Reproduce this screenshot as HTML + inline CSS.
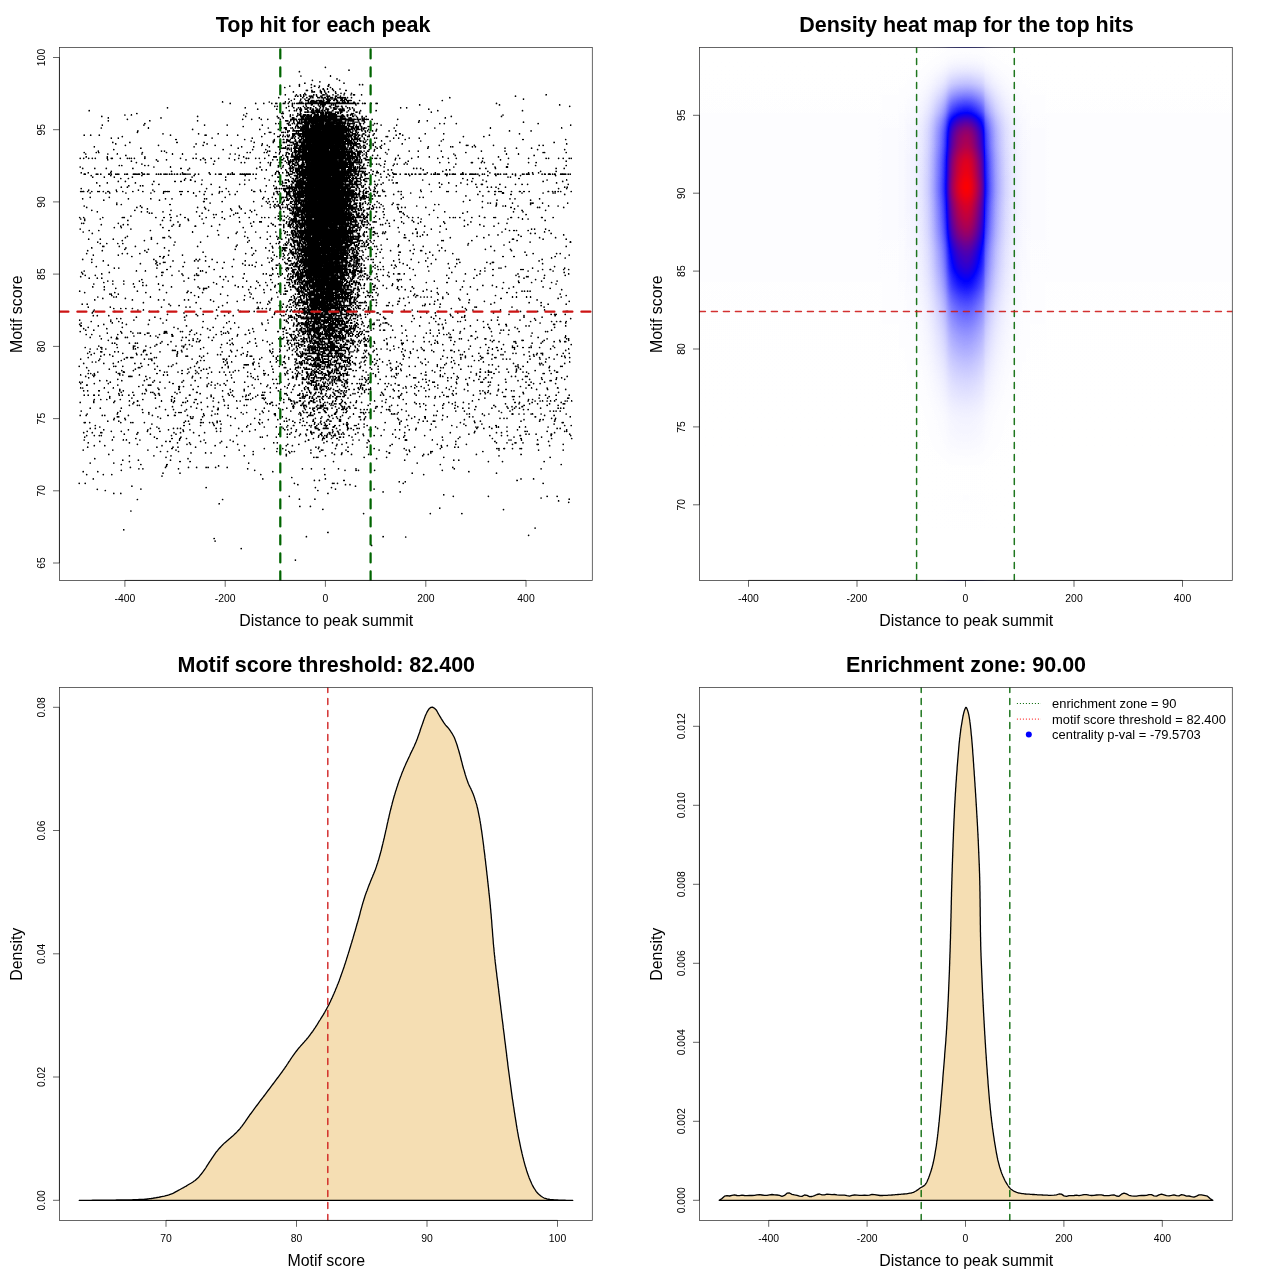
<!DOCTYPE html>
<html lang="en"><head><meta charset="utf-8"><title>Motif enrichment plots</title>
<style>html,body{margin:0;padding:0;background:#fff}svg{display:block}</style></head><body>
<svg width="1280" height="1280" viewBox="0 0 1280 1280">
<rect width="1280" height="1280" fill="#fff"/>
<defs><clipPath id="c00"><rect x="59.4" y="47.5" width="532.9" height="532.9"/></clipPath><clipPath id="c01"><rect x="59.4" y="687.5" width="532.9" height="532.9"/></clipPath><clipPath id="c10"><rect x="699.4" y="47.5" width="532.9" height="532.9"/></clipPath><clipPath id="c11"><rect x="699.4" y="687.5" width="532.9" height="532.9"/></clipPath><linearGradient id="gx" gradientUnits="userSpaceOnUse" x1="699.4" y1="0" x2="1232.3" y2="0"><stop offset="0.0000" stop-color="rgb(1,1,1)"/><stop offset="0.0751" stop-color="rgb(1,1,1)"/><stop offset="0.1501" stop-color="rgb(1,1,1)"/><stop offset="0.2252" stop-color="rgb(1,1,1)"/><stop offset="0.2553" stop-color="rgb(1,1,1)"/><stop offset="0.2666" stop-color="rgb(1,1,1)"/><stop offset="0.2778" stop-color="rgb(1,1,1)"/><stop offset="0.2891" stop-color="rgb(1,1,1)"/><stop offset="0.3002" stop-color="rgb(1,1,1)"/><stop offset="0.3003" stop-color="rgb(1,1,1)"/><stop offset="0.3116" stop-color="rgb(1,1,1)"/><stop offset="0.3229" stop-color="rgb(1,1,1)"/><stop offset="0.3341" stop-color="rgb(1,1,1)"/><stop offset="0.3454" stop-color="rgb(2,2,2)"/><stop offset="0.3566" stop-color="rgb(2,2,2)"/><stop offset="0.3679" stop-color="rgb(2,2,2)"/><stop offset="0.3716" stop-color="rgb(2,2,2)"/><stop offset="0.3753" stop-color="rgb(3,3,3)"/><stop offset="0.3754" stop-color="rgb(3,3,3)"/><stop offset="0.3792" stop-color="rgb(3,3,3)"/><stop offset="0.3829" stop-color="rgb(3,3,3)"/><stop offset="0.3867" stop-color="rgb(4,4,4)"/><stop offset="0.3904" stop-color="rgb(5,5,5)"/><stop offset="0.3942" stop-color="rgb(5,5,5)"/><stop offset="0.3979" stop-color="rgb(6,6,6)"/><stop offset="0.4017" stop-color="rgb(6,6,6)"/><stop offset="0.4054" stop-color="rgb(7,7,7)"/><stop offset="0.4092" stop-color="rgb(9,9,9)"/><stop offset="0.4129" stop-color="rgb(11,11,11)"/><stop offset="0.4167" stop-color="rgb(13,13,13)"/><stop offset="0.4204" stop-color="rgb(16,16,16)"/><stop offset="0.4242" stop-color="rgb(20,20,20)"/><stop offset="0.4279" stop-color="rgb(24,24,24)"/><stop offset="0.4317" stop-color="rgb(30,30,30)"/><stop offset="0.4354" stop-color="rgb(37,37,37)"/><stop offset="0.4392" stop-color="rgb(45,45,45)"/><stop offset="0.4430" stop-color="rgb(55,55,55)"/><stop offset="0.4467" stop-color="rgb(65,65,65)"/><stop offset="0.4504" stop-color="rgb(75,75,75)"/><stop offset="0.4505" stop-color="rgb(75,75,75)"/><stop offset="0.4542" stop-color="rgb(87,87,87)"/><stop offset="0.4580" stop-color="rgb(102,102,102)"/><stop offset="0.4617" stop-color="rgb(122,122,122)"/><stop offset="0.4655" stop-color="rgb(152,152,152)"/><stop offset="0.4692" stop-color="rgb(180,180,180)"/><stop offset="0.4730" stop-color="rgb(200,200,200)"/><stop offset="0.4767" stop-color="rgb(214,214,214)"/><stop offset="0.4805" stop-color="rgb(225,225,225)"/><stop offset="0.4842" stop-color="rgb(235,235,235)"/><stop offset="0.4880" stop-color="rgb(242,242,242)"/><stop offset="0.4917" stop-color="rgb(247,247,247)"/><stop offset="0.4955" stop-color="rgb(251,251,251)"/><stop offset="0.4992" stop-color="rgb(253,253,253)"/><stop offset="0.5030" stop-color="rgb(253,253,253)"/><stop offset="0.5068" stop-color="rgb(250,250,250)"/><stop offset="0.5105" stop-color="rgb(245,245,245)"/><stop offset="0.5143" stop-color="rgb(236,236,236)"/><stop offset="0.5180" stop-color="rgb(226,226,226)"/><stop offset="0.5218" stop-color="rgb(214,214,214)"/><stop offset="0.5254" stop-color="rgb(201,201,201)"/><stop offset="0.5255" stop-color="rgb(201,201,201)"/><stop offset="0.5293" stop-color="rgb(186,186,186)"/><stop offset="0.5330" stop-color="rgb(165,165,165)"/><stop offset="0.5368" stop-color="rgb(122,122,122)"/><stop offset="0.5405" stop-color="rgb(103,103,103)"/><stop offset="0.5443" stop-color="rgb(88,88,88)"/><stop offset="0.5480" stop-color="rgb(74,74,74)"/><stop offset="0.5518" stop-color="rgb(63,63,63)"/><stop offset="0.5555" stop-color="rgb(52,52,52)"/><stop offset="0.5593" stop-color="rgb(44,44,44)"/><stop offset="0.5631" stop-color="rgb(37,37,37)"/><stop offset="0.5668" stop-color="rgb(31,31,31)"/><stop offset="0.5706" stop-color="rgb(26,26,26)"/><stop offset="0.5743" stop-color="rgb(21,21,21)"/><stop offset="0.5781" stop-color="rgb(18,18,18)"/><stop offset="0.5818" stop-color="rgb(15,15,15)"/><stop offset="0.5856" stop-color="rgb(12,12,12)"/><stop offset="0.5893" stop-color="rgb(10,10,10)"/><stop offset="0.5931" stop-color="rgb(9,9,9)"/><stop offset="0.5968" stop-color="rgb(7,7,7)"/><stop offset="0.6005" stop-color="rgb(6,6,6)"/><stop offset="0.6006" stop-color="rgb(6,6,6)"/><stop offset="0.6043" stop-color="rgb(5,5,5)"/><stop offset="0.6081" stop-color="rgb(4,4,4)"/><stop offset="0.6118" stop-color="rgb(4,4,4)"/><stop offset="0.6156" stop-color="rgb(3,3,3)"/><stop offset="0.6193" stop-color="rgb(3,3,3)"/><stop offset="0.6231" stop-color="rgb(2,2,2)"/><stop offset="0.6269" stop-color="rgb(2,2,2)"/><stop offset="0.6306" stop-color="rgb(2,2,2)"/><stop offset="0.6344" stop-color="rgb(2,2,2)"/><stop offset="0.6456" stop-color="rgb(2,2,2)"/><stop offset="0.6569" stop-color="rgb(1,1,1)"/><stop offset="0.6681" stop-color="rgb(1,1,1)"/><stop offset="0.6755" stop-color="rgb(1,1,1)"/><stop offset="0.6794" stop-color="rgb(1,1,1)"/><stop offset="0.6907" stop-color="rgb(1,1,1)"/><stop offset="0.7019" stop-color="rgb(1,1,1)"/><stop offset="0.7132" stop-color="rgb(1,1,1)"/><stop offset="0.7244" stop-color="rgb(1,1,1)"/><stop offset="0.7357" stop-color="rgb(1,1,1)"/><stop offset="0.7506" stop-color="rgb(1,1,1)"/><stop offset="0.8257" stop-color="rgb(1,1,1)"/><stop offset="0.9007" stop-color="rgb(1,1,1)"/><stop offset="0.9758" stop-color="rgb(1,1,1)"/><stop offset="1.0000" stop-color="rgb(1,1,1)"/></linearGradient><linearGradient id="gy" gradientUnits="userSpaceOnUse" x1="0" y1="47.5" x2="0" y2="580.4"><stop offset="0.0000" stop-color="#000" stop-opacity="0.998"/><stop offset="0.0075" stop-color="#000" stop-opacity="0.996"/><stop offset="0.0150" stop-color="#000" stop-opacity="0.993"/><stop offset="0.0225" stop-color="#000" stop-opacity="0.988"/><stop offset="0.0300" stop-color="#000" stop-opacity="0.979"/><stop offset="0.0375" stop-color="#000" stop-opacity="0.967"/><stop offset="0.0450" stop-color="#000" stop-opacity="0.951"/><stop offset="0.0525" stop-color="#000" stop-opacity="0.929"/><stop offset="0.0600" stop-color="#000" stop-opacity="0.904"/><stop offset="0.0676" stop-color="#000" stop-opacity="0.877"/><stop offset="0.0751" stop-color="#000" stop-opacity="0.838"/><stop offset="0.0826" stop-color="#000" stop-opacity="0.793"/><stop offset="0.0901" stop-color="#000" stop-opacity="0.743"/><stop offset="0.0976" stop-color="#000" stop-opacity="0.688"/><stop offset="0.1051" stop-color="#000" stop-opacity="0.633"/><stop offset="0.1126" stop-color="#000" stop-opacity="0.576"/><stop offset="0.1201" stop-color="#000" stop-opacity="0.520"/><stop offset="0.1276" stop-color="#000" stop-opacity="0.444"/><stop offset="0.1351" stop-color="#000" stop-opacity="0.368"/><stop offset="0.1426" stop-color="#000" stop-opacity="0.306"/><stop offset="0.1501" stop-color="#000" stop-opacity="0.253"/><stop offset="0.1576" stop-color="#000" stop-opacity="0.213"/><stop offset="0.1651" stop-color="#000" stop-opacity="0.188"/><stop offset="0.1726" stop-color="#000" stop-opacity="0.171"/><stop offset="0.1801" stop-color="#000" stop-opacity="0.159"/><stop offset="0.1877" stop-color="#000" stop-opacity="0.141"/><stop offset="0.1952" stop-color="#000" stop-opacity="0.116"/><stop offset="0.2027" stop-color="#000" stop-opacity="0.090"/><stop offset="0.2102" stop-color="#000" stop-opacity="0.068"/><stop offset="0.2177" stop-color="#000" stop-opacity="0.054"/><stop offset="0.2252" stop-color="#000" stop-opacity="0.044"/><stop offset="0.2327" stop-color="#000" stop-opacity="0.036"/><stop offset="0.2402" stop-color="#000" stop-opacity="0.026"/><stop offset="0.2477" stop-color="#000" stop-opacity="0.014"/><stop offset="0.2552" stop-color="#000" stop-opacity="0.003"/><stop offset="0.2627" stop-color="#000" stop-opacity="0.000"/><stop offset="0.2702" stop-color="#000" stop-opacity="0.006"/><stop offset="0.2777" stop-color="#000" stop-opacity="0.020"/><stop offset="0.2852" stop-color="#000" stop-opacity="0.041"/><stop offset="0.2927" stop-color="#000" stop-opacity="0.062"/><stop offset="0.3002" stop-color="#000" stop-opacity="0.080"/><stop offset="0.3078" stop-color="#000" stop-opacity="0.096"/><stop offset="0.3153" stop-color="#000" stop-opacity="0.111"/><stop offset="0.3228" stop-color="#000" stop-opacity="0.127"/><stop offset="0.3303" stop-color="#000" stop-opacity="0.145"/><stop offset="0.3378" stop-color="#000" stop-opacity="0.164"/><stop offset="0.3453" stop-color="#000" stop-opacity="0.187"/><stop offset="0.3528" stop-color="#000" stop-opacity="0.213"/><stop offset="0.3603" stop-color="#000" stop-opacity="0.243"/><stop offset="0.3678" stop-color="#000" stop-opacity="0.276"/><stop offset="0.3753" stop-color="#000" stop-opacity="0.306"/><stop offset="0.3828" stop-color="#000" stop-opacity="0.332"/><stop offset="0.3903" stop-color="#000" stop-opacity="0.353"/><stop offset="0.3978" stop-color="#000" stop-opacity="0.371"/><stop offset="0.4053" stop-color="#000" stop-opacity="0.390"/><stop offset="0.4128" stop-color="#000" stop-opacity="0.410"/><stop offset="0.4203" stop-color="#000" stop-opacity="0.434"/><stop offset="0.4278" stop-color="#000" stop-opacity="0.461"/><stop offset="0.4354" stop-color="#000" stop-opacity="0.487"/><stop offset="0.4429" stop-color="#000" stop-opacity="0.511"/><stop offset="0.4504" stop-color="#000" stop-opacity="0.537"/><stop offset="0.4579" stop-color="#000" stop-opacity="0.568"/><stop offset="0.4654" stop-color="#000" stop-opacity="0.598"/><stop offset="0.4729" stop-color="#000" stop-opacity="0.624"/><stop offset="0.4804" stop-color="#000" stop-opacity="0.649"/><stop offset="0.4879" stop-color="#000" stop-opacity="0.672"/><stop offset="0.4954" stop-color="#000" stop-opacity="0.692"/><stop offset="0.5029" stop-color="#000" stop-opacity="0.711"/><stop offset="0.5104" stop-color="#000" stop-opacity="0.729"/><stop offset="0.5179" stop-color="#000" stop-opacity="0.746"/><stop offset="0.5254" stop-color="#000" stop-opacity="0.763"/><stop offset="0.5329" stop-color="#000" stop-opacity="0.779"/><stop offset="0.5404" stop-color="#000" stop-opacity="0.794"/><stop offset="0.5479" stop-color="#000" stop-opacity="0.807"/><stop offset="0.5555" stop-color="#000" stop-opacity="0.820"/><stop offset="0.5630" stop-color="#000" stop-opacity="0.832"/><stop offset="0.5705" stop-color="#000" stop-opacity="0.844"/><stop offset="0.5780" stop-color="#000" stop-opacity="0.856"/><stop offset="0.5855" stop-color="#000" stop-opacity="0.868"/><stop offset="0.5930" stop-color="#000" stop-opacity="0.879"/><stop offset="0.6005" stop-color="#000" stop-opacity="0.889"/><stop offset="0.6080" stop-color="#000" stop-opacity="0.899"/><stop offset="0.6155" stop-color="#000" stop-opacity="0.908"/><stop offset="0.6230" stop-color="#000" stop-opacity="0.917"/><stop offset="0.6305" stop-color="#000" stop-opacity="0.925"/><stop offset="0.6380" stop-color="#000" stop-opacity="0.932"/><stop offset="0.6455" stop-color="#000" stop-opacity="0.939"/><stop offset="0.6530" stop-color="#000" stop-opacity="0.945"/><stop offset="0.6605" stop-color="#000" stop-opacity="0.952"/><stop offset="0.6680" stop-color="#000" stop-opacity="0.958"/><stop offset="0.6755" stop-color="#000" stop-opacity="0.964"/><stop offset="0.6831" stop-color="#000" stop-opacity="0.969"/><stop offset="0.6906" stop-color="#000" stop-opacity="0.973"/><stop offset="0.6981" stop-color="#000" stop-opacity="0.976"/><stop offset="0.7056" stop-color="#000" stop-opacity="0.978"/><stop offset="0.7131" stop-color="#000" stop-opacity="0.980"/><stop offset="0.7206" stop-color="#000" stop-opacity="0.981"/><stop offset="0.7281" stop-color="#000" stop-opacity="0.983"/><stop offset="0.7356" stop-color="#000" stop-opacity="0.985"/><stop offset="0.7431" stop-color="#000" stop-opacity="0.987"/><stop offset="0.7506" stop-color="#000" stop-opacity="0.989"/><stop offset="0.7581" stop-color="#000" stop-opacity="0.992"/><stop offset="0.7656" stop-color="#000" stop-opacity="0.994"/><stop offset="0.7731" stop-color="#000" stop-opacity="0.996"/><stop offset="0.7806" stop-color="#000" stop-opacity="0.997"/><stop offset="0.7881" stop-color="#000" stop-opacity="0.999"/><stop offset="0.7956" stop-color="#000" stop-opacity="0.999"/><stop offset="0.8032" stop-color="#000" stop-opacity="0.999"/><stop offset="0.8107" stop-color="#000" stop-opacity="0.999"/><stop offset="0.8182" stop-color="#000" stop-opacity="0.999"/><stop offset="0.8257" stop-color="#000" stop-opacity="0.999"/><stop offset="0.8332" stop-color="#000" stop-opacity="0.999"/><stop offset="0.8407" stop-color="#000" stop-opacity="0.998"/><stop offset="0.8482" stop-color="#000" stop-opacity="0.998"/><stop offset="0.8557" stop-color="#000" stop-opacity="0.999"/><stop offset="0.8632" stop-color="#000" stop-opacity="0.999"/><stop offset="0.8707" stop-color="#000" stop-opacity="0.998"/><stop offset="0.8782" stop-color="#000" stop-opacity="0.999"/><stop offset="0.8857" stop-color="#000" stop-opacity="0.999"/><stop offset="0.8932" stop-color="#000" stop-opacity="0.999"/><stop offset="0.9007" stop-color="#000" stop-opacity="0.999"/><stop offset="0.9082" stop-color="#000" stop-opacity="1.000"/><stop offset="0.9157" stop-color="#000" stop-opacity="1.000"/><stop offset="0.9233" stop-color="#000" stop-opacity="1.000"/><stop offset="0.9308" stop-color="#000" stop-opacity="1.000"/><stop offset="0.9383" stop-color="#000" stop-opacity="1.000"/><stop offset="0.9458" stop-color="#000" stop-opacity="1.000"/><stop offset="0.9533" stop-color="#000" stop-opacity="1.000"/><stop offset="0.9608" stop-color="#000" stop-opacity="1.000"/><stop offset="0.9683" stop-color="#000" stop-opacity="1.000"/><stop offset="0.9758" stop-color="#000" stop-opacity="1.000"/><stop offset="0.9833" stop-color="#000" stop-opacity="1.000"/><stop offset="0.9908" stop-color="#000" stop-opacity="1.000"/><stop offset="0.9983" stop-color="#000" stop-opacity="1.000"/></linearGradient><filter id="ramp" filterUnits="userSpaceOnUse" x="699.4" y="47.5" width="532.9" height="532.9" color-interpolation-filters="sRGB"><feComponentTransfer><feFuncR type="table" tableValues="1 0 1"/><feFuncG type="table" tableValues="1 0 0"/><feFuncB type="table" tableValues="1 1 0"/></feComponentTransfer></filter></defs>
<g clip-path="url(#c00)"><path d="M325 67.5h1M299 71.5h1M330 75.5h1M330 76.5h1M312 80.5h1M339 80.5h1M304 83.5h1M299 84.5h1M311 84.5h1M328 84.5h1M359 84.5h1M362 84.5h1M299 85.5h1M299 86.5h1M314 86.5h1M319 86.5h1M328 86.5h1M284 87.5h1M311 87.5h1M318 87.5h1M330 87.5h1M323 88.5h1M327 88.5h1M332 88.5h1M323 89.5h1M327 89.5h1M332 89.5h1M306 90.5h2M311 90.5h1M320 90.5h1M324 90.5h1M333 90.5h1M345 90.5h2M293 91.5h1M312 91.5h1M314 91.5h1M320 91.5h2M324 91.5h1M328 91.5h1M335 91.5h1M321 92.5h1M304 93.5h1M321 93.5h1M325 93.5h1M335 93.5h1M344 93.5h1M351 93.5h1M285 94.5h1M296 94.5h1M300 94.5h1M303 94.5h1M305 94.5h1M313 94.5h1M316 94.5h1M323 94.5h1M353 94.5h2M361 94.5h1M546 94.5h1M300 95.5h1M303 95.5h1M316 95.5h1M295 96.5h1M297 96.5h1M300 96.5h1M303 96.5h1M309 96.5h1M311 96.5h1M321 96.5h1M327 96.5h1M329 96.5h1M335 96.5h2M340 96.5h1M515 96.5h1M278 97.5h1M302 97.5h1M306 97.5h1M310 97.5h1M312 97.5h1M317 97.5h3M321 97.5h2M324 97.5h2M327 97.5h1M330 97.5h3M335 97.5h1M337 97.5h4M342 97.5h4M347 97.5h1M351 97.5h1M449 97.5h1M335 98.5h1M340 98.5h1M342 98.5h1M294 99.5h1M300 99.5h1M308 99.5h2M323 99.5h1M326 99.5h4M334 99.5h3M341 99.5h2M344 99.5h3M523 99.5h1M291 100.5h1M300 100.5h1M305 100.5h4M311 100.5h3M316 100.5h6M323 100.5h1M327 100.5h4M333 100.5h2M336 100.5h2M340 100.5h5M346 100.5h6M359 100.5h1M442 100.5h1M222 101.5h1M285 101.5h1M289 101.5h1M308 101.5h1M310 101.5h7M319 101.5h5M326 101.5h4M337 101.5h1M342 101.5h1M344 101.5h1M347 101.5h2M299 102.5h1M301 102.5h1M308 102.5h1M310 102.5h7M319 102.5h11M336 102.5h4M342 102.5h4M347 102.5h2M353 102.5h2M230 103.5h1M255 103.5h1M263 103.5h1M271 103.5h1M275 103.5h2M283 103.5h2M288 103.5h1M292 103.5h1M294 103.5h1M296 103.5h8M305 103.5h51M357 103.5h2M362 103.5h1M364 103.5h2M371 103.5h1M376 103.5h2M496 103.5h1M292 104.5h1M305 104.5h1M311 104.5h2M318 104.5h1M320 104.5h6M331 104.5h1M333 104.5h1M335 104.5h1M355 104.5h1M419 104.5h1M499 104.5h1M559 104.5h1M292 105.5h1M322 105.5h2M335 105.5h1M274 106.5h1M277 106.5h1M288 106.5h1M292 106.5h1M303 106.5h1M306 106.5h1M313 106.5h1M319 106.5h1M322 106.5h2M329 106.5h2M335 106.5h1M338 106.5h1M341 106.5h1M569 106.5h1M167 107.5h1M245 107.5h1M286 107.5h1M293 107.5h1M298 107.5h1M300 107.5h1M304 107.5h1M307 107.5h2M310 107.5h1M315 107.5h1M320 107.5h1M323 107.5h1M333 107.5h2M342 107.5h1M347 107.5h1M349 107.5h1M352 107.5h1M400 107.5h1M406 107.5h1M300 108.5h1M310 108.5h1M334 108.5h1M342 108.5h1M257 109.5h1M276 109.5h1M296 109.5h1M299 109.5h3M305 109.5h2M310 109.5h1M312 109.5h2M316 109.5h2M319 109.5h1M326 109.5h3M334 109.5h2M339 109.5h2M342 109.5h2M428 109.5h1M89 110.5h1M289 110.5h1M294 110.5h1M296 110.5h1M300 110.5h2M307 110.5h1M311 110.5h3M315 110.5h5M321 110.5h2M324 110.5h1M327 110.5h1M332 110.5h1M339 110.5h3M343 110.5h2M348 110.5h1M354 110.5h1M360 110.5h1M376 110.5h1M437 110.5h1M522 110.5h1M300 111.5h1M313 111.5h1M316 111.5h4M322 111.5h1M327 111.5h1M341 111.5h1M300 112.5h1M305 112.5h1M307 112.5h1M311 112.5h4M316 112.5h8M325 112.5h7M335 112.5h1M337 112.5h2M340 112.5h2M356 112.5h1M359 112.5h1M431 112.5h1M136 113.5h1M246 113.5h1M281 113.5h3M297 113.5h1M300 113.5h1M312 113.5h3M317 113.5h1M320 113.5h4M325 113.5h11M337 113.5h2M340 113.5h1M351 113.5h3M359 113.5h1M131 114.5h1M290 114.5h1M299 114.5h2M303 114.5h3M307 114.5h2M311 114.5h1M314 114.5h5M321 114.5h3M325 114.5h2M328 114.5h9M342 114.5h1M347 114.5h1M350 114.5h3M290 115.5h1M297 115.5h1M300 115.5h1M303 115.5h3M307 115.5h2M310 115.5h2M314 115.5h5M320 115.5h7M328 115.5h9M341 115.5h3M347 115.5h1M350 115.5h1M352 115.5h1M101 116.5h1M197 116.5h1M245 116.5h1M277 116.5h1M282 116.5h1M290 116.5h1M296 116.5h1M300 116.5h5M306 116.5h6M313 116.5h32M347 116.5h1M352 116.5h2M356 116.5h1M362 116.5h1M366 116.5h1M451 116.5h1M501 116.5h1M108 117.5h1M259 117.5h1M278 117.5h1M283 117.5h1M292 117.5h2M301 117.5h3M305 117.5h1M307 117.5h2M310 117.5h20M331 117.5h6M340 117.5h1M342 117.5h1M350 117.5h1M357 117.5h1M445 117.5h1M292 118.5h2M301 118.5h3M305 118.5h22M328 118.5h9M340 118.5h6M349 118.5h3M357 118.5h1M362 118.5h1M364 118.5h1M127 119.5h1M242 119.5h1M251 119.5h1M261 119.5h1M267 119.5h1M280 119.5h1M290 119.5h7M298 119.5h58M357 119.5h4M362 119.5h7M372 119.5h1M397 119.5h1M108 120.5h1M149 120.5h1M197 120.5h1M285 120.5h3M290 120.5h1M293 120.5h1M296 120.5h1M299 120.5h1M301 120.5h1M304 120.5h3M308 120.5h22M333 120.5h4M339 120.5h3M345 120.5h1M348 120.5h1M350 120.5h2M353 120.5h1M358 120.5h1M363 120.5h1M419 120.5h1M427 120.5h1M293 121.5h1M299 121.5h1M301 121.5h1M304 121.5h3M308 121.5h16M325 121.5h5M333 121.5h2M336 121.5h1M339 121.5h3M345 121.5h1M353 121.5h1M364 121.5h1M289 122.5h1M293 122.5h1M297 122.5h3M301 122.5h8M310 122.5h8M319 122.5h5M326 122.5h9M336 122.5h7M344 122.5h2M364 122.5h1M418 122.5h1M523 122.5h1M144 123.5h1M275 123.5h1M278 123.5h1M287 123.5h2M292 123.5h1M294 123.5h1M297 123.5h5M304 123.5h6M311 123.5h13M325 123.5h16M342 123.5h4M347 123.5h8M359 123.5h2M363 123.5h1M374 123.5h1M377 123.5h1M439 123.5h1M444 123.5h1M456 123.5h1M538 123.5h1M288 124.5h1M297 124.5h1M305 124.5h4M312 124.5h2M315 124.5h9M325 124.5h9M336 124.5h5M342 124.5h1M344 124.5h1M347 124.5h1M349 124.5h1M360 124.5h1M102 125.5h1M204 125.5h1M262 125.5h1M290 125.5h1M296 125.5h2M303 125.5h6M310 125.5h35M347 125.5h3M353 125.5h1M356 125.5h1M360 125.5h1M370 125.5h1M396 125.5h1M570 125.5h1M243 126.5h1M295 126.5h1M297 126.5h2M300 126.5h1M302 126.5h7M310 126.5h37M348 126.5h6M355 126.5h4M361 126.5h1M368 126.5h2M148 127.5h1M281 127.5h1M284 127.5h3M292 127.5h1M295 127.5h1M298 127.5h2M301 127.5h8M311 127.5h36M348 127.5h1M351 127.5h3M355 127.5h4M361 127.5h1M364 127.5h1M490 127.5h1M561 127.5h1M148 128.5h1M285 128.5h2M301 128.5h8M310 128.5h39M351 128.5h4M356 128.5h3M361 128.5h1M363 128.5h2M490 128.5h1M192 129.5h1M259 129.5h1M278 129.5h1M285 129.5h2M293 129.5h1M300 129.5h53M354 129.5h1M356 129.5h4M361 129.5h1M363 129.5h1M368 129.5h1M376 129.5h1M289 130.5h1M294 130.5h1M296 130.5h8M305 130.5h16M322 130.5h21M344 130.5h6M355 130.5h2M361 130.5h1M367 130.5h1M372 130.5h1M376 130.5h1M395 130.5h1M509 130.5h1M137 131.5h1M287 131.5h1M296 131.5h1M298 131.5h1M302 131.5h42M345 131.5h2M348 131.5h1M350 131.5h1M365 131.5h1M137 132.5h1M269 132.5h2M281 132.5h3M285 132.5h1M287 132.5h1M296 132.5h1M298 132.5h1M302 132.5h42M345 132.5h2M348 132.5h1M350 132.5h3M356 132.5h1M358 132.5h1M365 132.5h1M369 132.5h1M198 133.5h1M218 133.5h1M264 133.5h1M274 133.5h1M292 133.5h52M346 133.5h2M349 133.5h1M352 133.5h4M357 133.5h1M363 133.5h1M374 133.5h1M399 133.5h2M425 133.5h1M443 133.5h1M519 133.5h1M292 134.5h3M298 134.5h3M302 134.5h42M347 134.5h1M349 134.5h1M352 134.5h1M355 134.5h1M84 135.5h1M90 135.5h1M99 135.5h1M170 135.5h1M205 135.5h1M227 135.5h1M237 135.5h1M280 135.5h1M283 135.5h1M287 135.5h1M289 135.5h1M292 135.5h3M298 135.5h3M302 135.5h44M347 135.5h6M355 135.5h2M358 135.5h2M365 135.5h1M396 135.5h1M402 135.5h1M489 135.5h1M122 136.5h1M261 136.5h1M277 136.5h3M282 136.5h1M285 136.5h1M287 136.5h2M292 136.5h2M295 136.5h1M299 136.5h53M354 136.5h2M358 136.5h1M362 136.5h1M367 136.5h3M386 136.5h2M463 136.5h1M483 136.5h1M292 137.5h1M301 137.5h1M303 137.5h1M305 137.5h42M348 137.5h1M351 137.5h1M354 137.5h2M111 138.5h1M118 138.5h1M252 138.5h1M291 138.5h2M294 138.5h1M298 138.5h1M301 138.5h3M305 138.5h43M351 138.5h2M354 138.5h4M359 138.5h1M364 138.5h1M374 138.5h1M376 138.5h1M393 138.5h1M398 138.5h1M419 138.5h1M175 139.5h2M244 139.5h1M274 139.5h1M283 139.5h1M286 139.5h2M290 139.5h1M295 139.5h1M299 139.5h3M303 139.5h47M351 139.5h9M364 139.5h1M367 139.5h1M405 139.5h1M443 139.5h1M522 139.5h2M565 139.5h1M274 140.5h1M287 140.5h3M295 140.5h1M299 140.5h2M303 140.5h41M345 140.5h7M353 140.5h1M357 140.5h1M359 140.5h2M381 140.5h1M273 141.5h1M286 141.5h1M288 141.5h2M295 141.5h1M299 141.5h2M303 141.5h49M354 141.5h1M357 141.5h1M360 141.5h1M363 141.5h1M370 141.5h1M112 142.5h1M129 142.5h1M176 142.5h2M204 142.5h1M254 142.5h1M273 142.5h1M279 142.5h1M283 142.5h2M286 142.5h1M290 142.5h4M296 142.5h2M299 142.5h47M347 142.5h6M354 142.5h3M363 142.5h3M370 142.5h1M375 142.5h1M459 142.5h1M554 142.5h1M115 143.5h1M262 143.5h1M293 143.5h1M295 143.5h3M301 143.5h4M306 143.5h5M312 143.5h32M345 143.5h6M353 143.5h1M355 143.5h1M357 143.5h3M370 143.5h1M384 143.5h1M402 143.5h1M566 143.5h1M294 144.5h1M296 144.5h2M301 144.5h3M306 144.5h15M322 144.5h12M335 144.5h6M342 144.5h3M348 144.5h1M350 144.5h1M353 144.5h1M355 144.5h2M125 145.5h1M158 145.5h1M203 145.5h1M215 145.5h1M231 145.5h1M261 145.5h1M267 145.5h1M281 145.5h1M287 145.5h3M291 145.5h1M294 145.5h1M296 145.5h3M300 145.5h41M342 145.5h3M348 145.5h1M350 145.5h2M353 145.5h4M360 145.5h1M363 145.5h2M369 145.5h1M373 145.5h1M381 145.5h1M439 145.5h1M466 145.5h2M474 145.5h1M493 145.5h1M539 145.5h1M543 145.5h1M94 146.5h1M241 146.5h1M253 146.5h1M269 146.5h1M278 146.5h2M285 146.5h1M294 146.5h3M299 146.5h47M352 146.5h2M357 146.5h1M365 146.5h1M375 146.5h1M380 146.5h1M428 146.5h1M450 146.5h1M452 146.5h1M472 146.5h1M475 146.5h1M285 147.5h1M294 147.5h3M299 147.5h2M302 147.5h37M340 147.5h6M352 147.5h2M365 147.5h1M140 148.5h1M238 148.5h1M281 148.5h5M287 148.5h2M291 148.5h1M293 148.5h8M302 148.5h37M340 148.5h7M349 148.5h1M351 148.5h3M358 148.5h1M360 148.5h1M364 148.5h1M377 148.5h1M381 148.5h1M427 148.5h1M516 148.5h1M531 148.5h1M113 149.5h1M223 149.5h1M252 149.5h1M265 149.5h1M279 149.5h1M287 149.5h1M289 149.5h1M291 149.5h1M294 149.5h2M298 149.5h31M330 149.5h18M349 149.5h1M351 149.5h1M354 149.5h1M356 149.5h1M369 149.5h1M374 149.5h1M388 149.5h1M537 149.5h1M564 149.5h1M291 150.5h1M294 150.5h3M298 150.5h3M302 150.5h5M308 150.5h21M330 150.5h10M341 150.5h4M346 150.5h1M351 150.5h1M356 150.5h1M374 150.5h1M98 151.5h1M161 151.5h1M164 151.5h1M267 151.5h1M269 151.5h1M280 151.5h1M291 151.5h1M294 151.5h13M308 151.5h45M357 151.5h5M367 151.5h2M418 151.5h1M441 151.5h1M481 151.5h1M84 152.5h1M96 152.5h1M98 152.5h1M142 152.5h1M166 152.5h1M247 152.5h1M250 152.5h1M264 152.5h1M266 152.5h1M275 152.5h1M279 152.5h1M286 152.5h2M292 152.5h1M294 152.5h3M298 152.5h57M357 152.5h4M362 152.5h1M366 152.5h1M385 152.5h1M465 152.5h1M543 152.5h2M566 152.5h1M117 153.5h1M172 153.5h1M182 153.5h1M279 153.5h1M286 153.5h1M288 153.5h2M292 153.5h1M295 153.5h1M298 153.5h2M302 153.5h44M347 153.5h3M351 153.5h5M357 153.5h3M366 153.5h1M506 153.5h1M518 153.5h1M172 154.5h1M182 154.5h1M292 154.5h1M295 154.5h1M297 154.5h2M302 154.5h48M351 154.5h2M354 154.5h2M357 154.5h3M366 154.5h1M506 154.5h1M518 154.5h1M125 155.5h1M239 155.5h1M268 155.5h1M282 155.5h1M285 155.5h1M291 155.5h2M295 155.5h3M299 155.5h54M355 155.5h1M357 155.5h3M362 155.5h1M366 155.5h1M372 155.5h1M377 155.5h1M398 155.5h1M455 155.5h1M534 155.5h1M86 156.5h1M107 156.5h1M243 156.5h1M273 156.5h4M281 156.5h1M287 156.5h1M291 156.5h2M294 156.5h2M297 156.5h49M347 156.5h4M352 156.5h5M359 156.5h1M366 156.5h1M418 156.5h1M429 156.5h1M442 156.5h1M498 156.5h1M107 157.5h1M287 157.5h1M294 157.5h6M301 157.5h5M307 157.5h3M311 157.5h34M347 157.5h4M352 157.5h2M356 157.5h2M80 158.5h1M83 158.5h1M88 158.5h1M92 158.5h1M95 158.5h1M107 158.5h1M111 158.5h2M120 158.5h1M127 158.5h1M129 158.5h1M131 158.5h1M134 158.5h1M144 158.5h1M180 158.5h1M193 158.5h1M196 158.5h1M203 158.5h1M211 158.5h1M218 158.5h1M229 158.5h1M238 158.5h1M246 158.5h1M248 158.5h1M255 158.5h1M259 158.5h1M264 158.5h1M283 158.5h1M287 158.5h1M294 158.5h6M301 158.5h44M346 158.5h9M356 158.5h2M360 158.5h1M364 158.5h2M372 158.5h1M375 158.5h2M380 158.5h1M395 158.5h1M399 158.5h1M411 158.5h1M437 158.5h1M448 158.5h1M456 158.5h1M478 158.5h1M482 158.5h1M508 158.5h1M528 158.5h1M546 158.5h1M548 158.5h1M558 158.5h1M563 158.5h1M569 158.5h1M571 158.5h1M107 159.5h1M156 159.5h1M166 159.5h1M200 159.5h1M205 159.5h1M234 159.5h1M272 159.5h1M277 159.5h1M281 159.5h2M287 159.5h1M290 159.5h1M292 159.5h45M339 159.5h4M345 159.5h6M352 159.5h1M355 159.5h3M359 159.5h1M361 159.5h1M365 159.5h5M395 159.5h1M500 159.5h1M290 160.5h1M292 160.5h2M296 160.5h1M298 160.5h1M302 160.5h1M305 160.5h32M339 160.5h4M345 160.5h1M348 160.5h3M355 160.5h2M359 160.5h1M361 160.5h1M131 161.5h1M214 161.5h1M285 161.5h1M288 161.5h6M296 161.5h1M298 161.5h1M302 161.5h1M305 161.5h5M311 161.5h27M339 161.5h7M348 161.5h3M354 161.5h1M359 161.5h1M361 161.5h1M385 161.5h1M408 161.5h1M482 161.5h1M566 161.5h1M136 162.5h1M205 162.5h1M241 162.5h1M244 162.5h1M260 162.5h1M268 162.5h1M270 162.5h1M279 162.5h1M281 162.5h1M286 162.5h1M288 162.5h3M292 162.5h1M295 162.5h3M302 162.5h2M305 162.5h57M368 162.5h1M370 162.5h1M405 162.5h1M439 162.5h1M448 162.5h1M471 162.5h2M481 162.5h1M484 162.5h1M528 162.5h1M536 162.5h1M270 163.5h1M288 163.5h2M292 163.5h2M297 163.5h1M302 163.5h2M306 163.5h42M349 163.5h5M370 163.5h1M213 164.5h1M270 164.5h1M288 164.5h2M292 164.5h3M297 164.5h2M301 164.5h4M306 164.5h48M359 164.5h1M363 164.5h1M370 164.5h1M376 164.5h1M384 164.5h1M119 165.5h1M121 165.5h1M144 165.5h1M148 165.5h1M270 165.5h1M278 165.5h1M283 165.5h1M289 165.5h1M291 165.5h1M294 165.5h3M298 165.5h6M306 165.5h42M349 165.5h5M360 165.5h1M363 165.5h1M367 165.5h1M370 165.5h1M380 165.5h1M393 165.5h1M535 165.5h1M566 165.5h1M170 166.5h1M278 166.5h1M290 166.5h1M292 166.5h1M298 166.5h54M353 166.5h1M355 166.5h1M357 166.5h1M359 166.5h1M362 166.5h1M506 166.5h2M170 167.5h1M290 167.5h1M292 167.5h2M298 167.5h1M300 167.5h3M304 167.5h48M353 167.5h3M357 167.5h1M359 167.5h1M362 167.5h1M495 167.5h1M506 167.5h2M82 168.5h1M94 168.5h1M106 168.5h1M132 168.5h1M180 168.5h2M189 168.5h1M256 168.5h1M281 168.5h1M289 168.5h4M295 168.5h8M305 168.5h41M348 168.5h4M353 168.5h3M357 168.5h1M359 168.5h7M413 168.5h1M416 168.5h1M420 168.5h1M479 168.5h1M485 168.5h1M495 168.5h1M556 168.5h1M564 168.5h1M261 169.5h1M266 169.5h1M285 169.5h1M290 169.5h1M293 169.5h1M295 169.5h5M302 169.5h1M304 169.5h35M341 169.5h5M347 169.5h6M354 169.5h3M359 169.5h1M391 169.5h1M423 169.5h1M446 169.5h1M449 169.5h1M290 170.5h1M295 170.5h5M301 170.5h5M307 170.5h32M341 170.5h2M344 170.5h2M348 170.5h3M353 170.5h2M359 170.5h1M111 171.5h1M171 171.5h1M276 171.5h3M286 171.5h1M290 171.5h3M295 171.5h48M344 171.5h3M348 171.5h9M358 171.5h6M365 171.5h1M373 171.5h1M377 171.5h1M384 171.5h1M442 171.5h1M487 171.5h1M540 171.5h1M556 171.5h1M81 172.5h1M88 172.5h1M110 172.5h1M141 172.5h1M182 172.5h1M209 172.5h1M232 172.5h1M275 172.5h1M278 172.5h2M282 172.5h1M286 172.5h3M292 172.5h3M296 172.5h2M299 172.5h52M355 172.5h1M358 172.5h1M362 172.5h1M364 172.5h1M369 172.5h1M376 172.5h3M392 172.5h1M427 172.5h1M435 172.5h1M462 172.5h1M528 172.5h1M532 172.5h1M538 172.5h1M232 173.5h1M275 173.5h1M279 173.5h1M288 173.5h1M297 173.5h1M299 173.5h47M347 173.5h2M350 173.5h1M355 173.5h1M358 173.5h1M364 173.5h1M435 173.5h1M462 173.5h1M528 173.5h1M84 174.5h2M96 174.5h2M100 174.5h1M108 174.5h2M111 174.5h1M115 174.5h4M124 174.5h1M126 174.5h2M133 174.5h7M144 174.5h1M147 174.5h1M156 174.5h1M158 174.5h1M160 174.5h1M165 174.5h1M169 174.5h1M171 174.5h1M174 174.5h1M177 174.5h1M180 174.5h1M183 174.5h3M198 174.5h1M210 174.5h1M215 174.5h1M219 174.5h3M227 174.5h2M230 174.5h1M232 174.5h3M240 174.5h11M253 174.5h1M256 174.5h1M275 174.5h1M279 174.5h1M288 174.5h4M297 174.5h49M347 174.5h2M350 174.5h3M355 174.5h1M357 174.5h2M364 174.5h3M372 174.5h1M380 174.5h1M388 174.5h1M393 174.5h4M400 174.5h1M405 174.5h2M408 174.5h1M411 174.5h2M415 174.5h1M419 174.5h2M424 174.5h2M431 174.5h1M433 174.5h3M437 174.5h3M445 174.5h3M449 174.5h1M452 174.5h4M460 174.5h4M465 174.5h1M469 174.5h5M475 174.5h1M482 174.5h1M484 174.5h1M495 174.5h1M497 174.5h2M500 174.5h1M506 174.5h1M512 174.5h1M515 174.5h1M522 174.5h1M526 174.5h3M544 174.5h2M548 174.5h3M552 174.5h1M554 174.5h2M560 174.5h6M568 174.5h1M570 174.5h1M91 175.5h1M110 175.5h1M141 175.5h1M194 175.5h1M245 175.5h1M272 175.5h1M286 175.5h2M289 175.5h1M294 175.5h4M299 175.5h56M357 175.5h2M361 175.5h1M365 175.5h1M375 175.5h1M389 175.5h1M409 175.5h1M446 175.5h1M479 175.5h1M487 175.5h1M495 175.5h1M515 175.5h1M520 175.5h1M555 175.5h1M296 176.5h2M299 176.5h1M302 176.5h4M307 176.5h24M332 176.5h13M346 176.5h1M348 176.5h2M92 177.5h1M104 177.5h1M114 177.5h1M132 177.5h1M225 177.5h1M278 177.5h1M296 177.5h2M299 177.5h1M302 177.5h49M352 177.5h2M355 177.5h2M360 177.5h1M386 177.5h1M510 177.5h1M120 178.5h1M128 178.5h1M185 178.5h1M255 178.5h1M264 178.5h1M292 178.5h2M295 178.5h3M300 178.5h50M351 178.5h10M365 178.5h4M462 178.5h1M472 178.5h1M518 178.5h2M184 179.5h1M190 179.5h1M225 179.5h1M285 179.5h1M288 179.5h1M293 179.5h1M295 179.5h1M299 179.5h2M302 179.5h2M306 179.5h42M349 179.5h2M352 179.5h2M356 179.5h1M360 179.5h1M363 179.5h2M467 179.5h1M566 179.5h1M184 180.5h1M190 180.5h1M288 180.5h1M294 180.5h2M297 180.5h5M303 180.5h1M306 180.5h42M349 180.5h4M356 180.5h2M363 180.5h2M118 181.5h1M125 181.5h1M153 181.5h1M174 181.5h2M180 181.5h2M195 181.5h1M275 181.5h1M278 181.5h1M282 181.5h1M288 181.5h2M291 181.5h2M294 181.5h12M307 181.5h46M355 181.5h6M365 181.5h2M374 181.5h1M471 181.5h1M486 181.5h1M543 181.5h1M562 181.5h1M96 182.5h1M107 182.5h1M135 182.5h1M282 182.5h1M285 182.5h2M292 182.5h2M296 182.5h47M345 182.5h1M349 182.5h3M354 182.5h3M396 182.5h2M439 182.5h1M448 182.5h1M556 182.5h1M296 183.5h48M345 183.5h1M350 183.5h1M352 183.5h1M354 183.5h3M152 184.5h1M158 184.5h1M201 184.5h1M211 184.5h1M239 184.5h1M244 184.5h1M281 184.5h1M291 184.5h1M295 184.5h49M345 184.5h4M350 184.5h11M365 184.5h1M369 184.5h1M375 184.5h1M377 184.5h1M381 184.5h1M429 184.5h1M441 184.5h1M467 184.5h1M475 184.5h1M481 184.5h2M499 184.5h1M515 184.5h1M522 184.5h1M527 184.5h1M568 184.5h1M99 185.5h1M128 185.5h1M140 185.5h1M142 185.5h1M266 185.5h1M273 185.5h1M282 185.5h3M286 185.5h1M289 185.5h1M291 185.5h1M295 185.5h8M305 185.5h38M345 185.5h5M352 185.5h1M356 185.5h2M361 185.5h1M363 185.5h1M376 185.5h1M456 185.5h1M289 186.5h1M291 186.5h1M295 186.5h8M305 186.5h38M345 186.5h3M352 186.5h1M357 186.5h1M363 186.5h1M121 187.5h1M127 187.5h1M219 187.5h1M276 187.5h1M287 187.5h27M315 187.5h33M350 187.5h2M353 187.5h2M357 187.5h1M362 187.5h1M374 187.5h1M439 187.5h1M487 187.5h1M491 187.5h1M505 187.5h1M564 187.5h1M567 187.5h1M81 188.5h1M206 188.5h1M226 188.5h1M274 188.5h3M279 188.5h1M281 188.5h1M283 188.5h10M294 188.5h3M298 188.5h53M356 188.5h1M359 188.5h1M365 188.5h2M369 188.5h1M375 188.5h1M498 188.5h1M558 188.5h1M566 188.5h1M283 189.5h3M289 189.5h1M292 189.5h3M296 189.5h1M299 189.5h1M301 189.5h2M304 189.5h36M341 189.5h5M347 189.5h3M356 189.5h1M88 190.5h1M116 190.5h1M138 190.5h1M251 190.5h1M260 190.5h1M284 190.5h2M289 190.5h1M292 190.5h1M294 190.5h3M299 190.5h1M301 190.5h45M347 190.5h7M356 190.5h1M359 190.5h1M363 190.5h1M370 190.5h1M382 190.5h1M420 190.5h1M80 191.5h4M87 191.5h1M91 191.5h1M97 191.5h3M103 191.5h1M107 191.5h2M116 191.5h1M122 191.5h1M132 191.5h1M142 191.5h1M154 191.5h1M163 191.5h7M179 191.5h4M187 191.5h2M199 191.5h1M205 191.5h1M219 191.5h1M222 191.5h1M228 191.5h1M237 191.5h1M253 191.5h2M260 191.5h1M265 191.5h1M276 191.5h2M279 191.5h1M284 191.5h3M288 191.5h4M293 191.5h3M297 191.5h58M359 191.5h2M363 191.5h1M366 191.5h3M373 191.5h3M377 191.5h1M383 191.5h2M398 191.5h1M401 191.5h1M421 191.5h1M431 191.5h1M446 191.5h3M456 191.5h1M479 191.5h1M488 191.5h1M494 191.5h2M498 191.5h4M511 191.5h1M519 191.5h2M523 191.5h2M529 191.5h1M548 191.5h1M552 191.5h1M555 191.5h1M558 191.5h1M560 191.5h1M571 191.5h1M109 192.5h1M163 192.5h1M193 192.5h1M219 192.5h1M277 192.5h1M286 192.5h4M293 192.5h1M295 192.5h1M297 192.5h57M355 192.5h1M359 192.5h1M363 192.5h1M365 192.5h2M377 192.5h1M502 192.5h2M163 193.5h1M193 193.5h1M287 193.5h3M293 193.5h2M296 193.5h61M358 193.5h2M363 193.5h1M365 193.5h2M502 193.5h2M180 194.5h2M204 194.5h1M212 194.5h1M229 194.5h1M235 194.5h1M273 194.5h1M278 194.5h1M286 194.5h4M293 194.5h11M305 194.5h55M363 194.5h1M369 194.5h1M374 194.5h1M393 194.5h1M401 194.5h1M477 194.5h1M494 194.5h1M510 194.5h2M564 194.5h1M286 195.5h1M289 195.5h1M293 195.5h3M297 195.5h46M344 195.5h3M349 195.5h3M353 195.5h1M356 195.5h1M362 195.5h1M364 195.5h1M370 195.5h1M378 195.5h1M385 195.5h1M286 196.5h1M290 196.5h1M294 196.5h2M297 196.5h7M305 196.5h39M345 196.5h4M351 196.5h2M356 196.5h1M363 196.5h2M366 196.5h1M90 197.5h1M109 197.5h1M225 197.5h1M263 197.5h1M272 197.5h1M281 197.5h3M285 197.5h2M290 197.5h2M294 197.5h10M305 197.5h39M345 197.5h4M351 197.5h7M360 197.5h5M366 197.5h3M403 197.5h1M419 197.5h1M423 197.5h1M82 198.5h1M128 198.5h1M150 198.5h1M165 198.5h1M204 198.5h1M206 198.5h1M262 198.5h1M268 198.5h1M275 198.5h1M281 198.5h1M287 198.5h1M289 198.5h1M291 198.5h2M295 198.5h2M298 198.5h2M304 198.5h47M354 198.5h1M360 198.5h2M363 198.5h3M369 198.5h2M372 198.5h1M401 198.5h1M539 198.5h1M287 199.5h1M295 199.5h2M298 199.5h2M304 199.5h42M347 199.5h4M354 199.5h1M360 199.5h1M369 199.5h1M103 200.5h1M159 200.5h1M284 200.5h1M286 200.5h3M293 200.5h1M295 200.5h12M308 200.5h9M318 200.5h28M347 200.5h4M354 200.5h1M356 200.5h2M360 200.5h1M469 200.5h1M530 200.5h1M203 201.5h2M222 201.5h1M253 201.5h1M266 201.5h1M269 201.5h1M273 201.5h1M277 201.5h1M283 201.5h1M290 201.5h3M294 201.5h6M301 201.5h51M354 201.5h1M365 201.5h1M377 201.5h1M463 201.5h1M482 201.5h1M282 202.5h1M290 202.5h1M294 202.5h1M296 202.5h1M298 202.5h4M303 202.5h1M305 202.5h43M350 202.5h1M267 203.5h1M282 203.5h1M290 203.5h2M295 203.5h2M298 203.5h4M303 203.5h1M305 203.5h43M349 203.5h2M354 203.5h3M359 203.5h2M362 203.5h1M365 203.5h1M368 203.5h1M490 203.5h1M496 203.5h1M512 203.5h1M530 203.5h1M532 203.5h1M542 203.5h1M567 203.5h1M116 204.5h1M121 204.5h1M169 204.5h2M270 204.5h1M274 204.5h2M278 204.5h1M281 204.5h2M286 204.5h1M288 204.5h1M292 204.5h6M300 204.5h51M353 204.5h4M360 204.5h1M362 204.5h1M367 204.5h1M370 204.5h1M374 204.5h1M381 204.5h1M392 204.5h1M397 204.5h2M434 204.5h1M438 204.5h1M496 204.5h1M530 204.5h1M140 205.5h1M278 205.5h1M287 205.5h1M294 205.5h1M296 205.5h1M301 205.5h52M356 205.5h1M359 205.5h2M372 205.5h1M496 205.5h1M505 205.5h1M548 205.5h1M239 206.5h1M287 206.5h1M294 206.5h1M296 206.5h1M302 206.5h51M356 206.5h1M359 206.5h2M372 206.5h1M505 206.5h1M86 207.5h1M136 207.5h1M141 207.5h1M197 207.5h1M204 207.5h1M239 207.5h1M270 207.5h1M274 207.5h1M279 207.5h2M282 207.5h1M285 207.5h1M287 207.5h1M291 207.5h10M303 207.5h44M348 207.5h9M360 207.5h1M363 207.5h1M369 207.5h1M373 207.5h1M376 207.5h1M379 207.5h1M397 207.5h1M401 207.5h1M405 207.5h1M425 207.5h1M482 207.5h1M510 207.5h2M537 207.5h1M539 207.5h1M563 207.5h1M147 208.5h1M205 208.5h1M230 208.5h1M241 208.5h1M280 208.5h1M287 208.5h1M289 208.5h1M293 208.5h1M295 208.5h6M302 208.5h49M352 208.5h3M358 208.5h1M360 208.5h2M368 208.5h2M371 208.5h1M373 208.5h1M398 208.5h1M514 208.5h1M289 209.5h1M293 209.5h1M296 209.5h5M302 209.5h41M344 209.5h1M346 209.5h2M351 209.5h2M355 209.5h1M358 209.5h1M91 210.5h1M134 210.5h1M208 210.5h1M231 210.5h1M250 210.5h1M254 210.5h1M289 210.5h3M293 210.5h1M296 210.5h47M344 210.5h1M346 210.5h2M351 210.5h2M355 210.5h1M358 210.5h2M361 210.5h1M363 210.5h2M433 210.5h1M522 210.5h1M545 210.5h1M97 211.5h1M141 211.5h1M147 211.5h1M196 211.5h1M222 211.5h1M251 211.5h1M283 211.5h1M292 211.5h2M295 211.5h1M297 211.5h47M345 211.5h2M348 211.5h1M353 211.5h4M363 211.5h1M376 211.5h1M383 211.5h1M399 211.5h3M444 211.5h1M467 211.5h1M513 211.5h1M292 212.5h2M295 212.5h1M297 212.5h2M301 212.5h4M306 212.5h38M345 212.5h2M348 212.5h1M356 212.5h1M149 213.5h1M235 213.5h1M237 213.5h1M245 213.5h1M279 213.5h1M290 213.5h9M301 213.5h4M306 213.5h4M311 213.5h39M351 213.5h1M356 213.5h1M358 213.5h1M403 213.5h1M462 213.5h1M169 214.5h1M180 214.5h1M213 214.5h1M216 214.5h1M233 214.5h1M256 214.5h1M280 214.5h1M292 214.5h1M294 214.5h9M304 214.5h50M356 214.5h3M361 214.5h3M367 214.5h2M384 214.5h1M404 214.5h1M429 214.5h1M526 214.5h1M294 215.5h5M301 215.5h2M305 215.5h42M348 215.5h4M357 215.5h2M367 215.5h1M199 216.5h1M278 216.5h1M284 216.5h1M294 216.5h2M297 216.5h2M301 216.5h3M305 216.5h46M352 216.5h3M357 216.5h4M363 216.5h2M366 216.5h1M375 216.5h1M479 216.5h1M79 217.5h1M83 217.5h1M102 217.5h1M122 217.5h3M155 217.5h1M163 217.5h2M170 217.5h2M184 217.5h2M206 217.5h1M214 217.5h1M222 217.5h1M239 217.5h1M249 217.5h1M261 217.5h1M264 217.5h1M268 217.5h1M275 217.5h1M286 217.5h1M289 217.5h1M294 217.5h2M299 217.5h63M363 217.5h1M365 217.5h3M374 217.5h1M383 217.5h1M401 217.5h1M408 217.5h1M412 217.5h1M418 217.5h1M437 217.5h1M449 217.5h1M453 217.5h1M455 217.5h1M459 217.5h1M471 217.5h1M484 217.5h1M493 217.5h3M510 217.5h2M518 217.5h1M541 217.5h2M553 217.5h1M224 218.5h1M278 218.5h1M281 218.5h1M291 218.5h1M293 218.5h4M301 218.5h4M306 218.5h6M314 218.5h40M355 218.5h1M363 218.5h2M379 218.5h1M522 218.5h1M84 219.5h1M188 219.5h1M291 219.5h6M301 219.5h4M306 219.5h6M314 219.5h40M355 219.5h1M364 219.5h1M522 219.5h1M84 220.5h1M127 220.5h1M162 220.5h1M170 220.5h1M188 220.5h1M283 220.5h2M290 220.5h7M298 220.5h54M353 220.5h4M360 220.5h1M362 220.5h1M367 220.5h1M387 220.5h1M394 220.5h1M412 220.5h1M464 220.5h1M545 220.5h1M239 221.5h1M253 221.5h1M259 221.5h3M286 221.5h1M289 221.5h1M292 221.5h8M302 221.5h1M304 221.5h42M350 221.5h1M352 221.5h5M361 221.5h2M364 221.5h1M367 221.5h1M374 221.5h1M401 221.5h1M413 221.5h1M420 221.5h1M443 221.5h1M286 222.5h1M289 222.5h1M292 222.5h1M295 222.5h1M298 222.5h2M302 222.5h1M304 222.5h4M309 222.5h23M333 222.5h13M348 222.5h1M350 222.5h1M355 222.5h1M361 222.5h1M81 223.5h1M83 223.5h1M118 223.5h1M203 223.5h1M250 223.5h1M271 223.5h1M286 223.5h1M289 223.5h1M291 223.5h2M295 223.5h1M298 223.5h49M348 223.5h1M350 223.5h2M355 223.5h1M358 223.5h1M361 223.5h1M368 223.5h1M385 223.5h1M389 223.5h1M403 223.5h1M418 223.5h1M444 223.5h1M498 223.5h1M101 224.5h1M123 224.5h1M127 224.5h1M160 224.5h1M173 224.5h1M219 224.5h1M272 224.5h2M279 224.5h2M283 224.5h1M288 224.5h4M293 224.5h1M296 224.5h2M299 224.5h41M341 224.5h2M344 224.5h5M350 224.5h3M356 224.5h1M362 224.5h1M364 224.5h1M367 224.5h1M370 224.5h1M380 224.5h1M382 224.5h1M467 224.5h1M479 224.5h1M283 225.5h1M288 225.5h3M296 225.5h2M300 225.5h5M306 225.5h31M339 225.5h1M341 225.5h2M345 225.5h3M356 225.5h1M120 226.5h1M179 226.5h1M195 226.5h1M211 226.5h1M251 226.5h1M268 226.5h1M275 226.5h1M283 226.5h1M288 226.5h3M292 226.5h1M295 226.5h4M300 226.5h5M307 226.5h30M339 226.5h5M345 226.5h3M349 226.5h1M353 226.5h3M357 226.5h1M360 226.5h1M363 226.5h1M389 226.5h1M424 226.5h1M440 226.5h1M464 226.5h1M114 227.5h1M121 227.5h1M162 227.5h1M243 227.5h1M283 227.5h1M290 227.5h1M293 227.5h2M296 227.5h2M299 227.5h4M304 227.5h1M306 227.5h22M329 227.5h18M349 227.5h6M358 227.5h2M361 227.5h1M366 227.5h2M371 227.5h1M373 227.5h1M398 227.5h1M295 228.5h3M300 228.5h1M304 228.5h2M307 228.5h21M330 228.5h7M338 228.5h9M349 228.5h2M352 228.5h1M371 228.5h1M295 229.5h1M297 229.5h1M304 229.5h43M348 229.5h3M352 229.5h1M356 229.5h1M359 229.5h1M371 229.5h1M415 229.5h1M431 229.5h1M446 229.5h1M505 229.5h1M531 229.5h1M534 229.5h1M545 229.5h1M89 230.5h1M98 230.5h1M150 230.5h1M168 230.5h2M217 230.5h1M283 230.5h1M291 230.5h4M297 230.5h61M359 230.5h1M509 230.5h1M513 230.5h2M516 230.5h1M528 230.5h1M549 230.5h1M192 231.5h1M285 231.5h1M287 231.5h1M291 231.5h2M294 231.5h2M297 231.5h58M356 231.5h1M364 231.5h1M366 231.5h1M373 231.5h2M385 231.5h1M544 231.5h1M192 232.5h1M291 232.5h1M295 232.5h1M299 232.5h54M364 232.5h1M366 232.5h1M374 232.5h1M417 232.5h1M92 233.5h1M236 233.5h1M280 233.5h1M284 233.5h1M291 233.5h3M295 233.5h3M299 233.5h54M357 233.5h3M363 233.5h1M375 233.5h1M377 233.5h1M382 233.5h1M384 233.5h1M412 233.5h1M417 233.5h1M530 233.5h1M535 233.5h1M551 233.5h1M218 234.5h1M287 234.5h1M292 234.5h2M295 234.5h2M298 234.5h1M300 234.5h4M305 234.5h4M310 234.5h12M323 234.5h25M350 234.5h1M358 234.5h1M363 234.5h1M373 234.5h1M404 234.5h1M422 234.5h1M427 234.5h1M518 234.5h1M563 234.5h1M292 235.5h1M295 235.5h2M298 235.5h1M300 235.5h3M305 235.5h6M313 235.5h33M347 235.5h2M350 235.5h1M358 235.5h2M127 236.5h1M207 236.5h1M244 236.5h1M270 236.5h1M276 236.5h1M292 236.5h1M295 236.5h8M304 236.5h7M312 236.5h34M347 236.5h2M350 236.5h11M364 236.5h1M367 236.5h1M378 236.5h1M417 236.5h1M420 236.5h1M476 236.5h1M521 236.5h1M125 237.5h1M151 237.5h1M164 237.5h1M170 237.5h1M228 237.5h1M247 237.5h1M260 237.5h1M278 237.5h1M285 237.5h1M290 237.5h1M293 237.5h2M297 237.5h52M350 237.5h1M353 237.5h1M358 237.5h1M370 237.5h1M404 237.5h2M450 237.5h1M483 237.5h1M539 237.5h1M555 237.5h1M151 238.5h1M299 238.5h1M301 238.5h40M342 238.5h5M348 238.5h1M350 238.5h1M353 238.5h1M358 238.5h1M88 239.5h1M100 239.5h1M113 239.5h1M151 239.5h1M267 239.5h1M277 239.5h1M281 239.5h1M288 239.5h1M291 239.5h2M299 239.5h1M301 239.5h20M322 239.5h19M342 239.5h5M348 239.5h1M350 239.5h2M354 239.5h1M356 239.5h3M387 239.5h1M512 239.5h2M566 239.5h1M122 240.5h1M144 240.5h1M249 240.5h1M288 240.5h1M292 240.5h6M299 240.5h3M304 240.5h49M357 240.5h6M366 240.5h1M370 240.5h1M374 240.5h1M409 240.5h1M441 240.5h3M471 240.5h1M517 240.5h1M279 241.5h1M293 241.5h5M300 241.5h1M302 241.5h1M304 241.5h1M306 241.5h13M320 241.5h25M346 241.5h6M357 241.5h1M359 241.5h1M366 241.5h1M570 241.5h1M97 242.5h1M200 242.5h1M247 242.5h1M279 242.5h1M293 242.5h2M297 242.5h1M299 242.5h2M303 242.5h3M307 242.5h41M349 242.5h8M363 242.5h1M366 242.5h1M509 242.5h1M570 242.5h1M100 243.5h1M106 243.5h1M117 243.5h1M122 243.5h1M157 243.5h1M270 243.5h1M276 243.5h1M278 243.5h1M285 243.5h1M287 243.5h1M290 243.5h1M293 243.5h1M297 243.5h5M303 243.5h3M307 243.5h41M350 243.5h5M358 243.5h2M362 243.5h1M364 243.5h1M368 243.5h1M373 243.5h1M468 243.5h1M285 244.5h2M290 244.5h2M294 244.5h1M297 244.5h3M301 244.5h2M305 244.5h38M345 244.5h7M354 244.5h1M356 244.5h1M358 244.5h1M364 244.5h1M367 244.5h2M398 244.5h1M286 245.5h1M291 245.5h1M294 245.5h1M297 245.5h3M302 245.5h1M305 245.5h1M308 245.5h34M345 245.5h6M354 245.5h3M358 245.5h1M367 245.5h1M398 245.5h1M102 246.5h2M119 246.5h1M135 246.5h1M197 246.5h1M236 246.5h1M272 246.5h1M279 246.5h1M291 246.5h4M298 246.5h2M301 246.5h5M307 246.5h13M321 246.5h9M331 246.5h19M355 246.5h3M361 246.5h2M364 246.5h1M366 246.5h1M374 246.5h1M376 246.5h1M398 246.5h1M423 246.5h1M490 246.5h1M566 246.5h1M91 247.5h1M164 247.5h1M251 247.5h1M265 247.5h1M272 247.5h1M279 247.5h1M282 247.5h5M294 247.5h1M302 247.5h2M305 247.5h33M339 247.5h2M342 247.5h5M348 247.5h1M351 247.5h2M355 247.5h1M358 247.5h1M368 247.5h2M441 247.5h1M283 248.5h2M297 248.5h1M299 248.5h1M302 248.5h6M309 248.5h26M336 248.5h6M343 248.5h3M347 248.5h1M351 248.5h1M353 248.5h1M124 249.5h1M148 249.5h1M235 249.5h1M283 249.5h2M289 249.5h1M292 249.5h1M295 249.5h40M336 249.5h6M343 249.5h3M347 249.5h1M350 249.5h2M353 249.5h3M358 249.5h1M365 249.5h1M372 249.5h1M377 249.5h1M381 249.5h1M414 249.5h1M485 249.5h1M510 249.5h1M87 250.5h1M102 250.5h1M144 250.5h1M255 250.5h1M269 250.5h1M282 250.5h1M284 250.5h2M290 250.5h2M295 250.5h1M298 250.5h44M343 250.5h3M349 250.5h1M352 250.5h2M356 250.5h1M359 250.5h1M390 250.5h1M410 250.5h1M420 250.5h2M439 250.5h1M445 250.5h1M494 250.5h1M511 250.5h1M290 251.5h2M295 251.5h1M301 251.5h38M340 251.5h2M343 251.5h3M349 251.5h1M352 251.5h1M356 251.5h1M272 252.5h1M279 252.5h1M290 252.5h4M295 252.5h1M297 252.5h1M301 252.5h29M331 252.5h8M340 252.5h6M347 252.5h1M349 252.5h1M352 252.5h1M354 252.5h1M356 252.5h2M380 252.5h1M399 252.5h2M429 252.5h1M86 253.5h1M122 253.5h1M127 253.5h1M139 253.5h1M245 253.5h1M253 253.5h1M283 253.5h1M288 253.5h1M291 253.5h6M298 253.5h4M304 253.5h45M352 253.5h2M356 253.5h3M376 253.5h1M413 253.5h1M425 253.5h1M452 253.5h1M533 253.5h1M556 253.5h1M560 253.5h1M292 254.5h2M299 254.5h1M301 254.5h1M303 254.5h18M322 254.5h4M327 254.5h12M340 254.5h6M347 254.5h1M353 254.5h1M93 255.5h1M118 255.5h1M168 255.5h1M182 255.5h1M252 255.5h1M274 255.5h1M284 255.5h1M293 255.5h1M297 255.5h1M299 255.5h1M302 255.5h42M345 255.5h3M349 255.5h1M353 255.5h5M370 255.5h1M398 255.5h1M432 255.5h1M526 255.5h1M131 256.5h1M159 256.5h2M163 256.5h2M205 256.5h1M276 256.5h1M283 256.5h1M294 256.5h1M297 256.5h6M304 256.5h40M346 256.5h2M350 256.5h7M359 256.5h3M368 256.5h1M376 256.5h1M502 256.5h2M513 256.5h2M555 256.5h1M163 257.5h1M289 257.5h1M292 257.5h1M294 257.5h1M297 257.5h2M302 257.5h2M305 257.5h2M308 257.5h40M350 257.5h2M353 257.5h5M361 257.5h1M551 257.5h1M288 258.5h1M298 258.5h1M302 258.5h1M305 258.5h2M308 258.5h40M350 258.5h2M354 258.5h2M357 258.5h1M361 258.5h1M82 259.5h1M91 259.5h1M153 259.5h1M196 259.5h1M199 259.5h1M212 259.5h1M233 259.5h1M272 259.5h1M282 259.5h1M287 259.5h1M296 259.5h1M298 259.5h1M300 259.5h47M351 259.5h2M354 259.5h1M357 259.5h3M362 259.5h1M368 259.5h1M371 259.5h1M373 259.5h1M399 259.5h1M411 259.5h1M435 259.5h1M456 259.5h1M458 259.5h1M542 259.5h1M103 260.5h1M194 260.5h1M205 260.5h1M245 260.5h1M271 260.5h1M288 260.5h3M298 260.5h1M300 260.5h3M304 260.5h29M335 260.5h4M341 260.5h6M350 260.5h2M356 260.5h2M393 260.5h1M425 260.5h1M297 261.5h1M299 261.5h12M312 261.5h16M329 261.5h4M334 261.5h5M341 261.5h2M345 261.5h3M356 261.5h2M91 262.5h1M156 262.5h1M163 262.5h2M184 262.5h1M217 262.5h1M224 262.5h1M256 262.5h1M269 262.5h1M284 262.5h1M294 262.5h1M296 262.5h2M299 262.5h44M345 262.5h3M349 262.5h1M354 262.5h1M356 262.5h2M373 262.5h1M380 262.5h1M399 262.5h1M418 262.5h1M459 262.5h1M486 262.5h1M492 262.5h2M140 263.5h1M242 263.5h1M279 263.5h1M285 263.5h3M291 263.5h3M295 263.5h3M301 263.5h1M303 263.5h20M324 263.5h14M339 263.5h1M342 263.5h1M346 263.5h1M349 263.5h2M356 263.5h1M358 263.5h2M361 263.5h1M403 263.5h1M431 263.5h1M448 263.5h1M456 263.5h1M490 263.5h1M542 263.5h1M292 264.5h1M295 264.5h2M303 264.5h20M324 264.5h10M335 264.5h3M339 264.5h1M342 264.5h1M346 264.5h1M350 264.5h1M356 264.5h1M358 264.5h1M361 264.5h1M108 265.5h1M157 265.5h1M245 265.5h1M249 265.5h1M252 265.5h1M261 265.5h1M276 265.5h2M289 265.5h2M292 265.5h1M295 265.5h2M299 265.5h2M302 265.5h3M306 265.5h28M335 265.5h12M348 265.5h1M352 265.5h2M358 265.5h1M391 265.5h1M395 265.5h1M407 265.5h1M96 266.5h1M170 266.5h1M183 266.5h1M209 266.5h1M232 266.5h1M255 266.5h1M293 266.5h7M301 266.5h1M304 266.5h43M348 266.5h2M351 266.5h1M353 266.5h3M357 266.5h1M359 266.5h1M373 266.5h1M377 266.5h1M383 266.5h1M396 266.5h1M427 266.5h1M455 266.5h1M505 266.5h1M554 266.5h1M287 267.5h1M291 267.5h1M298 267.5h2M303 267.5h3M308 267.5h14M323 267.5h20M344 267.5h2M353 267.5h1M114 268.5h1M222 268.5h1M272 268.5h1M276 268.5h1M286 268.5h3M291 268.5h1M298 268.5h2M303 268.5h3M308 268.5h39M353 268.5h1M356 268.5h1M361 268.5h1M364 268.5h2M409 268.5h1M449 268.5h1M532 268.5h1M564 268.5h1M166 269.5h2M214 269.5h1M272 269.5h1M285 269.5h1M288 269.5h1M292 269.5h4M298 269.5h2M301 269.5h4M306 269.5h45M353 269.5h4M361 269.5h1M378 269.5h1M380 269.5h1M383 269.5h1M413 269.5h1M474 269.5h1M492 269.5h2M520 269.5h4M542 269.5h1M550 269.5h1M563 269.5h1M568 269.5h1M136 270.5h1M145 270.5h1M200 270.5h1M202 270.5h1M286 270.5h1M292 270.5h2M299 270.5h2M302 270.5h1M304 270.5h39M344 270.5h3M349 270.5h2M352 270.5h7M360 270.5h2M480 270.5h1M200 271.5h1M292 271.5h2M297 271.5h1M300 271.5h1M302 271.5h1M304 271.5h39M344 271.5h3M349 271.5h2M352 271.5h1M354 271.5h2M357 271.5h5M81 272.5h1M109 272.5h1M161 272.5h2M206 272.5h1M292 272.5h3M296 272.5h3M300 272.5h48M349 272.5h7M359 272.5h3M370 272.5h2M388 272.5h1M451 272.5h1M564 272.5h1M82 273.5h1M101 273.5h1M196 273.5h1M244 273.5h1M263 273.5h1M266 273.5h1M272 273.5h1M277 273.5h1M282 273.5h1M288 273.5h1M296 273.5h3M300 273.5h3M305 273.5h1M307 273.5h4M312 273.5h1M314 273.5h9M324 273.5h8M333 273.5h1M336 273.5h2M340 273.5h4M346 273.5h1M348 273.5h1M352 273.5h2M364 273.5h2M376 273.5h1M393 273.5h1M398 273.5h2M404 273.5h1M465 273.5h1M568 273.5h1M295 274.5h4M300 274.5h3M305 274.5h29M335 274.5h1M337 274.5h1M340 274.5h1M342 274.5h3M346 274.5h1M348 274.5h1M353 274.5h1M355 274.5h1M85 275.5h1M95 275.5h1M161 275.5h1M194 275.5h1M197 275.5h2M269 275.5h3M280 275.5h1M287 275.5h1M292 275.5h1M295 275.5h4M300 275.5h36M337 275.5h1M340 275.5h1M342 275.5h3M346 275.5h1M348 275.5h1M353 275.5h3M360 275.5h1M362 275.5h1M367 275.5h1M383 275.5h1M387 275.5h1M415 275.5h1M446 275.5h1M476 275.5h1M492 275.5h1M544 275.5h1M565 275.5h1M80 276.5h1M156 276.5h1M220 276.5h1M225 276.5h1M232 276.5h1M278 276.5h1M287 276.5h1M290 276.5h4M295 276.5h1M297 276.5h8M306 276.5h6M313 276.5h16M331 276.5h5M337 276.5h7M352 276.5h1M354 276.5h1M364 276.5h1M369 276.5h1M377 276.5h1M389 276.5h1M526 276.5h1M292 277.5h1M297 277.5h6M306 277.5h6M313 277.5h16M331 277.5h5M337 277.5h5M343 277.5h1M352 277.5h1M89 278.5h1M97 278.5h1M101 278.5h1M188 278.5h1M243 278.5h1M284 278.5h1M289 278.5h1M292 278.5h1M297 278.5h6M306 278.5h4M311 278.5h3M315 278.5h2M318 278.5h2M321 278.5h21M343 278.5h2M350 278.5h1M352 278.5h2M368 278.5h1M448 278.5h1M141 279.5h1M194 279.5h1M223 279.5h1M270 279.5h1M287 279.5h5M296 279.5h6M304 279.5h1M307 279.5h1M309 279.5h29M340 279.5h7M351 279.5h2M360 279.5h1M362 279.5h1M367 279.5h1M370 279.5h2M377 279.5h1M397 279.5h1M399 279.5h1M401 279.5h1M410 279.5h1M535 279.5h1M291 280.5h1M294 280.5h2M299 280.5h1M301 280.5h1M303 280.5h2M308 280.5h6M315 280.5h14M330 280.5h8M340 280.5h1M342 280.5h1M344 280.5h2M351 280.5h1M398 280.5h1M139 281.5h1M246 281.5h1M256 281.5h1M294 281.5h2M298 281.5h1M302 281.5h12M315 281.5h28M344 281.5h1M346 281.5h2M349 281.5h1M351 281.5h1M353 281.5h2M356 281.5h1M434 281.5h1M456 281.5h1M518 281.5h1M541 281.5h1M103 282.5h1M142 282.5h1M213 282.5h1M258 282.5h1M265 282.5h1M272 282.5h1M286 282.5h4M292 282.5h1M294 282.5h2M297 282.5h1M299 282.5h4M305 282.5h39M346 282.5h4M353 282.5h7M426 282.5h1M446 282.5h2M503 282.5h1M518 282.5h2M531 282.5h1M551 282.5h1M133 283.5h1M158 283.5h1M216 283.5h1M278 283.5h1M289 283.5h1M295 283.5h1M297 283.5h1M301 283.5h2M305 283.5h5M312 283.5h31M345 283.5h2M349 283.5h1M351 283.5h2M355 283.5h1M358 283.5h2M364 283.5h1M372 283.5h1M392 283.5h1M158 284.5h1M289 284.5h1M297 284.5h1M302 284.5h1M304 284.5h1M306 284.5h2M309 284.5h1M312 284.5h31M344 284.5h2M349 284.5h1M351 284.5h2M355 284.5h1M358 284.5h1M360 284.5h1M364 284.5h1M392 284.5h1M142 285.5h1M146 285.5h1M162 285.5h1M235 285.5h1M259 285.5h1M267 285.5h1M275 285.5h1M280 285.5h1M284 285.5h1M288 285.5h1M292 285.5h2M300 285.5h1M303 285.5h5M309 285.5h42M355 285.5h1M360 285.5h1M364 285.5h1M375 285.5h1M383 285.5h1M392 285.5h1M482 285.5h1M492 285.5h1M92 286.5h1M104 286.5h1M134 286.5h1M171 286.5h1M208 286.5h1M222 286.5h1M238 286.5h1M242 286.5h1M250 286.5h1M274 286.5h1M290 286.5h1M292 286.5h3M300 286.5h2M303 286.5h2M307 286.5h1M309 286.5h1M311 286.5h14M326 286.5h6M333 286.5h6M340 286.5h2M343 286.5h2M348 286.5h1M351 286.5h1M373 286.5h2M397 286.5h1M401 286.5h1M412 286.5h1M462 286.5h1M470 286.5h1M496 286.5h1M513 286.5h1M298 287.5h1M300 287.5h5M307 287.5h1M311 287.5h4M317 287.5h2M320 287.5h5M326 287.5h16M344 287.5h1M347 287.5h1M397 287.5h1M115 288.5h1M199 288.5h1M203 288.5h4M255 288.5h1M284 288.5h2M295 288.5h1M297 288.5h2M300 288.5h5M307 288.5h2M310 288.5h5M316 288.5h26M344 288.5h1M347 288.5h1M354 288.5h2M358 288.5h1M361 288.5h1M364 288.5h1M377 288.5h1M386 288.5h1M397 288.5h1M413 288.5h1M437 288.5h1M502 288.5h1M550 288.5h1M104 289.5h1M159 289.5h1M203 289.5h1M248 289.5h1M263 289.5h1M270 289.5h1M290 289.5h1M296 289.5h3M301 289.5h1M303 289.5h3M307 289.5h3M313 289.5h9M323 289.5h2M326 289.5h12M339 289.5h5M345 289.5h2M348 289.5h3M353 289.5h1M357 289.5h1M373 289.5h2M398 289.5h1M405 289.5h1M426 289.5h1M460 289.5h1M477 289.5h1M561 289.5h1M297 290.5h2M301 290.5h1M305 290.5h1M309 290.5h1M313 290.5h9M323 290.5h2M326 290.5h7M335 290.5h1M337 290.5h1M340 290.5h4M345 290.5h1M353 290.5h1M79 291.5h1M137 291.5h1M279 291.5h1M285 291.5h3M297 291.5h6M305 291.5h2M311 291.5h8M320 291.5h13M335 291.5h1M337 291.5h2M340 291.5h6M351 291.5h2M410 291.5h1M423 291.5h1M431 291.5h1M524 291.5h1M527 291.5h1M84 292.5h1M114 292.5h1M145 292.5h1M166 292.5h1M187 292.5h1M191 292.5h1M202 292.5h1M249 292.5h1M264 292.5h1M276 292.5h1M298 292.5h2M301 292.5h3M307 292.5h8M316 292.5h2M320 292.5h18M340 292.5h12M353 292.5h1M357 292.5h1M363 292.5h1M368 292.5h2M372 292.5h1M376 292.5h1M437 292.5h1M446 292.5h1M506 292.5h2M516 292.5h1M285 293.5h1M298 293.5h2M304 293.5h1M308 293.5h7M316 293.5h3M320 293.5h17M341 293.5h9M111 294.5h1M118 294.5h1M220 294.5h1M285 294.5h1M295 294.5h1M298 294.5h2M302 294.5h1M304 294.5h3M308 294.5h26M335 294.5h8M344 294.5h5M350 294.5h2M355 294.5h1M357 294.5h2M414 294.5h1M438 294.5h1M448 294.5h1M467 294.5h1M111 295.5h1M194 295.5h1M227 295.5h1M244 295.5h1M293 295.5h1M300 295.5h5M306 295.5h2M309 295.5h15M325 295.5h15M341 295.5h2M344 295.5h2M347 295.5h4M357 295.5h3M367 295.5h2M370 295.5h1M377 295.5h1M413 295.5h1M416 295.5h2M495 295.5h1M566 295.5h1M116 296.5h1M150 296.5h1M198 296.5h1M291 296.5h1M294 296.5h1M299 296.5h2M303 296.5h2M306 296.5h1M308 296.5h3M314 296.5h20M335 296.5h9M345 296.5h4M350 296.5h1M352 296.5h1M357 296.5h2M365 296.5h1M369 296.5h1M372 296.5h1M512 296.5h1M516 296.5h1M526 296.5h1M530 296.5h1M150 297.5h1M198 297.5h1M294 297.5h1M300 297.5h1M306 297.5h1M309 297.5h2M314 297.5h34M350 297.5h3M354 297.5h1M357 297.5h1M365 297.5h1M512 297.5h1M516 297.5h1M526 297.5h1M530 297.5h1M102 298.5h1M125 298.5h1M253 298.5h1M271 298.5h1M294 298.5h1M296 298.5h1M300 298.5h1M303 298.5h1M306 298.5h1M309 298.5h43M354 298.5h1M356 298.5h1M399 298.5h1M403 298.5h1M442 298.5h1M458 298.5h1M500 298.5h2M558 298.5h1M94 299.5h1M132 299.5h1M158 299.5h1M184 299.5h1M188 299.5h1M210 299.5h1M244 299.5h1M271 299.5h1M289 299.5h3M295 299.5h1M300 299.5h1M306 299.5h6M313 299.5h7M322 299.5h10M333 299.5h4M338 299.5h1M342 299.5h1M344 299.5h2M349 299.5h2M354 299.5h2M373 299.5h1M437 299.5h1M469 299.5h1M298 300.5h1M301 300.5h1M306 300.5h2M310 300.5h10M321 300.5h1M323 300.5h2M326 300.5h2M329 300.5h5M336 300.5h1M338 300.5h1M342 300.5h1M347 300.5h1M349 300.5h2M213 301.5h1M237 301.5h1M268 301.5h1M288 301.5h1M293 301.5h2M298 301.5h1M301 301.5h4M306 301.5h2M310 301.5h24M336 301.5h7M347 301.5h1M349 301.5h2M354 301.5h1M357 301.5h1M365 301.5h1M398 301.5h2M434 301.5h1M484 301.5h1M569 301.5h1M143 302.5h1M196 302.5h1M227 302.5h1M257 302.5h1M260 302.5h1M269 302.5h1M292 302.5h1M295 302.5h1M297 302.5h11M310 302.5h18M329 302.5h2M333 302.5h5M339 302.5h2M343 302.5h1M349 302.5h2M352 302.5h4M360 302.5h1M362 302.5h1M364 302.5h1M366 302.5h1M376 302.5h1M389 302.5h1M409 302.5h1M468 302.5h1M494 302.5h1M529 302.5h1M541 302.5h1M295 303.5h1M297 303.5h1M303 303.5h5M310 303.5h18M329 303.5h2M334 303.5h4M339 303.5h2M350 303.5h1M355 303.5h1M82 304.5h1M87 304.5h1M267 304.5h1M283 304.5h1M290 304.5h1M295 304.5h3M303 304.5h1M305 304.5h3M310 304.5h1M312 304.5h14M327 304.5h6M335 304.5h6M350 304.5h2M355 304.5h1M397 304.5h1M425 304.5h1M429 304.5h1M434 304.5h1M440 304.5h1M548 304.5h1M566 304.5h1M170 305.5h1M179 305.5h1M222 305.5h1M279 305.5h2M287 305.5h1M293 305.5h1M296 305.5h1M298 305.5h2M302 305.5h1M307 305.5h1M309 305.5h29M339 305.5h12M353 305.5h1M357 305.5h1M359 305.5h2M366 305.5h1M371 305.5h1M376 305.5h1M386 305.5h3M392 305.5h1M405 305.5h1M422 305.5h1M424 305.5h1M541 305.5h1M307 306.5h2M310 306.5h8M319 306.5h10M330 306.5h6M337 306.5h1M339 306.5h1M341 306.5h1M344 306.5h1M346 306.5h1M358 306.5h1M88 307.5h1M110 307.5h1M161 307.5h1M218 307.5h1M258 307.5h1M282 307.5h1M286 307.5h1M289 307.5h1M291 307.5h1M295 307.5h1M304 307.5h1M307 307.5h2M311 307.5h33M345 307.5h1M347 307.5h1M351 307.5h1M355 307.5h1M358 307.5h1M368 307.5h1M462 307.5h1M476 307.5h1M113 308.5h1M120 308.5h1M125 308.5h1M132 308.5h1M200 308.5h1M257 308.5h2M262 308.5h1M266 308.5h1M270 308.5h1M296 308.5h1M299 308.5h8M308 308.5h1M311 308.5h9M321 308.5h19M341 308.5h3M347 308.5h3M353 308.5h1M356 308.5h1M358 308.5h3M364 308.5h1M368 308.5h1M451 308.5h1M465 308.5h1M143 309.5h1M216 309.5h1M287 309.5h1M291 309.5h1M299 309.5h1M302 309.5h3M307 309.5h10M318 309.5h13M335 309.5h2M338 309.5h2M341 309.5h4M347 309.5h4M353 309.5h1M368 309.5h1M466 309.5h1M500 309.5h1M544 309.5h1M294 310.5h1M303 310.5h2M308 310.5h3M312 310.5h1M314 310.5h3M319 310.5h12M335 310.5h5M341 310.5h2M344 310.5h7M368 310.5h1M500 310.5h1M93 311.5h1M114 311.5h1M149 311.5h1M157 311.5h1M240 311.5h1M249 311.5h1M254 311.5h1M277 311.5h1M283 311.5h1M286 311.5h1M290 311.5h1M292 311.5h3M297 311.5h2M303 311.5h4M308 311.5h2M311 311.5h2M314 311.5h3M318 311.5h3M323 311.5h5M329 311.5h13M344 311.5h5M350 311.5h2M356 311.5h2M366 311.5h1M368 311.5h1M372 311.5h1M417 311.5h1M438 311.5h1M520 311.5h1M537 311.5h1M566 311.5h2M92 312.5h1M228 312.5h1M274 312.5h1M302 312.5h1M304 312.5h7M312 312.5h1M315 312.5h1M317 312.5h3M322 312.5h1M325 312.5h3M331 312.5h6M338 312.5h1M340 312.5h2M346 312.5h2M369 312.5h1M377 312.5h1M426 312.5h1M435 312.5h1M457 312.5h1M493 312.5h1M274 313.5h1M304 313.5h1M307 313.5h1M311 313.5h2M315 313.5h5M321 313.5h2M325 313.5h3M331 313.5h1M333 313.5h2M341 313.5h1M346 313.5h1M348 313.5h1M353 313.5h1M167 314.5h1M196 314.5h1M203 314.5h1M274 314.5h1M280 314.5h1M285 314.5h1M295 314.5h2M304 314.5h1M307 314.5h1M309 314.5h14M324 314.5h8M333 314.5h2M341 314.5h1M343 314.5h2M346 314.5h1M348 314.5h2M351 314.5h1M353 314.5h4M360 314.5h1M365 314.5h1M367 314.5h1M380 314.5h1M450 314.5h1M551 314.5h1M554 314.5h3M565 314.5h1M93 315.5h1M97 315.5h1M108 315.5h1M186 315.5h1M197 315.5h1M217 315.5h1M224 315.5h1M233 315.5h1M281 315.5h1M283 315.5h1M288 315.5h1M290 315.5h2M296 315.5h5M306 315.5h1M311 315.5h3M315 315.5h3M320 315.5h5M329 315.5h3M333 315.5h1M336 315.5h1M338 315.5h3M346 315.5h2M351 315.5h2M355 315.5h1M360 315.5h1M412 315.5h1M435 315.5h1M450 315.5h1M464 315.5h1M555 315.5h1M290 316.5h2M298 316.5h1M300 316.5h1M306 316.5h1M311 316.5h3M315 316.5h3M320 316.5h5M329 316.5h3M346 316.5h1M464 316.5h1M136 317.5h1M184 317.5h1M272 317.5h1M289 317.5h4M294 317.5h1M298 317.5h1M300 317.5h4M306 317.5h2M311 317.5h1M313 317.5h5M319 317.5h11M331 317.5h2M335 317.5h1M341 317.5h1M344 317.5h3M350 317.5h1M357 317.5h1M365 317.5h1M383 317.5h1M420 317.5h1M431 317.5h1M452 317.5h1M461 317.5h1M464 317.5h1M116 318.5h1M120 318.5h1M160 318.5h1M215 318.5h1M288 318.5h1M294 318.5h1M296 318.5h1M301 318.5h20M324 318.5h1M327 318.5h16M345 318.5h3M350 318.5h1M353 318.5h3M361 318.5h1M384 318.5h2M414 318.5h1M433 318.5h1M439 318.5h1M534 318.5h1M570 318.5h1M296 319.5h1M307 319.5h2M311 319.5h1M314 319.5h7M324 319.5h7M332 319.5h1M334 319.5h5M342 319.5h1M79 320.5h1M149 320.5h1M166 320.5h1M284 320.5h1M286 320.5h1M296 320.5h1M306 320.5h1M308 320.5h1M311 320.5h1M314 320.5h3M318 320.5h2M321 320.5h10M332 320.5h2M335 320.5h9M348 320.5h2M351 320.5h1M357 320.5h1M445 320.5h1M465 320.5h1M477 320.5h1M491 320.5h1M497 320.5h1M535 320.5h1M91 321.5h1M110 321.5h1M118 321.5h1M203 321.5h1M229 321.5h1M286 321.5h2M296 321.5h1M305 321.5h2M308 321.5h12M321 321.5h8M330 321.5h4M335 321.5h10M346 321.5h3M354 321.5h1M362 321.5h1M369 321.5h1M411 321.5h1M435 321.5h1M457 321.5h1M460 321.5h1M483 321.5h1M530 321.5h1M551 321.5h1M556 321.5h1M560 321.5h1M566 321.5h1M112 322.5h1M122 322.5h1M226 322.5h1M234 322.5h1M288 322.5h1M298 322.5h1M301 322.5h2M305 322.5h4M310 322.5h1M313 322.5h8M323 322.5h8M332 322.5h4M337 322.5h3M341 322.5h2M344 322.5h1M346 322.5h2M350 322.5h2M356 322.5h1M362 322.5h1M385 322.5h2M565 322.5h1M298 323.5h2M301 323.5h1M303 323.5h1M305 323.5h3M310 323.5h1M313 323.5h8M323 323.5h2M326 323.5h1M329 323.5h7M338 323.5h2M341 323.5h2M344 323.5h1M346 323.5h1M350 323.5h2M356 323.5h2M79 324.5h1M103 324.5h1M126 324.5h1M148 324.5h1M262 324.5h1M293 324.5h1M297 324.5h2M301 324.5h9M312 324.5h3M316 324.5h2M320 324.5h4M328 324.5h18M355 324.5h1M358 324.5h1M361 324.5h1M372 324.5h3M380 324.5h1M388 324.5h1M438 324.5h1M442 324.5h1M487 324.5h1M498 324.5h1M505 324.5h2M553 324.5h2M80 325.5h2M98 325.5h1M186 325.5h1M293 325.5h1M296 325.5h2M300 325.5h1M305 325.5h3M309 325.5h6M318 325.5h1M321 325.5h1M324 325.5h2M327 325.5h3M331 325.5h2M335 325.5h3M340 325.5h1M345 325.5h2M349 325.5h1M351 325.5h1M355 325.5h2M368 325.5h1M379 325.5h1M401 325.5h1M419 325.5h1M470 325.5h1M506 325.5h1M565 325.5h1M306 326.5h2M312 326.5h1M314 326.5h1M318 326.5h1M320 326.5h1M324 326.5h3M328 326.5h1M330 326.5h3M335 326.5h3M347 326.5h1M355 326.5h1M88 327.5h1M122 327.5h1M202 327.5h1M213 327.5h1M223 327.5h1M238 327.5h1M284 327.5h1M301 327.5h1M306 327.5h3M312 327.5h3M316 327.5h11M328 327.5h5M334 327.5h4M342 327.5h3M347 327.5h1M350 327.5h1M353 327.5h1M355 327.5h1M358 327.5h1M367 327.5h1M443 327.5h1M483 327.5h1M488 327.5h1M554 327.5h1M83 328.5h1M106 328.5h1M207 328.5h1M230 328.5h1M252 328.5h1M282 328.5h3M289 328.5h1M296 328.5h1M300 328.5h2M303 328.5h2M307 328.5h1M309 328.5h12M323 328.5h3M327 328.5h8M338 328.5h2M341 328.5h2M344 328.5h1M349 328.5h4M354 328.5h1M373 328.5h1M443 328.5h1M464 328.5h1M489 328.5h1M517 328.5h1M296 329.5h1M300 329.5h2M307 329.5h1M309 329.5h10M323 329.5h3M327 329.5h8M342 329.5h1M344 329.5h1M349 329.5h2M354 329.5h1M85 330.5h1M93 330.5h1M191 330.5h1M248 330.5h1M265 330.5h1M286 330.5h1M296 330.5h1M299 330.5h3M305 330.5h1M307 330.5h3M311 330.5h4M316 330.5h4M324 330.5h1M326 330.5h1M328 330.5h9M340 330.5h1M342 330.5h3M346 330.5h1M348 330.5h2M354 330.5h1M383 330.5h2M392 330.5h1M405 330.5h1M430 330.5h1M438 330.5h1M453 330.5h1M503 330.5h1M551 330.5h1M80 331.5h1M120 331.5h1M130 331.5h1M164 331.5h3M180 331.5h1M182 331.5h1M190 331.5h1M221 331.5h1M227 331.5h1M253 331.5h1M277 331.5h2M283 331.5h1M293 331.5h2M298 331.5h1M301 331.5h10M313 331.5h6M322 331.5h1M324 331.5h6M332 331.5h3M336 331.5h1M338 331.5h4M344 331.5h5M351 331.5h1M353 331.5h1M357 331.5h1M360 331.5h1M362 331.5h1M366 331.5h3M460 331.5h1M475 331.5h1M491 331.5h1M519 331.5h1M545 331.5h1M547 331.5h1M121 332.5h1M164 332.5h3M302 332.5h2M305 332.5h1M309 332.5h2M314 332.5h5M320 332.5h1M322 332.5h1M325 332.5h2M328 332.5h2M332 332.5h1M334 332.5h1M339 332.5h3M346 332.5h2M359 332.5h1M107 333.5h1M140 333.5h1M147 333.5h1M164 333.5h1M196 333.5h1M223 333.5h1M225 333.5h1M228 333.5h1M249 333.5h1M286 333.5h1M299 333.5h1M303 333.5h3M307 333.5h1M309 333.5h2M314 333.5h1M316 333.5h7M324 333.5h4M329 333.5h5M335 333.5h1M338 333.5h3M346 333.5h1M348 333.5h1M350 333.5h1M352 333.5h1M358 333.5h1M361 333.5h1M426 333.5h1M430 333.5h1M439 333.5h1M86 334.5h1M91 334.5h1M117 334.5h1M144 334.5h1M159 334.5h1M171 334.5h2M189 334.5h1M194 334.5h1M200 334.5h1M216 334.5h1M221 334.5h1M237 334.5h1M245 334.5h1M283 334.5h1M289 334.5h3M293 334.5h1M297 334.5h2M302 334.5h2M307 334.5h4M313 334.5h2M317 334.5h16M335 334.5h2M339 334.5h1M341 334.5h2M345 334.5h1M348 334.5h2M352 334.5h2M356 334.5h3M360 334.5h2M364 334.5h1M443 334.5h1M446 334.5h1M450 334.5h1M508 334.5h1M150 335.5h1M172 335.5h1M237 335.5h1M290 335.5h2M295 335.5h1M298 335.5h1M308 335.5h1M311 335.5h1M313 335.5h3M318 335.5h3M325 335.5h8M334 335.5h7M342 335.5h2M345 335.5h1M348 335.5h1M350 335.5h1M352 335.5h1M355 335.5h1M358 335.5h1M368 335.5h1M406 335.5h1M437 335.5h1M471 335.5h1M565 335.5h1M172 336.5h1M291 336.5h1M308 336.5h1M311 336.5h2M314 336.5h1M318 336.5h3M325 336.5h2M328 336.5h3M332 336.5h9M342 336.5h2M345 336.5h1M348 336.5h1M350 336.5h1M355 336.5h1M358 336.5h1M565 336.5h1M90 337.5h1M111 337.5h1M116 337.5h1M125 337.5h1M127 337.5h1M157 337.5h1M182 337.5h1M186 337.5h1M208 337.5h1M213 337.5h1M283 337.5h1M286 337.5h1M291 337.5h1M294 337.5h1M296 337.5h1M303 337.5h1M308 337.5h2M311 337.5h1M313 337.5h1M315 337.5h5M322 337.5h2M326 337.5h1M328 337.5h2M333 337.5h13M357 337.5h1M364 337.5h1M390 337.5h1M395 337.5h1M423 337.5h1M449 337.5h3M477 337.5h1M538 337.5h1M565 337.5h1M101 338.5h1M116 338.5h2M197 338.5h1M232 338.5h1M255 338.5h1M278 338.5h1M281 338.5h2M294 338.5h2M301 338.5h1M304 338.5h1M306 338.5h1M309 338.5h1M311 338.5h2M318 338.5h4M323 338.5h3M327 338.5h1M329 338.5h3M334 338.5h1M336 338.5h1M339 338.5h2M342 338.5h3M363 338.5h1M367 338.5h1M386 338.5h1M459 338.5h1M461 338.5h1M475 338.5h1M485 338.5h1M566 338.5h1M568 338.5h1M293 339.5h1M303 339.5h1M306 339.5h1M311 339.5h1M319 339.5h2M322 339.5h1M328 339.5h2M340 339.5h1M342 339.5h1M351 339.5h1M365 339.5h1M568 339.5h1M108 340.5h1M181 340.5h1M189 340.5h1M193 340.5h1M200 340.5h1M212 340.5h1M229 340.5h1M262 340.5h1M287 340.5h2M291 340.5h1M293 340.5h1M296 340.5h1M298 340.5h1M302 340.5h2M306 340.5h1M309 340.5h3M313 340.5h3M319 340.5h2M322 340.5h1M328 340.5h2M337 340.5h2M340 340.5h1M342 340.5h1M346 340.5h3M351 340.5h1M353 340.5h1M359 340.5h1M361 340.5h1M365 340.5h2M369 340.5h1M384 340.5h1M401 340.5h1M407 340.5h1M435 340.5h1M450 340.5h1M468 340.5h1M490 340.5h1M493 340.5h1M522 340.5h2M544 340.5h1M559 340.5h1M568 340.5h1M196 341.5h1M199 341.5h1M249 341.5h1M267 341.5h1M287 341.5h1M301 341.5h4M307 341.5h1M309 341.5h3M314 341.5h5M320 341.5h5M328 341.5h5M335 341.5h2M343 341.5h1M347 341.5h2M352 341.5h1M354 341.5h1M358 341.5h1M360 341.5h1M364 341.5h1M368 341.5h1M374 341.5h1M413 341.5h1M424 341.5h1M429 341.5h1M437 341.5h1M454 341.5h1M492 341.5h1M515 341.5h1M542 341.5h1M554 341.5h1M560 341.5h1M564 341.5h2M287 342.5h1M304 342.5h1M310 342.5h1M314 342.5h5M321 342.5h1M324 342.5h1M328 342.5h5M336 342.5h1M352 342.5h1M360 342.5h1M374 342.5h1M437 342.5h1M112 343.5h1M114 343.5h1M129 343.5h1M135 343.5h1M137 343.5h1M160 343.5h1M227 343.5h1M232 343.5h1M247 343.5h1M255 343.5h1M272 343.5h1M287 343.5h1M290 343.5h1M294 343.5h1M296 343.5h3M304 343.5h1M310 343.5h1M312 343.5h3M316 343.5h1M318 343.5h2M325 343.5h1M329 343.5h2M332 343.5h1M336 343.5h1M338 343.5h1M345 343.5h1M350 343.5h1M352 343.5h2M374 343.5h1M387 343.5h1M401 343.5h3M434 343.5h1M437 343.5h1M116 344.5h1M156 344.5h1M167 344.5h1M185 344.5h1M189 344.5h1M221 344.5h1M230 344.5h1M233 344.5h1M269 344.5h1M288 344.5h1M291 344.5h1M294 344.5h1M298 344.5h5M308 344.5h1M313 344.5h1M317 344.5h8M326 344.5h2M330 344.5h5M340 344.5h2M343 344.5h5M353 344.5h1M357 344.5h1M364 344.5h3M387 344.5h1M402 344.5h1M431 344.5h1M442 344.5h1M453 344.5h1M485 344.5h1M503 344.5h1M571 344.5h1M298 345.5h1M301 345.5h1M304 345.5h1M310 345.5h1M317 345.5h2M322 345.5h1M327 345.5h2M330 345.5h5M340 345.5h1M344 345.5h1M365 345.5h2M133 346.5h1M183 346.5h1M256 346.5h1M281 346.5h1M296 346.5h1M298 346.5h1M304 346.5h1M308 346.5h5M314 346.5h2M318 346.5h2M322 346.5h1M325 346.5h1M327 346.5h11M340 346.5h1M343 346.5h1M350 346.5h1M355 346.5h1M366 346.5h1M370 346.5h1M393 346.5h1M470 346.5h1M512 346.5h1M517 346.5h1M85 347.5h1M100 347.5h2M117 347.5h1M133 347.5h1M137 347.5h1M150 347.5h1M183 347.5h1M203 347.5h1M220 347.5h1M242 347.5h1M289 347.5h1M296 347.5h1M299 347.5h1M307 347.5h32M340 347.5h8M349 347.5h1M355 347.5h1M370 347.5h1M398 347.5h1M421 347.5h1M480 347.5h1M488 347.5h1M496 347.5h2M512 347.5h3M522 347.5h2M529 347.5h1M531 347.5h1M539 347.5h1M554 347.5h1M133 348.5h1M135 348.5h1M200 348.5h1M289 348.5h1M297 348.5h1M308 348.5h2M311 348.5h5M317 348.5h1M319 348.5h7M327 348.5h1M330 348.5h5M338 348.5h4M346 348.5h4M357 348.5h1M376 348.5h1M402 348.5h1M492 348.5h1M501 348.5h1M514 348.5h1M550 348.5h1M568 348.5h1M305 349.5h1M308 349.5h2M311 349.5h5M317 349.5h1M319 349.5h1M323 349.5h1M325 349.5h4M330 349.5h5M338 349.5h2M341 349.5h1M347 349.5h2M357 349.5h1M492 349.5h1M501 349.5h1M514 349.5h1M143 350.5h3M172 350.5h4M181 350.5h1M230 350.5h1M237 350.5h1M269 350.5h1M280 350.5h1M287 350.5h1M292 350.5h1M296 350.5h1M305 350.5h1M307 350.5h3M311 350.5h2M315 350.5h5M323 350.5h4M328 350.5h1M330 350.5h16M348 350.5h1M354 350.5h1M357 350.5h2M364 350.5h1M366 350.5h1M374 350.5h1M390 350.5h1M405 350.5h1M417 350.5h1M423 350.5h2M431 350.5h1M443 350.5h1M450 350.5h2M458 350.5h1M487 350.5h1M497 350.5h1M565 350.5h1M89 351.5h1M100 351.5h2M114 351.5h1M118 351.5h1M143 351.5h1M177 351.5h1M231 351.5h1M247 351.5h1M270 351.5h1M272 351.5h1M279 351.5h1M295 351.5h1M302 351.5h1M309 351.5h1M313 351.5h1M315 351.5h1M321 351.5h2M324 351.5h1M329 351.5h2M335 351.5h2M345 351.5h1M365 351.5h1M401 351.5h1M410 351.5h1M433 351.5h1M454 351.5h1M464 351.5h1M177 352.5h1M302 352.5h1M309 352.5h1M312 352.5h3M318 352.5h1M323 352.5h2M329 352.5h2M335 352.5h3M349 352.5h1M410 352.5h1M87 353.5h1M94 353.5h1M122 353.5h1M136 353.5h1M150 353.5h1M177 353.5h1M207 353.5h1M243 353.5h1M271 353.5h1M296 353.5h1M300 353.5h1M302 353.5h18M322 353.5h4M328 353.5h4M335 353.5h6M349 353.5h1M363 353.5h1M368 353.5h1M410 353.5h1M478 353.5h1M487 353.5h2M537 353.5h1M541 353.5h2M563 353.5h1M569 353.5h1M91 354.5h1M104 354.5h1M109 354.5h1M136 354.5h1M141 354.5h1M146 354.5h1M217 354.5h1M220 354.5h1M241 354.5h1M247 354.5h1M292 354.5h1M296 354.5h2M301 354.5h2M305 354.5h2M317 354.5h6M327 354.5h2M331 354.5h1M338 354.5h1M340 354.5h1M342 354.5h2M369 354.5h1M377 354.5h1M403 354.5h1M460 354.5h1M462 354.5h1M492 354.5h1M533 354.5h1M536 354.5h1M542 354.5h1M557 354.5h1M301 355.5h2M317 355.5h2M321 355.5h2M327 355.5h2M331 355.5h1M338 355.5h1M340 355.5h1M342 355.5h1M100 356.5h1M112 356.5h1M187 356.5h1M199 356.5h1M203 356.5h1M229 356.5h1M235 356.5h1M246 356.5h1M250 356.5h2M273 356.5h1M277 356.5h1M284 356.5h1M298 356.5h5M308 356.5h3M317 356.5h1M322 356.5h2M325 356.5h1M327 356.5h3M331 356.5h2M334 356.5h1M338 356.5h1M340 356.5h1M342 356.5h1M344 356.5h1M351 356.5h1M404 356.5h1M442 356.5h1M465 356.5h1M472 356.5h1M480 356.5h1M529 356.5h1M561 356.5h1M564 356.5h1M88 357.5h1M126 357.5h2M130 357.5h3M154 357.5h1M156 357.5h1M201 357.5h1M261 357.5h1M276 357.5h1M284 357.5h1M288 357.5h1M300 357.5h1M304 357.5h1M306 357.5h1M311 357.5h2M315 357.5h5M321 357.5h2M328 357.5h1M332 357.5h3M336 357.5h1M339 357.5h3M344 357.5h7M356 357.5h1M362 357.5h3M366 357.5h1M409 357.5h1M418 357.5h1M447 357.5h1M451 357.5h1M460 357.5h1M465 357.5h1M481 357.5h2M494 357.5h2M539 357.5h1M549 357.5h1M565 357.5h1M569 357.5h1M276 358.5h1M305 358.5h1M313 358.5h1M315 358.5h5M322 358.5h1M324 358.5h1M328 358.5h1M340 358.5h1M348 358.5h1M80 359.5h1M124 359.5h1M144 359.5h1M151 359.5h1M223 359.5h1M226 359.5h1M253 359.5h1M259 359.5h1M276 359.5h1M296 359.5h1M306 359.5h5M313 359.5h3M317 359.5h4M322 359.5h1M324 359.5h2M327 359.5h2M331 359.5h1M337 359.5h1M340 359.5h1M347 359.5h1M349 359.5h1M374 359.5h1M379 359.5h1M425 359.5h1M506 359.5h1M98 360.5h1M121 360.5h1M151 360.5h1M200 360.5h1M204 360.5h1M225 360.5h1M277 360.5h1M279 360.5h1M296 360.5h1M302 360.5h3M307 360.5h1M311 360.5h4M316 360.5h5M322 360.5h2M328 360.5h3M334 360.5h4M341 360.5h7M349 360.5h2M365 360.5h1M377 360.5h1M389 360.5h1M453 360.5h1M474 360.5h1M478 360.5h1M118 361.5h1M197 361.5h1M223 361.5h1M231 361.5h1M270 361.5h1M276 361.5h1M283 361.5h2M295 361.5h1M299 361.5h1M301 361.5h1M304 361.5h1M315 361.5h1M320 361.5h9M330 361.5h1M334 361.5h3M343 361.5h3M347 361.5h1M349 361.5h1M352 361.5h1M364 361.5h1M372 361.5h1M382 361.5h1M396 361.5h1M451 361.5h1M483 361.5h1M527 361.5h1M545 361.5h1M569 361.5h1M299 362.5h1M301 362.5h1M304 362.5h1M314 362.5h2M320 362.5h9M330 362.5h1M334 362.5h1M336 362.5h1M343 362.5h1M345 362.5h1M347 362.5h3M352 362.5h1M527 362.5h1M83 363.5h1M103 363.5h1M113 363.5h1M134 363.5h1M140 363.5h1M154 363.5h1M176 363.5h1M196 363.5h1M227 363.5h1M252 363.5h2M258 363.5h1M285 363.5h1M296 363.5h2M299 363.5h4M304 363.5h1M306 363.5h2M310 363.5h1M313 363.5h3M317 363.5h2M322 363.5h3M328 363.5h1M330 363.5h1M336 363.5h5M348 363.5h3M354 363.5h2M359 363.5h1M376 363.5h1M390 363.5h1M400 363.5h1M422 363.5h1M446 363.5h1M454 363.5h1M513 363.5h1M539 363.5h1M541 363.5h1M564 363.5h1M148 364.5h1M225 364.5h1M244 364.5h5M253 364.5h1M282 364.5h1M301 364.5h1M309 364.5h3M314 364.5h1M317 364.5h4M325 364.5h1M327 364.5h4M332 364.5h1M335 364.5h1M339 364.5h1M344 364.5h1M350 364.5h1M355 364.5h1M374 364.5h1M401 364.5h1M425 364.5h1M437 364.5h1M444 364.5h1M458 364.5h1M492 364.5h1M312 365.5h1M315 365.5h2M318 365.5h3M328 365.5h2M335 365.5h1M339 365.5h1M344 365.5h1M437 365.5h1M79 366.5h1M113 366.5h1M115 366.5h1M122 366.5h1M141 366.5h1M157 366.5h1M168 366.5h1M171 366.5h1M194 366.5h1M228 366.5h1M259 366.5h1M271 366.5h1M279 366.5h1M298 366.5h1M312 366.5h9M322 366.5h1M324 366.5h1M326 366.5h4M335 366.5h1M339 366.5h4M344 366.5h1M360 366.5h1M378 366.5h1M398 366.5h1M409 366.5h1M415 366.5h1M437 366.5h1M468 366.5h1M471 366.5h1M498 366.5h1M515 366.5h1M523 366.5h1M549 366.5h1M560 366.5h3M86 367.5h1M138 367.5h2M190 367.5h1M199 367.5h1M209 367.5h1M222 367.5h1M228 367.5h1M243 367.5h1M284 367.5h2M295 367.5h4M300 367.5h1M303 367.5h1M306 367.5h1M316 367.5h1M319 367.5h2M324 367.5h1M327 367.5h1M329 367.5h1M336 367.5h1M341 367.5h1M345 367.5h1M359 367.5h2M370 367.5h1M390 367.5h1M396 367.5h1M440 367.5h1M443 367.5h1M452 367.5h1M518 367.5h1M549 367.5h1M295 368.5h1M306 368.5h1M336 368.5h1M341 368.5h1M345 368.5h1M396 368.5h1M109 369.5h1M135 369.5h1M203 369.5h1M206 369.5h1M254 369.5h1M272 369.5h1M290 369.5h1M295 369.5h1M305 369.5h2M308 369.5h2M311 369.5h1M318 369.5h1M322 369.5h2M332 369.5h1M336 369.5h2M341 369.5h1M345 369.5h2M349 369.5h2M371 369.5h1M392 369.5h1M396 369.5h1M400 369.5h1M460 369.5h1M480 369.5h1M516 369.5h1M520 369.5h1M88 370.5h1M121 370.5h1M133 370.5h1M159 370.5h1M182 370.5h1M195 370.5h1M201 370.5h1M235 370.5h1M238 370.5h1M263 370.5h1M287 370.5h1M296 370.5h1M302 370.5h1M312 370.5h2M316 370.5h1M319 370.5h1M327 370.5h1M331 370.5h2M334 370.5h1M336 370.5h3M344 370.5h2M353 370.5h1M356 370.5h1M363 370.5h1M391 370.5h1M401 370.5h1M432 370.5h1M440 370.5h1M488 370.5h1M516 370.5h1M535 370.5h1M549 370.5h1M554 370.5h1M123 371.5h1M302 371.5h1M311 371.5h1M314 371.5h3M321 371.5h1M327 371.5h2M332 371.5h1M334 371.5h1M488 371.5h1M516 371.5h1M116 372.5h1M123 372.5h2M164 372.5h1M211 372.5h1M219 372.5h1M229 372.5h1M247 372.5h1M273 372.5h1M292 372.5h1M298 372.5h1M302 372.5h1M306 372.5h2M311 372.5h1M314 372.5h5M321 372.5h2M328 372.5h4M334 372.5h1M336 372.5h1M339 372.5h1M347 372.5h1M378 372.5h1M425 372.5h1M480 372.5h1M485 372.5h1M488 372.5h1M491 372.5h1M508 372.5h1M526 372.5h1M556 372.5h2M88 373.5h1M90 373.5h1M94 373.5h1M118 373.5h2M156 373.5h2M181 373.5h2M187 373.5h1M195 373.5h1M198 373.5h1M208 373.5h1M250 373.5h1M263 373.5h3M284 373.5h1M287 373.5h1M295 373.5h1M297 373.5h1M299 373.5h1M306 373.5h2M310 373.5h2M314 373.5h1M318 373.5h4M323 373.5h3M328 373.5h3M333 373.5h1M336 373.5h5M342 373.5h6M373 373.5h1M396 373.5h1M398 373.5h1M421 373.5h1M444 373.5h1M453 373.5h1M476 373.5h1M493 373.5h2M528 373.5h1M543 373.5h2M551 373.5h1M80 374.5h1M94 374.5h1M119 374.5h1M139 374.5h1M163 374.5h1M167 374.5h1M225 374.5h1M268 374.5h1M285 374.5h1M297 374.5h1M307 374.5h2M310 374.5h2M313 374.5h1M315 374.5h1M322 374.5h1M325 374.5h2M328 374.5h2M340 374.5h2M343 374.5h1M346 374.5h2M375 374.5h1M396 374.5h1M409 374.5h1M440 374.5h1M476 374.5h1M488 374.5h1M94 375.5h1M163 375.5h1M167 375.5h1M296 375.5h2M307 375.5h1M310 375.5h2M315 375.5h1M324 375.5h3M328 375.5h1M340 375.5h2M343 375.5h1M346 375.5h2M375 375.5h1M440 375.5h1M85 376.5h1M93 376.5h1M128 376.5h4M145 376.5h1M192 376.5h1M247 376.5h1M251 376.5h1M257 376.5h1M279 376.5h1M292 376.5h1M296 376.5h2M306 376.5h2M309 376.5h1M314 376.5h3M324 376.5h1M328 376.5h1M330 376.5h1M332 376.5h1M334 376.5h2M338 376.5h2M343 376.5h1M354 376.5h1M362 376.5h1M375 376.5h1M386 376.5h1M391 376.5h1M394 376.5h1M406 376.5h1M440 376.5h1M442 376.5h1M457 376.5h1M479 376.5h1M511 376.5h1M515 376.5h1M525 376.5h3M567 376.5h1M88 377.5h1M200 377.5h1M231 377.5h1M253 377.5h1M292 377.5h2M296 377.5h1M302 377.5h2M311 377.5h1M313 377.5h2M318 377.5h1M320 377.5h3M324 377.5h2M336 377.5h1M338 377.5h2M364 377.5h1M368 377.5h1M370 377.5h1M395 377.5h1M413 377.5h3M447 377.5h1M451 377.5h1M458 377.5h1M469 377.5h1M485 377.5h1M541 377.5h1M556 377.5h1M561 377.5h1M296 378.5h1M302 378.5h2M308 378.5h1M313 378.5h1M321 378.5h1M323 378.5h1M335 378.5h1M338 378.5h2M556 378.5h1M117 379.5h1M146 379.5h1M255 379.5h1M258 379.5h1M272 379.5h1M276 379.5h1M288 379.5h1M296 379.5h1M302 379.5h4M308 379.5h1M313 379.5h1M321 379.5h1M323 379.5h1M326 379.5h1M328 379.5h1M334 379.5h2M338 379.5h2M343 379.5h1M347 379.5h1M359 379.5h1M362 379.5h1M365 379.5h1M368 379.5h1M380 379.5h1M422 379.5h1M425 379.5h1M456 379.5h1M465 379.5h1M478 379.5h1M483 379.5h1M505 379.5h1M522 379.5h1M529 379.5h1M542 379.5h1M556 379.5h1M564 379.5h1M99 380.5h1M106 380.5h1M121 380.5h1M144 380.5h1M154 380.5h1M183 380.5h1M195 380.5h1M227 380.5h1M310 380.5h4M316 380.5h2M320 380.5h1M332 380.5h1M334 380.5h1M339 380.5h2M346 380.5h1M366 380.5h1M429 380.5h1M447 380.5h1M473 380.5h1M550 380.5h2M311 381.5h3M334 381.5h1M79 382.5h1M82 382.5h1M110 382.5h1M169 382.5h1M211 382.5h1M234 382.5h1M244 382.5h1M280 382.5h1M302 382.5h1M312 382.5h4M325 382.5h1M334 382.5h1M342 382.5h1M347 382.5h1M365 382.5h1M369 382.5h1M418 382.5h1M426 382.5h1M432 382.5h3M456 382.5h1M482 382.5h1M488 382.5h1M490 382.5h1M544 382.5h1M80 383.5h1M94 383.5h1M108 383.5h1M172 383.5h2M208 383.5h1M217 383.5h1M224 383.5h1M260 383.5h1M273 383.5h1M277 383.5h1M279 383.5h1M289 383.5h1M302 383.5h1M307 383.5h5M316 383.5h1M318 383.5h1M323 383.5h2M327 383.5h1M329 383.5h1M332 383.5h1M335 383.5h2M344 383.5h1M347 383.5h1M352 383.5h1M357 383.5h1M359 383.5h1M361 383.5h1M368 383.5h1M378 383.5h1M385 383.5h1M388 383.5h1M395 383.5h1M456 383.5h1M467 383.5h1M533 383.5h1M540 383.5h1M555 383.5h1M311 384.5h1M316 384.5h1M318 384.5h1M332 384.5h1M344 384.5h1M361 384.5h1M467 384.5h1M86 385.5h1M148 385.5h1M150 385.5h1M225 385.5h1M288 385.5h1M299 385.5h1M311 385.5h1M313 385.5h1M315 385.5h2M318 385.5h1M321 385.5h1M324 385.5h1M328 385.5h1M332 385.5h1M344 385.5h1M360 385.5h1M364 385.5h1M398 385.5h1M428 385.5h1M498 385.5h1M528 385.5h2M138 386.5h1M178 386.5h2M183 386.5h1M198 386.5h1M207 386.5h1M248 386.5h1M266 386.5h1M284 386.5h1M293 386.5h1M305 386.5h1M314 386.5h3M320 386.5h8M337 386.5h1M343 386.5h2M347 386.5h1M360 386.5h1M387 386.5h1M405 386.5h1M411 386.5h1M416 386.5h1M421 386.5h1M434 386.5h1M451 386.5h1M488 386.5h1M520 386.5h1M80 387.5h1M104 387.5h1M113 387.5h1M179 387.5h1M270 387.5h1M276 387.5h1M287 387.5h1M304 387.5h1M307 387.5h2M314 387.5h1M316 387.5h1M320 387.5h2M326 387.5h1M328 387.5h1M345 387.5h1M358 387.5h1M360 387.5h1M362 387.5h1M370 387.5h1M414 387.5h1M446 387.5h1M531 387.5h1M557 387.5h1M304 388.5h1M308 388.5h1M314 388.5h1M316 388.5h1M320 388.5h1M326 388.5h1M328 388.5h1M330 388.5h1M345 388.5h1M358 388.5h1M362 388.5h1M370 388.5h1M547 388.5h1M119 389.5h1M145 389.5h1M158 389.5h1M178 389.5h2M193 389.5h1M230 389.5h1M244 389.5h1M280 389.5h1M292 389.5h1M304 389.5h1M308 389.5h1M314 389.5h4M320 389.5h1M322 389.5h2M327 389.5h1M329 389.5h1M333 389.5h1M339 389.5h1M348 389.5h2M354 389.5h1M359 389.5h1M362 389.5h1M366 389.5h1M368 389.5h3M385 389.5h1M393 389.5h1M429 389.5h1M449 389.5h1M464 389.5h1M498 389.5h1M505 389.5h2M536 389.5h1M547 389.5h1M565 389.5h1M83 390.5h1M87 390.5h1M98 390.5h2M119 390.5h1M123 390.5h1M146 390.5h1M222 390.5h1M232 390.5h1M244 390.5h1M278 390.5h1M309 390.5h1M321 390.5h1M326 390.5h1M335 390.5h1M337 390.5h1M341 390.5h1M344 390.5h1M346 390.5h1M364 390.5h1M394 390.5h1M398 390.5h1M418 390.5h1M425 390.5h1M453 390.5h1M488 390.5h1M511 390.5h1M309 391.5h1M321 391.5h1M364 391.5h1M108 392.5h1M121 392.5h1M132 392.5h1M150 392.5h1M152 392.5h1M196 392.5h2M230 392.5h1M262 392.5h1M264 392.5h1M270 392.5h1M291 392.5h1M306 392.5h1M309 392.5h2M315 392.5h1M318 392.5h1M321 392.5h1M338 392.5h1M343 392.5h1M358 392.5h1M364 392.5h1M381 392.5h1M406 392.5h1M442 392.5h1M484 392.5h1M487 392.5h1M502 392.5h1M523 392.5h1M558 392.5h1M118 393.5h1M142 393.5h1M144 393.5h1M154 393.5h1M158 393.5h1M200 393.5h1M228 393.5h1M250 393.5h1M284 393.5h3M299 393.5h1M302 393.5h1M310 393.5h1M314 393.5h2M320 393.5h2M334 393.5h1M340 393.5h1M361 393.5h1M368 393.5h1M382 393.5h1M401 393.5h1M414 393.5h1M452 393.5h1M456 393.5h1M480 393.5h1M485 393.5h1M490 393.5h1M523 393.5h1M299 394.5h1M334 394.5h1M84 395.5h1M88 395.5h1M93 395.5h2M98 395.5h1M119 395.5h1M122 395.5h1M128 395.5h1M133 395.5h1M155 395.5h1M159 395.5h1M189 395.5h1M229 395.5h1M232 395.5h1M246 395.5h1M248 395.5h1M257 395.5h1M261 395.5h3M287 395.5h1M297 395.5h3M303 395.5h1M307 395.5h1M325 395.5h1M330 395.5h1M344 395.5h2M350 395.5h1M380 395.5h1M383 395.5h1M400 395.5h1M416 395.5h1M443 395.5h1M453 395.5h1M473 395.5h1M539 395.5h1M545 395.5h1M556 395.5h1M569 395.5h1M109 396.5h1M171 396.5h2M211 396.5h1M222 396.5h1M233 396.5h1M242 396.5h1M245 396.5h1M255 396.5h1M302 396.5h4M309 396.5h1M312 396.5h1M317 396.5h3M322 396.5h2M326 396.5h1M329 396.5h1M332 396.5h1M336 396.5h5M342 396.5h3M359 396.5h1M390 396.5h1M398 396.5h2M425 396.5h1M428 396.5h1M435 396.5h1M439 396.5h1M446 396.5h3M503 396.5h3M512 396.5h3M519 396.5h1M549 396.5h1M109 397.5h1M302 397.5h1M309 397.5h1M312 397.5h1M336 397.5h1M155 398.5h1M174 398.5h1M213 398.5h1M252 398.5h1M262 398.5h2M265 398.5h1M281 398.5h1M300 398.5h1M304 398.5h1M309 398.5h1M312 398.5h1M316 398.5h1M322 398.5h1M328 398.5h1M335 398.5h2M547 398.5h1M567 398.5h2M94 399.5h1M100 399.5h1M106 399.5h1M120 399.5h1M142 399.5h1M171 399.5h1M195 399.5h2M223 399.5h1M245 399.5h4M250 399.5h1M264 399.5h1M283 399.5h1M288 399.5h3M313 399.5h2M319 399.5h1M322 399.5h2M336 399.5h1M341 399.5h1M386 399.5h1M403 399.5h1M478 399.5h1M513 399.5h1M528 399.5h1M532 399.5h1M556 399.5h1M129 400.5h1M137 400.5h1M161 400.5h1M171 400.5h1M174 400.5h1M187 400.5h1M236 400.5h1M290 400.5h2M299 400.5h2M310 400.5h2M313 400.5h1M335 400.5h1M342 400.5h1M356 400.5h1M374 400.5h1M472 400.5h1M528 400.5h1M542 400.5h1M550 400.5h1M554 400.5h1M571 400.5h1M93 401.5h1M114 401.5h1M137 401.5h1M161 401.5h1M171 401.5h1M174 401.5h1M187 401.5h1M311 401.5h1M313 401.5h1M332 401.5h1M335 401.5h1M342 401.5h1M356 401.5h1M80 402.5h1M93 402.5h1M113 402.5h1M133 402.5h1M173 402.5h1M182 402.5h2M185 402.5h1M194 402.5h1M201 402.5h1M218 402.5h1M265 402.5h1M271 402.5h2M283 402.5h1M294 402.5h1M296 402.5h2M303 402.5h1M308 402.5h2M313 402.5h2M320 402.5h1M324 402.5h1M327 402.5h1M332 402.5h1M341 402.5h1M344 402.5h2M350 402.5h1M356 402.5h1M361 402.5h1M385 402.5h1M414 402.5h1M448 402.5h1M455 402.5h1M463 402.5h1M514 402.5h2M519 402.5h1M532 402.5h1M561 402.5h1M197 403.5h1M267 403.5h1M269 403.5h2M279 403.5h1M291 403.5h1M294 403.5h1M302 403.5h1M323 403.5h1M329 403.5h1M331 403.5h1M334 403.5h1M339 403.5h2M406 403.5h1M416 403.5h1M419 403.5h1M423 403.5h1M443 403.5h1M452 403.5h1M505 403.5h1M529 403.5h1M537 403.5h1M549 403.5h1M563 403.5h2M323 404.5h1M129 405.5h1M137 405.5h1M139 405.5h1M181 405.5h1M224 405.5h1M228 405.5h1M244 405.5h1M246 405.5h1M272 405.5h1M276 405.5h1M293 405.5h1M300 405.5h2M303 405.5h3M317 405.5h1M320 405.5h4M325 405.5h1M353 405.5h1M368 405.5h1M391 405.5h1M397 405.5h1M425 405.5h1M434 405.5h1M442 405.5h1M455 405.5h1M493 405.5h1M524 405.5h1M547 405.5h1M558 405.5h1M159 406.5h1M172 406.5h1M207 406.5h1M213 406.5h1M292 406.5h2M303 406.5h1M306 406.5h1M316 406.5h1M320 406.5h3M335 406.5h1M342 406.5h1M344 406.5h1M348 406.5h2M376 406.5h2M382 406.5h1M389 406.5h1M420 406.5h1M457 406.5h1M475 406.5h1M495 406.5h1M522 406.5h1M293 407.5h1M320 407.5h1M344 407.5h1M90 408.5h1M100 408.5h1M121 408.5h1M196 408.5h1M218 408.5h1M228 408.5h1M237 408.5h1M264 408.5h1M278 408.5h1M286 408.5h1M293 408.5h1M304 408.5h1M314 408.5h1M319 408.5h1M324 408.5h1M326 408.5h2M344 408.5h1M355 408.5h1M375 408.5h1M442 408.5h1M454 408.5h1M462 408.5h1M514 408.5h1M519 408.5h1M540 408.5h1M558 408.5h1M560 408.5h1M563 408.5h1M142 409.5h1M165 409.5h1M173 409.5h1M186 409.5h1M201 409.5h1M217 409.5h2M255 409.5h1M282 409.5h1M305 409.5h1M312 409.5h1M317 409.5h1M323 409.5h1M327 409.5h1M336 409.5h1M341 409.5h3M345 409.5h2M360 409.5h1M364 409.5h1M367 409.5h1M386 409.5h1M388 409.5h2M401 409.5h1M425 409.5h1M474 409.5h1M512 409.5h1M523 409.5h1M528 409.5h1M313 410.5h1M324 410.5h1M120 411.5h1M262 411.5h1M314 411.5h1M324 411.5h2M336 411.5h1M346 411.5h1M437 411.5h1M464 411.5h1M553 411.5h1M117 412.5h1M142 412.5h1M148 412.5h1M175 412.5h1M178 412.5h4M241 412.5h1M246 412.5h1M263 412.5h1M299 412.5h1M303 412.5h1M306 412.5h2M310 412.5h1M318 412.5h2M325 412.5h2M335 412.5h2M343 412.5h1M345 412.5h2M360 412.5h2M363 412.5h1M365 412.5h1M369 412.5h1M381 412.5h1M398 412.5h1M501 412.5h1M117 413.5h1M203 413.5h1M217 413.5h1M274 413.5h2M300 413.5h1M310 413.5h1M314 413.5h1M334 413.5h2M353 413.5h1M363 413.5h1M391 413.5h1M394 413.5h1M469 413.5h1M482 413.5h1M512 413.5h1M532 413.5h1M274 414.5h2M310 414.5h1M334 414.5h2M353 414.5h1M512 414.5h1M80 415.5h1M86 415.5h1M102 415.5h1M104 415.5h1M128 415.5h1M152 415.5h1M167 415.5h2M174 415.5h2M187 415.5h1M204 415.5h1M211 415.5h1M227 415.5h1M275 415.5h1M300 415.5h1M308 415.5h5M328 415.5h1M331 415.5h1M342 415.5h1M408 415.5h1M433 415.5h1M436 415.5h1M442 415.5h1M484 415.5h1M544 415.5h1M554 415.5h1M117 416.5h2M190 416.5h1M202 416.5h1M230 416.5h1M282 416.5h1M307 416.5h1M329 416.5h1M336 416.5h1M340 416.5h1M359 416.5h1M365 416.5h1M414 416.5h1M424 416.5h2M447 416.5h1M469 416.5h1M535 416.5h1M570 416.5h1M425 417.5h1M114 418.5h1M124 418.5h1M160 418.5h1M191 418.5h2M235 418.5h1M254 418.5h1M286 418.5h1M302 418.5h1M315 418.5h1M320 418.5h1M337 418.5h1M348 418.5h1M364 418.5h1M397 418.5h1M411 418.5h1M425 418.5h1M551 418.5h1M555 418.5h1M113 419.5h1M125 419.5h1M201 419.5h1M259 419.5h1M268 419.5h1M277 419.5h1M289 419.5h1M300 419.5h1M313 419.5h1M327 419.5h2M339 419.5h2M360 419.5h1M364 419.5h1M398 419.5h1M406 419.5h1M419 419.5h1M442 419.5h1M464 419.5h1M540 419.5h1M543 419.5h1M555 419.5h1M313 420.5h1M339 420.5h2M107 421.5h1M118 421.5h1M185 421.5h1M188 421.5h1M217 421.5h1M220 421.5h1M284 421.5h1M286 421.5h1M292 421.5h1M303 421.5h1M313 421.5h1M326 421.5h1M330 421.5h1M339 421.5h2M401 421.5h1M423 421.5h1M427 421.5h1M433 421.5h2M474 421.5h1M480 421.5h1M539 421.5h1M554 421.5h1M84 422.5h2M89 422.5h1M120 422.5h1M130 422.5h1M132 422.5h1M144 422.5h1M184 422.5h1M200 422.5h2M203 422.5h1M209 422.5h1M212 422.5h1M217 422.5h1M258 422.5h1M262 422.5h1M294 422.5h1M299 422.5h1M306 422.5h1M314 422.5h1M320 422.5h1M324 422.5h1M346 422.5h2M385 422.5h1M399 422.5h1M418 422.5h1M460 422.5h1M474 422.5h1M562 422.5h2M259 423.5h1M314 423.5h1M399 423.5h1M189 424.5h1M213 424.5h1M250 424.5h1M280 424.5h1M314 424.5h1M318 424.5h1M321 424.5h1M325 424.5h1M329 424.5h1M343 424.5h1M346 424.5h2M358 424.5h1M399 424.5h1M431 424.5h1M95 425.5h1M183 425.5h2M200 425.5h1M214 425.5h1M230 425.5h1M247 425.5h1M287 425.5h1M293 425.5h1M302 425.5h1M304 425.5h1M309 425.5h1M311 425.5h1M316 425.5h1M324 425.5h4M334 425.5h2M339 425.5h1M346 425.5h2M354 425.5h3M367 425.5h1M407 425.5h1M451 425.5h1M465 425.5h1M495 425.5h2M564 425.5h1M571 425.5h1M246 426.5h1M276 426.5h1M315 426.5h1M326 426.5h1M333 426.5h2M347 426.5h1M375 426.5h1M489 426.5h1M496 426.5h1M498 426.5h1M519 426.5h1M525 426.5h1M315 427.5h1M333 427.5h1M347 427.5h1M477 427.5h1M496 427.5h1M498 427.5h1M519 427.5h1M90 428.5h1M95 428.5h1M150 428.5h1M158 428.5h1M173 428.5h1M177 428.5h1M180 428.5h1M216 428.5h1M220 428.5h1M238 428.5h1M283 428.5h1M291 428.5h1M315 428.5h3M323 428.5h5M336 428.5h1M347 428.5h2M351 428.5h1M357 428.5h1M359 428.5h1M377 428.5h1M416 428.5h1M476 428.5h1M483 428.5h1M491 428.5h1M557 428.5h1M560 428.5h1M103 429.5h1M128 429.5h1M168 429.5h1M255 429.5h1M284 429.5h1M287 429.5h1M296 429.5h1M307 429.5h1M318 429.5h2M332 429.5h1M347 429.5h1M353 429.5h1M395 429.5h1M399 429.5h1M409 429.5h1M415 429.5h1M430 429.5h1M517 429.5h1M566 429.5h1M147 430.5h1M183 430.5h1M566 430.5h1M87 431.5h1M111 431.5h1M121 431.5h1M147 431.5h1M159 431.5h1M183 431.5h1M216 431.5h1M220 431.5h1M242 431.5h1M249 431.5h1M295 431.5h1M310 431.5h1M337 431.5h1M474 431.5h1M525 431.5h1M527 431.5h1M547 431.5h1M564 431.5h1M566 431.5h1M83 432.5h1M92 432.5h1M100 432.5h2M137 432.5h1M180 432.5h1M193 432.5h1M204 432.5h1M279 432.5h1M291 432.5h1M310 432.5h2M313 432.5h1M321 432.5h1M329 432.5h1M332 432.5h1M338 432.5h1M404 432.5h1M450 432.5h1M474 432.5h1M496 432.5h1M501 432.5h1M554 432.5h1M311 433.5h1M329 433.5h1M124 434.5h1M150 434.5h1M278 434.5h1M287 434.5h1M289 434.5h1M300 434.5h1M320 434.5h2M327 434.5h1M341 434.5h1M355 434.5h1M392 434.5h1M551 434.5h1M569 434.5h1M86 435.5h1M94 435.5h1M99 435.5h1M101 435.5h1M171 435.5h1M199 435.5h1M236 435.5h1M267 435.5h1M299 435.5h1M306 435.5h1M318 435.5h1M321 435.5h1M324 435.5h1M326 435.5h1M331 435.5h1M333 435.5h3M349 435.5h1M363 435.5h1M374 435.5h1M381 435.5h1M404 435.5h1M424 435.5h1M489 435.5h1M501 435.5h1M507 435.5h1M520 435.5h1M551 435.5h1M570 435.5h1M318 436.5h1M326 436.5h1M84 437.5h1M154 437.5h1M180 437.5h1M260 437.5h1M262 437.5h1M276 437.5h1M287 437.5h1M318 437.5h1M323 437.5h1M326 437.5h1M339 437.5h2M343 437.5h1M395 437.5h1M403 437.5h1M442 437.5h1M541 437.5h1M135 438.5h1M156 438.5h2M171 438.5h2M179 438.5h2M186 438.5h1M313 438.5h1M322 438.5h3M331 438.5h1M336 438.5h2M399 438.5h1M458 438.5h1M492 438.5h1M520 438.5h2M551 438.5h1M571 438.5h1M112 439.5h1M123 439.5h1M126 439.5h1M179 439.5h1M308 439.5h1M322 439.5h1M405 439.5h2M432 439.5h1M521 439.5h1M537 439.5h1M179 440.5h1M308 440.5h1M368 440.5h1M405 440.5h2M521 440.5h1M99 441.5h1M165 441.5h1M169 441.5h2M200 441.5h1M221 441.5h1M233 441.5h1M305 441.5h1M326 441.5h1M369 441.5h1M455 441.5h1M494 441.5h1M548 441.5h1M88 442.5h1M129 442.5h1M177 442.5h1M189 442.5h1M205 442.5h1M273 442.5h1M277 442.5h1M332 442.5h1M346 442.5h1M496 442.5h1M515 442.5h1M137 444.5h1M190 444.5h1M237 444.5h1M287 444.5h1M298 444.5h1M352 444.5h1M392 444.5h1M437 444.5h1M455 444.5h1M466 444.5h1M512 444.5h1M537 444.5h2M563 444.5h1M94 445.5h1M104 445.5h1M215 445.5h1M244 445.5h1M286 445.5h1M292 445.5h1M336 445.5h1M390 445.5h1M441 445.5h1M447 445.5h1M549 445.5h1M441 446.5h1M87 447.5h1M195 447.5h1M226 447.5h1M414 447.5h1M441 447.5h1M454 447.5h1M458 447.5h1M171 448.5h2M264 448.5h1M277 448.5h1M282 448.5h1M318 448.5h1M335 448.5h1M374 448.5h1M404 448.5h1M440 448.5h1M496 448.5h1M498 448.5h1M503 448.5h2M512 448.5h1M520 448.5h2M321 450.5h1M409 450.5h1M538 450.5h1M160 451.5h1M167 451.5h1M178 451.5h1M253 451.5h1M276 451.5h1M288 451.5h1M291 451.5h1M294 451.5h1M319 451.5h1M347 451.5h2M386 451.5h1M409 451.5h1M430 451.5h3M482 451.5h1M205 452.5h1M389 452.5h1M341 453.5h1M389 453.5h1M108 454.5h1M253 454.5h1M286 454.5h1M334 454.5h1M341 454.5h1M351 454.5h1M368 454.5h1M371 454.5h1M407 454.5h1M423 454.5h1M428 454.5h1M476 454.5h1M521 454.5h1M129 455.5h1M224 455.5h1M244 455.5h1M286 455.5h1M325 455.5h1M422 455.5h1M313 457.5h1M316 457.5h2M364 457.5h1M386 457.5h1M443 457.5h1M550 457.5h1M94 458.5h1M376 458.5h1M122 460.5h1M138 460.5h1M170 460.5h1M404 460.5h1M453 460.5h1M458 460.5h1M129 461.5h1M179 461.5h2M190 461.5h1M333 461.5h1M488 461.5h1M502 461.5h1M544 461.5h1M248 463.5h1M121 464.5h1M140 464.5h1M166 464.5h2M440 464.5h1M561 464.5h1M166 465.5h1M218 465.5h1M166 466.5h1M130 467.5h1M165 467.5h1M188 467.5h1M196 467.5h1M206 467.5h1M208 467.5h1M215 467.5h1M227 467.5h1M452 467.5h1M178 468.5h1M247 468.5h1M302 468.5h1M311 468.5h1M324 468.5h1M338 468.5h1M454 468.5h1M121 470.5h1M254 470.5h1M356 470.5h1M358 470.5h1M374 470.5h1M442 470.5h1M83 471.5h1M97 471.5h1M272 471.5h1M468 471.5h1M412 473.5h1M496 473.5h1M86 474.5h1M103 474.5h1M111 474.5h1M260 474.5h1M324 474.5h1M423 474.5h1M291 477.5h1M325 478.5h1M533 478.5h1M314 480.5h1M319 480.5h1M343 480.5h2M517 480.5h1M399 481.5h1M405 481.5h1M79 483.5h1M85 483.5h1M294 483.5h1M332 483.5h1M337 483.5h1M403 483.5h1M543 483.5h1M297 484.5h1M345 484.5h1M355 486.5h1M206 487.5h1M315 487.5h1M331 487.5h1M97 489.5h1M335 489.5h1M105 490.5h1M317 490.5h1M113 493.5h1M120 493.5h1M327 493.5h1M443 494.5h1M289 496.5h1M453 496.5h1M488 496.5h1M547 496.5h1M557 496.5h1M137 499.5h1M222 499.5h1M299 499.5h1M569 499.5h1M558 500.5h1M568 502.5h1M219 503.5h1M299 506.5h1M310 506.5h1M439 508.5h1M322 509.5h1M503 509.5h1M363 513.5h1M430 513.5h1M461 513.5h1M123 529.5h1M327 532.5h1M528 535.5h1M306 536.5h1M383 536.5h1M214 538.5h1M371 545.5h1M241 548.5h1M295 560.5h1" stroke="#000" stroke-width="1" fill="none" shape-rendering="crispEdges"/>
<path d="M325.4 67.3h0M349 70.2h0M299.4 71.7h0M300.9 76h0M330.5 76h0M337 78.9h0M312.4 80.3h0M339.5 80.3h0M319.9 81.8h0M304.9 83.2h0M344 83.2h0M299.4 84.7h0M311.4 84.7h0M329 84.7h0M359.6 84.7h0M362.6 84.7h0M289.8 86.1h0M299.4 86.1h0M314.4 86.1h0M314.9 86.1h0M319.4 86.1h0M328 86.1h0M328.5 86.1h0M284.8 87.5h0M311.4 87.5h0M318.9 87.5h0M330.5 87.5h0M322.9 89h0M323.4 89h0M327.5 89h0M332.5 89h0M340 89h0M306.4 90.4h0M307.4 90.4h0M311.9 90.4h0M320.4 90.4h0M324.4 90.4h0M333.5 90.4h0M346 90.4h0M293.4 91.9h0M311.9 91.9h0M312.9 91.9h0M314.4 91.9h0M320.4 91.9h0M320.9 91.9h0M321.4 91.9h0M324.9 91.9h0M324.9 91.9h0M328.5 91.9h0M335.5 91.9h0M335.5 91.9h0M304.9 93.3h0M321.4 93.3h0M326 93.3h0M326 93.3h0M336 93.3h0M341 93.3h0M344.5 93.3h0M351.5 93.3h0M285.3 94.8h0M296.4 94.8h0M300.4 94.8h0M303.9 94.8h0M305.9 94.8h0M305.9 94.8h0M313.9 94.8h0M316.4 94.8h0M322.9 94.8h0M323.4 94.8h0M324.9 94.8h0M327 94.8h0M333 94.8h0M338 94.8h0M344 94.8h0M351 94.8h0M353.5 94.8h0M354.5 94.8h0M361.6 94.8h0M546.1 94.8h0M295.4 96.2h0M297.9 96.2h0M300.9 96.2h0M303.9 96.2h0M303.9 96.2h0M309.4 96.2h0M310.9 96.2h0M311.4 96.2h0M312.9 96.2h0M316.9 96.2h0M320.9 96.2h0M321.9 96.2h0M327 96.2h0M327.5 96.2h0M329 96.2h0M329.5 96.2h0M335.5 96.2h0M336.5 96.2h0M340.5 96.2h0M515.5 96.2h0M278.8 97.7h0M302.9 97.7h0M306.9 97.7h0M310.4 97.7h0M310.9 97.7h0M312.9 97.7h0M317.9 97.7h0M319.4 97.7h0M321.4 97.7h0M321.9 97.7h0M322.4 97.7h0M324.4 97.7h0M325.4 97.7h0M328 97.7h0M330.5 97.7h0M332 97.7h0M332.5 97.7h0M335.5 97.7h0M338 97.7h0M338.5 97.7h0M339.5 97.7h0M340.5 97.7h0M340.5 97.7h0M341 97.7h0M342.5 97.7h0M343.5 97.7h0M343.5 97.7h0M345 97.7h0M347.5 97.7h0M351.5 97.7h0M449.8 97.7h0M288.8 99.1h0M294.4 99.1h0M300.9 99.1h0M304.9 99.1h0M304.9 99.1h0M308.9 99.1h0M309.4 99.1h0M323.4 99.1h0M326.5 99.1h0M327 99.1h0M328.5 99.1h0M329.5 99.1h0M330 99.1h0M330 99.1h0M332 99.1h0M334 99.1h0M334.5 99.1h0M335.5 99.1h0M335.5 99.1h0M335.5 99.1h0M336 99.1h0M336 99.1h0M336.5 99.1h0M341 99.1h0M342 99.1h0M342.5 99.1h0M345 99.1h0M345.5 99.1h0M346 99.1h0M523.5 99.1h0M291.3 100.5h0M291.3 100.5h0M300.4 100.5h0M305.9 100.5h0M307.4 100.5h0M307.9 100.5h0M308.4 100.5h0M311.4 100.5h0M312.4 100.5h0M313.9 100.5h0M316.4 100.5h0M317.9 100.5h0M318.4 100.5h0M318.9 100.5h0M319.9 100.5h0M320.4 100.5h0M321.4 100.5h0M321.9 100.5h0M321.9 100.5h0M323.9 100.5h0M323.9 100.5h0M327.5 100.5h0M329.5 100.5h0M329.5 100.5h0M330 100.5h0M334 100.5h0M334.5 100.5h0M337 100.5h0M337.5 100.5h0M341 100.5h0M341.5 100.5h0M342.5 100.5h0M344.5 100.5h0M347 100.5h0M348.5 100.5h0M349.5 100.5h0M350.5 100.5h0M351 100.5h0M359.6 100.5h0M442.3 100.5h0M222.6 102h0M269.3 102h0M285.3 102h0M289.3 102h0M299.9 102h0M301.9 102h0M308.4 102h0M308.4 102h0M310.4 102h0M316.9 102h0M319.4 102h0M323.4 102h0M323.9 102h0M326 102h0M326.5 102h0M337 102h0M339 102h0M339 102h0M342.5 102h0M344 102h0M345 102h0M354 102h0M230.2 103.4h0M255.7 103.4h0M263.8 103.4h0M271.8 103.4h0M275.8 103.4h0M276.8 103.4h0M283.3 103.4h0M284.8 103.4h0M288.3 103.4h0M292.4 103.4h0M292.4 103.4h0M294.4 103.4h0M296.9 103.4h0M296.9 103.4h0M297.9 103.4h0M297.9 103.4h0M298.4 103.4h0M298.9 103.4h0M299.9 103.4h0M300.9 103.4h0M300.9 103.4h0M301.4 103.4h0M301.4 103.4h0M302.9 103.4h0M302.9 103.4h0M303.4 103.4h0M303.4 103.4h0M305.4 103.4h0M305.9 103.4h0M305.9 103.4h0M305.9 103.4h0M306.4 103.4h0M306.4 103.4h0M307.4 103.4h0M307.4 103.4h0M307.4 103.4h0M307.4 103.4h0M307.9 103.4h0M307.9 103.4h0M307.9 103.4h0M308.4 103.4h0M308.4 103.4h0M308.9 103.4h0M308.9 103.4h0M308.9 103.4h0M309.4 103.4h0M309.4 103.4h0M309.9 103.4h0M309.9 103.4h0M309.9 103.4h0M310.4 103.4h0M310.4 103.4h0M310.4 103.4h0M310.4 103.4h0M310.4 103.4h0M310.4 103.4h0M310.4 103.4h0M310.9 103.4h0M310.9 103.4h0M310.9 103.4h0M312.4 103.4h0M312.4 103.4h0M312.4 103.4h0M312.4 103.4h0M312.4 103.4h0M312.9 103.4h0M312.9 103.4h0M313.4 103.4h0M313.4 103.4h0M313.4 103.4h0M313.4 103.4h0M313.4 103.4h0M313.4 103.4h0M313.4 103.4h0M313.9 103.4h0M314.4 103.4h0M314.9 103.4h0M314.9 103.4h0M314.9 103.4h0M314.9 103.4h0M314.9 103.4h0M315.4 103.4h0M315.4 103.4h0M315.4 103.4h0M315.9 103.4h0M315.9 103.4h0M316.4 103.4h0M316.4 103.4h0M316.4 103.4h0M316.4 103.4h0M316.9 103.4h0M316.9 103.4h0M316.9 103.4h0M316.9 103.4h0M317.4 103.4h0M317.9 103.4h0M318.4 103.4h0M318.4 103.4h0M318.9 103.4h0M318.9 103.4h0M318.9 103.4h0M318.9 103.4h0M319.4 103.4h0M319.9 103.4h0M319.9 103.4h0M319.9 103.4h0M319.9 103.4h0M319.9 103.4h0M320.4 103.4h0M320.4 103.4h0M320.4 103.4h0M320.4 103.4h0M320.4 103.4h0M325.4 103.4h0M325.4 103.4h0M325.4 103.4h0M325.4 103.4h0M326 103.4h0M326 103.4h0M326 103.4h0M326.5 103.4h0M326.5 103.4h0M326.5 103.4h0M326.5 103.4h0M326.5 103.4h0M327 103.4h0M327 103.4h0M327 103.4h0M327 103.4h0M327 103.4h0M327.5 103.4h0M327.5 103.4h0M327.5 103.4h0M327.5 103.4h0M327.5 103.4h0M327.5 103.4h0M328 103.4h0M328 103.4h0M328 103.4h0M328.5 103.4h0M328.5 103.4h0M328.5 103.4h0M328.5 103.4h0M329 103.4h0M329 103.4h0M329 103.4h0M329.5 103.4h0M329.5 103.4h0M330 103.4h0M330 103.4h0M330 103.4h0M330.5 103.4h0M330.5 103.4h0M330.5 103.4h0M331 103.4h0M331 103.4h0M331 103.4h0M331 103.4h0M331 103.4h0M331 103.4h0M331 103.4h0M331.5 103.4h0M331.5 103.4h0M331.5 103.4h0M331.5 103.4h0M332 103.4h0M332 103.4h0M332 103.4h0M332 103.4h0M332 103.4h0M332 103.4h0M332.5 103.4h0M332.5 103.4h0M332.5 103.4h0M333 103.4h0M333 103.4h0M333 103.4h0M333 103.4h0M333.5 103.4h0M334 103.4h0M334 103.4h0M334.5 103.4h0M334.5 103.4h0M334.5 103.4h0M335 103.4h0M335 103.4h0M335.5 103.4h0M335.5 103.4h0M335.5 103.4h0M335.5 103.4h0M335.5 103.4h0M335.5 103.4h0M335.5 103.4h0M336 103.4h0M336 103.4h0M336 103.4h0M336.5 103.4h0M336.5 103.4h0M336.5 103.4h0M337 103.4h0M337 103.4h0M337 103.4h0M337 103.4h0M337 103.4h0M337 103.4h0M337.5 103.4h0M337.5 103.4h0M337.5 103.4h0M338 103.4h0M338 103.4h0M338 103.4h0M338.5 103.4h0M338.5 103.4h0M339 103.4h0M339 103.4h0M339 103.4h0M339.5 103.4h0M339.5 103.4h0M339.5 103.4h0M339.5 103.4h0M340 103.4h0M340.5 103.4h0M340.5 103.4h0M340.5 103.4h0M340.5 103.4h0M341 103.4h0M341 103.4h0M341 103.4h0M341.5 103.4h0M341.5 103.4h0M341.5 103.4h0M341.5 103.4h0M342 103.4h0M342 103.4h0M343 103.4h0M343 103.4h0M343 103.4h0M343.5 103.4h0M344 103.4h0M344 103.4h0M344 103.4h0M344 103.4h0M344.5 103.4h0M345 103.4h0M345.5 103.4h0M345.5 103.4h0M346.5 103.4h0M346.5 103.4h0M347 103.4h0M347.5 103.4h0M347.5 103.4h0M348 103.4h0M348.5 103.4h0M349.5 103.4h0M350 103.4h0M350.5 103.4h0M351.5 103.4h0M351.5 103.4h0M352 103.4h0M352 103.4h0M352 103.4h0M352.5 103.4h0M353.5 103.4h0M353.5 103.4h0M354.5 103.4h0M355 103.4h0M355.5 103.4h0M357.5 103.4h0M358.5 103.4h0M362.6 103.4h0M364.6 103.4h0M365.1 103.4h0M371.1 103.4h0M376.1 103.4h0M377.1 103.4h0M496.5 103.4h0M292.4 104.9h0M305.9 104.9h0M311.4 104.9h0M311.9 104.9h0M311.9 104.9h0M318.4 104.9h0M320.9 104.9h0M324.4 104.9h0M324.9 104.9h0M331.5 104.9h0M331.5 104.9h0M333.5 104.9h0M335.5 104.9h0M356 104.9h0M356 104.9h0M419.7 104.9h0M499.5 104.9h0M559.7 104.9h0M274.8 106.3h0M277.3 106.3h0M288.8 106.3h0M292.4 106.3h0M303.4 106.3h0M306.4 106.3h0M313.9 106.3h0M319.4 106.3h0M319.9 106.3h0M322.4 106.3h0M322.9 106.3h0M323.9 106.3h0M329.5 106.3h0M330.5 106.3h0M330.5 106.3h0M335.5 106.3h0M337 106.3h0M338.5 106.3h0M341.5 106.3h0M342 106.3h0M346 106.3h0M569.7 106.3h0M167.5 107.8h0M245.2 107.8h0M286.3 107.8h0M293.9 107.8h0M298.4 107.8h0M300.4 107.8h0M304.9 107.8h0M307.4 107.8h0M307.4 107.8h0M308.9 107.8h0M310.9 107.8h0M315.9 107.8h0M315.9 107.8h0M320.4 107.8h0M323.4 107.8h0M326 107.8h0M331 107.8h0M331 107.8h0M333.5 107.8h0M334.5 107.8h0M335 107.8h0M337 107.8h0M342.5 107.8h0M342.5 107.8h0M347.5 107.8h0M347.5 107.8h0M349.5 107.8h0M352.5 107.8h0M400.7 107.8h0M406.7 107.8h0M257.7 109.2h0M276.8 109.2h0M296.9 109.2h0M299.9 109.2h0M300.9 109.2h0M301.4 109.2h0M305.4 109.2h0M306.4 109.2h0M306.9 109.2h0M310.4 109.2h0M312.4 109.2h0M313.4 109.2h0M316.4 109.2h0M316.4 109.2h0M317.4 109.2h0M317.4 109.2h0M319.4 109.2h0M319.4 109.2h0M322.9 109.2h0M326 109.2h0M326.5 109.2h0M326.5 109.2h0M327 109.2h0M327.5 109.2h0M327.5 109.2h0M328.5 109.2h0M334 109.2h0M334.5 109.2h0M334.5 109.2h0M335 109.2h0M336 109.2h0M339 109.2h0M340 109.2h0M340.5 109.2h0M340.5 109.2h0M342 109.2h0M343 109.2h0M343.5 109.2h0M344 109.2h0M350 109.2h0M354 109.2h0M428.8 109.2h0M89.2 110.7h0M289.3 110.7h0M294.4 110.7h0M296.4 110.7h0M300.4 110.7h0M301.4 110.7h0M307.9 110.7h0M311.9 110.7h0M313.4 110.7h0M313.9 110.7h0M315.9 110.7h0M317.9 110.7h0M318.4 110.7h0M318.9 110.7h0M318.9 110.7h0M319.4 110.7h0M321.4 110.7h0M321.9 110.7h0M322.9 110.7h0M322.9 110.7h0M322.9 110.7h0M324.9 110.7h0M327.5 110.7h0M328 110.7h0M332.5 110.7h0M333 110.7h0M340 110.7h0M341.5 110.7h0M343 110.7h0M344 110.7h0M348.5 110.7h0M354 110.7h0M360.6 110.7h0M376.1 110.7h0M437.8 110.7h0M522.5 110.7h0M282.8 112.1h0M300.4 112.1h0M304.9 112.1h0M304.9 112.1h0M305.9 112.1h0M305.9 112.1h0M307.4 112.1h0M308.9 112.1h0M310.9 112.1h0M311.9 112.1h0M312.4 112.1h0M313.4 112.1h0M314.4 112.1h0M315.9 112.1h0M319.9 112.1h0M320.9 112.1h0M322.9 112.1h0M325.4 112.1h0M325.4 112.1h0M327 112.1h0M327.5 112.1h0M327.5 112.1h0M328.5 112.1h0M329.5 112.1h0M330 112.1h0M331.5 112.1h0M335.5 112.1h0M337 112.1h0M338.5 112.1h0M340.5 112.1h0M341.5 112.1h0M341.5 112.1h0M342 112.1h0M347 112.1h0M347 112.1h0M356 112.1h0M357 112.1h0M357 112.1h0M359.6 112.1h0M431.3 112.1h0M136.9 113.5h0M246.7 113.5h0M281.8 113.5h0M283.3 113.5h0M297.9 113.5h0M300.4 113.5h0M300.9 113.5h0M300.9 113.5h0M312.4 113.5h0M312.4 113.5h0M313.9 113.5h0M313.9 113.5h0M314.9 113.5h0M317.4 113.5h0M317.9 113.5h0M317.9 113.5h0M320.9 113.5h0M321.4 113.5h0M323.4 113.5h0M325.4 113.5h0M327 113.5h0M327.5 113.5h0M328 113.5h0M328 113.5h0M328.5 113.5h0M332 113.5h0M332 113.5h0M332.5 113.5h0M332.5 113.5h0M333 113.5h0M333.5 113.5h0M335 113.5h0M338 113.5h0M340.5 113.5h0M351.5 113.5h0M353.5 113.5h0M359.6 113.5h0M359.6 113.5h0M124.9 115h0M131.4 115h0M243.7 115h0M290.3 115h0M292.9 115h0M297.9 115h0M299.4 115h0M299.4 115h0M299.4 115h0M300.4 115h0M300.9 115h0M303.4 115h0M305.4 115h0M306.9 115h0M307.4 115h0M308.4 115h0M309.9 115h0M311.4 115h0M314.4 115h0M318.4 115h0M318.4 115h0M320.9 115h0M321.4 115h0M321.4 115h0M323.4 115h0M323.9 115h0M325.4 115h0M325.4 115h0M326.5 115h0M336.5 115h0M342 115h0M343 115h0M347 115h0M348 115h0M350.5 115h0M352.5 115h0M355 115h0M503 115h0M101.8 116.4h0M197.6 116.4h0M245.7 116.4h0M277.3 116.4h0M282.3 116.4h0M290.3 116.4h0M296.9 116.4h0M296.9 116.4h0M300.9 116.4h0M302.4 116.4h0M302.4 116.4h0M303.4 116.4h0M304.9 116.4h0M306.9 116.4h0M306.9 116.4h0M307.4 116.4h0M308.4 116.4h0M308.4 116.4h0M309.9 116.4h0M310.4 116.4h0M311.4 116.4h0M311.4 116.4h0M313.9 116.4h0M314.4 116.4h0M318.9 116.4h0M320.4 116.4h0M327 116.4h0M327 116.4h0M327.5 116.4h0M327.5 116.4h0M328 116.4h0M328.5 116.4h0M329.5 116.4h0M330.5 116.4h0M330.5 116.4h0M330.5 116.4h0M331.5 116.4h0M331.5 116.4h0M331.5 116.4h0M337 116.4h0M337 116.4h0M338 116.4h0M338 116.4h0M339 116.4h0M340 116.4h0M340.5 116.4h0M341 116.4h0M341 116.4h0M341 116.4h0M342 116.4h0M342.5 116.4h0M343 116.4h0M343.5 116.4h0M344.5 116.4h0M347.5 116.4h0M347.5 116.4h0M353 116.4h0M353.5 116.4h0M356.5 116.4h0M356.5 116.4h0M362.1 116.4h0M366.1 116.4h0M366.1 116.4h0M451.3 116.4h0M501.5 116.4h0M108.3 117.9h0M161 117.9h0M259.3 117.9h0M278.3 117.9h0M278.8 117.9h0M283.3 117.9h0M292.4 117.9h0M293.4 117.9h0M293.9 117.9h0M301.4 117.9h0M303.4 117.9h0M305.4 117.9h0M306.9 117.9h0M308.4 117.9h0M309.9 117.9h0M326.5 117.9h0M327 117.9h0M329.5 117.9h0M330 117.9h0M331.5 117.9h0M336.5 117.9h0M340.5 117.9h0M342 117.9h0M342 117.9h0M342.5 117.9h0M343 117.9h0M345 117.9h0M345 117.9h0M349 117.9h0M350.5 117.9h0M351 117.9h0M357.5 117.9h0M362.1 117.9h0M364.1 117.9h0M445.3 117.9h0M127.4 119.3h0M242.7 119.3h0M251.7 119.3h0M261.3 119.3h0M267.8 119.3h0M280.3 119.3h0M290.8 119.3h0M291.8 119.3h0M292.4 119.3h0M293.4 119.3h0M294.4 119.3h0M294.9 119.3h0M294.9 119.3h0M295.4 119.3h0M295.9 119.3h0M295.9 119.3h0M296.4 119.3h0M298.9 119.3h0M299.4 119.3h0M299.4 119.3h0M300.9 119.3h0M300.9 119.3h0M300.9 119.3h0M300.9 119.3h0M301.4 119.3h0M301.9 119.3h0M302.4 119.3h0M303.4 119.3h0M303.4 119.3h0M303.4 119.3h0M304.4 119.3h0M304.4 119.3h0M304.9 119.3h0M304.9 119.3h0M304.9 119.3h0M305.4 119.3h0M305.4 119.3h0M305.4 119.3h0M306.4 119.3h0M306.4 119.3h0M306.4 119.3h0M306.9 119.3h0M306.9 119.3h0M306.9 119.3h0M306.9 119.3h0M307.4 119.3h0M307.4 119.3h0M307.4 119.3h0M307.9 119.3h0M307.9 119.3h0M307.9 119.3h0M308.4 119.3h0M308.4 119.3h0M308.4 119.3h0M326.5 119.3h0M326.5 119.3h0M326.5 119.3h0M326.5 119.3h0M326.5 119.3h0M326.5 119.3h0M326.5 119.3h0M326.5 119.3h0M326.5 119.3h0M326.5 119.3h0M326.5 119.3h0M327 119.3h0M327 119.3h0M327 119.3h0M327 119.3h0M327 119.3h0M327.5 119.3h0M327.5 119.3h0M327.5 119.3h0M327.5 119.3h0M328 119.3h0M328 119.3h0M328 119.3h0M328 119.3h0M328 119.3h0M328 119.3h0M328.5 119.3h0M328.5 119.3h0M328.5 119.3h0M328.5 119.3h0M328.5 119.3h0M328.5 119.3h0M328.5 119.3h0M328.5 119.3h0M328.5 119.3h0M329.5 119.3h0M329.5 119.3h0M329.5 119.3h0M329.5 119.3h0M329.5 119.3h0M330 119.3h0M330 119.3h0M330 119.3h0M330 119.3h0M330 119.3h0M330.5 119.3h0M330.5 119.3h0M330.5 119.3h0M330.5 119.3h0M330.5 119.3h0M330.5 119.3h0M330.5 119.3h0M331 119.3h0M331 119.3h0M331 119.3h0M331 119.3h0M331 119.3h0M331 119.3h0M331 119.3h0M331 119.3h0M331 119.3h0M331.5 119.3h0M331.5 119.3h0M331.5 119.3h0M332 119.3h0M332 119.3h0M332 119.3h0M332.5 119.3h0M332.5 119.3h0M332.5 119.3h0M332.5 119.3h0M333 119.3h0M333 119.3h0M333 119.3h0M333.5 119.3h0M333.5 119.3h0M333.5 119.3h0M336.5 119.3h0M336.5 119.3h0M336.5 119.3h0M336.5 119.3h0M336.5 119.3h0M336.5 119.3h0M337 119.3h0M337 119.3h0M337 119.3h0M337 119.3h0M337.5 119.3h0M337.5 119.3h0M337.5 119.3h0M338 119.3h0M338 119.3h0M338 119.3h0M338 119.3h0M338.5 119.3h0M338.5 119.3h0M338.5 119.3h0M338.5 119.3h0M339 119.3h0M339 119.3h0M339.5 119.3h0M339.5 119.3h0M339.5 119.3h0M339.5 119.3h0M339.5 119.3h0M340 119.3h0M340 119.3h0M340 119.3h0M340 119.3h0M340.5 119.3h0M340.5 119.3h0M340.5 119.3h0M341.5 119.3h0M341.5 119.3h0M341.5 119.3h0M341.5 119.3h0M341.5 119.3h0M342 119.3h0M342 119.3h0M342 119.3h0M342 119.3h0M342.5 119.3h0M343 119.3h0M343 119.3h0M343 119.3h0M343.5 119.3h0M343.5 119.3h0M343.5 119.3h0M343.5 119.3h0M343.5 119.3h0M344 119.3h0M344 119.3h0M344 119.3h0M344.5 119.3h0M344.5 119.3h0M345 119.3h0M345 119.3h0M345 119.3h0M345 119.3h0M345 119.3h0M345.5 119.3h0M345.5 119.3h0M346 119.3h0M346 119.3h0M346 119.3h0M346.5 119.3h0M346.5 119.3h0M347 119.3h0M347 119.3h0M347 119.3h0M347 119.3h0M348 119.3h0M349 119.3h0M350 119.3h0M350 119.3h0M350 119.3h0M350.5 119.3h0M350.5 119.3h0M350.5 119.3h0M351.5 119.3h0M352.5 119.3h0M353 119.3h0M353 119.3h0M353 119.3h0M353 119.3h0M353.5 119.3h0M353.5 119.3h0M354.5 119.3h0M355 119.3h0M355 119.3h0M357 119.3h0M357.5 119.3h0M357.5 119.3h0M357.5 119.3h0M358 119.3h0M359.1 119.3h0M360.6 119.3h0M362.6 119.3h0M363.1 119.3h0M364.6 119.3h0M366.1 119.3h0M366.6 119.3h0M366.6 119.3h0M366.6 119.3h0M368.1 119.3h0M368.1 119.3h0M372.1 119.3h0M397.7 119.3h0M108.3 120.8h0M149.9 120.8h0M197.6 120.8h0M285.8 120.8h0M286.8 120.8h0M287.8 120.8h0M290.8 120.8h0M293.9 120.8h0M296.9 120.8h0M299.9 120.8h0M301.9 120.8h0M301.9 120.8h0M304.4 120.8h0M306.4 120.8h0M306.9 120.8h0M306.9 120.8h0M323.9 120.8h0M324.9 120.8h0M325.4 120.8h0M329.5 120.8h0M331 120.8h0M333 120.8h0M333 120.8h0M333.5 120.8h0M333.5 120.8h0M333.5 120.8h0M334.5 120.8h0M335 120.8h0M335.5 120.8h0M335.5 120.8h0M335.5 120.8h0M335.5 120.8h0M336 120.8h0M336 120.8h0M336.5 120.8h0M336.5 120.8h0M338 120.8h0M338 120.8h0M339.5 120.8h0M341.5 120.8h0M341.5 120.8h0M341.5 120.8h0M345.5 120.8h0M346 120.8h0M348 120.8h0M349 120.8h0M349 120.8h0M350.5 120.8h0M351.5 120.8h0M352 120.8h0M352 120.8h0M353.5 120.8h0M358.5 120.8h0M362.1 120.8h0M363.6 120.8h0M364.1 120.8h0M419.2 120.8h0M427.3 120.8h0M289.3 122.2h0M293.9 122.2h0M297.9 122.2h0M299.4 122.2h0M301.4 122.2h0M301.9 122.2h0M302.4 122.2h0M302.4 122.2h0M303.4 122.2h0M306.9 122.2h0M307.4 122.2h0M307.9 122.2h0M308.4 122.2h0M308.9 122.2h0M310.4 122.2h0M310.9 122.2h0M310.9 122.2h0M311.4 122.2h0M317.4 122.2h0M317.4 122.2h0M317.4 122.2h0M317.9 122.2h0M317.9 122.2h0M319.4 122.2h0M319.4 122.2h0M323.4 122.2h0M323.4 122.2h0M323.9 122.2h0M323.9 122.2h0M323.9 122.2h0M323.9 122.2h0M326 122.2h0M326 122.2h0M329.5 122.2h0M330 122.2h0M330 122.2h0M330.5 122.2h0M331 122.2h0M331 122.2h0M331 122.2h0M332 122.2h0M332 122.2h0M333 122.2h0M334.5 122.2h0M336 122.2h0M336.5 122.2h0M337 122.2h0M337 122.2h0M337.5 122.2h0M337.5 122.2h0M337.5 122.2h0M338 122.2h0M338 122.2h0M338 122.2h0M338.5 122.2h0M339 122.2h0M339.5 122.2h0M340.5 122.2h0M341.5 122.2h0M342.5 122.2h0M344 122.2h0M345 122.2h0M345.5 122.2h0M348 122.2h0M353 122.2h0M355 122.2h0M357 122.2h0M359.1 122.2h0M364.6 122.2h0M418.7 122.2h0M418.7 122.2h0M523.5 122.2h0M144.9 123.6h0M275.8 123.6h0M278.8 123.6h0M287.3 123.6h0M288.8 123.6h0M292.4 123.6h0M292.4 123.6h0M294.4 123.6h0M297.4 123.6h0M297.4 123.6h0M298.9 123.6h0M300.4 123.6h0M301.4 123.6h0M301.4 123.6h0M301.9 123.6h0M304.9 123.6h0M308.4 123.6h0M308.9 123.6h0M308.9 123.6h0M309.9 123.6h0M311.9 123.6h0M312.4 123.6h0M312.4 123.6h0M313.4 123.6h0M314.9 123.6h0M314.9 123.6h0M315.4 123.6h0M315.4 123.6h0M315.4 123.6h0M317.4 123.6h0M317.9 123.6h0M317.9 123.6h0M317.9 123.6h0M317.9 123.6h0M318.4 123.6h0M318.4 123.6h0M318.9 123.6h0M318.9 123.6h0M318.9 123.6h0M323.4 123.6h0M325.4 123.6h0M326 123.6h0M326 123.6h0M326.5 123.6h0M326.5 123.6h0M333.5 123.6h0M335 123.6h0M336.5 123.6h0M336.5 123.6h0M336.5 123.6h0M336.5 123.6h0M341 123.6h0M341 123.6h0M342.5 123.6h0M343 123.6h0M343 123.6h0M343 123.6h0M344.5 123.6h0M345 123.6h0M345.5 123.6h0M347.5 123.6h0M349 123.6h0M349.5 123.6h0M349.5 123.6h0M350.5 123.6h0M350.5 123.6h0M351 123.6h0M352.5 123.6h0M353 123.6h0M354 123.6h0M354 123.6h0M359.6 123.6h0M360.6 123.6h0M363.6 123.6h0M374.6 123.6h0M377.1 123.6h0M439.8 123.6h0M444.3 123.6h0M456.3 123.6h0M538.1 123.6h0M102.3 125.1h0M143.9 125.1h0M204.6 125.1h0M227.2 125.1h0M262.3 125.1h0M288.8 125.1h0M290.3 125.1h0M296.4 125.1h0M297.4 125.1h0M302.9 125.1h0M303.9 125.1h0M303.9 125.1h0M304.4 125.1h0M304.9 125.1h0M308.4 125.1h0M308.4 125.1h0M310.4 125.1h0M310.9 125.1h0M310.9 125.1h0M311.9 125.1h0M311.9 125.1h0M312.4 125.1h0M312.4 125.1h0M313.4 125.1h0M313.4 125.1h0M313.4 125.1h0M313.9 125.1h0M313.9 125.1h0M314.4 125.1h0M314.4 125.1h0M315.4 125.1h0M323.4 125.1h0M323.9 125.1h0M323.9 125.1h0M324.4 125.1h0M324.4 125.1h0M324.9 125.1h0M324.9 125.1h0M324.9 125.1h0M325.4 125.1h0M325.4 125.1h0M325.4 125.1h0M333.5 125.1h0M334 125.1h0M334 125.1h0M334.5 125.1h0M334.5 125.1h0M335.5 125.1h0M335.5 125.1h0M336 125.1h0M336.5 125.1h0M336.5 125.1h0M336.5 125.1h0M340.5 125.1h0M341 125.1h0M341.5 125.1h0M343.5 125.1h0M344 125.1h0M347.5 125.1h0M348 125.1h0M349.5 125.1h0M354 125.1h0M356.5 125.1h0M360.1 125.1h0M360.1 125.1h0M370.6 125.1h0M373.1 125.1h0M381.1 125.1h0M396.7 125.1h0M570.7 125.1h0M243.2 126.5h0M295.9 126.5h0M297.9 126.5h0M298.4 126.5h0M300.9 126.5h0M300.9 126.5h0M302.9 126.5h0M308.4 126.5h0M310.9 126.5h0M311.4 126.5h0M311.4 126.5h0M311.4 126.5h0M311.4 126.5h0M344.5 126.5h0M345 126.5h0M345.5 126.5h0M346 126.5h0M348.5 126.5h0M350.5 126.5h0M350.5 126.5h0M350.5 126.5h0M352.5 126.5h0M353 126.5h0M353.5 126.5h0M356 126.5h0M357 126.5h0M358 126.5h0M358.5 126.5h0M361.1 126.5h0M361.6 126.5h0M368.1 126.5h0M369.6 126.5h0M101.3 128h0M148.4 128h0M268.3 128h0M281.3 128h0M284.3 128h0M285.3 128h0M286.3 128h0M290.8 128h0M292.4 128h0M295.4 128h0M297.9 128h0M298.4 128h0M299.4 128h0M300.9 128h0M301.4 128h0M308.4 128h0M308.4 128h0M308.4 128h0M308.9 128h0M308.9 128h0M308.9 128h0M310.9 128h0M346.5 128h0M347 128h0M347 128h0M348.5 128h0M351.5 128h0M353.5 128h0M355 128h0M361.6 128h0M363.1 128h0M364.6 128h0M366.1 128h0M394.2 128h0M434.8 128h0M490.4 128h0M561.7 128h0M192.6 129.4h0M259.8 129.4h0M278.3 129.4h0M285.8 129.4h0M286.3 129.4h0M293.4 129.4h0M300.9 129.4h0M303.9 129.4h0M303.9 129.4h0M305.4 129.4h0M308.4 129.4h0M308.9 129.4h0M309.4 129.4h0M309.4 129.4h0M309.4 129.4h0M309.9 129.4h0M310.4 129.4h0M310.4 129.4h0M320.9 129.4h0M320.9 129.4h0M322.4 129.4h0M342.5 129.4h0M342.5 129.4h0M343 129.4h0M343 129.4h0M343 129.4h0M343.5 129.4h0M344 129.4h0M344.5 129.4h0M344.5 129.4h0M349.5 129.4h0M350 129.4h0M351 129.4h0M352.5 129.4h0M354.5 129.4h0M356.5 129.4h0M358 129.4h0M359.1 129.4h0M361.1 129.4h0M361.6 129.4h0M363.6 129.4h0M368.6 129.4h0M376.6 129.4h0M137.9 130.9h0M287.8 130.9h0M289.3 130.9h0M292.9 130.9h0M294.4 130.9h0M294.4 130.9h0M294.9 130.9h0M296.4 130.9h0M296.9 130.9h0M296.9 130.9h0M297.9 130.9h0M298.4 130.9h0M298.4 130.9h0M299.4 130.9h0M299.9 130.9h0M300.9 130.9h0M301.4 130.9h0M301.9 130.9h0M302.4 130.9h0M303.4 130.9h0M303.9 130.9h0M303.9 130.9h0M305.4 130.9h0M320.4 130.9h0M320.4 130.9h0M320.4 130.9h0M320.4 130.9h0M320.4 130.9h0M320.9 130.9h0M320.9 130.9h0M322.4 130.9h0M322.4 130.9h0M322.4 130.9h0M342.5 130.9h0M342.5 130.9h0M344 130.9h0M345 130.9h0M345.5 130.9h0M345.5 130.9h0M346.5 130.9h0M347 130.9h0M347.5 130.9h0M348 130.9h0M348.5 130.9h0M349 130.9h0M350 130.9h0M353 130.9h0M355.5 130.9h0M356.5 130.9h0M362.1 130.9h0M365.1 130.9h0M367.6 130.9h0M372.6 130.9h0M376.1 130.9h0M389.1 130.9h0M395.7 130.9h0M509.5 130.9h0M531.1 130.9h0M137.4 132.3h0M269.3 132.3h0M270.8 132.3h0M281.8 132.3h0M283.3 132.3h0M285.3 132.3h0M287.8 132.3h0M296.4 132.3h0M298.4 132.3h0M343.5 132.3h0M343.5 132.3h0M343.5 132.3h0M345 132.3h0M345 132.3h0M345.5 132.3h0M345.5 132.3h0M346 132.3h0M346.5 132.3h0M346.5 132.3h0M348.5 132.3h0M348.5 132.3h0M350.5 132.3h0M351 132.3h0M352 132.3h0M356 132.3h0M358 132.3h0M365.6 132.3h0M369.6 132.3h0M163 133.8h0M198.6 133.8h0M218.1 133.8h0M264.8 133.8h0M274.3 133.8h0M292.9 133.8h0M293.9 133.8h0M294.4 133.8h0M294.9 133.8h0M295.4 133.8h0M296.9 133.8h0M297.4 133.8h0M298.4 133.8h0M298.4 133.8h0M298.9 133.8h0M298.9 133.8h0M298.9 133.8h0M300.4 133.8h0M300.9 133.8h0M300.9 133.8h0M300.9 133.8h0M300.9 133.8h0M301.9 133.8h0M302.4 133.8h0M302.4 133.8h0M344 133.8h0M346.5 133.8h0M346.5 133.8h0M347 133.8h0M347 133.8h0M347 133.8h0M347 133.8h0M347.5 133.8h0M347.5 133.8h0M347.5 133.8h0M348 133.8h0M349.5 133.8h0M352.5 133.8h0M352.5 133.8h0M353 133.8h0M353 133.8h0M354 133.8h0M355 133.8h0M355.5 133.8h0M357.5 133.8h0M363.1 133.8h0M364.1 133.8h0M374.1 133.8h0M399.7 133.8h0M400.2 133.8h0M425.2 133.8h0M443.8 133.8h0M519.5 133.8h0M84.2 135.2h0M90.7 135.2h0M99.3 135.2h0M170.5 135.2h0M205.1 135.2h0M206.1 135.2h0M227.2 135.2h0M237.7 135.2h0M280.3 135.2h0M283.3 135.2h0M287.3 135.2h0M289.3 135.2h0M294.4 135.2h0M298.4 135.2h0M298.9 135.2h0M300.4 135.2h0M302.4 135.2h0M344 135.2h0M344 135.2h0M344 135.2h0M344.5 135.2h0M344.5 135.2h0M345.5 135.2h0M347 135.2h0M347 135.2h0M347.5 135.2h0M348 135.2h0M348 135.2h0M348 135.2h0M348 135.2h0M349 135.2h0M350 135.2h0M350.5 135.2h0M350.5 135.2h0M351.5 135.2h0M352.5 135.2h0M355 135.2h0M356 135.2h0M356.5 135.2h0M358.5 135.2h0M359.6 135.2h0M362.1 135.2h0M362.1 135.2h0M365.6 135.2h0M369.1 135.2h0M373.1 135.2h0M396.2 135.2h0M402.7 135.2h0M489.4 135.2h0M122.3 136.6h0M261.8 136.6h0M277.8 136.6h0M279.3 136.6h0M282.8 136.6h0M282.8 136.6h0M285.3 136.6h0M287.8 136.6h0M288.3 136.6h0M288.8 136.6h0M292.4 136.6h0M293.4 136.6h0M293.4 136.6h0M295.4 136.6h0M299.4 136.6h0M300.9 136.6h0M301.9 136.6h0M303.4 136.6h0M304.4 136.6h0M304.9 136.6h0M305.4 136.6h0M305.4 136.6h0M346 136.6h0M346.5 136.6h0M348 136.6h0M348 136.6h0M349 136.6h0M350.5 136.6h0M351 136.6h0M351.5 136.6h0M354 136.6h0M354.5 136.6h0M355 136.6h0M355 136.6h0M355 136.6h0M355.5 136.6h0M358 136.6h0M362.1 136.6h0M367.6 136.6h0M369.1 136.6h0M386.1 136.6h0M387.6 136.6h0M463.4 136.6h0M483.9 136.6h0M111.3 138.1h0M118.3 138.1h0M212.1 138.1h0M252.2 138.1h0M291.3 138.1h0M291.3 138.1h0M292.4 138.1h0M294.4 138.1h0M294.4 138.1h0M298.4 138.1h0M298.4 138.1h0M298.4 138.1h0M298.4 138.1h0M301.9 138.1h0M302.4 138.1h0M303.4 138.1h0M305.4 138.1h0M347.5 138.1h0M349 138.1h0M351.5 138.1h0M352 138.1h0M354.5 138.1h0M354.5 138.1h0M355.5 138.1h0M356 138.1h0M356.5 138.1h0M357 138.1h0M358 138.1h0M360.1 138.1h0M364.1 138.1h0M374.6 138.1h0M376.6 138.1h0M393.7 138.1h0M398.7 138.1h0M409.2 138.1h0M419.2 138.1h0M176 139.5h0M244.7 139.5h0M274.3 139.5h0M283.3 139.5h0M283.8 139.5h0M286.8 139.5h0M287.8 139.5h0M290.3 139.5h0M295.4 139.5h0M299.9 139.5h0M300.9 139.5h0M301.4 139.5h0M301.4 139.5h0M303.4 139.5h0M303.9 139.5h0M303.9 139.5h0M304.9 139.5h0M343.5 139.5h0M343.5 139.5h0M343.5 139.5h0M343.5 139.5h0M343.5 139.5h0M345.5 139.5h0M345.5 139.5h0M347.5 139.5h0M349 139.5h0M352 139.5h0M352.5 139.5h0M353 139.5h0M354 139.5h0M355.5 139.5h0M357 139.5h0M357.5 139.5h0M358 139.5h0M359.6 139.5h0M364.6 139.5h0M367.6 139.5h0M405.2 139.5h0M443.3 139.5h0M523 139.5h0M565.7 139.5h0M251.2 141h0M273.3 141h0M274.3 141h0M280.3 141h0M286.8 141h0M288.3 141h0M288.8 141h0M289.3 141h0M289.8 141h0M294.9 141h0M294.9 141h0M294.9 141h0M295.4 141h0M295.9 141h0M298.9 141h0M300.9 141h0M302.9 141h0M302.9 141h0M345 141h0M351.5 141h0M351.5 141h0M354 141h0M357.5 141h0M360.1 141h0M361.1 141h0M363.1 141h0M366.1 141h0M370.1 141h0M381.6 141h0M390.1 141h0M420.7 141h0M441.3 141h0M112.8 142.4h0M129.9 142.4h0M177 142.4h0M204.1 142.4h0M254.2 142.4h0M273.3 142.4h0M279.8 142.4h0M283.3 142.4h0M283.8 142.4h0M284.3 142.4h0M286.3 142.4h0M290.3 142.4h0M291.8 142.4h0M292.4 142.4h0M293.4 142.4h0M296.4 142.4h0M297.4 142.4h0M299.4 142.4h0M300.4 142.4h0M300.9 142.4h0M301.4 142.4h0M301.4 142.4h0M302.9 142.4h0M302.9 142.4h0M302.9 142.4h0M304.4 142.4h0M304.9 142.4h0M304.9 142.4h0M305.9 142.4h0M305.9 142.4h0M306.4 142.4h0M310.4 142.4h0M310.4 142.4h0M310.9 142.4h0M310.9 142.4h0M312.4 142.4h0M344 142.4h0M345 142.4h0M351 142.4h0M351 142.4h0M351.5 142.4h0M352.5 142.4h0M352.5 142.4h0M354.5 142.4h0M355 142.4h0M356 142.4h0M356 142.4h0M363.6 142.4h0M365.1 142.4h0M370.6 142.4h0M375.1 142.4h0M459.9 142.4h0M554.1 142.4h0M115.8 143.9h0M196.1 143.9h0M207.1 143.9h0M262.3 143.9h0M293.4 143.9h0M294.9 143.9h0M295.4 143.9h0M296.4 143.9h0M297.4 143.9h0M303.4 143.9h0M304.4 143.9h0M304.4 143.9h0M304.9 143.9h0M304.9 143.9h0M304.9 143.9h0M310.4 143.9h0M310.4 143.9h0M310.9 143.9h0M312.4 143.9h0M312.4 143.9h0M320.4 143.9h0M320.4 143.9h0M320.4 143.9h0M320.9 143.9h0M320.9 143.9h0M321.4 143.9h0M321.9 143.9h0M321.9 143.9h0M322.4 143.9h0M333.5 143.9h0M334 143.9h0M334 143.9h0M334.5 143.9h0M335 143.9h0M335 143.9h0M335 143.9h0M335 143.9h0M335 143.9h0M335.5 143.9h0M340.5 143.9h0M340.5 143.9h0M341 143.9h0M341 143.9h0M341.5 143.9h0M341.5 143.9h0M341.5 143.9h0M342 143.9h0M342.5 143.9h0M342.5 143.9h0M342.5 143.9h0M343.5 143.9h0M345 143.9h0M345.5 143.9h0M345.5 143.9h0M346.5 143.9h0M347 143.9h0M347.5 143.9h0M347.5 143.9h0M348 143.9h0M348.5 143.9h0M348.5 143.9h0M349.5 143.9h0M350.5 143.9h0M350.5 143.9h0M350.5 143.9h0M350.5 143.9h0M352 143.9h0M353.5 143.9h0M355 143.9h0M355.5 143.9h0M356 143.9h0M357.5 143.9h0M358 143.9h0M358 143.9h0M359.1 143.9h0M359.6 143.9h0M367.1 143.9h0M367.1 143.9h0M370.6 143.9h0M373.1 143.9h0M384.6 143.9h0M402.2 143.9h0M566.7 143.9h0M125.4 145.3h0M158.5 145.3h0M203.1 145.3h0M215.1 145.3h0M231.2 145.3h0M261.8 145.3h0M267.3 145.3h0M281.3 145.3h0M287.8 145.3h0M289.3 145.3h0M289.8 145.3h0M291.8 145.3h0M294.9 145.3h0M294.9 145.3h0M296.9 145.3h0M297.9 145.3h0M298.9 145.3h0M300.9 145.3h0M301.4 145.3h0M303.4 145.3h0M303.4 145.3h0M303.4 145.3h0M304.9 145.3h0M304.9 145.3h0M304.9 145.3h0M305.9 145.3h0M305.9 145.3h0M305.9 145.3h0M305.9 145.3h0M320.4 145.3h0M320.4 145.3h0M320.4 145.3h0M320.9 145.3h0M322.4 145.3h0M322.4 145.3h0M333.5 145.3h0M333.5 145.3h0M333.5 145.3h0M335 145.3h0M335 145.3h0M335 145.3h0M335.5 145.3h0M335.5 145.3h0M335.5 145.3h0M335.5 145.3h0M335.5 145.3h0M340.5 145.3h0M340.5 145.3h0M340.5 145.3h0M341 145.3h0M342.5 145.3h0M345 145.3h0M345 145.3h0M348 145.3h0M348.5 145.3h0M350.5 145.3h0M351 145.3h0M353.5 145.3h0M355 145.3h0M355 145.3h0M355.5 145.3h0M356.5 145.3h0M356.5 145.3h0M360.1 145.3h0M360.1 145.3h0M363.6 145.3h0M364.6 145.3h0M364.6 145.3h0M369.6 145.3h0M373.1 145.3h0M381.6 145.3h0M439.3 145.3h0M466.4 145.3h0M467.9 145.3h0M474.4 145.3h0M493.5 145.3h0M539.1 145.3h0M543.1 145.3h0M94.3 146.8h0M194.1 146.8h0M241.7 146.8h0M253.7 146.8h0M269.3 146.8h0M278.3 146.8h0M279.3 146.8h0M285.8 146.8h0M294.4 146.8h0M294.9 146.8h0M296.4 146.8h0M296.9 146.8h0M299.9 146.8h0M300.4 146.8h0M300.9 146.8h0M301.9 146.8h0M301.9 146.8h0M302.4 146.8h0M338.5 146.8h0M339 146.8h0M339 146.8h0M339.5 146.8h0M339.5 146.8h0M339.5 146.8h0M340.5 146.8h0M340.5 146.8h0M340.5 146.8h0M340.5 146.8h0M340.5 146.8h0M341.5 146.8h0M342 146.8h0M342.5 146.8h0M344.5 146.8h0M345.5 146.8h0M345.5 146.8h0M348 146.8h0M348 146.8h0M351 146.8h0M352.5 146.8h0M353.5 146.8h0M357 146.8h0M357.5 146.8h0M359.1 146.8h0M359.1 146.8h0M361.1 146.8h0M363.1 146.8h0M365.6 146.8h0M375.6 146.8h0M380.1 146.8h0M428.3 146.8h0M450.8 146.8h0M452.8 146.8h0M472.4 146.8h0M475.4 146.8h0M140.9 148.2h0M238.2 148.2h0M281.8 148.2h0M283.3 148.2h0M283.8 148.2h0M284.3 148.2h0M285.3 148.2h0M285.8 148.2h0M287.8 148.2h0M288.8 148.2h0M291.3 148.2h0M293.9 148.2h0M294.4 148.2h0M295.4 148.2h0M296.4 148.2h0M296.9 148.2h0M297.4 148.2h0M298.4 148.2h0M299.4 148.2h0M299.4 148.2h0M299.4 148.2h0M300.4 148.2h0M300.9 148.2h0M328.5 148.2h0M328.5 148.2h0M328.5 148.2h0M329 148.2h0M329 148.2h0M329.5 148.2h0M329.5 148.2h0M330 148.2h0M330 148.2h0M330.5 148.2h0M330.5 148.2h0M338.5 148.2h0M338.5 148.2h0M338.5 148.2h0M340 148.2h0M345.5 148.2h0M345.5 148.2h0M346 148.2h0M347 148.2h0M349.5 148.2h0M350 148.2h0M351.5 148.2h0M352 148.2h0M353 148.2h0M353.5 148.2h0M358.5 148.2h0M360.6 148.2h0M364.1 148.2h0M365.1 148.2h0M377.1 148.2h0M381.1 148.2h0M427.8 148.2h0M505 148.2h0M516.5 148.2h0M531.6 148.2h0M113.8 149.6h0M223.1 149.6h0M223.1 149.6h0M252.7 149.6h0M265.8 149.6h0M279.8 149.6h0M287.3 149.6h0M287.3 149.6h0M289.3 149.6h0M291.3 149.6h0M295.4 149.6h0M300.4 149.6h0M300.4 149.6h0M301.9 149.6h0M302.4 149.6h0M302.4 149.6h0M306.4 149.6h0M306.9 149.6h0M307.4 149.6h0M307.4 149.6h0M307.4 149.6h0M307.9 149.6h0M328.5 149.6h0M330.5 149.6h0M338.5 149.6h0M339.5 149.6h0M341 149.6h0M341 149.6h0M341.5 149.6h0M341.5 149.6h0M341.5 149.6h0M341.5 149.6h0M344.5 149.6h0M346 149.6h0M346 149.6h0M347 149.6h0M347 149.6h0M349 149.6h0M349 149.6h0M349 149.6h0M351 149.6h0M351 149.6h0M351 149.6h0M351.5 149.6h0M351.5 149.6h0M354.5 149.6h0M356.5 149.6h0M369.1 149.6h0M374.6 149.6h0M388.6 149.6h0M537.6 149.6h0M564.7 149.6h0M98.3 151.1h0M161.5 151.1h0M164.5 151.1h0M267.8 151.1h0M269.8 151.1h0M280.3 151.1h0M291.3 151.1h0M294.4 151.1h0M296.4 151.1h0M296.9 151.1h0M297.9 151.1h0M298.4 151.1h0M300.4 151.1h0M300.4 151.1h0M300.4 151.1h0M300.9 151.1h0M302.4 151.1h0M302.4 151.1h0M306.4 151.1h0M306.4 151.1h0M306.4 151.1h0M308.4 151.1h0M328.5 151.1h0M329 151.1h0M329 151.1h0M329.5 151.1h0M329.5 151.1h0M329.5 151.1h0M330 151.1h0M330 151.1h0M330.5 151.1h0M330.5 151.1h0M330.5 151.1h0M330.5 151.1h0M330.5 151.1h0M339.5 151.1h0M339.5 151.1h0M340 151.1h0M340 151.1h0M340 151.1h0M340.5 151.1h0M341 151.1h0M341 151.1h0M341.5 151.1h0M344.5 151.1h0M344.5 151.1h0M344.5 151.1h0M344.5 151.1h0M345 151.1h0M345.5 151.1h0M346.5 151.1h0M347 151.1h0M347 151.1h0M348 151.1h0M348 151.1h0M348.5 151.1h0M350 151.1h0M350.5 151.1h0M352 151.1h0M352.5 151.1h0M356 151.1h0M357.5 151.1h0M359.6 151.1h0M360.6 151.1h0M361.1 151.1h0M364.1 151.1h0M367.6 151.1h0M368.6 151.1h0M374.1 151.1h0M409.2 151.1h0M418.2 151.1h0M441.3 151.1h0M481.4 151.1h0M505 151.1h0M84.2 152.5h0M96.3 152.5h0M98.8 152.5h0M142.4 152.5h0M166.5 152.5h0M247.2 152.5h0M250.2 152.5h0M264.3 152.5h0M266.8 152.5h0M275.8 152.5h0M279.8 152.5h0M286.3 152.5h0M287.8 152.5h0M292.9 152.5h0M294.9 152.5h0M296.4 152.5h0M296.4 152.5h0M298.4 152.5h0M299.9 152.5h0M301.4 152.5h0M301.9 152.5h0M302.4 152.5h0M306.4 152.5h0M306.9 152.5h0M306.9 152.5h0M307.9 152.5h0M307.9 152.5h0M346 152.5h0M349.5 152.5h0M350 152.5h0M350 152.5h0M351 152.5h0M351 152.5h0M351.5 152.5h0M352.5 152.5h0M353 152.5h0M354 152.5h0M354.5 152.5h0M354.5 152.5h0M360.1 152.5h0M362.1 152.5h0M362.1 152.5h0M366.1 152.5h0M385.6 152.5h0M465.9 152.5h0M543.1 152.5h0M544.6 152.5h0M566.2 152.5h0M85.7 154h0M107.8 154h0M117.3 154h0M141.9 154h0M172.5 154h0M182.5 154h0M196.1 154h0M230.2 154h0M235.2 154h0M279.3 154h0M286.3 154h0M288.8 154h0M289.3 154h0M291.8 154h0M292.4 154h0M295.4 154h0M295.4 154h0M295.9 154h0M297.9 154h0M297.9 154h0M298.4 154h0M298.9 154h0M299.9 154h0M302.4 154h0M346 154h0M347.5 154h0M347.5 154h0M349.5 154h0M354 154h0M354.5 154h0M355.5 154h0M355.5 154h0M357.5 154h0M357.5 154h0M360.1 154h0M364.1 154h0M364.1 154h0M366.6 154h0M387.1 154h0M453.8 154h0M506.5 154h0M518.5 154h0M125.9 155.4h0M239.2 155.4h0M268.8 155.4h0M282.8 155.4h0M285.8 155.4h0M291.8 155.4h0M292.9 155.4h0M292.9 155.4h0M295.4 155.4h0M295.4 155.4h0M296.4 155.4h0M297.4 155.4h0M297.4 155.4h0M297.4 155.4h0M297.9 155.4h0M297.9 155.4h0M299.9 155.4h0M300.4 155.4h0M300.4 155.4h0M301.4 155.4h0M301.4 155.4h0M301.4 155.4h0M301.4 155.4h0M302.4 155.4h0M345.5 155.4h0M346 155.4h0M346.5 155.4h0M346.5 155.4h0M346.5 155.4h0M347 155.4h0M347 155.4h0M351 155.4h0M352 155.4h0M352.5 155.4h0M355.5 155.4h0M357.5 155.4h0M358 155.4h0M359.1 155.4h0M362.6 155.4h0M366.1 155.4h0M372.6 155.4h0M377.6 155.4h0M398.2 155.4h0M455.3 155.4h0M534.1 155.4h0M86.2 156.9h0M107.3 156.9h0M144.9 156.9h0M243.7 156.9h0M273.8 156.9h0M274.3 156.9h0M275.3 156.9h0M276.3 156.9h0M281.3 156.9h0M286.8 156.9h0M287.8 156.9h0M291.3 156.9h0M292.4 156.9h0M293.9 156.9h0M294.4 156.9h0M295.4 156.9h0M295.9 156.9h0M295.9 156.9h0M295.9 156.9h0M297.4 156.9h0M300.4 156.9h0M305.4 156.9h0M305.9 156.9h0M305.9 156.9h0M306.4 156.9h0M306.9 156.9h0M309.4 156.9h0M309.4 156.9h0M309.4 156.9h0M309.9 156.9h0M309.9 156.9h0M310.4 156.9h0M310.4 156.9h0M310.4 156.9h0M310.9 156.9h0M344.5 156.9h0M344.5 156.9h0M345.5 156.9h0M345.5 156.9h0M347.5 156.9h0M351 156.9h0M352.5 156.9h0M353.5 156.9h0M354.5 156.9h0M355 156.9h0M356 156.9h0M357 156.9h0M359.1 156.9h0M360.1 156.9h0M360.1 156.9h0M367.1 156.9h0M418.2 156.9h0M429.3 156.9h0M442.8 156.9h0M498.5 156.9h0M80.2 158.3h0M83.7 158.3h0M88.7 158.3h0M92.3 158.3h0M95.3 158.3h0M95.3 158.3h0M107.3 158.3h0M111.3 158.3h0M112.3 158.3h0M120.3 158.3h0M127.4 158.3h0M127.4 158.3h0M129.4 158.3h0M131.4 158.3h0M134.4 158.3h0M144.9 158.3h0M180.5 158.3h0M193.1 158.3h0M196.1 158.3h0M203.1 158.3h0M203.1 158.3h0M203.6 158.3h0M211.1 158.3h0M218.6 158.3h0M229.2 158.3h0M238.7 158.3h0M246.2 158.3h0M246.7 158.3h0M248.7 158.3h0M255.7 158.3h0M259.3 158.3h0M264.8 158.3h0M283.8 158.3h0M287.8 158.3h0M294.4 158.3h0M299.4 158.3h0M301.4 158.3h0M305.4 158.3h0M306.9 158.3h0M306.9 158.3h0M307.4 158.3h0M309.4 158.3h0M309.4 158.3h0M309.4 158.3h0M310.9 158.3h0M310.9 158.3h0M311.4 158.3h0M311.4 158.3h0M336.5 158.3h0M336.5 158.3h0M336.5 158.3h0M336.5 158.3h0M337.5 158.3h0M337.5 158.3h0M337.5 158.3h0M338 158.3h0M338.5 158.3h0M339 158.3h0M339 158.3h0M339.5 158.3h0M342.5 158.3h0M343.5 158.3h0M344 158.3h0M344.5 158.3h0M345 158.3h0M346.5 158.3h0M347 158.3h0M347.5 158.3h0M347.5 158.3h0M350.5 158.3h0M352 158.3h0M352.5 158.3h0M353 158.3h0M353 158.3h0M354 158.3h0M356.5 158.3h0M357.5 158.3h0M360.1 158.3h0M364.1 158.3h0M365.6 158.3h0M372.1 158.3h0M375.1 158.3h0M376.6 158.3h0M380.1 158.3h0M395.7 158.3h0M399.7 158.3h0M411.7 158.3h0M437.8 158.3h0M448.3 158.3h0M456.3 158.3h0M478.4 158.3h0M482.9 158.3h0M508.5 158.3h0M508.5 158.3h0M528.6 158.3h0M546.1 158.3h0M548.6 158.3h0M558.6 158.3h0M563.2 158.3h0M569.2 158.3h0M571.2 158.3h0M107.8 159.8h0M156.4 159.8h0M166.5 159.8h0M186 159.8h0M200.6 159.8h0M205.1 159.8h0M234.7 159.8h0M272.8 159.8h0M277.3 159.8h0M281.3 159.8h0M282.8 159.8h0M287.8 159.8h0M290.8 159.8h0M292.9 159.8h0M293.9 159.8h0M295.4 159.8h0M295.9 159.8h0M296.9 159.8h0M298.4 159.8h0M298.4 159.8h0M299.9 159.8h0M300.4 159.8h0M301.4 159.8h0M301.4 159.8h0M301.9 159.8h0M303.4 159.8h0M303.9 159.8h0M304.4 159.8h0M304.4 159.8h0M305.4 159.8h0M305.4 159.8h0M336.5 159.8h0M336.5 159.8h0M336.5 159.8h0M337 159.8h0M337 159.8h0M337 159.8h0M339 159.8h0M339 159.8h0M339.5 159.8h0M339.5 159.8h0M339.5 159.8h0M339.5 159.8h0M342.5 159.8h0M343 159.8h0M343 159.8h0M343 159.8h0M345.5 159.8h0M345.5 159.8h0M346.5 159.8h0M347.5 159.8h0M347.5 159.8h0M348.5 159.8h0M348.5 159.8h0M350.5 159.8h0M352.5 159.8h0M355 159.8h0M356 159.8h0M357 159.8h0M357.5 159.8h0M358 159.8h0M359.6 159.8h0M361.6 159.8h0M365.6 159.8h0M366.1 159.8h0M367.1 159.8h0M368.6 159.8h0M369.6 159.8h0M395.2 159.8h0M500.5 159.8h0M131.4 161.2h0M157.9 161.2h0M214.6 161.2h0M285.3 161.2h0M288.8 161.2h0M289.3 161.2h0M290.8 161.2h0M292.4 161.2h0M293.9 161.2h0M296.4 161.2h0M298.9 161.2h0M302.9 161.2h0M302.9 161.2h0M309.4 161.2h0M310.9 161.2h0M310.9 161.2h0M311.4 161.2h0M311.4 161.2h0M311.4 161.2h0M337 161.2h0M338 161.2h0M338 161.2h0M338 161.2h0M339.5 161.2h0M339.5 161.2h0M339.5 161.2h0M339.5 161.2h0M342.5 161.2h0M343 161.2h0M343 161.2h0M343.5 161.2h0M343.5 161.2h0M344.5 161.2h0M345 161.2h0M346 161.2h0M346 161.2h0M348.5 161.2h0M348.5 161.2h0M350.5 161.2h0M350.5 161.2h0M351 161.2h0M354 161.2h0M354 161.2h0M354.5 161.2h0M356 161.2h0M358 161.2h0M359.6 161.2h0M361.6 161.2h0M385.1 161.2h0M408.2 161.2h0M482.4 161.2h0M566.2 161.2h0M136.4 162.6h0M205.6 162.6h0M241.2 162.6h0M244.7 162.6h0M260.3 162.6h0M268.3 162.6h0M270.8 162.6h0M279.3 162.6h0M281.8 162.6h0M286.8 162.6h0M288.8 162.6h0M290.3 162.6h0M292.4 162.6h0M295.4 162.6h0M295.4 162.6h0M295.4 162.6h0M295.9 162.6h0M296.4 162.6h0M296.4 162.6h0M297.4 162.6h0M297.9 162.6h0M302.4 162.6h0M302.4 162.6h0M303.4 162.6h0M303.4 162.6h0M303.9 162.6h0M303.9 162.6h0M303.9 162.6h0M305.9 162.6h0M306.4 162.6h0M309.4 162.6h0M309.9 162.6h0M309.9 162.6h0M309.9 162.6h0M310.4 162.6h0M310.9 162.6h0M311.4 162.6h0M311.4 162.6h0M337.5 162.6h0M338 162.6h0M338 162.6h0M338 162.6h0M338 162.6h0M338.5 162.6h0M338.5 162.6h0M338.5 162.6h0M338.5 162.6h0M339.5 162.6h0M345.5 162.6h0M346 162.6h0M346.5 162.6h0M346.5 162.6h0M347 162.6h0M348 162.6h0M348 162.6h0M348 162.6h0M349.5 162.6h0M350.5 162.6h0M351 162.6h0M351.5 162.6h0M352 162.6h0M352.5 162.6h0M353 162.6h0M353.5 162.6h0M354 162.6h0M355.5 162.6h0M357 162.6h0M358.5 162.6h0M360.1 162.6h0M360.1 162.6h0M361.1 162.6h0M361.6 162.6h0M368.1 162.6h0M370.6 162.6h0M405.7 162.6h0M439.8 162.6h0M448.8 162.6h0M471.4 162.6h0M472.4 162.6h0M481.4 162.6h0M484.4 162.6h0M528.6 162.6h0M536.1 162.6h0M141.9 164.1h0M213.6 164.1h0M270.3 164.1h0M288.3 164.1h0M288.8 164.1h0M289.3 164.1h0M292.4 164.1h0M293.4 164.1h0M293.9 164.1h0M294.9 164.1h0M297.4 164.1h0M298.4 164.1h0M301.9 164.1h0M302.4 164.1h0M303.4 164.1h0M304.4 164.1h0M304.4 164.1h0M304.4 164.1h0M306.4 164.1h0M306.4 164.1h0M348 164.1h0M348.5 164.1h0M348.5 164.1h0M349 164.1h0M349 164.1h0M357 164.1h0M359.1 164.1h0M359.6 164.1h0M364.1 164.1h0M370.6 164.1h0M372.1 164.1h0M376.6 164.1h0M379.1 164.1h0M384.6 164.1h0M394.2 164.1h0M397.2 164.1h0M404.2 164.1h0M407.2 164.1h0M455.8 164.1h0M493 164.1h0M508 164.1h0M119.3 165.5h0M121.8 165.5h0M144.9 165.5h0M148.4 165.5h0M270.3 165.5h0M278.3 165.5h0M283.3 165.5h0M289.8 165.5h0M291.8 165.5h0M294.9 165.5h0M295.9 165.5h0M296.4 165.5h0M298.4 165.5h0M299.9 165.5h0M300.4 165.5h0M300.9 165.5h0M301.4 165.5h0M301.4 165.5h0M303.4 165.5h0M303.9 165.5h0M306.4 165.5h0M306.4 165.5h0M349.5 165.5h0M352 165.5h0M352 165.5h0M353.5 165.5h0M353.5 165.5h0M360.1 165.5h0M360.6 165.5h0M360.6 165.5h0M363.6 165.5h0M367.6 165.5h0M370.1 165.5h0M380.6 165.5h0M393.2 165.5h0M535.6 165.5h0M566.2 165.5h0M80.2 167h0M153.9 167h0M170.5 167h0M259.8 167h0M260.3 167h0M278.3 167h0M282.8 167h0M290.3 167h0M292.4 167h0M293.9 167h0M298.9 167h0M300.4 167h0M302.4 167h0M302.9 167h0M304.4 167h0M351.5 167h0M352 167h0M353.5 167h0M353.5 167h0M354 167h0M355.5 167h0M357.5 167h0M359.1 167h0M362.1 167h0M362.6 167h0M384.1 167h0M453.8 167h0M495 167h0M506.5 167h0M507.5 167h0M82.7 168.4h0M94.8 168.4h0M106.3 168.4h0M132.9 168.4h0M181 168.4h0M189.5 168.4h0M256.7 168.4h0M281.3 168.4h0M289.3 168.4h0M290.3 168.4h0M291.3 168.4h0M292.4 168.4h0M292.9 168.4h0M295.4 168.4h0M295.9 168.4h0M296.4 168.4h0M296.4 168.4h0M297.4 168.4h0M298.4 168.4h0M299.9 168.4h0M299.9 168.4h0M300.9 168.4h0M301.9 168.4h0M302.4 168.4h0M302.4 168.4h0M302.9 168.4h0M305.4 168.4h0M305.4 168.4h0M338.5 168.4h0M338.5 168.4h0M339.5 168.4h0M339.5 168.4h0M339.5 168.4h0M340 168.4h0M341.5 168.4h0M341.5 168.4h0M353.5 168.4h0M354 168.4h0M355.5 168.4h0M357.5 168.4h0M357.5 168.4h0M359.6 168.4h0M360.1 168.4h0M361.1 168.4h0M362.6 168.4h0M364.1 168.4h0M364.6 168.4h0M365.6 168.4h0M413.7 168.4h0M416.7 168.4h0M420.7 168.4h0M479.9 168.4h0M485.9 168.4h0M495.5 168.4h0M556.1 168.4h0M564.2 168.4h0M188 169.9h0M261.8 169.9h0M266.3 169.9h0M285.8 169.9h0M290.3 169.9h0M293.4 169.9h0M293.4 169.9h0M299.4 169.9h0M299.4 169.9h0M301.9 169.9h0M302.4 169.9h0M303.9 169.9h0M303.9 169.9h0M305.4 169.9h0M305.9 169.9h0M306.4 169.9h0M307.4 169.9h0M307.4 169.9h0M338.5 169.9h0M338.5 169.9h0M338.5 169.9h0M338.5 169.9h0M338.5 169.9h0M338.5 169.9h0M339 169.9h0M341.5 169.9h0M342.5 169.9h0M342.5 169.9h0M342.5 169.9h0M342.5 169.9h0M343 169.9h0M343 169.9h0M344 169.9h0M344 169.9h0M344.5 169.9h0M345.5 169.9h0M345.5 169.9h0M345.5 169.9h0M347.5 169.9h0M348 169.9h0M348.5 169.9h0M350.5 169.9h0M351.5 169.9h0M351.5 169.9h0M352.5 169.9h0M353 169.9h0M354.5 169.9h0M355 169.9h0M356 169.9h0M356 169.9h0M356 169.9h0M356.5 169.9h0M359.6 169.9h0M371.1 169.9h0M388.1 169.9h0M391.6 169.9h0M423.2 169.9h0M446.3 169.9h0M449.8 169.9h0M111.3 171.3h0M171.5 171.3h0M276.8 171.3h0M278.3 171.3h0M286.8 171.3h0M290.3 171.3h0M290.3 171.3h0M290.8 171.3h0M292.4 171.3h0M295.9 171.3h0M297.4 171.3h0M298.9 171.3h0M299.4 171.3h0M300.9 171.3h0M301.4 171.3h0M305.4 171.3h0M305.4 171.3h0M306.9 171.3h0M306.9 171.3h0M307.4 171.3h0M307.4 171.3h0M338.5 171.3h0M339 171.3h0M339 171.3h0M339.5 171.3h0M340 171.3h0M340 171.3h0M340 171.3h0M340.5 171.3h0M340.5 171.3h0M341 171.3h0M341 171.3h0M341.5 171.3h0M341.5 171.3h0M342.5 171.3h0M344 171.3h0M345.5 171.3h0M345.5 171.3h0M346 171.3h0M346.5 171.3h0M348 171.3h0M348 171.3h0M350.5 171.3h0M352 171.3h0M353.5 171.3h0M354 171.3h0M354.5 171.3h0M356 171.3h0M358 171.3h0M358.5 171.3h0M359.1 171.3h0M360.1 171.3h0M360.1 171.3h0M360.1 171.3h0M361.6 171.3h0M362.1 171.3h0M363.1 171.3h0M365.1 171.3h0M373.1 171.3h0M377.1 171.3h0M384.1 171.3h0M442.8 171.3h0M487.9 171.3h0M540.6 171.3h0M556.1 171.3h0M81.2 172.8h0M88.2 172.8h0M110.8 172.8h0M141.9 172.8h0M182.5 172.8h0M209.1 172.8h0M232.2 172.8h0M275.8 172.8h0M278.8 172.8h0M279.3 172.8h0M282.8 172.8h0M286.8 172.8h0M288.3 172.8h0M288.3 172.8h0M292.9 172.8h0M294.4 172.8h0M294.4 172.8h0M294.4 172.8h0M296.4 172.8h0M297.4 172.8h0M297.9 172.8h0M297.9 172.8h0M343 172.8h0M343 172.8h0M343.5 172.8h0M343.5 172.8h0M343.5 172.8h0M344 172.8h0M344.5 172.8h0M344.5 172.8h0M345.5 172.8h0M345.5 172.8h0M346 172.8h0M346.5 172.8h0M346.5 172.8h0M347 172.8h0M347.5 172.8h0M348 172.8h0M348 172.8h0M349 172.8h0M350 172.8h0M350.5 172.8h0M351 172.8h0M354 172.8h0M355.5 172.8h0M356 172.8h0M356 172.8h0M358.5 172.8h0M362.6 172.8h0M363.1 172.8h0M364.6 172.8h0M369.1 172.8h0M376.6 172.8h0M378.1 172.8h0M392.7 172.8h0M427.3 172.8h0M435.3 172.8h0M462.9 172.8h0M489.9 172.8h0M528.6 172.8h0M532.6 172.8h0M538.6 172.8h0M84.2 174.2h0M84.7 174.2h0M85.2 174.2h0M96.3 174.2h0M97.8 174.2h0M100.8 174.2h0M100.8 174.2h0M108.8 174.2h0M109.3 174.2h0M111.3 174.2h0M115.8 174.2h0M117.3 174.2h0M118.8 174.2h0M124.9 174.2h0M126.9 174.2h0M127.4 174.2h0M133.4 174.2h0M134.4 174.2h0M135.4 174.2h0M136.9 174.2h0M138.4 174.2h0M139.4 174.2h0M142.9 174.2h0M144.4 174.2h0M147.4 174.2h0M148.9 174.2h0M156.4 174.2h0M158.5 174.2h0M160.5 174.2h0M161 174.2h0M164 174.2h0M165.5 174.2h0M167 174.2h0M169.5 174.2h0M171.5 174.2h0M172 174.2h0M174.5 174.2h0M177 174.2h0M177.5 174.2h0M177.5 174.2h0M180.5 174.2h0M183 174.2h0M183.5 174.2h0M184.5 174.2h0M185 174.2h0M186 174.2h0M186 174.2h0M188 174.2h0M190 174.2h0M195.1 174.2h0M198.6 174.2h0M210.1 174.2h0M215.6 174.2h0M219.1 174.2h0M220.6 174.2h0M221.1 174.2h0M227.7 174.2h0M228.2 174.2h0M228.7 174.2h0M230.7 174.2h0M232.7 174.2h0M234.2 174.2h0M240.2 174.2h0M240.7 174.2h0M242.2 174.2h0M242.7 174.2h0M244.2 174.2h0M244.2 174.2h0M244.7 174.2h0M246.2 174.2h0M246.7 174.2h0M247.7 174.2h0M248.7 174.2h0M249.7 174.2h0M250.2 174.2h0M253.2 174.2h0M256.2 174.2h0M275.3 174.2h0M279.3 174.2h0M288.8 174.2h0M290.3 174.2h0M291.8 174.2h0M297.9 174.2h0M297.9 174.2h0M298.4 174.2h0M298.9 174.2h0M298.9 174.2h0M345.5 174.2h0M345.5 174.2h0M347 174.2h0M347 174.2h0M347.5 174.2h0M348.5 174.2h0M350.5 174.2h0M351 174.2h0M351.5 174.2h0M352 174.2h0M352.5 174.2h0M355 174.2h0M355.5 174.2h0M355.5 174.2h0M355.5 174.2h0M357 174.2h0M357.5 174.2h0M358.5 174.2h0M361.1 174.2h0M364.6 174.2h0M365.6 174.2h0M366.1 174.2h0M367.1 174.2h0M367.1 174.2h0M372.6 174.2h0M380.6 174.2h0M388.1 174.2h0M393.7 174.2h0M393.7 174.2h0M394.2 174.2h0M394.7 174.2h0M395.2 174.2h0M396.2 174.2h0M400.2 174.2h0M400.2 174.2h0M405.2 174.2h0M406.2 174.2h0M408.7 174.2h0M411.7 174.2h0M411.7 174.2h0M412.2 174.2h0M415.2 174.2h0M415.2 174.2h0M415.7 174.2h0M419.2 174.2h0M420.7 174.2h0M424.2 174.2h0M424.2 174.2h0M425.8 174.2h0M431.3 174.2h0M433.8 174.2h0M435.3 174.2h0M437.3 174.2h0M437.3 174.2h0M437.8 174.2h0M438.3 174.2h0M439.3 174.2h0M439.3 174.2h0M445.3 174.2h0M445.8 174.2h0M445.8 174.2h0M447.3 174.2h0M449.8 174.2h0M452.3 174.2h0M453.3 174.2h0M453.8 174.2h0M455.3 174.2h0M460.9 174.2h0M461.4 174.2h0M462.4 174.2h0M463.4 174.2h0M465.9 174.2h0M469.9 174.2h0M469.9 174.2h0M470.4 174.2h0M471.4 174.2h0M472.4 174.2h0M473.9 174.2h0M475.4 174.2h0M475.9 174.2h0M477.9 174.2h0M482.4 174.2h0M484.4 174.2h0M495 174.2h0M495.5 174.2h0M495.5 174.2h0M497.5 174.2h0M498.5 174.2h0M500.5 174.2h0M500.5 174.2h0M500.5 174.2h0M500.5 174.2h0M504 174.2h0M506 174.2h0M506.5 174.2h0M512.5 174.2h0M515.5 174.2h0M522.5 174.2h0M524 174.2h0M526.6 174.2h0M527.1 174.2h0M528.1 174.2h0M529.1 174.2h0M529.1 174.2h0M533.1 174.2h0M542.1 174.2h0M544.6 174.2h0M545.1 174.2h0M548.6 174.2h0M548.6 174.2h0M549.1 174.2h0M549.6 174.2h0M550.1 174.2h0M552.6 174.2h0M554.6 174.2h0M554.6 174.2h0M555.1 174.2h0M560.7 174.2h0M561.2 174.2h0M562.2 174.2h0M562.7 174.2h0M563.7 174.2h0M564.7 174.2h0M565.7 174.2h0M568.2 174.2h0M570.2 174.2h0M91.2 175.6h0M110.8 175.6h0M141.9 175.6h0M194.1 175.6h0M245.2 175.6h0M272.3 175.6h0M286.3 175.6h0M287.3 175.6h0M289.3 175.6h0M294.4 175.6h0M295.4 175.6h0M295.9 175.6h0M295.9 175.6h0M296.4 175.6h0M297.4 175.6h0M299.4 175.6h0M299.9 175.6h0M299.9 175.6h0M300.9 175.6h0M300.9 175.6h0M302.4 175.6h0M302.4 175.6h0M305.4 175.6h0M305.4 175.6h0M305.9 175.6h0M307.4 175.6h0M330.5 175.6h0M330.5 175.6h0M330.5 175.6h0M331 175.6h0M331 175.6h0M332.5 175.6h0M332.5 175.6h0M344.5 175.6h0M345 175.6h0M345 175.6h0M346.5 175.6h0M346.5 175.6h0M348 175.6h0M348 175.6h0M349 175.6h0M349.5 175.6h0M349.5 175.6h0M351 175.6h0M352.5 175.6h0M353 175.6h0M353 175.6h0M354.5 175.6h0M357.5 175.6h0M358 175.6h0M358 175.6h0M361.1 175.6h0M365.1 175.6h0M365.1 175.6h0M375.6 175.6h0M389.6 175.6h0M409.7 175.6h0M446.8 175.6h0M479.4 175.6h0M487.9 175.6h0M496 175.6h0M515.5 175.6h0M520.5 175.6h0M555.6 175.6h0M92.8 177.1h0M104.3 177.1h0M114.3 177.1h0M132.4 177.1h0M192.1 177.1h0M225.7 177.1h0M277.8 177.1h0M278.8 177.1h0M290.8 177.1h0M296.4 177.1h0M297.4 177.1h0M298.9 177.1h0M299.9 177.1h0M302.4 177.1h0M302.4 177.1h0M302.4 177.1h0M305.4 177.1h0M305.9 177.1h0M305.9 177.1h0M306.4 177.1h0M306.4 177.1h0M306.9 177.1h0M306.9 177.1h0M306.9 177.1h0M307.4 177.1h0M307.4 177.1h0M330.5 177.1h0M330.5 177.1h0M330.5 177.1h0M331 177.1h0M331 177.1h0M331 177.1h0M331.5 177.1h0M331.5 177.1h0M331.5 177.1h0M332 177.1h0M332 177.1h0M332 177.1h0M332 177.1h0M332.5 177.1h0M332.5 177.1h0M332.5 177.1h0M344.5 177.1h0M344.5 177.1h0M344.5 177.1h0M344.5 177.1h0M344.5 177.1h0M345 177.1h0M345 177.1h0M345.5 177.1h0M346.5 177.1h0M346.5 177.1h0M346.5 177.1h0M347 177.1h0M347.5 177.1h0M349.5 177.1h0M350 177.1h0M350.5 177.1h0M353 177.1h0M355.5 177.1h0M356.5 177.1h0M360.6 177.1h0M362.1 177.1h0M381.1 177.1h0M386.6 177.1h0M393.2 177.1h0M508 177.1h0M510.5 177.1h0M120.8 178.5h0M128.4 178.5h0M185.5 178.5h0M255.7 178.5h0M264.8 178.5h0M292.4 178.5h0M293.4 178.5h0M295.9 178.5h0M296.4 178.5h0M297.9 178.5h0M297.9 178.5h0M300.4 178.5h0M300.4 178.5h0M301.9 178.5h0M301.9 178.5h0M302.4 178.5h0M303.4 178.5h0M303.9 178.5h0M303.9 178.5h0M304.4 178.5h0M304.9 178.5h0M304.9 178.5h0M305.4 178.5h0M305.9 178.5h0M306.4 178.5h0M347.5 178.5h0M348 178.5h0M349 178.5h0M352 178.5h0M353.5 178.5h0M355 178.5h0M356.5 178.5h0M357 178.5h0M359.1 178.5h0M359.6 178.5h0M360.1 178.5h0M365.1 178.5h0M366.1 178.5h0M367.1 178.5h0M368.6 178.5h0M462.9 178.5h0M472.9 178.5h0M519 178.5h0M184.5 180h0M190.5 180h0M191 180h0M202.1 180h0M225.7 180h0M244.7 180h0M249.2 180h0M269.3 180h0M285.3 180h0M286.8 180h0M288.3 180h0M293.9 180h0M295.4 180h0M295.9 180h0M297.9 180h0M299.4 180h0M300.4 180h0M301.9 180h0M301.9 180h0M302.4 180h0M303.4 180h0M306.4 180h0M306.4 180h0M306.4 180h0M306.4 180h0M347.5 180h0M350.5 180h0M352.5 180h0M353 180h0M357 180h0M361.1 180h0M363.6 180h0M364.6 180h0M370.1 180h0M379.1 180h0M389.1 180h0M392.1 180h0M422.7 180h0M467.4 180h0M482.9 180h0M547.1 180h0M566.7 180h0M118.3 181.4h0M125.4 181.4h0M153.9 181.4h0M175 181.4h0M181 181.4h0M195.1 181.4h0M275.3 181.4h0M278.8 181.4h0M282.3 181.4h0M282.3 181.4h0M288.8 181.4h0M289.3 181.4h0M291.8 181.4h0M291.8 181.4h0M292.4 181.4h0M292.4 181.4h0M294.4 181.4h0M295.4 181.4h0M295.9 181.4h0M296.4 181.4h0M297.4 181.4h0M297.4 181.4h0M301.9 181.4h0M301.9 181.4h0M303.4 181.4h0M304.4 181.4h0M304.9 181.4h0M305.4 181.4h0M305.4 181.4h0M305.4 181.4h0M307.4 181.4h0M307.4 181.4h0M307.4 181.4h0M307.4 181.4h0M343.5 181.4h0M343.5 181.4h0M344.5 181.4h0M345 181.4h0M345 181.4h0M345 181.4h0M345.5 181.4h0M345.5 181.4h0M346.5 181.4h0M346.5 181.4h0M347 181.4h0M348.5 181.4h0M349 181.4h0M349 181.4h0M349.5 181.4h0M351.5 181.4h0M352.5 181.4h0M355 181.4h0M355 181.4h0M356.5 181.4h0M358 181.4h0M358.5 181.4h0M360.1 181.4h0M360.1 181.4h0M365.1 181.4h0M366.6 181.4h0M374.6 181.4h0M471.9 181.4h0M486.4 181.4h0M543.1 181.4h0M562.7 181.4h0M96.8 182.9h0M107.3 182.9h0M135.4 182.9h0M282.8 182.9h0M285.3 182.9h0M286.3 182.9h0M292.9 182.9h0M293.4 182.9h0M342.5 182.9h0M343 182.9h0M345 182.9h0M345 182.9h0M345.5 182.9h0M349.5 182.9h0M349.5 182.9h0M349.5 182.9h0M350 182.9h0M350.5 182.9h0M351 182.9h0M352 182.9h0M354.5 182.9h0M356.5 182.9h0M361.1 182.9h0M361.1 182.9h0M383.1 182.9h0M393.2 182.9h0M396.2 182.9h0M397.2 182.9h0M439.3 182.9h0M448.8 182.9h0M460.9 182.9h0M556.6 182.9h0M152.4 184.3h0M159 184.3h0M201.6 184.3h0M211.1 184.3h0M239.7 184.3h0M244.7 184.3h0M281.8 184.3h0M291.3 184.3h0M291.8 184.3h0M295.4 184.3h0M296.4 184.3h0M303.4 184.3h0M304.9 184.3h0M305.4 184.3h0M343 184.3h0M343.5 184.3h0M343.5 184.3h0M343.5 184.3h0M345 184.3h0M346 184.3h0M347 184.3h0M347.5 184.3h0M347.5 184.3h0M347.5 184.3h0M348 184.3h0M348 184.3h0M348.5 184.3h0M348.5 184.3h0M350 184.3h0M350.5 184.3h0M350.5 184.3h0M350.5 184.3h0M352 184.3h0M353 184.3h0M354 184.3h0M354.5 184.3h0M355 184.3h0M356 184.3h0M356 184.3h0M357 184.3h0M357 184.3h0M358 184.3h0M359.6 184.3h0M360.6 184.3h0M360.6 184.3h0M365.1 184.3h0M369.6 184.3h0M375.1 184.3h0M377.6 184.3h0M381.1 184.3h0M429.3 184.3h0M441.8 184.3h0M467.4 184.3h0M475.9 184.3h0M481.4 184.3h0M482.4 184.3h0M500 184.3h0M515.5 184.3h0M522 184.3h0M527.6 184.3h0M568.2 184.3h0M99.8 185.8h0M128.9 185.8h0M140.4 185.8h0M142.9 185.8h0M266.3 185.8h0M273.8 185.8h0M282.8 185.8h0M284.3 185.8h0M286.3 185.8h0M286.8 185.8h0M289.3 185.8h0M291.8 185.8h0M295.4 185.8h0M302.4 185.8h0M302.4 185.8h0M302.4 185.8h0M302.9 185.8h0M305.4 185.8h0M305.4 185.8h0M342.5 185.8h0M343 185.8h0M345 185.8h0M345.5 185.8h0M345.5 185.8h0M347.5 185.8h0M348.5 185.8h0M349.5 185.8h0M352 185.8h0M352.5 185.8h0M356.5 185.8h0M357 185.8h0M357.5 185.8h0M357.5 185.8h0M361.6 185.8h0M363.6 185.8h0M376.6 185.8h0M376.6 185.8h0M456.3 185.8h0M121.3 187.2h0M127.4 187.2h0M219.6 187.2h0M276.3 187.2h0M287.3 187.2h0M288.8 187.2h0M289.8 187.2h0M290.8 187.2h0M291.3 187.2h0M292.9 187.2h0M293.4 187.2h0M294.9 187.2h0M295.4 187.2h0M296.4 187.2h0M296.9 187.2h0M297.9 187.2h0M297.9 187.2h0M298.4 187.2h0M298.4 187.2h0M298.4 187.2h0M302.9 187.2h0M303.9 187.2h0M304.9 187.2h0M313.4 187.2h0M313.4 187.2h0M314.9 187.2h0M315.4 187.2h0M315.4 187.2h0M315.4 187.2h0M342.5 187.2h0M343 187.2h0M344 187.2h0M344.5 187.2h0M344.5 187.2h0M345 187.2h0M345.5 187.2h0M347.5 187.2h0M347.5 187.2h0M348 187.2h0M348 187.2h0M350 187.2h0M351 187.2h0M351.5 187.2h0M353 187.2h0M353.5 187.2h0M354 187.2h0M354.5 187.2h0M357.5 187.2h0M358 187.2h0M362.1 187.2h0M363.1 187.2h0M369.1 187.2h0M374.6 187.2h0M439.8 187.2h0M476.9 187.2h0M487.4 187.2h0M491.4 187.2h0M496 187.2h0M505.5 187.2h0M564.7 187.2h0M567.2 187.2h0M81.2 188.6h0M206.6 188.6h0M226.2 188.6h0M274.8 188.6h0M276.3 188.6h0M276.8 188.6h0M279.3 188.6h0M281.3 188.6h0M283.3 188.6h0M284.3 188.6h0M285.8 188.6h0M286.3 188.6h0M287.8 188.6h0M287.8 188.6h0M289.3 188.6h0M290.8 188.6h0M291.8 188.6h0M292.9 188.6h0M294.9 188.6h0M296.4 188.6h0M298.4 188.6h0M298.9 188.6h0M298.9 188.6h0M299.4 188.6h0M299.4 188.6h0M300.9 188.6h0M301.4 188.6h0M301.4 188.6h0M302.4 188.6h0M302.9 188.6h0M304.4 188.6h0M313.4 188.6h0M313.4 188.6h0M313.4 188.6h0M313.4 188.6h0M313.9 188.6h0M313.9 188.6h0M313.9 188.6h0M313.9 188.6h0M314.4 188.6h0M314.4 188.6h0M314.9 188.6h0M314.9 188.6h0M314.9 188.6h0M314.9 188.6h0M314.9 188.6h0M315.4 188.6h0M315.4 188.6h0M315.4 188.6h0M315.4 188.6h0M315.4 188.6h0M315.4 188.6h0M339.5 188.6h0M339.5 188.6h0M339.5 188.6h0M340 188.6h0M340 188.6h0M340 188.6h0M340 188.6h0M341.5 188.6h0M345.5 188.6h0M346.5 188.6h0M347.5 188.6h0M348 188.6h0M348.5 188.6h0M349 188.6h0M349.5 188.6h0M350 188.6h0M350 188.6h0M356 188.6h0M356.5 188.6h0M359.1 188.6h0M365.6 188.6h0M366.1 188.6h0M369.6 188.6h0M375.1 188.6h0M375.1 188.6h0M498.5 188.6h0M558.6 188.6h0M566.7 188.6h0M88.7 190.1h0M116.3 190.1h0M138.4 190.1h0M152.9 190.1h0M251.7 190.1h0M251.7 190.1h0M260.3 190.1h0M283.8 190.1h0M285.3 190.1h0M289.3 190.1h0M292.4 190.1h0M293.9 190.1h0M294.4 190.1h0M294.9 190.1h0M294.9 190.1h0M294.9 190.1h0M295.4 190.1h0M296.4 190.1h0M296.9 190.1h0M299.4 190.1h0M299.4 190.1h0M299.4 190.1h0M300.9 190.1h0M301.4 190.1h0M301.4 190.1h0M302.4 190.1h0M302.9 190.1h0M302.9 190.1h0M304.4 190.1h0M304.4 190.1h0M304.4 190.1h0M304.4 190.1h0M339.5 190.1h0M339.5 190.1h0M339.5 190.1h0M339.5 190.1h0M340 190.1h0M340.5 190.1h0M340.5 190.1h0M341 190.1h0M341 190.1h0M341.5 190.1h0M341.5 190.1h0M345.5 190.1h0M345.5 190.1h0M345.5 190.1h0M350 190.1h0M350.5 190.1h0M351.5 190.1h0M352.5 190.1h0M354 190.1h0M356 190.1h0M356.5 190.1h0M359.6 190.1h0M359.6 190.1h0M364.1 190.1h0M370.6 190.1h0M374.1 190.1h0M382.6 190.1h0M420.7 190.1h0M80.7 191.5h0M81.7 191.5h0M83.2 191.5h0M83.7 191.5h0M87.7 191.5h0M91.8 191.5h0M97.8 191.5h0M99.3 191.5h0M103.3 191.5h0M107.8 191.5h0M108.8 191.5h0M116.8 191.5h0M122.8 191.5h0M132.9 191.5h0M142.9 191.5h0M154.4 191.5h0M164 191.5h0M165.5 191.5h0M167.5 191.5h0M169 191.5h0M180 191.5h0M182 191.5h0M188 191.5h0M199.6 191.5h0M205.1 191.5h0M219.6 191.5h0M222.1 191.5h0M228.7 191.5h0M237.2 191.5h0M253.7 191.5h0M254.7 191.5h0M260.8 191.5h0M265.3 191.5h0M276.3 191.5h0M277.3 191.5h0M279.3 191.5h0M284.8 191.5h0M285.3 191.5h0M286.3 191.5h0M288.3 191.5h0M288.8 191.5h0M289.3 191.5h0M290.3 191.5h0M291.8 191.5h0M291.8 191.5h0M293.9 191.5h0M295.4 191.5h0M297.9 191.5h0M298.4 191.5h0M298.9 191.5h0M299.4 191.5h0M300.9 191.5h0M300.9 191.5h0M346 191.5h0M346.5 191.5h0M347 191.5h0M347 191.5h0M347 191.5h0M347.5 191.5h0M353.5 191.5h0M354 191.5h0M354 191.5h0M359.6 191.5h0M359.6 191.5h0M360.6 191.5h0M363.1 191.5h0M366.1 191.5h0M366.6 191.5h0M368.1 191.5h0M373.6 191.5h0M374.1 191.5h0M375.1 191.5h0M377.6 191.5h0M383.1 191.5h0M384.1 191.5h0M384.6 191.5h0M398.2 191.5h0M398.7 191.5h0M401.2 191.5h0M421.2 191.5h0M431.3 191.5h0M446.8 191.5h0M448.3 191.5h0M456.3 191.5h0M479.9 191.5h0M488.4 191.5h0M488.9 191.5h0M495 191.5h0M495.5 191.5h0M499 191.5h0M499 191.5h0M501 191.5h0M511.5 191.5h0M519.5 191.5h0M520 191.5h0M524 191.5h0M529.1 191.5h0M548.1 191.5h0M548.6 191.5h0M548.6 191.5h0M552.6 191.5h0M555.1 191.5h0M558.1 191.5h0M560.7 191.5h0M571.2 191.5h0M90.2 193h0M105.8 193h0M109.8 193h0M125.9 193h0M150.9 193h0M163.5 193h0M193.6 193h0M219.1 193h0M273.8 193h0M277.3 193h0M286.8 193h0M287.8 193h0M287.8 193h0M289.8 193h0M293.4 193h0M293.9 193h0M293.9 193h0M295.4 193h0M296.9 193h0M296.9 193h0M296.9 193h0M297.4 193h0M297.4 193h0M353.5 193h0M355.5 193h0M355.5 193h0M356 193h0M359.1 193h0M363.1 193h0M363.6 193h0M365.6 193h0M366.6 193h0M377.1 193h0M410.7 193h0M502.5 193h0M503.5 193h0M522 193h0M543.1 193h0M553.1 193h0M555.1 193h0M181 194.4h0M204.1 194.4h0M212.1 194.4h0M229.7 194.4h0M235.2 194.4h0M273.8 194.4h0M278.3 194.4h0M286.8 194.4h0M287.3 194.4h0M288.8 194.4h0M289.8 194.4h0M294.9 194.4h0M296.4 194.4h0M303.4 194.4h0M303.4 194.4h0M303.4 194.4h0M303.9 194.4h0M342.5 194.4h0M343 194.4h0M343 194.4h0M344 194.4h0M344 194.4h0M347.5 194.4h0M348 194.4h0M348.5 194.4h0M349 194.4h0M349 194.4h0M349.5 194.4h0M351.5 194.4h0M352 194.4h0M352.5 194.4h0M352.5 194.4h0M353.5 194.4h0M353.5 194.4h0M354 194.4h0M354 194.4h0M354.5 194.4h0M355 194.4h0M355.5 194.4h0M356 194.4h0M357 194.4h0M358 194.4h0M359.6 194.4h0M363.6 194.4h0M369.1 194.4h0M374.1 194.4h0M393.7 194.4h0M401.2 194.4h0M477.9 194.4h0M495 194.4h0M495 194.4h0M511 194.4h0M564.7 194.4h0M196.1 195.9h0M286.8 195.9h0M289.3 195.9h0M290.8 195.9h0M292.9 195.9h0M293.9 195.9h0M294.4 195.9h0M295.4 195.9h0M297.4 195.9h0M303.4 195.9h0M304.4 195.9h0M304.4 195.9h0M305.4 195.9h0M305.4 195.9h0M342.5 195.9h0M342.5 195.9h0M344 195.9h0M344.5 195.9h0M344.5 195.9h0M345 195.9h0M345 195.9h0M346.5 195.9h0M348 195.9h0M348 195.9h0M349.5 195.9h0M350 195.9h0M350.5 195.9h0M351.5 195.9h0M352 195.9h0M353.5 195.9h0M354 195.9h0M356.5 195.9h0M359.1 195.9h0M359.1 195.9h0M359.1 195.9h0M362.6 195.9h0M364.1 195.9h0M364.6 195.9h0M366.1 195.9h0M370.6 195.9h0M372.1 195.9h0M375.1 195.9h0M378.6 195.9h0M380.1 195.9h0M385.6 195.9h0M465.9 195.9h0M482.9 195.9h0M90.2 197.3h0M109.3 197.3h0M225.2 197.3h0M263.8 197.3h0M272.3 197.3h0M281.8 197.3h0M282.8 197.3h0M283.8 197.3h0M285.8 197.3h0M286.8 197.3h0M290.8 197.3h0M290.8 197.3h0M291.3 197.3h0M294.4 197.3h0M295.4 197.3h0M296.4 197.3h0M296.4 197.3h0M296.9 197.3h0M296.9 197.3h0M296.9 197.3h0M297.4 197.3h0M297.9 197.3h0M298.4 197.3h0M299.4 197.3h0M299.4 197.3h0M299.4 197.3h0M300.4 197.3h0M301.9 197.3h0M302.4 197.3h0M302.4 197.3h0M302.4 197.3h0M302.9 197.3h0M303.4 197.3h0M305.4 197.3h0M343.5 197.3h0M343.5 197.3h0M343.5 197.3h0M345.5 197.3h0M345.5 197.3h0M349 197.3h0M349 197.3h0M351.5 197.3h0M352 197.3h0M352.5 197.3h0M354 197.3h0M355.5 197.3h0M355.5 197.3h0M356 197.3h0M356.5 197.3h0M357.5 197.3h0M360.1 197.3h0M361.6 197.3h0M363.1 197.3h0M364.6 197.3h0M366.6 197.3h0M368.1 197.3h0M368.6 197.3h0M403.2 197.3h0M419.7 197.3h0M423.2 197.3h0M82.7 198.8h0M128.4 198.8h0M150.9 198.8h0M165.5 198.8h0M172 198.8h0M204.6 198.8h0M206.6 198.8h0M262.8 198.8h0M268.3 198.8h0M275.8 198.8h0M281.3 198.8h0M287.3 198.8h0M289.3 198.8h0M291.8 198.8h0M292.4 198.8h0M295.4 198.8h0M295.4 198.8h0M296.4 198.8h0M296.9 198.8h0M299.4 198.8h0M299.4 198.8h0M299.4 198.8h0M299.4 198.8h0M299.9 198.8h0M299.9 198.8h0M304.9 198.8h0M305.4 198.8h0M305.4 198.8h0M305.4 198.8h0M305.4 198.8h0M343.5 198.8h0M344 198.8h0M344 198.8h0M344 198.8h0M344.5 198.8h0M345 198.8h0M345.5 198.8h0M346 198.8h0M346.5 198.8h0M346.5 198.8h0M347 198.8h0M347.5 198.8h0M348.5 198.8h0M348.5 198.8h0M348.5 198.8h0M348.5 198.8h0M348.5 198.8h0M348.5 198.8h0M349 198.8h0M350 198.8h0M350.5 198.8h0M352 198.8h0M352 198.8h0M352 198.8h0M354.5 198.8h0M355 198.8h0M355 198.8h0M360.1 198.8h0M360.6 198.8h0M361.6 198.8h0M363.1 198.8h0M363.6 198.8h0M364.6 198.8h0M365.1 198.8h0M369.6 198.8h0M370.1 198.8h0M372.1 198.8h0M372.6 198.8h0M401.2 198.8h0M510 198.8h0M515 198.8h0M539.6 198.8h0M103.8 200.2h0M159.5 200.2h0M284.3 200.2h0M286.8 200.2h0M288.3 200.2h0M293.9 200.2h0M297.4 200.2h0M298.4 200.2h0M298.4 200.2h0M299.4 200.2h0M300.9 200.2h0M301.9 200.2h0M302.9 200.2h0M303.9 200.2h0M304.4 200.2h0M304.4 200.2h0M304.4 200.2h0M306.4 200.2h0M306.4 200.2h0M306.4 200.2h0M306.9 200.2h0M306.9 200.2h0M306.9 200.2h0M306.9 200.2h0M306.9 200.2h0M308.4 200.2h0M308.4 200.2h0M316.4 200.2h0M316.4 200.2h0M316.4 200.2h0M316.4 200.2h0M316.9 200.2h0M316.9 200.2h0M316.9 200.2h0M318.4 200.2h0M318.4 200.2h0M318.4 200.2h0M318.4 200.2h0M318.4 200.2h0M345.5 200.2h0M347 200.2h0M347 200.2h0M347.5 200.2h0M350.5 200.2h0M353 200.2h0M354.5 200.2h0M356.5 200.2h0M357.5 200.2h0M357.5 200.2h0M357.5 200.2h0M357.5 200.2h0M360.6 200.2h0M369.1 200.2h0M469.9 200.2h0M497 200.2h0M530.6 200.2h0M203.6 201.6h0M204.1 201.6h0M222.1 201.6h0M253.7 201.6h0M266.3 201.6h0M269.3 201.6h0M273.3 201.6h0M277.3 201.6h0M283.3 201.6h0M283.8 201.6h0M290.8 201.6h0M292.4 201.6h0M294.4 201.6h0M294.4 201.6h0M295.9 201.6h0M295.9 201.6h0M296.9 201.6h0M296.9 201.6h0M298.4 201.6h0M298.4 201.6h0M299.4 201.6h0M299.9 201.6h0M301.9 201.6h0M303.4 201.6h0M304.9 201.6h0M306.4 201.6h0M306.4 201.6h0M306.9 201.6h0M307.9 201.6h0M308.4 201.6h0M308.4 201.6h0M316.4 201.6h0M316.4 201.6h0M316.9 201.6h0M317.4 201.6h0M317.4 201.6h0M317.9 201.6h0M317.9 201.6h0M317.9 201.6h0M318.4 201.6h0M318.4 201.6h0M318.4 201.6h0M345.5 201.6h0M345.5 201.6h0M346.5 201.6h0M347 201.6h0M347.5 201.6h0M348.5 201.6h0M350 201.6h0M351 201.6h0M351.5 201.6h0M351.5 201.6h0M354 201.6h0M365.1 201.6h0M377.1 201.6h0M463.4 201.6h0M482.4 201.6h0M116.8 203.1h0M210.1 203.1h0M267.8 203.1h0M279.8 203.1h0M282.3 203.1h0M290.3 203.1h0M291.3 203.1h0M294.9 203.1h0M295.9 203.1h0M296.4 203.1h0M298.4 203.1h0M301.4 203.1h0M301.9 203.1h0M303.4 203.1h0M303.9 203.1h0M305.4 203.1h0M305.4 203.1h0M349.5 203.1h0M350.5 203.1h0M350.5 203.1h0M350.5 203.1h0M354.5 203.1h0M355.5 203.1h0M355.5 203.1h0M357 203.1h0M359.6 203.1h0M360.1 203.1h0M360.1 203.1h0M360.6 203.1h0M363.1 203.1h0M365.6 203.1h0M368.6 203.1h0M379.1 203.1h0M393.2 203.1h0M487.9 203.1h0M490.4 203.1h0M496.5 203.1h0M512.5 203.1h0M530.6 203.1h0M532.1 203.1h0M533.1 203.1h0M542.6 203.1h0M567.7 203.1h0M116.8 204.5h0M121.3 204.5h0M170 204.5h0M270.3 204.5h0M274.8 204.5h0M275.3 204.5h0M278.3 204.5h0M281.8 204.5h0M282.8 204.5h0M286.8 204.5h0M288.8 204.5h0M292.9 204.5h0M293.9 204.5h0M295.4 204.5h0M296.4 204.5h0M297.9 204.5h0M297.9 204.5h0M300.9 204.5h0M301.9 204.5h0M301.9 204.5h0M302.4 204.5h0M303.4 204.5h0M303.9 204.5h0M303.9 204.5h0M305.4 204.5h0M305.4 204.5h0M305.4 204.5h0M347.5 204.5h0M347.5 204.5h0M347.5 204.5h0M348.5 204.5h0M349.5 204.5h0M350.5 204.5h0M353.5 204.5h0M355 204.5h0M355.5 204.5h0M355.5 204.5h0M356 204.5h0M360.1 204.5h0M360.6 204.5h0M362.6 204.5h0M367.6 204.5h0M370.1 204.5h0M374.6 204.5h0M381.1 204.5h0M392.1 204.5h0M397.2 204.5h0M398.7 204.5h0M434.8 204.5h0M438.8 204.5h0M496.5 204.5h0M530.6 204.5h0M84.2 206h0M140.4 206h0M239.2 206h0M261.8 206h0M273.8 206h0M276.8 206h0M278.3 206h0M279.8 206h0M287.3 206h0M287.3 206h0M290.8 206h0M294.9 206h0M296.9 206h0M300.9 206h0M300.9 206h0M300.9 206h0M300.9 206h0M302.4 206h0M352.5 206h0M357 206h0M359.6 206h0M359.6 206h0M360.6 206h0M372.6 206h0M383.1 206h0M416.7 206h0M496 206h0M503 206h0M505.5 206h0M518 206h0M548.6 206h0M558.1 206h0M86.7 207.4h0M136.9 207.4h0M141.9 207.4h0M197.6 207.4h0M204.6 207.4h0M239.7 207.4h0M270.3 207.4h0M274.8 207.4h0M279.8 207.4h0M280.3 207.4h0M282.8 207.4h0M285.3 207.4h0M287.3 207.4h0M291.8 207.4h0M292.9 207.4h0M293.4 207.4h0M294.4 207.4h0M295.4 207.4h0M296.4 207.4h0M297.4 207.4h0M297.9 207.4h0M299.4 207.4h0M300.9 207.4h0M303.4 207.4h0M348.5 207.4h0M348.5 207.4h0M351 207.4h0M351 207.4h0M351 207.4h0M352 207.4h0M352.5 207.4h0M353 207.4h0M353 207.4h0M353.5 207.4h0M353.5 207.4h0M354 207.4h0M355 207.4h0M355.5 207.4h0M356 207.4h0M356.5 207.4h0M360.1 207.4h0M360.1 207.4h0M363.1 207.4h0M369.6 207.4h0M373.6 207.4h0M376.6 207.4h0M379.6 207.4h0M397.7 207.4h0M397.7 207.4h0M401.7 207.4h0M405.2 207.4h0M425.8 207.4h0M482.4 207.4h0M511 207.4h0M537.6 207.4h0M539.6 207.4h0M563.7 207.4h0M147.4 208.9h0M205.6 208.9h0M230.7 208.9h0M241.2 208.9h0M280.3 208.9h0M280.8 208.9h0M287.8 208.9h0M289.3 208.9h0M289.8 208.9h0M292.9 208.9h0M293.9 208.9h0M295.9 208.9h0M295.9 208.9h0M296.4 208.9h0M296.4 208.9h0M300.4 208.9h0M302.4 208.9h0M302.4 208.9h0M343 208.9h0M343.5 208.9h0M344 208.9h0M344 208.9h0M344 208.9h0M345 208.9h0M346 208.9h0M346.5 208.9h0M346.5 208.9h0M348 208.9h0M349 208.9h0M349 208.9h0M350 208.9h0M351 208.9h0M352.5 208.9h0M353 208.9h0M354 208.9h0M355 208.9h0M357 208.9h0M358.5 208.9h0M360.6 208.9h0M361.6 208.9h0M367.1 208.9h0M368.6 208.9h0M369.1 208.9h0M369.1 208.9h0M371.6 208.9h0M373.1 208.9h0M384.1 208.9h0M398.2 208.9h0M514.5 208.9h0M91.8 210.3h0M134.9 210.3h0M171 210.3h0M208.6 210.3h0M231.7 210.3h0M250.2 210.3h0M254.7 210.3h0M289.8 210.3h0M290.3 210.3h0M291.3 210.3h0M293.4 210.3h0M296.4 210.3h0M297.4 210.3h0M301.4 210.3h0M301.4 210.3h0M301.4 210.3h0M342.5 210.3h0M343 210.3h0M344.5 210.3h0M346.5 210.3h0M347 210.3h0M347 210.3h0M347 210.3h0M347.5 210.3h0M349 210.3h0M351.5 210.3h0M352.5 210.3h0M355.5 210.3h0M358.5 210.3h0M359.1 210.3h0M361.1 210.3h0M363.6 210.3h0M364.6 210.3h0M433.8 210.3h0M522 210.3h0M545.6 210.3h0M97.3 211.8h0M141.4 211.8h0M147.4 211.8h0M163 211.8h0M196.6 211.8h0M222.1 211.8h0M251.7 211.8h0M283.8 211.8h0M292.4 211.8h0M293.9 211.8h0M295.9 211.8h0M298.9 211.8h0M299.4 211.8h0M299.9 211.8h0M300.9 211.8h0M304.4 211.8h0M304.4 211.8h0M304.4 211.8h0M304.9 211.8h0M304.9 211.8h0M305.9 211.8h0M306.4 211.8h0M342.5 211.8h0M342.5 211.8h0M343 211.8h0M343 211.8h0M343.5 211.8h0M343.5 211.8h0M343.5 211.8h0M343.5 211.8h0M344 211.8h0M345.5 211.8h0M346.5 211.8h0M346.5 211.8h0M346.5 211.8h0M348.5 211.8h0M350 211.8h0M350 211.8h0M353 211.8h0M354 211.8h0M354.5 211.8h0M355 211.8h0M355 211.8h0M355.5 211.8h0M356 211.8h0M356.5 211.8h0M363.6 211.8h0M376.1 211.8h0M376.6 211.8h0M383.1 211.8h0M399.7 211.8h0M401.2 211.8h0M444.8 211.8h0M467.4 211.8h0M513.5 211.8h0M523 211.8h0M149.4 213.2h0M151.9 213.2h0M202.1 213.2h0M235.7 213.2h0M237.7 213.2h0M245.2 213.2h0M279.3 213.2h0M290.3 213.2h0M291.8 213.2h0M293.4 213.2h0M293.9 213.2h0M294.4 213.2h0M294.9 213.2h0M295.4 213.2h0M295.9 213.2h0M296.4 213.2h0M297.4 213.2h0M298.4 213.2h0M298.4 213.2h0M301.4 213.2h0M302.9 213.2h0M304.4 213.2h0M304.4 213.2h0M304.4 213.2h0M304.4 213.2h0M306.4 213.2h0M309.4 213.2h0M309.9 213.2h0M309.9 213.2h0M311.4 213.2h0M311.4 213.2h0M343.5 213.2h0M343.5 213.2h0M343.5 213.2h0M344 213.2h0M344 213.2h0M345 213.2h0M345.5 213.2h0M346.5 213.2h0M346.5 213.2h0M347.5 213.2h0M347.5 213.2h0M348 213.2h0M348.5 213.2h0M349 213.2h0M349 213.2h0M349.5 213.2h0M351 213.2h0M351.5 213.2h0M351.5 213.2h0M356.5 213.2h0M356.5 213.2h0M358.5 213.2h0M359.1 213.2h0M362.1 213.2h0M367.1 213.2h0M403.2 213.2h0M462.9 213.2h0M170 214.6h0M180.5 214.6h0M213.6 214.6h0M216.1 214.6h0M233.7 214.6h0M256.7 214.6h0M280.3 214.6h0M292.4 214.6h0M294.4 214.6h0M298.9 214.6h0M298.9 214.6h0M298.9 214.6h0M299.9 214.6h0M301.4 214.6h0M301.4 214.6h0M302.9 214.6h0M302.9 214.6h0M304.9 214.6h0M305.4 214.6h0M305.4 214.6h0M306.4 214.6h0M306.4 214.6h0M306.4 214.6h0M306.4 214.6h0M309.4 214.6h0M309.9 214.6h0M309.9 214.6h0M309.9 214.6h0M310.4 214.6h0M310.4 214.6h0M310.4 214.6h0M310.9 214.6h0M310.9 214.6h0M310.9 214.6h0M311.4 214.6h0M346.5 214.6h0M346.5 214.6h0M348 214.6h0M348.5 214.6h0M349.5 214.6h0M350.5 214.6h0M350.5 214.6h0M351.5 214.6h0M353 214.6h0M356.5 214.6h0M357.5 214.6h0M358.5 214.6h0M361.6 214.6h0M362.6 214.6h0M362.6 214.6h0M363.1 214.6h0M367.6 214.6h0M368.6 214.6h0M384.1 214.6h0M404.2 214.6h0M429.3 214.6h0M526 214.6h0M130.9 216.1h0M177 216.1h0M199.6 216.1h0M230.2 216.1h0M278.3 216.1h0M281.8 216.1h0M284.3 216.1h0M287.8 216.1h0M293.9 216.1h0M295.4 216.1h0M295.4 216.1h0M296.9 216.1h0M297.4 216.1h0M298.4 216.1h0M298.9 216.1h0M301.4 216.1h0M302.4 216.1h0M302.9 216.1h0M302.9 216.1h0M303.4 216.1h0M304.9 216.1h0M305.4 216.1h0M346.5 216.1h0M347.5 216.1h0M347.5 216.1h0M347.5 216.1h0M348 216.1h0M348.5 216.1h0M350.5 216.1h0M351 216.1h0M353 216.1h0M354 216.1h0M354 216.1h0M357 216.1h0M358.5 216.1h0M359.1 216.1h0M359.6 216.1h0M360.6 216.1h0M360.6 216.1h0M363.6 216.1h0M364.1 216.1h0M364.6 216.1h0M367.1 216.1h0M375.6 216.1h0M407.2 216.1h0M479.4 216.1h0M79.7 217.5h0M83.7 217.5h0M102.8 217.5h0M122.3 217.5h0M123.8 217.5h0M124.3 217.5h0M155.9 217.5h0M164 217.5h0M171 217.5h0M185 217.5h0M206.1 217.5h0M214.1 217.5h0M222.1 217.5h0M239.2 217.5h0M249.2 217.5h0M261.8 217.5h0M264.8 217.5h0M268.8 217.5h0M275.3 217.5h0M286.3 217.5h0M289.8 217.5h0M289.8 217.5h0M294.4 217.5h0M295.9 217.5h0M299.4 217.5h0M300.4 217.5h0M300.9 217.5h0M303.4 217.5h0M303.4 217.5h0M303.4 217.5h0M304.9 217.5h0M304.9 217.5h0M306.4 217.5h0M306.4 217.5h0M306.4 217.5h0M311.4 217.5h0M311.9 217.5h0M311.9 217.5h0M312.4 217.5h0M312.4 217.5h0M313.4 217.5h0M313.4 217.5h0M313.4 217.5h0M313.4 217.5h0M313.9 217.5h0M313.9 217.5h0M313.9 217.5h0M314.4 217.5h0M314.4 217.5h0M351 217.5h0M352.5 217.5h0M354 217.5h0M355 217.5h0M355.5 217.5h0M357 217.5h0M358.5 217.5h0M359.1 217.5h0M359.1 217.5h0M360.1 217.5h0M360.6 217.5h0M361.1 217.5h0M363.1 217.5h0M365.1 217.5h0M366.6 217.5h0M366.6 217.5h0M367.1 217.5h0M367.1 217.5h0M374.1 217.5h0M383.6 217.5h0M401.2 217.5h0M408.7 217.5h0M412.7 217.5h0M418.2 217.5h0M437.8 217.5h0M449.8 217.5h0M453.3 217.5h0M455.3 217.5h0M459.9 217.5h0M471.9 217.5h0M484.4 217.5h0M484.9 217.5h0M494 217.5h0M495.5 217.5h0M511 217.5h0M511.5 217.5h0M518.5 217.5h0M518.5 217.5h0M541.6 217.5h0M542.1 217.5h0M553.1 217.5h0M80.7 219h0M84.7 219h0M100.3 219h0M188 219h0M202.1 219h0M224.6 219h0M278.3 219h0M281.3 219h0M288.8 219h0M291.3 219h0M292.9 219h0M293.4 219h0M296.4 219h0M301.4 219h0M304.4 219h0M304.4 219h0M311.4 219h0M311.9 219h0M311.9 219h0M314.4 219h0M314.4 219h0M355.5 219h0M364.1 219h0M365.1 219h0M379.6 219h0M421.2 219h0M508 219h0M522.5 219h0M528.1 219h0M84.7 220.4h0M127.9 220.4h0M162.5 220.4h0M170.5 220.4h0M188.5 220.4h0M283.3 220.4h0M284.3 220.4h0M290.3 220.4h0M290.8 220.4h0M291.8 220.4h0M292.4 220.4h0M296.9 220.4h0M298.9 220.4h0M299.4 220.4h0M299.4 220.4h0M300.9 220.4h0M300.9 220.4h0M301.4 220.4h0M301.4 220.4h0M301.9 220.4h0M301.9 220.4h0M302.4 220.4h0M302.4 220.4h0M302.4 220.4h0M302.9 220.4h0M302.9 220.4h0M304.4 220.4h0M304.4 220.4h0M305.4 220.4h0M305.4 220.4h0M305.9 220.4h0M305.9 220.4h0M306.4 220.4h0M311.4 220.4h0M311.9 220.4h0M312.4 220.4h0M312.4 220.4h0M312.4 220.4h0M313.4 220.4h0M313.4 220.4h0M313.4 220.4h0M313.9 220.4h0M313.9 220.4h0M313.9 220.4h0M314.4 220.4h0M314.4 220.4h0M345.5 220.4h0M346 220.4h0M346 220.4h0M346.5 220.4h0M347 220.4h0M347 220.4h0M347.5 220.4h0M348 220.4h0M348.5 220.4h0M349 220.4h0M349.5 220.4h0M350 220.4h0M350 220.4h0M351 220.4h0M353.5 220.4h0M354.5 220.4h0M355 220.4h0M355 220.4h0M356 220.4h0M356.5 220.4h0M360.1 220.4h0M362.1 220.4h0M362.6 220.4h0M367.1 220.4h0M367.1 220.4h0M387.1 220.4h0M394.2 220.4h0M412.2 220.4h0M464.4 220.4h0M545.1 220.4h0M178 221.9h0M239.7 221.9h0M253.7 221.9h0M259.8 221.9h0M261.3 221.9h0M286.8 221.9h0M289.3 221.9h0M289.8 221.9h0M292.4 221.9h0M293.4 221.9h0M294.4 221.9h0M295.4 221.9h0M295.9 221.9h0M296.4 221.9h0M297.4 221.9h0M297.9 221.9h0M298.4 221.9h0M298.4 221.9h0M298.4 221.9h0M299.4 221.9h0M302.4 221.9h0M302.4 221.9h0M304.4 221.9h0M307.9 221.9h0M307.9 221.9h0M308.4 221.9h0M308.4 221.9h0M308.9 221.9h0M309.4 221.9h0M309.4 221.9h0M309.4 221.9h0M331.5 221.9h0M331.5 221.9h0M332 221.9h0M332 221.9h0M332 221.9h0M332.5 221.9h0M333 221.9h0M333.5 221.9h0M333.5 221.9h0M333.5 221.9h0M345.5 221.9h0M348 221.9h0M348 221.9h0M350.5 221.9h0M352 221.9h0M352.5 221.9h0M353 221.9h0M353 221.9h0M354 221.9h0M354 221.9h0M354.5 221.9h0M355.5 221.9h0M356 221.9h0M357 221.9h0M361.6 221.9h0M361.6 221.9h0M362.6 221.9h0M364.6 221.9h0M365.1 221.9h0M367.1 221.9h0M367.6 221.9h0M373.1 221.9h0M374.6 221.9h0M376.1 221.9h0M401.7 221.9h0M413.7 221.9h0M420.7 221.9h0M443.8 221.9h0M470.9 221.9h0M81.7 223.3h0M83.7 223.3h0M118.3 223.3h0M203.6 223.3h0M250.7 223.3h0M271.3 223.3h0M286.3 223.3h0M289.3 223.3h0M291.8 223.3h0M292.9 223.3h0M295.9 223.3h0M295.9 223.3h0M295.9 223.3h0M298.4 223.3h0M298.4 223.3h0M299.4 223.3h0M299.9 223.3h0M300.4 223.3h0M301.4 223.3h0M302.4 223.3h0M302.9 223.3h0M303.4 223.3h0M303.9 223.3h0M303.9 223.3h0M304.4 223.3h0M307.4 223.3h0M307.4 223.3h0M308.9 223.3h0M308.9 223.3h0M309.4 223.3h0M309.4 223.3h0M331.5 223.3h0M331.5 223.3h0M333 223.3h0M333 223.3h0M333 223.3h0M333 223.3h0M333.5 223.3h0M333.5 223.3h0M333.5 223.3h0M333.5 223.3h0M333.5 223.3h0M339.5 223.3h0M339.5 223.3h0M340 223.3h0M341 223.3h0M342.5 223.3h0M342.5 223.3h0M342.5 223.3h0M343 223.3h0M343 223.3h0M343.5 223.3h0M343.5 223.3h0M343.5 223.3h0M344 223.3h0M344 223.3h0M345.5 223.3h0M346 223.3h0M346 223.3h0M346.5 223.3h0M346.5 223.3h0M347 223.3h0M348.5 223.3h0M348.5 223.3h0M349 223.3h0M349 223.3h0M349 223.3h0M350.5 223.3h0M351 223.3h0M355.5 223.3h0M358.5 223.3h0M361.6 223.3h0M368.6 223.3h0M385.6 223.3h0M389.1 223.3h0M403.7 223.3h0M418.2 223.3h0M444.8 223.3h0M498.5 223.3h0M507 223.3h0M101.3 224.7h0M123.3 224.7h0M127.9 224.7h0M160.5 224.7h0M173.5 224.7h0M180 224.7h0M219.6 224.7h0M272.8 224.7h0M273.3 224.7h0M279.3 224.7h0M280.8 224.7h0M283.8 224.7h0M288.3 224.7h0M289.8 224.7h0M290.3 224.7h0M290.3 224.7h0M291.3 224.7h0M293.4 224.7h0M296.4 224.7h0M296.9 224.7h0M297.4 224.7h0M299.4 224.7h0M299.4 224.7h0M299.9 224.7h0M300.4 224.7h0M304.9 224.7h0M304.9 224.7h0M304.9 224.7h0M305.4 224.7h0M336.5 224.7h0M336.5 224.7h0M337 224.7h0M337 224.7h0M337.5 224.7h0M338 224.7h0M339 224.7h0M339 224.7h0M339 224.7h0M339 224.7h0M339.5 224.7h0M340 224.7h0M341.5 224.7h0M342.5 224.7h0M343 224.7h0M344.5 224.7h0M344.5 224.7h0M345 224.7h0M345.5 224.7h0M346.5 224.7h0M346.5 224.7h0M347 224.7h0M347.5 224.7h0M348 224.7h0M348 224.7h0M348 224.7h0M348 224.7h0M348.5 224.7h0M350.5 224.7h0M351.5 224.7h0M352.5 224.7h0M353 224.7h0M355 224.7h0M356.5 224.7h0M358 224.7h0M362.6 224.7h0M364.1 224.7h0M364.6 224.7h0M367.1 224.7h0M370.1 224.7h0M380.6 224.7h0M382.6 224.7h0M467.9 224.7h0M479.9 224.7h0M120.8 226.2h0M172 226.2h0M179.5 226.2h0M195.1 226.2h0M195.6 226.2h0M211.6 226.2h0M251.7 226.2h0M268.3 226.2h0M275.3 226.2h0M283.8 226.2h0M288.3 226.2h0M289.3 226.2h0M290.3 226.2h0M292.9 226.2h0M295.9 226.2h0M296.4 226.2h0M297.9 226.2h0M298.9 226.2h0M298.9 226.2h0M302.4 226.2h0M302.9 226.2h0M302.9 226.2h0M303.4 226.2h0M303.4 226.2h0M304.9 226.2h0M306.9 226.2h0M327.5 226.2h0M328 226.2h0M328 226.2h0M328.5 226.2h0M328.5 226.2h0M328.5 226.2h0M328.5 226.2h0M329 226.2h0M329 226.2h0M329 226.2h0M329 226.2h0M329.5 226.2h0M329.5 226.2h0M329.5 226.2h0M329.5 226.2h0M336.5 226.2h0M336.5 226.2h0M337 226.2h0M337 226.2h0M337 226.2h0M337 226.2h0M339.5 226.2h0M339.5 226.2h0M340 226.2h0M340.5 226.2h0M341 226.2h0M341 226.2h0M341 226.2h0M341 226.2h0M341.5 226.2h0M342.5 226.2h0M343 226.2h0M343 226.2h0M343 226.2h0M343 226.2h0M343.5 226.2h0M344 226.2h0M345.5 226.2h0M347 226.2h0M347.5 226.2h0M347.5 226.2h0M349 226.2h0M350 226.2h0M353 226.2h0M354 226.2h0M355 226.2h0M355.5 226.2h0M357 226.2h0M358 226.2h0M358 226.2h0M360.6 226.2h0M363.6 226.2h0M389.6 226.2h0M424.7 226.2h0M440.3 226.2h0M464.4 226.2h0M483.9 226.2h0M494 226.2h0M114.3 227.6h0M121.3 227.6h0M163 227.6h0M243.2 227.6h0M283.8 227.6h0M290.3 227.6h0M290.3 227.6h0M290.8 227.6h0M293.4 227.6h0M294.4 227.6h0M296.4 227.6h0M297.4 227.6h0M297.4 227.6h0M299.4 227.6h0M299.4 227.6h0M300.4 227.6h0M301.4 227.6h0M302.4 227.6h0M302.4 227.6h0M304.9 227.6h0M306.9 227.6h0M306.9 227.6h0M307.4 227.6h0M327.5 227.6h0M327.5 227.6h0M328 227.6h0M328 227.6h0M328 227.6h0M330 227.6h0M330 227.6h0M330 227.6h0M330 227.6h0M330 227.6h0M330.5 227.6h0M330.5 227.6h0M330.5 227.6h0M336.5 227.6h0M336.5 227.6h0M336.5 227.6h0M336.5 227.6h0M336.5 227.6h0M338 227.6h0M338.5 227.6h0M339 227.6h0M339 227.6h0M339.5 227.6h0M343.5 227.6h0M343.5 227.6h0M344 227.6h0M344 227.6h0M344.5 227.6h0M344.5 227.6h0M344.5 227.6h0M344.5 227.6h0M344.5 227.6h0M345 227.6h0M345 227.6h0M345.5 227.6h0M346.5 227.6h0M346.5 227.6h0M349.5 227.6h0M350 227.6h0M351 227.6h0M351 227.6h0M351.5 227.6h0M352.5 227.6h0M352.5 227.6h0M353 227.6h0M354 227.6h0M358 227.6h0M359.1 227.6h0M361.1 227.6h0M366.1 227.6h0M367.1 227.6h0M371.6 227.6h0M373.6 227.6h0M398.2 227.6h0M80.2 229.1h0M130.9 229.1h0M295.4 229.1h0M295.9 229.1h0M297.4 229.1h0M300.9 229.1h0M304.4 229.1h0M304.4 229.1h0M305.4 229.1h0M305.9 229.1h0M305.9 229.1h0M306.9 229.1h0M307.4 229.1h0M327.5 229.1h0M327.5 229.1h0M327.5 229.1h0M327.5 229.1h0M327.5 229.1h0M328 229.1h0M328 229.1h0M328 229.1h0M328.5 229.1h0M328.5 229.1h0M329 229.1h0M329 229.1h0M329 229.1h0M329.5 229.1h0M329.5 229.1h0M329.5 229.1h0M329.5 229.1h0M329.5 229.1h0M330 229.1h0M330 229.1h0M330.5 229.1h0M330.5 229.1h0M330.5 229.1h0M330.5 229.1h0M336.5 229.1h0M336.5 229.1h0M336.5 229.1h0M337 229.1h0M337 229.1h0M337 229.1h0M337.5 229.1h0M338.5 229.1h0M346.5 229.1h0M348.5 229.1h0M348.5 229.1h0M349.5 229.1h0M352.5 229.1h0M356 229.1h0M357 229.1h0M360.1 229.1h0M369.1 229.1h0M371.6 229.1h0M415.7 229.1h0M416.2 229.1h0M431.3 229.1h0M446.3 229.1h0M505.5 229.1h0M531.6 229.1h0M534.6 229.1h0M545.6 229.1h0M89.2 230.5h0M98.8 230.5h0M150.4 230.5h0M169 230.5h0M217.6 230.5h0M283.8 230.5h0M291.8 230.5h0M292.9 230.5h0M293.4 230.5h0M293.9 230.5h0M294.9 230.5h0M297.4 230.5h0M297.9 230.5h0M297.9 230.5h0M298.9 230.5h0M299.9 230.5h0M300.9 230.5h0M300.9 230.5h0M301.9 230.5h0M302.4 230.5h0M302.4 230.5h0M302.9 230.5h0M302.9 230.5h0M303.9 230.5h0M304.4 230.5h0M346.5 230.5h0M347 230.5h0M348.5 230.5h0M348.5 230.5h0M350.5 230.5h0M351 230.5h0M351.5 230.5h0M352 230.5h0M352.5 230.5h0M352.5 230.5h0M353.5 230.5h0M354.5 230.5h0M356 230.5h0M357 230.5h0M359.6 230.5h0M509.5 230.5h0M514 230.5h0M516.5 230.5h0M528.1 230.5h0M549.1 230.5h0M83.2 232h0M192.6 232h0M237.2 232h0M245.2 232h0M255.7 232h0M267.3 232h0M275.8 232h0M285.3 232h0M287.3 232h0M291.3 232h0M292.4 232h0M294.4 232h0M294.4 232h0M295.4 232h0M295.9 232h0M297.9 232h0M299.4 232h0M352.5 232h0M354 232h0M354 232h0M356 232h0M364.6 232h0M366.6 232h0M373.1 232h0M374.1 232h0M374.6 232h0M374.6 232h0M383.1 232h0M385.6 232h0M399.2 232h0M417.2 232h0M424.2 232h0M439.8 232h0M502 232h0M544.6 232h0M92.3 233.4h0M236.2 233.4h0M280.8 233.4h0M284.8 233.4h0M291.8 233.4h0M291.8 233.4h0M293.4 233.4h0M295.4 233.4h0M296.4 233.4h0M297.9 233.4h0M299.9 233.4h0M299.9 233.4h0M299.9 233.4h0M299.9 233.4h0M303.4 233.4h0M303.4 233.4h0M303.4 233.4h0M303.9 233.4h0M304.9 233.4h0M304.9 233.4h0M305.4 233.4h0M305.4 233.4h0M308.9 233.4h0M308.9 233.4h0M309.9 233.4h0M321.4 233.4h0M321.4 233.4h0M321.4 233.4h0M321.4 233.4h0M321.4 233.4h0M321.4 233.4h0M321.4 233.4h0M321.9 233.4h0M321.9 233.4h0M322.4 233.4h0M322.9 233.4h0M322.9 233.4h0M322.9 233.4h0M323.4 233.4h0M323.4 233.4h0M323.4 233.4h0M323.4 233.4h0M347.5 233.4h0M347.5 233.4h0M349 233.4h0M350 233.4h0M350.5 233.4h0M351 233.4h0M351.5 233.4h0M352.5 233.4h0M357.5 233.4h0M359.1 233.4h0M359.1 233.4h0M363.6 233.4h0M375.1 233.4h0M377.1 233.4h0M382.6 233.4h0M384.6 233.4h0M412.7 233.4h0M417.2 233.4h0M530.6 233.4h0M535.1 233.4h0M551.1 233.4h0M218.6 234.9h0M287.3 234.9h0M287.8 234.9h0M289.8 234.9h0M292.4 234.9h0M292.9 234.9h0M293.9 234.9h0M293.9 234.9h0M295.4 234.9h0M295.4 234.9h0M296.4 234.9h0M298.4 234.9h0M300.4 234.9h0M302.4 234.9h0M302.9 234.9h0M303.4 234.9h0M305.4 234.9h0M308.4 234.9h0M308.4 234.9h0M309.9 234.9h0M310.4 234.9h0M310.4 234.9h0M310.9 234.9h0M310.9 234.9h0M311.4 234.9h0M311.4 234.9h0M311.4 234.9h0M311.9 234.9h0M312.4 234.9h0M312.9 234.9h0M312.9 234.9h0M312.9 234.9h0M313.4 234.9h0M313.4 234.9h0M313.4 234.9h0M313.4 234.9h0M321.4 234.9h0M321.9 234.9h0M321.9 234.9h0M323.4 234.9h0M345.5 234.9h0M345.5 234.9h0M345.5 234.9h0M346.5 234.9h0M347 234.9h0M347 234.9h0M348 234.9h0M350.5 234.9h0M353 234.9h0M358.5 234.9h0M359.1 234.9h0M363.1 234.9h0M364.1 234.9h0M373.1 234.9h0M373.6 234.9h0M404.7 234.9h0M422.7 234.9h0M427.3 234.9h0M488.9 234.9h0M498 234.9h0M518.5 234.9h0M563.7 234.9h0M127.4 236.3h0M169 236.3h0M207.6 236.3h0M244.7 236.3h0M270.3 236.3h0M276.8 236.3h0M292.9 236.3h0M292.9 236.3h0M295.4 236.3h0M295.4 236.3h0M295.4 236.3h0M295.9 236.3h0M295.9 236.3h0M296.9 236.3h0M297.9 236.3h0M297.9 236.3h0M299.4 236.3h0M300.4 236.3h0M302.4 236.3h0M302.4 236.3h0M304.4 236.3h0M304.9 236.3h0M305.4 236.3h0M305.4 236.3h0M310.4 236.3h0M312.9 236.3h0M345.5 236.3h0M345.5 236.3h0M347 236.3h0M347.5 236.3h0M348.5 236.3h0M348.5 236.3h0M348.5 236.3h0M348.5 236.3h0M350 236.3h0M350.5 236.3h0M350.5 236.3h0M351 236.3h0M351 236.3h0M352.5 236.3h0M352.5 236.3h0M352.5 236.3h0M353 236.3h0M354.5 236.3h0M354.5 236.3h0M355 236.3h0M355.5 236.3h0M357 236.3h0M358.5 236.3h0M359.1 236.3h0M360.1 236.3h0M360.6 236.3h0M364.1 236.3h0M367.6 236.3h0M378.1 236.3h0M417.2 236.3h0M420.2 236.3h0M476.9 236.3h0M521 236.3h0M125.4 237.7h0M151.4 237.7h0M163 237.7h0M164.5 237.7h0M170.5 237.7h0M228.2 237.7h0M247.7 237.7h0M260.3 237.7h0M278.3 237.7h0M285.8 237.7h0M290.8 237.7h0M293.9 237.7h0M294.9 237.7h0M297.4 237.7h0M298.9 237.7h0M300.4 237.7h0M300.9 237.7h0M302.4 237.7h0M302.9 237.7h0M303.9 237.7h0M304.4 237.7h0M310.4 237.7h0M310.9 237.7h0M310.9 237.7h0M311.4 237.7h0M311.4 237.7h0M311.4 237.7h0M311.9 237.7h0M311.9 237.7h0M312.4 237.7h0M312.4 237.7h0M340.5 237.7h0M341 237.7h0M341 237.7h0M341.5 237.7h0M341.5 237.7h0M342.5 237.7h0M342.5 237.7h0M342.5 237.7h0M345.5 237.7h0M346 237.7h0M347 237.7h0M347.5 237.7h0M347.5 237.7h0M348.5 237.7h0M350 237.7h0M350 237.7h0M350.5 237.7h0M350.5 237.7h0M350.5 237.7h0M352 237.7h0M353.5 237.7h0M356 237.7h0M356 237.7h0M358 237.7h0M359.1 237.7h0M370.6 237.7h0M404.2 237.7h0M405.7 237.7h0M450.3 237.7h0M483.9 237.7h0M539.6 237.7h0M555.6 237.7h0M88.7 239.2h0M100.3 239.2h0M113.3 239.2h0M151.4 239.2h0M267.3 239.2h0M277.8 239.2h0M281.8 239.2h0M288.8 239.2h0M291.3 239.2h0M292.9 239.2h0M299.9 239.2h0M299.9 239.2h0M301.9 239.2h0M301.9 239.2h0M303.4 239.2h0M303.4 239.2h0M303.9 239.2h0M304.4 239.2h0M304.4 239.2h0M320.4 239.2h0M320.9 239.2h0M320.9 239.2h0M322.4 239.2h0M322.4 239.2h0M340.5 239.2h0M341 239.2h0M341 239.2h0M342.5 239.2h0M346.5 239.2h0M346.5 239.2h0M348 239.2h0M348.5 239.2h0M350 239.2h0M350 239.2h0M350.5 239.2h0M351 239.2h0M351.5 239.2h0M353 239.2h0M354.5 239.2h0M354.5 239.2h0M355 239.2h0M356.5 239.2h0M357.5 239.2h0M358.5 239.2h0M368.1 239.2h0M387.1 239.2h0M512.5 239.2h0M513.5 239.2h0M543.1 239.2h0M566.2 239.2h0M122.3 240.6h0M144.4 240.6h0M249.2 240.6h0M288.8 240.6h0M292.4 240.6h0M293.9 240.6h0M294.4 240.6h0M294.4 240.6h0M294.9 240.6h0M295.9 240.6h0M296.4 240.6h0M296.9 240.6h0M297.4 240.6h0M299.9 240.6h0M300.9 240.6h0M301.9 240.6h0M304.4 240.6h0M304.4 240.6h0M305.9 240.6h0M305.9 240.6h0M305.9 240.6h0M306.4 240.6h0M318.4 240.6h0M318.9 240.6h0M318.9 240.6h0M320.4 240.6h0M320.4 240.6h0M320.9 240.6h0M320.9 240.6h0M320.9 240.6h0M320.9 240.6h0M321.9 240.6h0M321.9 240.6h0M322.4 240.6h0M322.4 240.6h0M340.5 240.6h0M341 240.6h0M341 240.6h0M341.5 240.6h0M341.5 240.6h0M342 240.6h0M342 240.6h0M342 240.6h0M344.5 240.6h0M344.5 240.6h0M346 240.6h0M346 240.6h0M347 240.6h0M348 240.6h0M348.5 240.6h0M349 240.6h0M349.5 240.6h0M350.5 240.6h0M351.5 240.6h0M351.5 240.6h0M351.5 240.6h0M352 240.6h0M357.5 240.6h0M358 240.6h0M358 240.6h0M359.1 240.6h0M360.1 240.6h0M360.6 240.6h0M362.1 240.6h0M366.6 240.6h0M370.1 240.6h0M374.1 240.6h0M409.2 240.6h0M441.8 240.6h0M443.3 240.6h0M471.9 240.6h0M517 240.6h0M97.8 242.1h0M175 242.1h0M200.6 242.1h0M247.7 242.1h0M279.3 242.1h0M279.8 242.1h0M286.8 242.1h0M288.8 242.1h0M288.8 242.1h0M293.4 242.1h0M294.4 242.1h0M295.9 242.1h0M297.4 242.1h0M298.9 242.1h0M299.9 242.1h0M299.9 242.1h0M300.4 242.1h0M302.9 242.1h0M302.9 242.1h0M303.4 242.1h0M303.4 242.1h0M304.4 242.1h0M304.4 242.1h0M304.9 242.1h0M305.9 242.1h0M307.4 242.1h0M318.4 242.1h0M318.4 242.1h0M318.4 242.1h0M318.9 242.1h0M319.4 242.1h0M319.4 242.1h0M319.4 242.1h0M319.9 242.1h0M320.4 242.1h0M320.4 242.1h0M344.5 242.1h0M346 242.1h0M347.5 242.1h0M347.5 242.1h0M347.5 242.1h0M348 242.1h0M349.5 242.1h0M351.5 242.1h0M351.5 242.1h0M352.5 242.1h0M353 242.1h0M355 242.1h0M355.5 242.1h0M356.5 242.1h0M357 242.1h0M359.1 242.1h0M363.6 242.1h0M366.1 242.1h0M366.6 242.1h0M367.1 242.1h0M371.1 242.1h0M509.5 242.1h0M530.1 242.1h0M570.2 242.1h0M570.7 242.1h0M100.3 243.5h0M106.8 243.5h0M117.8 243.5h0M122.8 243.5h0M157.4 243.5h0M270.3 243.5h0M276.3 243.5h0M278.8 243.5h0M285.3 243.5h0M287.8 243.5h0M290.8 243.5h0M293.9 243.5h0M297.4 243.5h0M298.9 243.5h0M298.9 243.5h0M298.9 243.5h0M299.4 243.5h0M299.9 243.5h0M299.9 243.5h0M300.4 243.5h0M300.4 243.5h0M301.4 243.5h0M303.4 243.5h0M304.4 243.5h0M304.9 243.5h0M305.4 243.5h0M307.4 243.5h0M342.5 243.5h0M343 243.5h0M343 243.5h0M343.5 243.5h0M344 243.5h0M344 243.5h0M344 243.5h0M344 243.5h0M344.5 243.5h0M345 243.5h0M345.5 243.5h0M345.5 243.5h0M347.5 243.5h0M350.5 243.5h0M350.5 243.5h0M352 243.5h0M354 243.5h0M359.1 243.5h0M362.1 243.5h0M364.6 243.5h0M368.6 243.5h0M373.1 243.5h0M468.4 243.5h0M174 245h0M237.2 245h0M283.8 245h0M285.8 245h0M285.8 245h0M286.3 245h0M286.8 245h0M290.3 245h0M291.3 245h0M294.9 245h0M294.9 245h0M294.9 245h0M297.4 245h0M299.4 245h0M301.9 245h0M302.4 245h0M302.9 245h0M305.4 245h0M305.4 245h0M306.4 245h0M307.9 245h0M341.5 245h0M341.5 245h0M342 245h0M342 245h0M345.5 245h0M345.5 245h0M351 245h0M354.5 245h0M356.5 245h0M356.5 245h0M357 245h0M357 245h0M358.5 245h0M364.1 245h0M367.6 245h0M368.1 245h0M368.1 245h0M381.1 245h0M398.7 245h0M413.2 245h0M437.8 245h0M467.9 245h0M504 245h0M102.8 246.4h0M103.8 246.4h0M119.3 246.4h0M135.4 246.4h0M197.6 246.4h0M236.2 246.4h0M272.3 246.4h0M279.8 246.4h0M291.8 246.4h0M292.9 246.4h0M294.4 246.4h0M298.4 246.4h0M298.9 246.4h0M299.9 246.4h0M301.9 246.4h0M303.4 246.4h0M303.9 246.4h0M305.4 246.4h0M305.9 246.4h0M307.9 246.4h0M308.4 246.4h0M308.4 246.4h0M319.4 246.4h0M319.4 246.4h0M321.4 246.4h0M321.4 246.4h0M329.5 246.4h0M329.5 246.4h0M331.5 246.4h0M337.5 246.4h0M337.5 246.4h0M338.5 246.4h0M338.5 246.4h0M339 246.4h0M339 246.4h0M339 246.4h0M339.5 246.4h0M340.5 246.4h0M340.5 246.4h0M340.5 246.4h0M341 246.4h0M341 246.4h0M341.5 246.4h0M341.5 246.4h0M342 246.4h0M342 246.4h0M343.5 246.4h0M343.5 246.4h0M344 246.4h0M344.5 246.4h0M345 246.4h0M345 246.4h0M345.5 246.4h0M345.5 246.4h0M345.5 246.4h0M347 246.4h0M347 246.4h0M347 246.4h0M347 246.4h0M347.5 246.4h0M348 246.4h0M348.5 246.4h0M349 246.4h0M349 246.4h0M349 246.4h0M349.5 246.4h0M349.5 246.4h0M349.5 246.4h0M355.5 246.4h0M355.5 246.4h0M356 246.4h0M356.5 246.4h0M357 246.4h0M361.1 246.4h0M362.1 246.4h0M364.1 246.4h0M366.1 246.4h0M374.6 246.4h0M376.6 246.4h0M398.2 246.4h0M423.2 246.4h0M490.9 246.4h0M566.2 246.4h0M91.8 247.9h0M125.9 247.9h0M164.5 247.9h0M251.7 247.9h0M265.8 247.9h0M272.8 247.9h0M279.3 247.9h0M282.8 247.9h0M284.3 247.9h0M284.8 247.9h0M285.8 247.9h0M286.8 247.9h0M294.4 247.9h0M294.9 247.9h0M297.9 247.9h0M299.9 247.9h0M299.9 247.9h0M302.4 247.9h0M302.4 247.9h0M303.4 247.9h0M303.4 247.9h0M303.4 247.9h0M303.9 247.9h0M305.4 247.9h0M307.4 247.9h0M307.4 247.9h0M307.9 247.9h0M307.9 247.9h0M308.4 247.9h0M308.4 247.9h0M308.4 247.9h0M308.9 247.9h0M309.4 247.9h0M334.5 247.9h0M334.5 247.9h0M334.5 247.9h0M335 247.9h0M335 247.9h0M335 247.9h0M335.5 247.9h0M335.5 247.9h0M336 247.9h0M336.5 247.9h0M336.5 247.9h0M336.5 247.9h0M336.5 247.9h0M337.5 247.9h0M338 247.9h0M339.5 247.9h0M339.5 247.9h0M341 247.9h0M341 247.9h0M342.5 247.9h0M343.5 247.9h0M345.5 247.9h0M346 247.9h0M347 247.9h0M347 247.9h0M348.5 247.9h0M348.5 247.9h0M351.5 247.9h0M352 247.9h0M353 247.9h0M355.5 247.9h0M358 247.9h0M359.1 247.9h0M368.6 247.9h0M369.6 247.9h0M441.8 247.9h0M124.9 249.3h0M148.4 249.3h0M235.2 249.3h0M283.3 249.3h0M283.3 249.3h0M284.8 249.3h0M289.8 249.3h0M292.9 249.3h0M295.4 249.3h0M295.4 249.3h0M295.9 249.3h0M296.9 249.3h0M298.4 249.3h0M299.9 249.3h0M299.9 249.3h0M300.9 249.3h0M301.4 249.3h0M301.4 249.3h0M301.4 249.3h0M301.9 249.3h0M301.9 249.3h0M302.4 249.3h0M302.4 249.3h0M307.4 249.3h0M307.4 249.3h0M307.4 249.3h0M307.4 249.3h0M307.4 249.3h0M308.9 249.3h0M308.9 249.3h0M309.4 249.3h0M334.5 249.3h0M334.5 249.3h0M334.5 249.3h0M336 249.3h0M336 249.3h0M336.5 249.3h0M341.5 249.3h0M343 249.3h0M345.5 249.3h0M345.5 249.3h0M347.5 249.3h0M348 249.3h0M350 249.3h0M351 249.3h0M351.5 249.3h0M351.5 249.3h0M353.5 249.3h0M354 249.3h0M355 249.3h0M358 249.3h0M358 249.3h0M365.6 249.3h0M372.1 249.3h0M377.6 249.3h0M381.6 249.3h0M414.2 249.3h0M485.4 249.3h0M510.5 249.3h0M87.7 250.7h0M102.3 250.7h0M144.9 250.7h0M169 250.7h0M255.7 250.7h0M269.3 250.7h0M282.3 250.7h0M284.8 250.7h0M285.8 250.7h0M290.3 250.7h0M291.3 250.7h0M295.9 250.7h0M295.9 250.7h0M298.4 250.7h0M299.4 250.7h0M300.4 250.7h0M300.9 250.7h0M300.9 250.7h0M300.9 250.7h0M334.5 250.7h0M335 250.7h0M335.5 250.7h0M336 250.7h0M336 250.7h0M336 250.7h0M339 250.7h0M340 250.7h0M340 250.7h0M340.5 250.7h0M340.5 250.7h0M341.5 250.7h0M342 250.7h0M343.5 250.7h0M343.5 250.7h0M343.5 250.7h0M343.5 250.7h0M343.5 250.7h0M345.5 250.7h0M345.5 250.7h0M345.5 250.7h0M347 250.7h0M349 250.7h0M349.5 250.7h0M349.5 250.7h0M349.5 250.7h0M352.5 250.7h0M353.5 250.7h0M356.5 250.7h0M359.6 250.7h0M362.1 250.7h0M390.6 250.7h0M410.2 250.7h0M420.7 250.7h0M421.7 250.7h0M439.3 250.7h0M445.3 250.7h0M494.5 250.7h0M511.5 250.7h0M146.9 252.2h0M203.1 252.2h0M272.8 252.2h0M279.8 252.2h0M290.3 252.2h0M291.8 252.2h0M291.8 252.2h0M291.8 252.2h0M292.4 252.2h0M293.4 252.2h0M295.4 252.2h0M295.9 252.2h0M297.9 252.2h0M301.4 252.2h0M302.4 252.2h0M303.4 252.2h0M303.9 252.2h0M303.9 252.2h0M304.4 252.2h0M304.4 252.2h0M329.5 252.2h0M329.5 252.2h0M329.5 252.2h0M329.5 252.2h0M331 252.2h0M331 252.2h0M331 252.2h0M331 252.2h0M331.5 252.2h0M331.5 252.2h0M338.5 252.2h0M338.5 252.2h0M338.5 252.2h0M339 252.2h0M339 252.2h0M340.5 252.2h0M340.5 252.2h0M341.5 252.2h0M341.5 252.2h0M341.5 252.2h0M342 252.2h0M342.5 252.2h0M343 252.2h0M343.5 252.2h0M343.5 252.2h0M343.5 252.2h0M345.5 252.2h0M346 252.2h0M347.5 252.2h0M347.5 252.2h0M347.5 252.2h0M347.5 252.2h0M349.5 252.2h0M352.5 252.2h0M352.5 252.2h0M354.5 252.2h0M356.5 252.2h0M357.5 252.2h0M363.1 252.2h0M380.1 252.2h0M399.2 252.2h0M400.2 252.2h0M429.8 252.2h0M525 252.2h0M86.7 253.6h0M122.3 253.6h0M127.4 253.6h0M127.4 253.6h0M139.9 253.6h0M245.7 253.6h0M253.7 253.6h0M283.3 253.6h0M288.8 253.6h0M291.3 253.6h0M292.4 253.6h0M293.9 253.6h0M295.4 253.6h0M295.9 253.6h0M296.4 253.6h0M298.4 253.6h0M298.4 253.6h0M298.9 253.6h0M300.4 253.6h0M301.4 253.6h0M304.4 253.6h0M304.4 253.6h0M320.4 253.6h0M320.4 253.6h0M320.4 253.6h0M320.9 253.6h0M322.4 253.6h0M322.4 253.6h0M322.4 253.6h0M322.4 253.6h0M325.4 253.6h0M325.4 253.6h0M325.4 253.6h0M327 253.6h0M327 253.6h0M327.5 253.6h0M329.5 253.6h0M330 253.6h0M330 253.6h0M330.5 253.6h0M331 253.6h0M338.5 253.6h0M340 253.6h0M340.5 253.6h0M345.5 253.6h0M345.5 253.6h0M346 253.6h0M347.5 253.6h0M348 253.6h0M348 253.6h0M352 253.6h0M352 253.6h0M353.5 253.6h0M356.5 253.6h0M358 253.6h0M358.5 253.6h0M376.1 253.6h0M413.2 253.6h0M425.8 253.6h0M452.8 253.6h0M533.1 253.6h0M556.6 253.6h0M560.2 253.6h0M93.3 255.1h0M118.3 255.1h0M168.5 255.1h0M182.5 255.1h0M252.2 255.1h0M274.3 255.1h0M279.8 255.1h0M284.3 255.1h0M287.8 255.1h0M292.9 255.1h0M293.4 255.1h0M297.4 255.1h0M299.4 255.1h0M299.9 255.1h0M301.9 255.1h0M302.9 255.1h0M303.4 255.1h0M303.4 255.1h0M321.4 255.1h0M321.4 255.1h0M321.4 255.1h0M321.4 255.1h0M321.4 255.1h0M321.4 255.1h0M321.4 255.1h0M321.4 255.1h0M325.4 255.1h0M325.4 255.1h0M325.4 255.1h0M326 255.1h0M326 255.1h0M326.5 255.1h0M326.5 255.1h0M326.5 255.1h0M326.5 255.1h0M327.5 255.1h0M338.5 255.1h0M339 255.1h0M339 255.1h0M339.5 255.1h0M339.5 255.1h0M339.5 255.1h0M339.5 255.1h0M339.5 255.1h0M339.5 255.1h0M340.5 255.1h0M344 255.1h0M345.5 255.1h0M346 255.1h0M346.5 255.1h0M347 255.1h0M349 255.1h0M349 255.1h0M349 255.1h0M349.5 255.1h0M353.5 255.1h0M354.5 255.1h0M355 255.1h0M355.5 255.1h0M355.5 255.1h0M355.5 255.1h0M357.5 255.1h0M363.1 255.1h0M370.6 255.1h0M398.7 255.1h0M432.8 255.1h0M526.6 255.1h0M569.2 255.1h0M131.9 256.5h0M160 256.5h0M164 256.5h0M205.6 256.5h0M276.8 256.5h0M283.3 256.5h0M294.4 256.5h0M294.9 256.5h0M297.4 256.5h0M298.9 256.5h0M300.4 256.5h0M300.4 256.5h0M300.9 256.5h0M301.9 256.5h0M302.9 256.5h0M302.9 256.5h0M304.9 256.5h0M306.4 256.5h0M306.4 256.5h0M306.4 256.5h0M306.9 256.5h0M307.9 256.5h0M347.5 256.5h0M350.5 256.5h0M350.5 256.5h0M351.5 256.5h0M352.5 256.5h0M353.5 256.5h0M356.5 256.5h0M359.6 256.5h0M361.1 256.5h0M368.1 256.5h0M368.1 256.5h0M376.1 256.5h0M503 256.5h0M514 256.5h0M555.1 256.5h0M163 258h0M163 258h0M267.8 258h0M271.3 258h0M279.8 258h0M284.8 258h0M288.8 258h0M289.3 258h0M292.4 258h0M294.9 258h0M297.4 258h0M298.4 258h0M298.9 258h0M298.9 258h0M302.4 258h0M302.9 258h0M303.4 258h0M305.4 258h0M306.4 258h0M308.4 258h0M308.4 258h0M347.5 258h0M348 258h0M350 258h0M350 258h0M350.5 258h0M350.5 258h0M351.5 258h0M351.5 258h0M354 258h0M355.5 258h0M355.5 258h0M357 258h0M357.5 258h0M361.6 258h0M366.1 258h0M383.1 258h0M427.8 258h0M551.6 258h0M565.2 258h0M82.7 259.4h0M91.8 259.4h0M153.9 259.4h0M196.1 259.4h0M199.6 259.4h0M212.1 259.4h0M233.7 259.4h0M272.8 259.4h0M282.8 259.4h0M287.8 259.4h0M296.4 259.4h0M298.4 259.4h0M300.9 259.4h0M300.9 259.4h0M301.4 259.4h0M301.9 259.4h0M302.9 259.4h0M304.4 259.4h0M304.9 259.4h0M305.4 259.4h0M306.9 259.4h0M307.4 259.4h0M307.9 259.4h0M308.4 259.4h0M332.5 259.4h0M333.5 259.4h0M334 259.4h0M334 259.4h0M335 259.4h0M335 259.4h0M335 259.4h0M335 259.4h0M338.5 259.4h0M338.5 259.4h0M339.5 259.4h0M339.5 259.4h0M340 259.4h0M340 259.4h0M341 259.4h0M346.5 259.4h0M346.5 259.4h0M351.5 259.4h0M352.5 259.4h0M354.5 259.4h0M357 259.4h0M358 259.4h0M358.5 259.4h0M359.6 259.4h0M362.6 259.4h0M368.1 259.4h0M371.1 259.4h0M373.1 259.4h0M399.2 259.4h0M411.2 259.4h0M435.8 259.4h0M456.8 259.4h0M458.8 259.4h0M542.1 259.4h0M103.3 260.9h0M155.9 260.9h0M173 260.9h0M194.6 260.9h0M198.1 260.9h0M205.6 260.9h0M245.2 260.9h0M271.8 260.9h0M288.8 260.9h0M289.3 260.9h0M290.3 260.9h0M290.8 260.9h0M297.9 260.9h0M298.9 260.9h0M298.9 260.9h0M298.9 260.9h0M300.4 260.9h0M302.4 260.9h0M303.9 260.9h0M310.9 260.9h0M311.4 260.9h0M311.9 260.9h0M312.4 260.9h0M327.5 260.9h0M327.5 260.9h0M327.5 260.9h0M327.5 260.9h0M328 260.9h0M328.5 260.9h0M329 260.9h0M329.5 260.9h0M329.5 260.9h0M332.5 260.9h0M332.5 260.9h0M332.5 260.9h0M333 260.9h0M333 260.9h0M333 260.9h0M333 260.9h0M335 260.9h0M335.5 260.9h0M338.5 260.9h0M339 260.9h0M341.5 260.9h0M342.5 260.9h0M343.5 260.9h0M344.5 260.9h0M345 260.9h0M345 260.9h0M345.5 260.9h0M346.5 260.9h0M346.5 260.9h0M347 260.9h0M350 260.9h0M350.5 260.9h0M350.5 260.9h0M350.5 260.9h0M351 260.9h0M351.5 260.9h0M354 260.9h0M356 260.9h0M356.5 260.9h0M357.5 260.9h0M359.1 260.9h0M364.1 260.9h0M393.7 260.9h0M425.8 260.9h0M539.1 260.9h0M91.8 262.3h0M156.9 262.3h0M163.5 262.3h0M165 262.3h0M184.5 262.3h0M217.1 262.3h0M224.1 262.3h0M256.2 262.3h0M269.3 262.3h0M284.8 262.3h0M294.4 262.3h0M296.9 262.3h0M297.4 262.3h0M299.9 262.3h0M301.4 262.3h0M302.4 262.3h0M302.9 262.3h0M302.9 262.3h0M302.9 262.3h0M303.4 262.3h0M303.4 262.3h0M310.4 262.3h0M310.4 262.3h0M310.9 262.3h0M312.4 262.3h0M312.4 262.3h0M322.4 262.3h0M322.4 262.3h0M322.4 262.3h0M322.9 262.3h0M323.4 262.3h0M323.4 262.3h0M323.4 262.3h0M323.9 262.3h0M324.4 262.3h0M327.5 262.3h0M327.5 262.3h0M327.5 262.3h0M328 262.3h0M329.5 262.3h0M329.5 262.3h0M332.5 262.3h0M332.5 262.3h0M332.5 262.3h0M332.5 262.3h0M333 262.3h0M334 262.3h0M334.5 262.3h0M334.5 262.3h0M334.5 262.3h0M338 262.3h0M338 262.3h0M338.5 262.3h0M339 262.3h0M339 262.3h0M339.5 262.3h0M339.5 262.3h0M339.5 262.3h0M340 262.3h0M340.5 262.3h0M341 262.3h0M341 262.3h0M341.5 262.3h0M341.5 262.3h0M341.5 262.3h0M342.5 262.3h0M343 262.3h0M345 262.3h0M345 262.3h0M345.5 262.3h0M346 262.3h0M346.5 262.3h0M347.5 262.3h0M347.5 262.3h0M348 262.3h0M349.5 262.3h0M354 262.3h0M356 262.3h0M356.5 262.3h0M357 262.3h0M357.5 262.3h0M373.1 262.3h0M380.1 262.3h0M399.7 262.3h0M418.7 262.3h0M459.9 262.3h0M486.9 262.3h0M492.4 262.3h0M493.5 262.3h0M140.4 263.7h0M155.9 263.7h0M160 263.7h0M242.7 263.7h0M279.3 263.7h0M285.8 263.7h0M286.8 263.7h0M287.3 263.7h0M291.3 263.7h0M291.8 263.7h0M293.4 263.7h0M295.4 263.7h0M295.9 263.7h0M296.4 263.7h0M297.4 263.7h0M297.9 263.7h0M301.4 263.7h0M301.4 263.7h0M303.4 263.7h0M322.4 263.7h0M323.9 263.7h0M323.9 263.7h0M324.4 263.7h0M324.4 263.7h0M333.5 263.7h0M333.5 263.7h0M333.5 263.7h0M334.5 263.7h0M334.5 263.7h0M335 263.7h0M335 263.7h0M335 263.7h0M335 263.7h0M335 263.7h0M337.5 263.7h0M337.5 263.7h0M339 263.7h0M339 263.7h0M339.5 263.7h0M339.5 263.7h0M339.5 263.7h0M340 263.7h0M342 263.7h0M342.5 263.7h0M346 263.7h0M347 263.7h0M349.5 263.7h0M350 263.7h0M350.5 263.7h0M354 263.7h0M356 263.7h0M357 263.7h0M358.5 263.7h0M359.6 263.7h0M361.6 263.7h0M403.2 263.7h0M431.3 263.7h0M448.3 263.7h0M456.8 263.7h0M490.4 263.7h0M542.6 263.7h0M108.3 265.2h0M157.4 265.2h0M245.2 265.2h0M249.2 265.2h0M252.2 265.2h0M261.8 265.2h0M276.3 265.2h0M277.8 265.2h0M289.3 265.2h0M290.3 265.2h0M292.4 265.2h0M295.4 265.2h0M296.9 265.2h0M299.9 265.2h0M299.9 265.2h0M300.4 265.2h0M300.4 265.2h0M302.9 265.2h0M303.4 265.2h0M304.4 265.2h0M305.9 265.2h0M305.9 265.2h0M305.9 265.2h0M322.4 265.2h0M322.4 265.2h0M322.4 265.2h0M322.9 265.2h0M323.4 265.2h0M323.4 265.2h0M323.4 265.2h0M323.9 265.2h0M323.9 265.2h0M324.4 265.2h0M333.5 265.2h0M333.5 265.2h0M334 265.2h0M334 265.2h0M335.5 265.2h0M337.5 265.2h0M337.5 265.2h0M338 265.2h0M338.5 265.2h0M338.5 265.2h0M339 265.2h0M340 265.2h0M340.5 265.2h0M340.5 265.2h0M341.5 265.2h0M342 265.2h0M342 265.2h0M342 265.2h0M342.5 265.2h0M342.5 265.2h0M343.5 265.2h0M344.5 265.2h0M345 265.2h0M345 265.2h0M346 265.2h0M346.5 265.2h0M348.5 265.2h0M350 265.2h0M352 265.2h0M353 265.2h0M354 265.2h0M356 265.2h0M358.5 265.2h0M361.1 265.2h0M364.1 265.2h0M375.1 265.2h0M391.6 265.2h0M395.2 265.2h0M407.2 265.2h0M96.3 266.6h0M170.5 266.6h0M183 266.6h0M209.1 266.6h0M232.2 266.6h0M255.2 266.6h0M293.9 266.6h0M294.4 266.6h0M294.9 266.6h0M296.4 266.6h0M296.9 266.6h0M297.4 266.6h0M298.4 266.6h0M299.9 266.6h0M301.9 266.6h0M301.9 266.6h0M304.4 266.6h0M304.4 266.6h0M305.9 266.6h0M306.4 266.6h0M306.9 266.6h0M306.9 266.6h0M306.9 266.6h0M307.9 266.6h0M308.4 266.6h0M308.4 266.6h0M308.4 266.6h0M321.4 266.6h0M321.4 266.6h0M321.4 266.6h0M322.9 266.6h0M322.9 266.6h0M323.4 266.6h0M323.4 266.6h0M323.4 266.6h0M333.5 266.6h0M334 266.6h0M334 266.6h0M334.5 266.6h0M334.5 266.6h0M334.5 266.6h0M334.5 266.6h0M335 266.6h0M335.5 266.6h0M342.5 266.6h0M342.5 266.6h0M343 266.6h0M343 266.6h0M344.5 266.6h0M345.5 266.6h0M345.5 266.6h0M346 266.6h0M348.5 266.6h0M349 266.6h0M351 266.6h0M351 266.6h0M351 266.6h0M351 266.6h0M351 266.6h0M351 266.6h0M353.5 266.6h0M354.5 266.6h0M355 266.6h0M355 266.6h0M357 266.6h0M359.6 266.6h0M373.1 266.6h0M377.6 266.6h0M383.1 266.6h0M396.2 266.6h0M427.8 266.6h0M455.3 266.6h0M505.5 266.6h0M554.6 266.6h0M114.3 268.1h0M118.8 268.1h0M156.9 268.1h0M198.1 268.1h0M222.6 268.1h0M272.3 268.1h0M276.3 268.1h0M279.8 268.1h0M281.8 268.1h0M286.3 268.1h0M287.3 268.1h0M287.8 268.1h0M288.8 268.1h0M291.3 268.1h0M291.3 268.1h0M291.8 268.1h0M298.4 268.1h0M299.4 268.1h0M303.4 268.1h0M303.4 268.1h0M305.4 268.1h0M305.9 268.1h0M308.4 268.1h0M321.4 268.1h0M321.4 268.1h0M321.9 268.1h0M321.9 268.1h0M321.9 268.1h0M322.4 268.1h0M322.4 268.1h0M322.9 268.1h0M323.4 268.1h0M323.4 268.1h0M323.4 268.1h0M343 268.1h0M343.5 268.1h0M343.5 268.1h0M344 268.1h0M345.5 268.1h0M345.5 268.1h0M346 268.1h0M346 268.1h0M347 268.1h0M347 268.1h0M347 268.1h0M353 268.1h0M356.5 268.1h0M358 268.1h0M361.1 268.1h0M361.6 268.1h0M364.6 268.1h0M365.6 268.1h0M371.1 268.1h0M375.1 268.1h0M394.2 268.1h0M409.7 268.1h0M449.3 268.1h0M484.9 268.1h0M499 268.1h0M501 268.1h0M532.6 268.1h0M564.7 268.1h0M167 269.5h0M214.1 269.5h0M272.8 269.5h0M285.8 269.5h0M288.3 269.5h0M292.9 269.5h0M294.4 269.5h0M295.4 269.5h0M295.9 269.5h0M298.9 269.5h0M298.9 269.5h0M299.4 269.5h0M301.4 269.5h0M302.4 269.5h0M302.9 269.5h0M302.9 269.5h0M304.4 269.5h0M306.4 269.5h0M306.9 269.5h0M306.9 269.5h0M306.9 269.5h0M307.4 269.5h0M307.4 269.5h0M307.4 269.5h0M307.9 269.5h0M307.9 269.5h0M308.4 269.5h0M308.4 269.5h0M342.5 269.5h0M343 269.5h0M343.5 269.5h0M343.5 269.5h0M344 269.5h0M347 269.5h0M347 269.5h0M347 269.5h0M349 269.5h0M349.5 269.5h0M350 269.5h0M353.5 269.5h0M354.5 269.5h0M356 269.5h0M356.5 269.5h0M361.1 269.5h0M378.1 269.5h0M380.6 269.5h0M383.6 269.5h0M413.2 269.5h0M474.9 269.5h0M493 269.5h0M521 269.5h0M523 269.5h0M542.6 269.5h0M550.1 269.5h0M550.6 269.5h0M563.7 269.5h0M568.7 269.5h0M84.2 271h0M136.4 271h0M145.4 271h0M179 271h0M200.6 271h0M202.6 271h0M286.8 271h0M291.8 271h0M292.4 271h0M293.9 271h0M297.9 271h0M299.9 271h0M299.9 271h0M300.4 271h0M300.4 271h0M302.9 271h0M302.9 271h0M346.5 271h0M347 271h0M349.5 271h0M350.5 271h0M352.5 271h0M354 271h0M354.5 271h0M355.5 271h0M357.5 271h0M358.5 271h0M359.1 271h0M359.1 271h0M360.6 271h0M362.1 271h0M364.1 271h0M372.1 271h0M428.8 271h0M480.4 271h0M484.9 271h0M528.1 271h0M538.1 271h0M553.1 271h0M81.7 272.4h0M109.3 272.4h0M162 272.4h0M163 272.4h0M206.1 272.4h0M292.9 272.4h0M294.4 272.4h0M296.9 272.4h0M297.9 272.4h0M298.4 272.4h0M300.9 272.4h0M301.4 272.4h0M301.4 272.4h0M302.4 272.4h0M302.9 272.4h0M302.9 272.4h0M303.4 272.4h0M304.4 272.4h0M304.9 272.4h0M305.4 272.4h0M306.4 272.4h0M306.4 272.4h0M306.9 272.4h0M306.9 272.4h0M307.4 272.4h0M307.4 272.4h0M310.4 272.4h0M311.4 272.4h0M311.4 272.4h0M311.4 272.4h0M311.9 272.4h0M312.9 272.4h0M312.9 272.4h0M313.4 272.4h0M313.4 272.4h0M313.9 272.4h0M313.9 272.4h0M313.9 272.4h0M314.4 272.4h0M322.4 272.4h0M322.4 272.4h0M322.4 272.4h0M323.4 272.4h0M323.4 272.4h0M323.9 272.4h0M323.9 272.4h0M323.9 272.4h0M324.4 272.4h0M324.4 272.4h0M324.4 272.4h0M324.4 272.4h0M331.5 272.4h0M331.5 272.4h0M332 272.4h0M332.5 272.4h0M332.5 272.4h0M333 272.4h0M333 272.4h0M333.5 272.4h0M333.5 272.4h0M333.5 272.4h0M334 272.4h0M334 272.4h0M334 272.4h0M335 272.4h0M336 272.4h0M336 272.4h0M336.5 272.4h0M337.5 272.4h0M338 272.4h0M338.5 272.4h0M339.5 272.4h0M342.5 272.4h0M343 272.4h0M343.5 272.4h0M343.5 272.4h0M344 272.4h0M344.5 272.4h0M345.5 272.4h0M347 272.4h0M349.5 272.4h0M350 272.4h0M351 272.4h0M352.5 272.4h0M354 272.4h0M355 272.4h0M359.6 272.4h0M359.6 272.4h0M361.1 272.4h0M361.6 272.4h0M370.1 272.4h0M371.6 272.4h0M388.6 272.4h0M451.8 272.4h0M564.2 272.4h0M82.7 273.9h0M101.8 273.9h0M182 273.9h0M196.6 273.9h0M244.2 273.9h0M263.3 273.9h0M266.3 273.9h0M272.8 273.9h0M277.8 273.9h0M282.3 273.9h0M288.8 273.9h0M290.8 273.9h0M293.9 273.9h0M295.9 273.9h0M298.4 273.9h0M298.4 273.9h0M299.9 273.9h0M302.4 273.9h0M302.9 273.9h0M305.9 273.9h0M305.9 273.9h0M307.4 273.9h0M310.4 273.9h0M310.4 273.9h0M310.4 273.9h0M310.4 273.9h0M311.9 273.9h0M311.9 273.9h0M311.9 273.9h0M312.4 273.9h0M312.4 273.9h0M312.4 273.9h0M313.9 273.9h0M314.4 273.9h0M322.4 273.9h0M322.4 273.9h0M322.4 273.9h0M322.9 273.9h0M324.4 273.9h0M331.5 273.9h0M333 273.9h0M333.5 273.9h0M334 273.9h0M334 273.9h0M334 273.9h0M336 273.9h0M336 273.9h0M336.5 273.9h0M336.5 273.9h0M337 273.9h0M337 273.9h0M337.5 273.9h0M340 273.9h0M340.5 273.9h0M341 273.9h0M341 273.9h0M341.5 273.9h0M341.5 273.9h0M341.5 273.9h0M342.5 273.9h0M343.5 273.9h0M344 273.9h0M344 273.9h0M346 273.9h0M346 273.9h0M347 273.9h0M347 273.9h0M348.5 273.9h0M352 273.9h0M352.5 273.9h0M353 273.9h0M353.5 273.9h0M355 273.9h0M358 273.9h0M364.6 273.9h0M365.6 273.9h0M376.6 273.9h0M393.7 273.9h0M398.2 273.9h0M399.7 273.9h0M404.2 273.9h0M465.4 273.9h0M479.9 273.9h0M518 273.9h0M568.7 273.9h0M85.2 275.3h0M95.3 275.3h0M162 275.3h0M172 275.3h0M183 275.3h0M194.6 275.3h0M197.1 275.3h0M198.6 275.3h0M269.8 275.3h0M271.3 275.3h0M280.8 275.3h0M287.8 275.3h0M292.9 275.3h0M295.9 275.3h0M296.4 275.3h0M296.4 275.3h0M296.4 275.3h0M297.4 275.3h0M298.4 275.3h0M300.4 275.3h0M302.4 275.3h0M302.4 275.3h0M302.9 275.3h0M304.4 275.3h0M304.4 275.3h0M305.4 275.3h0M305.9 275.3h0M306.4 275.3h0M306.4 275.3h0M311.4 275.3h0M311.4 275.3h0M311.4 275.3h0M312.4 275.3h0M312.9 275.3h0M313.4 275.3h0M313.4 275.3h0M328.5 275.3h0M329.5 275.3h0M329.5 275.3h0M330 275.3h0M330.5 275.3h0M330.5 275.3h0M330.5 275.3h0M331 275.3h0M331 275.3h0M331 275.3h0M331.5 275.3h0M333.5 275.3h0M333.5 275.3h0M333.5 275.3h0M333.5 275.3h0M333.5 275.3h0M333.5 275.3h0M334 275.3h0M334 275.3h0M334 275.3h0M334.5 275.3h0M334.5 275.3h0M335 275.3h0M336 275.3h0M336 275.3h0M337.5 275.3h0M337.5 275.3h0M337.5 275.3h0M337.5 275.3h0M337.5 275.3h0M338 275.3h0M340.5 275.3h0M342 275.3h0M342.5 275.3h0M343.5 275.3h0M344.5 275.3h0M345 275.3h0M345 275.3h0M345 275.3h0M346.5 275.3h0M347 275.3h0M347 275.3h0M348.5 275.3h0M353 275.3h0M354 275.3h0M355.5 275.3h0M360.6 275.3h0M362.6 275.3h0M367.1 275.3h0M367.6 275.3h0M383.1 275.3h0M387.6 275.3h0M415.2 275.3h0M446.8 275.3h0M476.9 275.3h0M493 275.3h0M516 275.3h0M544.6 275.3h0M565.2 275.3h0M80.7 276.7h0M156.4 276.7h0M220.1 276.7h0M225.7 276.7h0M232.7 276.7h0M278.8 276.7h0M287.8 276.7h0M290.8 276.7h0M290.8 276.7h0M292.4 276.7h0M293.4 276.7h0M295.4 276.7h0M299.4 276.7h0M299.9 276.7h0M300.4 276.7h0M303.4 276.7h0M303.4 276.7h0M303.9 276.7h0M303.9 276.7h0M304.4 276.7h0M306.4 276.7h0M311.9 276.7h0M328.5 276.7h0M328.5 276.7h0M329 276.7h0M329 276.7h0M331 276.7h0M331 276.7h0M331 276.7h0M331.5 276.7h0M335.5 276.7h0M336 276.7h0M336 276.7h0M336 276.7h0M337.5 276.7h0M338 276.7h0M338 276.7h0M339 276.7h0M339 276.7h0M339.5 276.7h0M339.5 276.7h0M339.5 276.7h0M340 276.7h0M340 276.7h0M340 276.7h0M341 276.7h0M341.5 276.7h0M341.5 276.7h0M342 276.7h0M343 276.7h0M343.5 276.7h0M344 276.7h0M349 276.7h0M352.5 276.7h0M354 276.7h0M354.5 276.7h0M359.1 276.7h0M361.1 276.7h0M364.1 276.7h0M369.6 276.7h0M377.1 276.7h0M389.1 276.7h0M519 276.7h0M526.6 276.7h0M528.1 276.7h0M89.2 278.2h0M97.3 278.2h0M101.8 278.2h0M188.5 278.2h0M243.2 278.2h0M284.8 278.2h0M289.8 278.2h0M292.9 278.2h0M302.4 278.2h0M306.4 278.2h0M306.9 278.2h0M307.4 278.2h0M307.9 278.2h0M308.4 278.2h0M309.4 278.2h0M309.4 278.2h0M310.9 278.2h0M310.9 278.2h0M310.9 278.2h0M311.9 278.2h0M311.9 278.2h0M312.4 278.2h0M312.9 278.2h0M313.4 278.2h0M313.9 278.2h0M315.4 278.2h0M315.4 278.2h0M315.4 278.2h0M316.9 278.2h0M318.4 278.2h0M318.4 278.2h0M318.4 278.2h0M318.4 278.2h0M318.4 278.2h0M319.4 278.2h0M319.4 278.2h0M319.4 278.2h0M319.9 278.2h0M319.9 278.2h0M319.9 278.2h0M319.9 278.2h0M321.4 278.2h0M321.4 278.2h0M328.5 278.2h0M328.5 278.2h0M329 278.2h0M329.5 278.2h0M330 278.2h0M330 278.2h0M331 278.2h0M331.5 278.2h0M331.5 278.2h0M336 278.2h0M336 278.2h0M336 278.2h0M336.5 278.2h0M336.5 278.2h0M337 278.2h0M337.5 278.2h0M337.5 278.2h0M338 278.2h0M338 278.2h0M338.5 278.2h0M338.5 278.2h0M338.5 278.2h0M338.5 278.2h0M339 278.2h0M339.5 278.2h0M340 278.2h0M340.5 278.2h0M341.5 278.2h0M343 278.2h0M343.5 278.2h0M343.5 278.2h0M344.5 278.2h0M344.5 278.2h0M345 278.2h0M345 278.2h0M348 278.2h0M350.5 278.2h0M352.5 278.2h0M353.5 278.2h0M358 278.2h0M367.1 278.2h0M368.6 278.2h0M375.1 278.2h0M448.8 278.2h0M473.9 278.2h0M524 278.2h0M544.1 278.2h0M141.9 279.6h0M194.6 279.6h0M223.6 279.6h0M270.8 279.6h0M287.3 279.6h0M288.8 279.6h0M289.8 279.6h0M291.3 279.6h0M296.4 279.6h0M297.9 279.6h0M299.4 279.6h0M300.4 279.6h0M301.4 279.6h0M304.4 279.6h0M307.9 279.6h0M307.9 279.6h0M309.9 279.6h0M309.9 279.6h0M310.4 279.6h0M310.4 279.6h0M313.4 279.6h0M313.4 279.6h0M314.4 279.6h0M314.4 279.6h0M314.9 279.6h0M314.9 279.6h0M314.9 279.6h0M314.9 279.6h0M315.4 279.6h0M315.4 279.6h0M316.4 279.6h0M316.4 279.6h0M316.9 279.6h0M316.9 279.6h0M317.9 279.6h0M317.9 279.6h0M317.9 279.6h0M318.4 279.6h0M319.4 279.6h0M319.9 279.6h0M320.9 279.6h0M320.9 279.6h0M320.9 279.6h0M321.4 279.6h0M321.4 279.6h0M328.5 279.6h0M329 279.6h0M329 279.6h0M329.5 279.6h0M330 279.6h0M330 279.6h0M330.5 279.6h0M330.5 279.6h0M337.5 279.6h0M340.5 279.6h0M342 279.6h0M343 279.6h0M343 279.6h0M344.5 279.6h0M345 279.6h0M346 279.6h0M351 279.6h0M352 279.6h0M360.1 279.6h0M362.6 279.6h0M367.1 279.6h0M370.1 279.6h0M371.6 279.6h0M377.6 279.6h0M397.2 279.6h0M399.2 279.6h0M401.2 279.6h0M410.2 279.6h0M535.6 279.6h0M107.8 281.1h0M112.8 281.1h0M123.8 281.1h0M139.4 281.1h0M184 281.1h0M228.2 281.1h0M246.7 281.1h0M256.7 281.1h0M291.8 281.1h0M294.4 281.1h0M295.4 281.1h0M295.9 281.1h0M298.4 281.1h0M299.9 281.1h0M301.9 281.1h0M302.9 281.1h0M303.4 281.1h0M304.4 281.1h0M304.9 281.1h0M305.9 281.1h0M305.9 281.1h0M306.9 281.1h0M307.9 281.1h0M307.9 281.1h0M308.4 281.1h0M313.4 281.1h0M313.4 281.1h0M315.4 281.1h0M329 281.1h0M337.5 281.1h0M337.5 281.1h0M338.5 281.1h0M338.5 281.1h0M339 281.1h0M339.5 281.1h0M340 281.1h0M340 281.1h0M340.5 281.1h0M341.5 281.1h0M342 281.1h0M344.5 281.1h0M344.5 281.1h0M346.5 281.1h0M346.5 281.1h0M347.5 281.1h0M350 281.1h0M351.5 281.1h0M353.5 281.1h0M354.5 281.1h0M356.5 281.1h0M379.1 281.1h0M398.2 281.1h0M434.3 281.1h0M456.3 281.1h0M463.9 281.1h0M518.5 281.1h0M541.6 281.1h0M557.1 281.1h0M103.8 282.5h0M142.9 282.5h0M213.6 282.5h0M258.2 282.5h0M265.8 282.5h0M272.3 282.5h0M286.8 282.5h0M288.3 282.5h0M289.3 282.5h0M292.4 282.5h0M294.9 282.5h0M295.4 282.5h0M297.9 282.5h0M297.9 282.5h0M299.9 282.5h0M300.9 282.5h0M301.9 282.5h0M302.9 282.5h0M305.4 282.5h0M305.4 282.5h0M309.9 282.5h0M310.4 282.5h0M310.4 282.5h0M310.9 282.5h0M311.4 282.5h0M311.9 282.5h0M312.4 282.5h0M312.4 282.5h0M312.4 282.5h0M312.4 282.5h0M312.4 282.5h0M313.4 282.5h0M313.9 282.5h0M314.9 282.5h0M314.9 282.5h0M314.9 282.5h0M315.4 282.5h0M343 282.5h0M347 282.5h0M347.5 282.5h0M349 282.5h0M349.5 282.5h0M353.5 282.5h0M354.5 282.5h0M356 282.5h0M357.5 282.5h0M358 282.5h0M359.1 282.5h0M426.3 282.5h0M446.8 282.5h0M447.3 282.5h0M503.5 282.5h0M519 282.5h0M531.6 282.5h0M551.6 282.5h0M93.8 284h0M112.8 284h0M123.8 284h0M133.4 284h0M158.5 284h0M216.6 284h0M278.3 284h0M289.8 284h0M294.9 284h0M295.4 284h0M297.4 284h0M297.9 284h0M299.9 284h0M299.9 284h0M301.9 284h0M302.4 284h0M302.9 284h0M302.9 284h0M302.9 284h0M304.9 284h0M306.4 284h0M307.4 284h0M307.4 284h0M308.9 284h0M309.9 284h0M309.9 284h0M312.4 284h0M342.5 284h0M345 284h0M346 284h0M349.5 284h0M351.5 284h0M352.5 284h0M352.5 284h0M352.5 284h0M355.5 284h0M356 284h0M356 284h0M358.5 284h0M358.5 284h0M360.1 284h0M364.6 284h0M372.6 284h0M392.7 284h0M556.1 284h0M142.9 285.4h0M146.4 285.4h0M163 285.4h0M235.2 285.4h0M259.8 285.4h0M267.3 285.4h0M275.3 285.4h0M275.3 285.4h0M280.3 285.4h0M284.8 285.4h0M288.8 285.4h0M292.9 285.4h0M293.4 285.4h0M300.4 285.4h0M303.9 285.4h0M304.9 285.4h0M306.4 285.4h0M306.9 285.4h0M307.4 285.4h0M307.4 285.4h0M309.4 285.4h0M309.4 285.4h0M310.4 285.4h0M310.9 285.4h0M311.4 285.4h0M311.9 285.4h0M311.9 285.4h0M311.9 285.4h0M311.9 285.4h0M324.4 285.4h0M324.4 285.4h0M324.9 285.4h0M324.9 285.4h0M325.4 285.4h0M326 285.4h0M326.5 285.4h0M331.5 285.4h0M332 285.4h0M332.5 285.4h0M333 285.4h0M333.5 285.4h0M338.5 285.4h0M339 285.4h0M340 285.4h0M341.5 285.4h0M341.5 285.4h0M342 285.4h0M342.5 285.4h0M342.5 285.4h0M342.5 285.4h0M344.5 285.4h0M345.5 285.4h0M347.5 285.4h0M348.5 285.4h0M348.5 285.4h0M350 285.4h0M355.5 285.4h0M360.6 285.4h0M364.1 285.4h0M375.1 285.4h0M383.1 285.4h0M392.1 285.4h0M482.9 285.4h0M492.4 285.4h0M92.8 286.9h0M104.3 286.9h0M134.4 286.9h0M171.5 286.9h0M198.1 286.9h0M208.6 286.9h0M222.6 286.9h0M238.2 286.9h0M242.7 286.9h0M250.7 286.9h0M274.8 286.9h0M290.3 286.9h0M292.4 286.9h0M293.4 286.9h0M293.9 286.9h0M294.9 286.9h0M298.9 286.9h0M300.4 286.9h0M301.4 286.9h0M302.9 286.9h0M303.4 286.9h0M304.4 286.9h0M304.9 286.9h0M306.9 286.9h0M306.9 286.9h0M307.4 286.9h0M309.4 286.9h0M310.9 286.9h0M311.4 286.9h0M314.4 286.9h0M314.4 286.9h0M314.4 286.9h0M314.4 286.9h0M315.4 286.9h0M315.9 286.9h0M316.4 286.9h0M316.4 286.9h0M316.9 286.9h0M316.9 286.9h0M318.4 286.9h0M318.4 286.9h0M318.9 286.9h0M319.4 286.9h0M319.9 286.9h0M320.4 286.9h0M324.4 286.9h0M324.4 286.9h0M324.4 286.9h0M326.5 286.9h0M331.5 286.9h0M332 286.9h0M332 286.9h0M332 286.9h0M333.5 286.9h0M338.5 286.9h0M340 286.9h0M340.5 286.9h0M341.5 286.9h0M343.5 286.9h0M343.5 286.9h0M344 286.9h0M345 286.9h0M347 286.9h0M348.5 286.9h0M351 286.9h0M351.5 286.9h0M358 286.9h0M373.6 286.9h0M374.6 286.9h0M397.7 286.9h0M401.7 286.9h0M412.2 286.9h0M462.4 286.9h0M470.4 286.9h0M496.5 286.9h0M513.5 286.9h0M543.1 286.9h0M115.8 288.3h0M199.6 288.3h0M203.6 288.3h0M205.1 288.3h0M206.6 288.3h0M255.7 288.3h0M284.8 288.3h0M285.3 288.3h0M295.4 288.3h0M295.9 288.3h0M297.9 288.3h0M298.4 288.3h0M300.9 288.3h0M301.4 288.3h0M302.4 288.3h0M304.9 288.3h0M307.9 288.3h0M308.4 288.3h0M310.9 288.3h0M310.9 288.3h0M311.4 288.3h0M311.4 288.3h0M311.9 288.3h0M312.4 288.3h0M313.4 288.3h0M313.4 288.3h0M314.4 288.3h0M314.4 288.3h0M314.9 288.3h0M314.9 288.3h0M314.9 288.3h0M316.9 288.3h0M317.4 288.3h0M317.4 288.3h0M318.4 288.3h0M318.4 288.3h0M318.4 288.3h0M319.9 288.3h0M320.4 288.3h0M320.4 288.3h0M321.4 288.3h0M321.9 288.3h0M321.9 288.3h0M321.9 288.3h0M322.4 288.3h0M322.4 288.3h0M322.9 288.3h0M323.4 288.3h0M323.4 288.3h0M324.4 288.3h0M324.4 288.3h0M324.4 288.3h0M324.9 288.3h0M324.9 288.3h0M325.4 288.3h0M326 288.3h0M326 288.3h0M326 288.3h0M326 288.3h0M326.5 288.3h0M326.5 288.3h0M337.5 288.3h0M337.5 288.3h0M338 288.3h0M338 288.3h0M338.5 288.3h0M339 288.3h0M339.5 288.3h0M339.5 288.3h0M339.5 288.3h0M341.5 288.3h0M341.5 288.3h0M342 288.3h0M342 288.3h0M344 288.3h0M344.5 288.3h0M345 288.3h0M347.5 288.3h0M348 288.3h0M354 288.3h0M355.5 288.3h0M358 288.3h0M361.6 288.3h0M364.1 288.3h0M377.1 288.3h0M386.6 288.3h0M397.2 288.3h0M413.7 288.3h0M437.3 288.3h0M502.5 288.3h0M509 288.3h0M550.1 288.3h0M104.3 289.7h0M159.5 289.7h0M203.6 289.7h0M248.7 289.7h0M248.7 289.7h0M263.8 289.7h0M270.8 289.7h0M290.8 289.7h0M296.4 289.7h0M296.9 289.7h0M298.4 289.7h0M298.9 289.7h0M301.4 289.7h0M303.9 289.7h0M305.4 289.7h0M305.4 289.7h0M305.9 289.7h0M307.9 289.7h0M308.9 289.7h0M309.4 289.7h0M309.4 289.7h0M314.4 289.7h0M314.4 289.7h0M314.9 289.7h0M315.4 289.7h0M316.4 289.7h0M321.4 289.7h0M321.4 289.7h0M321.9 289.7h0M321.9 289.7h0M321.9 289.7h0M321.9 289.7h0M323.4 289.7h0M323.4 289.7h0M323.4 289.7h0M324.4 289.7h0M324.4 289.7h0M324.4 289.7h0M326 289.7h0M326.5 289.7h0M332.5 289.7h0M333 289.7h0M333 289.7h0M333.5 289.7h0M333.5 289.7h0M333.5 289.7h0M333.5 289.7h0M334 289.7h0M334 289.7h0M334.5 289.7h0M335 289.7h0M335.5 289.7h0M336 289.7h0M336.5 289.7h0M336.5 289.7h0M336.5 289.7h0M337.5 289.7h0M338 289.7h0M339.5 289.7h0M339.5 289.7h0M339.5 289.7h0M340 289.7h0M340 289.7h0M340 289.7h0M340 289.7h0M340 289.7h0M340.5 289.7h0M340.5 289.7h0M341.5 289.7h0M342 289.7h0M343 289.7h0M343 289.7h0M343 289.7h0M343.5 289.7h0M345.5 289.7h0M346.5 289.7h0M346.5 289.7h0M348 289.7h0M348.5 289.7h0M349.5 289.7h0M350 289.7h0M351 289.7h0M353.5 289.7h0M354 289.7h0M357.5 289.7h0M359.1 289.7h0M359.1 289.7h0M373.1 289.7h0M374.1 289.7h0M398.7 289.7h0M405.2 289.7h0M426.8 289.7h0M460.4 289.7h0M477.4 289.7h0M561.7 289.7h0M79.7 291.2h0M137.4 291.2h0M188 291.2h0M279.3 291.2h0M285.3 291.2h0M286.8 291.2h0M287.3 291.2h0M297.4 291.2h0M298.9 291.2h0M300.4 291.2h0M301.9 291.2h0M302.9 291.2h0M305.4 291.2h0M306.4 291.2h0M306.9 291.2h0M309.9 291.2h0M311.4 291.2h0M312.4 291.2h0M313.4 291.2h0M313.4 291.2h0M313.4 291.2h0M314.4 291.2h0M314.9 291.2h0M314.9 291.2h0M314.9 291.2h0M315.9 291.2h0M317.9 291.2h0M318.4 291.2h0M318.4 291.2h0M318.9 291.2h0M318.9 291.2h0M320.4 291.2h0M320.4 291.2h0M320.4 291.2h0M321.9 291.2h0M322.4 291.2h0M322.4 291.2h0M323.4 291.2h0M324.4 291.2h0M324.4 291.2h0M325.4 291.2h0M326 291.2h0M326 291.2h0M326.5 291.2h0M332.5 291.2h0M335.5 291.2h0M337 291.2h0M338 291.2h0M338 291.2h0M338.5 291.2h0M339 291.2h0M340.5 291.2h0M340.5 291.2h0M343.5 291.2h0M344 291.2h0M345 291.2h0M345 291.2h0M345.5 291.2h0M346 291.2h0M351 291.2h0M351.5 291.2h0M352 291.2h0M353 291.2h0M359.1 291.2h0M367.1 291.2h0M410.7 291.2h0M423.2 291.2h0M431.3 291.2h0M522 291.2h0M524.5 291.2h0M527.6 291.2h0M530.1 291.2h0M84.7 292.6h0M114.8 292.6h0M145.9 292.6h0M166.5 292.6h0M187 292.6h0M191 292.6h0M202.6 292.6h0M249.7 292.6h0M264.3 292.6h0M276.8 292.6h0M299.4 292.6h0M301.4 292.6h0M302.9 292.6h0M303.9 292.6h0M303.9 292.6h0M307.9 292.6h0M308.4 292.6h0M308.4 292.6h0M308.4 292.6h0M308.9 292.6h0M308.9 292.6h0M308.9 292.6h0M309.4 292.6h0M309.9 292.6h0M309.9 292.6h0M310.4 292.6h0M314.4 292.6h0M314.4 292.6h0M316.4 292.6h0M316.4 292.6h0M317.9 292.6h0M320.4 292.6h0M332.5 292.6h0M333 292.6h0M333 292.6h0M334 292.6h0M334 292.6h0M334.5 292.6h0M334.5 292.6h0M335.5 292.6h0M336 292.6h0M336.5 292.6h0M338 292.6h0M341 292.6h0M345.5 292.6h0M346.5 292.6h0M346.5 292.6h0M347 292.6h0M347 292.6h0M348 292.6h0M349 292.6h0M349.5 292.6h0M351 292.6h0M353 292.6h0M357.5 292.6h0M363.6 292.6h0M368.1 292.6h0M369.1 292.6h0M372.1 292.6h0M376.1 292.6h0M437.3 292.6h0M446.8 292.6h0M507 292.6h0M516.5 292.6h0M109.8 294.1h0M111.3 294.1h0M118.3 294.1h0M220.6 294.1h0M251.2 294.1h0M280.8 294.1h0M283.8 294.1h0M285.3 294.1h0M285.8 294.1h0M295.4 294.1h0M297.9 294.1h0M298.4 294.1h0M299.4 294.1h0M302.9 294.1h0M304.9 294.1h0M305.4 294.1h0M306.4 294.1h0M307.9 294.1h0M307.9 294.1h0M308.4 294.1h0M314.4 294.1h0M314.4 294.1h0M314.4 294.1h0M314.4 294.1h0M314.9 294.1h0M316.4 294.1h0M316.4 294.1h0M318.9 294.1h0M319.4 294.1h0M320.4 294.1h0M320.4 294.1h0M333.5 294.1h0M335.5 294.1h0M336.5 294.1h0M338 294.1h0M338 294.1h0M338 294.1h0M339.5 294.1h0M339.5 294.1h0M339.5 294.1h0M340 294.1h0M340 294.1h0M340.5 294.1h0M341 294.1h0M344 294.1h0M344 294.1h0M348.5 294.1h0M350.5 294.1h0M351 294.1h0M352 294.1h0M355.5 294.1h0M358 294.1h0M378.1 294.1h0M414.7 294.1h0M438.3 294.1h0M448.3 294.1h0M467.4 294.1h0M560.2 294.1h0M111.8 295.5h0M194.6 295.5h0M227.7 295.5h0M244.7 295.5h0M293.4 295.5h0M300.9 295.5h0M301.4 295.5h0M302.4 295.5h0M303.4 295.5h0M304.4 295.5h0M306.4 295.5h0M306.4 295.5h0M307.9 295.5h0M307.9 295.5h0M310.4 295.5h0M310.4 295.5h0M310.4 295.5h0M310.9 295.5h0M311.4 295.5h0M311.4 295.5h0M311.9 295.5h0M311.9 295.5h0M312.4 295.5h0M312.4 295.5h0M312.9 295.5h0M313.4 295.5h0M313.4 295.5h0M313.9 295.5h0M323.4 295.5h0M323.4 295.5h0M325.4 295.5h0M333.5 295.5h0M334 295.5h0M335.5 295.5h0M335.5 295.5h0M339.5 295.5h0M342.5 295.5h0M342.5 295.5h0M345 295.5h0M347.5 295.5h0M348.5 295.5h0M350 295.5h0M350 295.5h0M357.5 295.5h0M359.1 295.5h0M359.1 295.5h0M359.6 295.5h0M367.6 295.5h0M368.6 295.5h0M370.6 295.5h0M377.6 295.5h0M413.7 295.5h0M416.7 295.5h0M417.7 295.5h0M495.5 295.5h0M566.2 295.5h0M97.8 297h0M113.8 297h0M116.3 297h0M150.4 297h0M198.6 297h0M250.2 297h0M277.8 297h0M291.3 297h0M294.4 297h0M297.9 297h0M299.4 297h0M300.4 297h0M303.9 297h0M304.4 297h0M304.4 297h0M306.4 297h0M308.9 297h0M308.9 297h0M308.9 297h0M310.4 297h0M310.4 297h0M310.4 297h0M310.9 297h0M310.9 297h0M310.9 297h0M310.9 297h0M310.9 297h0M314.4 297h0M333.5 297h0M333.5 297h0M335.5 297h0M335.5 297h0M343.5 297h0M343.5 297h0M345 297h0M345 297h0M348 297h0M348 297h0M348 297h0M350.5 297h0M351 297h0M351 297h0M352.5 297h0M353 297h0M355 297h0M355 297h0M357.5 297h0M358 297h0M365.6 297h0M369.6 297h0M372.6 297h0M408.2 297h0M415.7 297h0M420.7 297h0M424.2 297h0M427.3 297h0M431.3 297h0M442.8 297h0M512.5 297h0M516.5 297h0M526.6 297h0M530.6 297h0M561.2 297h0M102.8 298.4h0M125.4 298.4h0M253.2 298.4h0M271.8 298.4h0M294.4 298.4h0M296.4 298.4h0M300.9 298.4h0M303.9 298.4h0M306.9 298.4h0M309.4 298.4h0M310.4 298.4h0M310.4 298.4h0M310.9 298.4h0M310.9 298.4h0M312.4 298.4h0M312.9 298.4h0M313.4 298.4h0M313.4 298.4h0M313.9 298.4h0M313.9 298.4h0M313.9 298.4h0M314.4 298.4h0M314.4 298.4h0M319.4 298.4h0M319.9 298.4h0M319.9 298.4h0M319.9 298.4h0M320.4 298.4h0M320.9 298.4h0M321.9 298.4h0M321.9 298.4h0M331.5 298.4h0M331.5 298.4h0M331.5 298.4h0M332 298.4h0M332.5 298.4h0M333 298.4h0M333 298.4h0M333.5 298.4h0M337 298.4h0M337 298.4h0M339 298.4h0M339.5 298.4h0M340 298.4h0M341.5 298.4h0M342 298.4h0M344 298.4h0M344 298.4h0M344.5 298.4h0M346 298.4h0M346 298.4h0M347 298.4h0M348 298.4h0M350 298.4h0M351 298.4h0M351.5 298.4h0M351.5 298.4h0M354.5 298.4h0M356.5 298.4h0M399.7 298.4h0M403.7 298.4h0M442.8 298.4h0M458.8 298.4h0M458.8 298.4h0M501 298.4h0M558.1 298.4h0M94.8 299.9h0M132.4 299.9h0M158.5 299.9h0M164 299.9h0M184.5 299.9h0M188.5 299.9h0M210.6 299.9h0M244.2 299.9h0M271.3 299.9h0M289.8 299.9h0M290.8 299.9h0M291.8 299.9h0M295.4 299.9h0M298.9 299.9h0M300.4 299.9h0M301.9 299.9h0M306.4 299.9h0M307.9 299.9h0M307.9 299.9h0M308.4 299.9h0M308.4 299.9h0M308.9 299.9h0M308.9 299.9h0M309.4 299.9h0M309.4 299.9h0M309.4 299.9h0M309.9 299.9h0M309.9 299.9h0M310.4 299.9h0M311.4 299.9h0M312.9 299.9h0M312.9 299.9h0M313.4 299.9h0M319.4 299.9h0M319.4 299.9h0M321.9 299.9h0M322.4 299.9h0M323.4 299.9h0M323.4 299.9h0M324.9 299.9h0M324.9 299.9h0M326 299.9h0M326.5 299.9h0M327.5 299.9h0M328 299.9h0M328 299.9h0M328.5 299.9h0M329 299.9h0M329.5 299.9h0M329.5 299.9h0M331.5 299.9h0M331.5 299.9h0M333 299.9h0M333 299.9h0M333 299.9h0M333.5 299.9h0M334 299.9h0M334.5 299.9h0M335 299.9h0M335.5 299.9h0M335.5 299.9h0M336.5 299.9h0M338.5 299.9h0M338.5 299.9h0M339 299.9h0M339 299.9h0M342.5 299.9h0M344.5 299.9h0M344.5 299.9h0M345 299.9h0M345.5 299.9h0M345.5 299.9h0M347 299.9h0M347 299.9h0M349.5 299.9h0M350.5 299.9h0M354 299.9h0M355 299.9h0M355 299.9h0M355.5 299.9h0M372.1 299.9h0M373.6 299.9h0M373.6 299.9h0M376.1 299.9h0M437.8 299.9h0M459.9 299.9h0M469.4 299.9h0M537.1 299.9h0M213.6 301.3h0M237.2 301.3h0M268.8 301.3h0M288.8 301.3h0M293.9 301.3h0M294.9 301.3h0M298.9 301.3h0M301.9 301.3h0M302.4 301.3h0M303.9 301.3h0M304.4 301.3h0M306.4 301.3h0M307.4 301.3h0M307.4 301.3h0M310.4 301.3h0M319.9 301.3h0M319.9 301.3h0M320.4 301.3h0M320.4 301.3h0M320.4 301.3h0M321.4 301.3h0M321.4 301.3h0M322.9 301.3h0M323.4 301.3h0M323.4 301.3h0M324.4 301.3h0M324.4 301.3h0M326 301.3h0M326 301.3h0M326 301.3h0M326 301.3h0M327.5 301.3h0M328 301.3h0M329.5 301.3h0M330.5 301.3h0M330.5 301.3h0M330.5 301.3h0M330.5 301.3h0M331 301.3h0M331 301.3h0M331.5 301.3h0M331.5 301.3h0M331.5 301.3h0M332 301.3h0M332.5 301.3h0M333 301.3h0M333.5 301.3h0M336 301.3h0M337 301.3h0M337.5 301.3h0M338 301.3h0M338 301.3h0M338.5 301.3h0M339.5 301.3h0M340.5 301.3h0M341 301.3h0M341 301.3h0M341.5 301.3h0M342 301.3h0M342.5 301.3h0M342.5 301.3h0M343 301.3h0M345 301.3h0M347.5 301.3h0M349.5 301.3h0M350.5 301.3h0M354 301.3h0M357 301.3h0M365.1 301.3h0M398.2 301.3h0M399.2 301.3h0M434.8 301.3h0M484.4 301.3h0M569.2 301.3h0M143.4 302.7h0M196.1 302.7h0M227.2 302.7h0M257.2 302.7h0M260.3 302.7h0M269.8 302.7h0M292.9 302.7h0M295.4 302.7h0M295.4 302.7h0M297.4 302.7h0M298.9 302.7h0M299.9 302.7h0M299.9 302.7h0M299.9 302.7h0M301.4 302.7h0M302.4 302.7h0M302.4 302.7h0M304.4 302.7h0M305.4 302.7h0M305.4 302.7h0M307.9 302.7h0M310.4 302.7h0M327.5 302.7h0M329.5 302.7h0M331 302.7h0M333.5 302.7h0M334 302.7h0M334.5 302.7h0M334.5 302.7h0M335 302.7h0M335 302.7h0M335 302.7h0M336 302.7h0M336.5 302.7h0M337.5 302.7h0M337.5 302.7h0M337.5 302.7h0M339.5 302.7h0M339.5 302.7h0M339.5 302.7h0M340.5 302.7h0M343.5 302.7h0M344 302.7h0M349.5 302.7h0M350 302.7h0M350.5 302.7h0M352 302.7h0M353 302.7h0M353.5 302.7h0M354.5 302.7h0M355.5 302.7h0M359.1 302.7h0M360.6 302.7h0M362.1 302.7h0M364.1 302.7h0M366.1 302.7h0M376.6 302.7h0M389.1 302.7h0M409.2 302.7h0M468.9 302.7h0M494.5 302.7h0M529.1 302.7h0M541.1 302.7h0M82.2 304.2h0M87.2 304.2h0M169 304.2h0M267.8 304.2h0M283.3 304.2h0M290.3 304.2h0M295.4 304.2h0M296.9 304.2h0M297.9 304.2h0M303.4 304.2h0M303.9 304.2h0M305.4 304.2h0M306.4 304.2h0M306.4 304.2h0M306.9 304.2h0M307.4 304.2h0M309.9 304.2h0M309.9 304.2h0M310.4 304.2h0M311.9 304.2h0M311.9 304.2h0M312.4 304.2h0M325.4 304.2h0M327 304.2h0M327 304.2h0M327.5 304.2h0M328.5 304.2h0M328.5 304.2h0M329.5 304.2h0M329.5 304.2h0M329.5 304.2h0M330.5 304.2h0M330.5 304.2h0M331.5 304.2h0M332 304.2h0M332.5 304.2h0M332.5 304.2h0M333 304.2h0M333 304.2h0M333 304.2h0M333 304.2h0M333 304.2h0M333 304.2h0M335 304.2h0M338 304.2h0M338.5 304.2h0M339 304.2h0M341 304.2h0M344 304.2h0M350 304.2h0M351 304.2h0M351.5 304.2h0M351.5 304.2h0M355.5 304.2h0M397.7 304.2h0M425.2 304.2h0M429.8 304.2h0M434.3 304.2h0M440.3 304.2h0M490.9 304.2h0M548.1 304.2h0M566.2 304.2h0M170.5 305.6h0M179 305.6h0M222.6 305.6h0M279.3 305.6h0M280.8 305.6h0M287.3 305.6h0M293.4 305.6h0M296.4 305.6h0M296.4 305.6h0M298.4 305.6h0M299.9 305.6h0M299.9 305.6h0M302.9 305.6h0M307.9 305.6h0M309.9 305.6h0M309.9 305.6h0M310.4 305.6h0M310.4 305.6h0M311.9 305.6h0M312.4 305.6h0M317.4 305.6h0M317.4 305.6h0M317.9 305.6h0M318.9 305.6h0M318.9 305.6h0M319.4 305.6h0M319.4 305.6h0M325.4 305.6h0M325.4 305.6h0M325.4 305.6h0M325.4 305.6h0M326 305.6h0M326.5 305.6h0M326.5 305.6h0M327 305.6h0M327.5 305.6h0M327.5 305.6h0M328.5 305.6h0M328.5 305.6h0M330 305.6h0M330 305.6h0M330.5 305.6h0M333 305.6h0M334 305.6h0M334 305.6h0M334 305.6h0M335 305.6h0M336 305.6h0M337.5 305.6h0M339.5 305.6h0M339.5 305.6h0M339.5 305.6h0M341.5 305.6h0M341.5 305.6h0M341.5 305.6h0M342 305.6h0M344 305.6h0M344.5 305.6h0M346 305.6h0M346.5 305.6h0M348 305.6h0M348.5 305.6h0M349.5 305.6h0M350 305.6h0M350 305.6h0M350.5 305.6h0M353 305.6h0M357 305.6h0M359.1 305.6h0M360.6 305.6h0M366.1 305.6h0M371.6 305.6h0M376.1 305.6h0M386.6 305.6h0M388.1 305.6h0M392.7 305.6h0M405.2 305.6h0M422.7 305.6h0M424.7 305.6h0M541.1 305.6h0M88.2 307.1h0M110.3 307.1h0M161.5 307.1h0M186 307.1h0M190 307.1h0M218.6 307.1h0M258.2 307.1h0M282.3 307.1h0M286.3 307.1h0M289.3 307.1h0M291.3 307.1h0M295.4 307.1h0M304.9 307.1h0M304.9 307.1h0M307.4 307.1h0M308.9 307.1h0M310.9 307.1h0M310.9 307.1h0M311.4 307.1h0M317.4 307.1h0M319.4 307.1h0M328.5 307.1h0M329 307.1h0M329.5 307.1h0M329.5 307.1h0M330 307.1h0M330.5 307.1h0M335.5 307.1h0M336.5 307.1h0M337 307.1h0M338 307.1h0M338 307.1h0M338 307.1h0M338.5 307.1h0M338.5 307.1h0M339 307.1h0M339 307.1h0M339.5 307.1h0M339.5 307.1h0M340.5 307.1h0M340.5 307.1h0M341.5 307.1h0M343 307.1h0M343.5 307.1h0M344 307.1h0M344 307.1h0M345.5 307.1h0M347.5 307.1h0M351.5 307.1h0M355.5 307.1h0M358 307.1h0M368.6 307.1h0M439.8 307.1h0M462.4 307.1h0M474.9 307.1h0M476.4 307.1h0M512 307.1h0M544.1 307.1h0M113.8 308.5h0M120.8 308.5h0M125.9 308.5h0M132.4 308.5h0M200.6 308.5h0M257.2 308.5h0M258.8 308.5h0M262.3 308.5h0M266.3 308.5h0M270.3 308.5h0M296.9 308.5h0M299.9 308.5h0M299.9 308.5h0M300.9 308.5h0M301.9 308.5h0M303.4 308.5h0M303.4 308.5h0M304.4 308.5h0M304.4 308.5h0M304.4 308.5h0M304.9 308.5h0M306.4 308.5h0M306.4 308.5h0M308.4 308.5h0M308.9 308.5h0M311.4 308.5h0M316.4 308.5h0M317.4 308.5h0M317.9 308.5h0M318.4 308.5h0M319.4 308.5h0M319.4 308.5h0M321.4 308.5h0M321.4 308.5h0M321.4 308.5h0M330.5 308.5h0M330.5 308.5h0M330.5 308.5h0M330.5 308.5h0M331.5 308.5h0M332 308.5h0M332 308.5h0M332.5 308.5h0M332.5 308.5h0M332.5 308.5h0M333 308.5h0M333 308.5h0M334.5 308.5h0M335.5 308.5h0M337 308.5h0M337 308.5h0M338.5 308.5h0M338.5 308.5h0M338.5 308.5h0M338.5 308.5h0M341.5 308.5h0M343.5 308.5h0M343.5 308.5h0M347.5 308.5h0M347.5 308.5h0M349.5 308.5h0M353.5 308.5h0M356.5 308.5h0M359.1 308.5h0M359.6 308.5h0M360.1 308.5h0M364.6 308.5h0M368.6 308.5h0M451.3 308.5h0M465.4 308.5h0M94.3 310h0M137.9 310h0M143.4 310h0M216.6 310h0M238.2 310h0M269.8 310h0M287.3 310h0M291.3 310h0M294.9 310h0M299.4 310h0M302.9 310h0M304.9 310h0M307.4 310h0M308.4 310h0M310.4 310h0M310.9 310h0M311.9 310h0M311.9 310h0M313.4 310h0M314.4 310h0M316.4 310h0M316.9 310h0M318.9 310h0M319.4 310h0M319.4 310h0M330.5 310h0M335.5 310h0M335.5 310h0M337 310h0M338.5 310h0M338.5 310h0M338.5 310h0M340 310h0M343 310h0M344.5 310h0M345 310h0M347 310h0M351 310h0M354 310h0M363.1 310h0M368.1 310h0M404.2 310h0M412.2 310h0M466.4 310h0M472.9 310h0M500.5 310h0M517 310h0M544.6 310h0M93.3 311.4h0M114.8 311.4h0M149.4 311.4h0M157.9 311.4h0M240.2 311.4h0M249.2 311.4h0M254.2 311.4h0M277.3 311.4h0M283.3 311.4h0M286.3 311.4h0M286.3 311.4h0M290.3 311.4h0M292.9 311.4h0M294.4 311.4h0M297.4 311.4h0M298.4 311.4h0M298.9 311.4h0M303.4 311.4h0M303.4 311.4h0M304.4 311.4h0M305.9 311.4h0M306.4 311.4h0M306.9 311.4h0M309.9 311.4h0M311.9 311.4h0M311.9 311.4h0M312.4 311.4h0M312.9 311.4h0M312.9 311.4h0M314.9 311.4h0M314.9 311.4h0M314.9 311.4h0M315.9 311.4h0M315.9 311.4h0M315.9 311.4h0M316.4 311.4h0M318.9 311.4h0M319.4 311.4h0M319.4 311.4h0M320.4 311.4h0M320.4 311.4h0M323.4 311.4h0M323.4 311.4h0M323.9 311.4h0M325.4 311.4h0M327.5 311.4h0M329.5 311.4h0M330 311.4h0M330.5 311.4h0M332 311.4h0M332.5 311.4h0M332.5 311.4h0M332.5 311.4h0M333 311.4h0M333 311.4h0M334.5 311.4h0M334.5 311.4h0M335.5 311.4h0M336.5 311.4h0M337 311.4h0M337.5 311.4h0M338 311.4h0M338 311.4h0M338 311.4h0M339 311.4h0M340 311.4h0M341.5 311.4h0M345 311.4h0M346 311.4h0M348 311.4h0M351 311.4h0M351 311.4h0M356.5 311.4h0M357 311.4h0M366.1 311.4h0M368.6 311.4h0M372.6 311.4h0M417.7 311.4h0M438.3 311.4h0M520.5 311.4h0M537.6 311.4h0M566.2 311.4h0M567.7 311.4h0M92.3 312.9h0M184 312.9h0M228.7 312.9h0M274.8 312.9h0M298.9 312.9h0M298.9 312.9h0M301.9 312.9h0M302.9 312.9h0M304.4 312.9h0M304.4 312.9h0M304.9 312.9h0M305.9 312.9h0M306.4 312.9h0M306.9 312.9h0M307.9 312.9h0M308.9 312.9h0M308.9 312.9h0M309.4 312.9h0M309.4 312.9h0M309.9 312.9h0M310.4 312.9h0M310.9 312.9h0M310.9 312.9h0M310.9 312.9h0M310.9 312.9h0M312.4 312.9h0M312.9 312.9h0M315.4 312.9h0M315.4 312.9h0M316.9 312.9h0M316.9 312.9h0M316.9 312.9h0M317.4 312.9h0M319.4 312.9h0M319.9 312.9h0M321.9 312.9h0M322.4 312.9h0M322.4 312.9h0M322.4 312.9h0M322.9 312.9h0M324.9 312.9h0M324.9 312.9h0M324.9 312.9h0M325.4 312.9h0M328 312.9h0M331.5 312.9h0M332.5 312.9h0M332.5 312.9h0M332.5 312.9h0M332.5 312.9h0M333 312.9h0M333.5 312.9h0M334.5 312.9h0M335 312.9h0M335.5 312.9h0M336.5 312.9h0M338 312.9h0M338.5 312.9h0M340.5 312.9h0M341 312.9h0M342 312.9h0M346.5 312.9h0M347 312.9h0M348 312.9h0M353 312.9h0M369.6 312.9h0M377.1 312.9h0M378.1 312.9h0M392.1 312.9h0M426.8 312.9h0M435.3 312.9h0M457.8 312.9h0M493.5 312.9h0M167.5 314.3h0M196.1 314.3h0M203.1 314.3h0M274.3 314.3h0M280.3 314.3h0M285.8 314.3h0M295.9 314.3h0M296.4 314.3h0M304.4 314.3h0M304.9 314.3h0M307.9 314.3h0M309.9 314.3h0M309.9 314.3h0M311.4 314.3h0M311.4 314.3h0M311.4 314.3h0M311.4 314.3h0M311.4 314.3h0M312.9 314.3h0M313.9 314.3h0M314.9 314.3h0M317.4 314.3h0M318.4 314.3h0M319.4 314.3h0M319.4 314.3h0M320.9 314.3h0M320.9 314.3h0M321.4 314.3h0M322.4 314.3h0M322.9 314.3h0M322.9 314.3h0M322.9 314.3h0M324.9 314.3h0M325.4 314.3h0M326 314.3h0M326.5 314.3h0M327.5 314.3h0M328 314.3h0M328 314.3h0M328 314.3h0M328.5 314.3h0M329 314.3h0M329 314.3h0M330 314.3h0M330 314.3h0M331 314.3h0M331.5 314.3h0M332 314.3h0M333.5 314.3h0M334.5 314.3h0M336 314.3h0M336 314.3h0M341 314.3h0M342 314.3h0M342 314.3h0M342 314.3h0M343.5 314.3h0M344.5 314.3h0M346 314.3h0M346.5 314.3h0M346.5 314.3h0M346.5 314.3h0M348.5 314.3h0M348.5 314.3h0M349 314.3h0M350 314.3h0M350 314.3h0M351.5 314.3h0M351.5 314.3h0M353.5 314.3h0M354 314.3h0M355.5 314.3h0M356.5 314.3h0M360.1 314.3h0M365.1 314.3h0M365.1 314.3h0M367.6 314.3h0M380.1 314.3h0M450.3 314.3h0M509 314.3h0M551.1 314.3h0M554.6 314.3h0M556.1 314.3h0M565.2 314.3h0M93.3 315.7h0M97.3 315.7h0M97.3 315.7h0M108.8 315.7h0M186.5 315.7h0M197.6 315.7h0M217.6 315.7h0M224.6 315.7h0M233.2 315.7h0M281.8 315.7h0M283.8 315.7h0M288.8 315.7h0M290.8 315.7h0M291.3 315.7h0M296.9 315.7h0M297.9 315.7h0M299.4 315.7h0M300.4 315.7h0M306.9 315.7h0M311.4 315.7h0M313.4 315.7h0M317.4 315.7h0M317.4 315.7h0M320.4 315.7h0M322.9 315.7h0M322.9 315.7h0M323.4 315.7h0M323.9 315.7h0M324.9 315.7h0M324.9 315.7h0M324.9 315.7h0M324.9 315.7h0M329 315.7h0M329.5 315.7h0M329.5 315.7h0M329.5 315.7h0M331.5 315.7h0M333.5 315.7h0M334 315.7h0M334 315.7h0M336 315.7h0M337 315.7h0M338.5 315.7h0M339.5 315.7h0M340 315.7h0M340.5 315.7h0M341 315.7h0M346.5 315.7h0M347.5 315.7h0M348 315.7h0M351.5 315.7h0M352.5 315.7h0M355.5 315.7h0M358 315.7h0M358 315.7h0M360.1 315.7h0M360.6 315.7h0M412.7 315.7h0M435.8 315.7h0M450.8 315.7h0M464.9 315.7h0M524 315.7h0M555.1 315.7h0M136.4 317.2h0M154.9 317.2h0M184.5 317.2h0M272.3 317.2h0M289.3 317.2h0M290.8 317.2h0M291.3 317.2h0M291.8 317.2h0M292.4 317.2h0M294.4 317.2h0M298.9 317.2h0M300.9 317.2h0M301.9 317.2h0M303.4 317.2h0M303.9 317.2h0M303.9 317.2h0M305.9 317.2h0M305.9 317.2h0M306.4 317.2h0M306.9 317.2h0M307.4 317.2h0M307.4 317.2h0M308.9 317.2h0M310.9 317.2h0M310.9 317.2h0M310.9 317.2h0M311.9 317.2h0M313.4 317.2h0M313.4 317.2h0M314.4 317.2h0M315.4 317.2h0M317.4 317.2h0M317.9 317.2h0M319.4 317.2h0M320.4 317.2h0M321.4 317.2h0M321.9 317.2h0M322.9 317.2h0M323.4 317.2h0M323.9 317.2h0M324.4 317.2h0M324.9 317.2h0M324.9 317.2h0M326 317.2h0M326 317.2h0M326.5 317.2h0M327.5 317.2h0M328.5 317.2h0M329.5 317.2h0M331 317.2h0M331 317.2h0M331.5 317.2h0M332 317.2h0M332.5 317.2h0M332.5 317.2h0M335.5 317.2h0M339 317.2h0M341.5 317.2h0M344.5 317.2h0M344.5 317.2h0M345.5 317.2h0M346.5 317.2h0M350.5 317.2h0M350.5 317.2h0M357.5 317.2h0M365.6 317.2h0M383.6 317.2h0M420.7 317.2h0M431.3 317.2h0M452.8 317.2h0M461.9 317.2h0M464.4 317.2h0M498 317.2h0M524 317.2h0M542.1 317.2h0M116.8 318.6h0M120.8 318.6h0M160.5 318.6h0M215.6 318.6h0M288.3 318.6h0M294.4 318.6h0M294.4 318.6h0M294.9 318.6h0M296.9 318.6h0M301.4 318.6h0M302.9 318.6h0M303.9 318.6h0M303.9 318.6h0M304.4 318.6h0M304.9 318.6h0M305.4 318.6h0M306.9 318.6h0M307.9 318.6h0M308.9 318.6h0M309.4 318.6h0M310.4 318.6h0M310.4 318.6h0M311.4 318.6h0M311.4 318.6h0M311.9 318.6h0M311.9 318.6h0M312.4 318.6h0M312.4 318.6h0M312.9 318.6h0M313.4 318.6h0M317.4 318.6h0M317.4 318.6h0M317.9 318.6h0M317.9 318.6h0M318.4 318.6h0M318.9 318.6h0M319.4 318.6h0M319.4 318.6h0M320.4 318.6h0M324.4 318.6h0M324.4 318.6h0M324.9 318.6h0M327.5 318.6h0M327.5 318.6h0M329.5 318.6h0M330.5 318.6h0M330.5 318.6h0M330.5 318.6h0M330.5 318.6h0M331 318.6h0M332.5 318.6h0M333 318.6h0M334.5 318.6h0M334.5 318.6h0M335 318.6h0M336 318.6h0M336.5 318.6h0M337 318.6h0M337 318.6h0M338 318.6h0M338.5 318.6h0M339 318.6h0M341 318.6h0M342.5 318.6h0M345.5 318.6h0M346 318.6h0M346 318.6h0M347 318.6h0M350 318.6h0M353.5 318.6h0M355 318.6h0M355.5 318.6h0M355.5 318.6h0M361.1 318.6h0M384.6 318.6h0M385.6 318.6h0M414.2 318.6h0M433.8 318.6h0M439.8 318.6h0M534.6 318.6h0M570.7 318.6h0M79.7 320.1h0M110.8 320.1h0M133.9 320.1h0M149.4 320.1h0M166.5 320.1h0M185 320.1h0M267.8 320.1h0M284.3 320.1h0M286.3 320.1h0M291.8 320.1h0M296.4 320.1h0M296.9 320.1h0M306.9 320.1h0M308.4 320.1h0M311.4 320.1h0M314.4 320.1h0M316.4 320.1h0M316.4 320.1h0M316.9 320.1h0M318.4 320.1h0M318.4 320.1h0M319.4 320.1h0M319.4 320.1h0M319.9 320.1h0M319.9 320.1h0M321.4 320.1h0M321.4 320.1h0M322.4 320.1h0M323.9 320.1h0M324.4 320.1h0M324.4 320.1h0M331 320.1h0M331 320.1h0M332.5 320.1h0M333 320.1h0M333.5 320.1h0M335 320.1h0M338.5 320.1h0M339 320.1h0M340.5 320.1h0M342.5 320.1h0M343 320.1h0M348.5 320.1h0M349.5 320.1h0M351.5 320.1h0M357.5 320.1h0M370.1 320.1h0M370.1 320.1h0M377.1 320.1h0M379.1 320.1h0M445.3 320.1h0M465.4 320.1h0M477.4 320.1h0M491.4 320.1h0M497.5 320.1h0M520 320.1h0M535.6 320.1h0M91.2 321.5h0M110.8 321.5h0M118.8 321.5h0M203.1 321.5h0M229.2 321.5h0M286.3 321.5h0M286.3 321.5h0M287.3 321.5h0M296.9 321.5h0M305.9 321.5h0M306.4 321.5h0M306.4 321.5h0M308.4 321.5h0M308.9 321.5h0M309.9 321.5h0M310.9 321.5h0M311.4 321.5h0M312.9 321.5h0M313.9 321.5h0M314.4 321.5h0M314.4 321.5h0M316.4 321.5h0M316.4 321.5h0M316.4 321.5h0M316.9 321.5h0M318.4 321.5h0M318.4 321.5h0M319.4 321.5h0M319.4 321.5h0M319.4 321.5h0M319.9 321.5h0M321.9 321.5h0M322.9 321.5h0M322.9 321.5h0M331 321.5h0M332.5 321.5h0M332.5 321.5h0M336 321.5h0M336.5 321.5h0M336.5 321.5h0M337 321.5h0M337 321.5h0M339.5 321.5h0M340.5 321.5h0M340.5 321.5h0M341 321.5h0M344 321.5h0M346.5 321.5h0M347 321.5h0M347.5 321.5h0M348 321.5h0M354.5 321.5h0M362.1 321.5h0M369.6 321.5h0M411.7 321.5h0M435.8 321.5h0M457.8 321.5h0M460.4 321.5h0M483.4 321.5h0M530.6 321.5h0M551.6 321.5h0M556.6 321.5h0M560.2 321.5h0M560.7 321.5h0M566.2 321.5h0M81.2 323h0M112.3 323h0M122.3 323h0M163 323h0M226.7 323h0M234.7 323h0M261.8 323h0M268.3 323h0M288.3 323h0M293.9 323h0M298.4 323h0M299.9 323h0M301.4 323h0M302.4 323h0M303.9 323h0M305.4 323h0M307.4 323h0M308.4 323h0M310.4 323h0M310.9 323h0M310.9 323h0M313.4 323h0M320.4 323h0M324.9 323h0M326.5 323h0M326.5 323h0M327 323h0M327 323h0M329 323h0M331 323h0M338 323h0M342.5 323h0M345 323h0M345 323h0M346.5 323h0M348 323h0M350.5 323h0M352 323h0M356.5 323h0M357 323h0M363.1 323h0M374.1 323h0M383.1 323h0M385.1 323h0M386.1 323h0M387.1 323h0M429.3 323h0M445.8 323h0M540.1 323h0M565.7 323h0M79.7 324.4h0M103.8 324.4h0M126.4 324.4h0M148.4 324.4h0M262.3 324.4h0M293.9 324.4h0M297.4 324.4h0M298.9 324.4h0M301.9 324.4h0M303.4 324.4h0M303.9 324.4h0M305.4 324.4h0M307.9 324.4h0M309.4 324.4h0M312.4 324.4h0M314.4 324.4h0M316.4 324.4h0M317.9 324.4h0M320.4 324.4h0M320.4 324.4h0M320.4 324.4h0M320.9 324.4h0M321.4 324.4h0M321.9 324.4h0M322.4 324.4h0M323.4 324.4h0M323.9 324.4h0M329 324.4h0M329 324.4h0M330 324.4h0M330 324.4h0M330.5 324.4h0M331.5 324.4h0M332.5 324.4h0M333.5 324.4h0M334 324.4h0M335 324.4h0M335 324.4h0M335.5 324.4h0M336 324.4h0M336 324.4h0M336.5 324.4h0M338 324.4h0M339 324.4h0M339 324.4h0M339.5 324.4h0M340.5 324.4h0M341.5 324.4h0M342 324.4h0M343 324.4h0M343.5 324.4h0M343.5 324.4h0M344 324.4h0M345 324.4h0M345 324.4h0M355 324.4h0M358 324.4h0M361.6 324.4h0M372.6 324.4h0M373.1 324.4h0M374.1 324.4h0M380.6 324.4h0M388.6 324.4h0M438.3 324.4h0M438.8 324.4h0M442.3 324.4h0M487.9 324.4h0M499 324.4h0M506 324.4h0M553.6 324.4h0M554.6 324.4h0M80.7 325.9h0M81.2 325.9h0M98.3 325.9h0M186.5 325.9h0M293.4 325.9h0M296.4 325.9h0M296.9 325.9h0M297.4 325.9h0M300.4 325.9h0M304.9 325.9h0M305.4 325.9h0M306.4 325.9h0M307.4 325.9h0M309.4 325.9h0M310.4 325.9h0M311.4 325.9h0M311.4 325.9h0M311.9 325.9h0M312.4 325.9h0M312.4 325.9h0M312.9 325.9h0M313.9 325.9h0M314.4 325.9h0M314.4 325.9h0M314.4 325.9h0M318.4 325.9h0M318.4 325.9h0M318.9 325.9h0M320.9 325.9h0M321.9 325.9h0M323.9 325.9h0M323.9 325.9h0M324.4 325.9h0M325.4 325.9h0M327 325.9h0M327.5 325.9h0M328 325.9h0M328 325.9h0M328.5 325.9h0M329 325.9h0M329.5 325.9h0M331 325.9h0M331.5 325.9h0M332.5 325.9h0M332.5 325.9h0M332.5 325.9h0M335.5 325.9h0M335.5 325.9h0M337.5 325.9h0M340 325.9h0M341 325.9h0M345 325.9h0M345.5 325.9h0M346 325.9h0M347 325.9h0M349.5 325.9h0M349.5 325.9h0M351.5 325.9h0M354 325.9h0M355.5 325.9h0M356.5 325.9h0M364.1 325.9h0M368.6 325.9h0M379.6 325.9h0M391.1 325.9h0M401.7 325.9h0M419.7 325.9h0M470.4 325.9h0M506.5 325.9h0M526 325.9h0M529.1 325.9h0M565.7 325.9h0M88.2 327.3h0M122.3 327.3h0M174 327.3h0M202.6 327.3h0M213.1 327.3h0M223.6 327.3h0M238.7 327.3h0M284.8 327.3h0M301.9 327.3h0M301.9 327.3h0M306.4 327.3h0M306.9 327.3h0M307.4 327.3h0M307.9 327.3h0M308.9 327.3h0M308.9 327.3h0M308.9 327.3h0M312.4 327.3h0M312.9 327.3h0M314.4 327.3h0M314.9 327.3h0M316.9 327.3h0M318.4 327.3h0M318.9 327.3h0M320.4 327.3h0M321.9 327.3h0M322.9 327.3h0M324.4 327.3h0M326 327.3h0M326.5 327.3h0M326.5 327.3h0M326.5 327.3h0M328.5 327.3h0M329 327.3h0M330.5 327.3h0M330.5 327.3h0M332.5 327.3h0M332.5 327.3h0M332.5 327.3h0M334 327.3h0M334.5 327.3h0M334.5 327.3h0M335.5 327.3h0M336.5 327.3h0M336.5 327.3h0M337 327.3h0M337.5 327.3h0M338 327.3h0M342.5 327.3h0M343 327.3h0M343.5 327.3h0M343.5 327.3h0M344 327.3h0M344.5 327.3h0M346 327.3h0M346 327.3h0M347.5 327.3h0M350.5 327.3h0M351 327.3h0M353.5 327.3h0M355.5 327.3h0M358 327.3h0M367.6 327.3h0M443.3 327.3h0M483.9 327.3h0M488.9 327.3h0M515 327.3h0M554.6 327.3h0M83.7 328.7h0M106.8 328.7h0M178 328.7h0M207.6 328.7h0M230.7 328.7h0M252.7 328.7h0M282.8 328.7h0M284.3 328.7h0M289.8 328.7h0M289.8 328.7h0M296.9 328.7h0M300.4 328.7h0M301.9 328.7h0M303.9 328.7h0M304.9 328.7h0M307.9 328.7h0M307.9 328.7h0M309.9 328.7h0M310.4 328.7h0M310.4 328.7h0M310.9 328.7h0M311.4 328.7h0M311.4 328.7h0M314.9 328.7h0M314.9 328.7h0M316.4 328.7h0M318.4 328.7h0M318.4 328.7h0M319.9 328.7h0M320.4 328.7h0M320.4 328.7h0M320.9 328.7h0M323.4 328.7h0M325.4 328.7h0M327.5 328.7h0M328 328.7h0M328.5 328.7h0M332.5 328.7h0M333 328.7h0M333.5 328.7h0M333.5 328.7h0M334.5 328.7h0M338.5 328.7h0M339 328.7h0M339.5 328.7h0M341 328.7h0M341 328.7h0M342 328.7h0M342 328.7h0M342.5 328.7h0M344 328.7h0M344.5 328.7h0M349.5 328.7h0M350 328.7h0M351 328.7h0M352 328.7h0M353 328.7h0M354.5 328.7h0M355 328.7h0M360.1 328.7h0M373.6 328.7h0M443.3 328.7h0M464.4 328.7h0M489.9 328.7h0M517.5 328.7h0M85.7 330.2h0M93.8 330.2h0M191.5 330.2h0M210.1 330.2h0M248.7 330.2h0M265.8 330.2h0M286.3 330.2h0M286.3 330.2h0M296.4 330.2h0M296.4 330.2h0M296.9 330.2h0M299.4 330.2h0M299.9 330.2h0M301.4 330.2h0M305.4 330.2h0M307.4 330.2h0M307.4 330.2h0M308.4 330.2h0M309.4 330.2h0M309.9 330.2h0M311.4 330.2h0M311.4 330.2h0M311.9 330.2h0M312.9 330.2h0M313.4 330.2h0M314.9 330.2h0M316.4 330.2h0M318.9 330.2h0M319.4 330.2h0M319.4 330.2h0M323.9 330.2h0M323.9 330.2h0M324.4 330.2h0M326 330.2h0M326 330.2h0M326.5 330.2h0M328 330.2h0M329.5 330.2h0M330 330.2h0M330 330.2h0M331 330.2h0M331 330.2h0M332 330.2h0M332.5 330.2h0M335 330.2h0M336 330.2h0M337 330.2h0M340.5 330.2h0M340.5 330.2h0M341 330.2h0M341 330.2h0M342.5 330.2h0M343.5 330.2h0M344.5 330.2h0M346.5 330.2h0M348 330.2h0M348.5 330.2h0M349 330.2h0M350 330.2h0M354 330.2h0M354.5 330.2h0M364.1 330.2h0M371.1 330.2h0M380.1 330.2h0M383.6 330.2h0M384.6 330.2h0M384.6 330.2h0M392.7 330.2h0M405.7 330.2h0M430.3 330.2h0M438.8 330.2h0M453.3 330.2h0M501 330.2h0M503.5 330.2h0M509 330.2h0M551.6 330.2h0M80.2 331.6h0M120.8 331.6h0M130.9 331.6h0M164.5 331.6h0M165.5 331.6h0M166.5 331.6h0M180.5 331.6h0M182.5 331.6h0M190 331.6h0M221.1 331.6h0M227.7 331.6h0M253.7 331.6h0M277.8 331.6h0M278.3 331.6h0M278.3 331.6h0M283.3 331.6h0M293.4 331.6h0M294.4 331.6h0M298.4 331.6h0M301.4 331.6h0M302.4 331.6h0M302.9 331.6h0M303.4 331.6h0M303.9 331.6h0M305.4 331.6h0M306.4 331.6h0M306.4 331.6h0M307.9 331.6h0M308.9 331.6h0M310.4 331.6h0M310.9 331.6h0M313.4 331.6h0M314.4 331.6h0M314.4 331.6h0M314.9 331.6h0M314.9 331.6h0M315.9 331.6h0M318.4 331.6h0M318.9 331.6h0M318.9 331.6h0M322.4 331.6h0M324.9 331.6h0M325.4 331.6h0M326.5 331.6h0M327 331.6h0M328 331.6h0M329.5 331.6h0M329.5 331.6h0M329.5 331.6h0M332.5 331.6h0M333 331.6h0M333 331.6h0M334.5 331.6h0M334.5 331.6h0M335 331.6h0M337 331.6h0M339 331.6h0M339.5 331.6h0M339.5 331.6h0M340.5 331.6h0M340.5 331.6h0M340.5 331.6h0M341.5 331.6h0M345 331.6h0M345 331.6h0M345.5 331.6h0M346 331.6h0M346 331.6h0M346.5 331.6h0M347 331.6h0M348 331.6h0M351 331.6h0M353.5 331.6h0M357 331.6h0M360.1 331.6h0M362.1 331.6h0M366.1 331.6h0M367.6 331.6h0M367.6 331.6h0M368.6 331.6h0M460.4 331.6h0M475.9 331.6h0M491.4 331.6h0M491.4 331.6h0M519 331.6h0M545.6 331.6h0M547.6 331.6h0M107.3 333.1h0M121.8 333.1h0M132.9 333.1h0M137.9 333.1h0M139.9 333.1h0M140.4 333.1h0M147.4 333.1h0M148.9 333.1h0M164 333.1h0M165 333.1h0M167 333.1h0M196.6 333.1h0M223.6 333.1h0M225.7 333.1h0M228.7 333.1h0M249.7 333.1h0M286.3 333.1h0M287.8 333.1h0M299.4 333.1h0M299.4 333.1h0M302.9 333.1h0M304.4 333.1h0M305.4 333.1h0M307.9 333.1h0M310.4 333.1h0M314.4 333.1h0M314.9 333.1h0M316.4 333.1h0M319.4 333.1h0M320.4 333.1h0M320.9 333.1h0M322.4 333.1h0M324.9 333.1h0M327 333.1h0M329 333.1h0M330 333.1h0M331 333.1h0M331 333.1h0M331.5 333.1h0M332 333.1h0M332.5 333.1h0M332.5 333.1h0M332.5 333.1h0M333 333.1h0M333.5 333.1h0M335.5 333.1h0M338.5 333.1h0M339 333.1h0M340.5 333.1h0M342 333.1h0M342 333.1h0M346.5 333.1h0M348 333.1h0M349 333.1h0M350.5 333.1h0M352 333.1h0M359.1 333.1h0M362.1 333.1h0M402.2 333.1h0M426.3 333.1h0M430.3 333.1h0M439.3 333.1h0M448.8 333.1h0M459.9 333.1h0M500 333.1h0M532.1 333.1h0M86.2 334.5h0M91.8 334.5h0M117.8 334.5h0M144.9 334.5h0M159.5 334.5h0M172 334.5h0M189.5 334.5h0M194.6 334.5h0M200.6 334.5h0M216.1 334.5h0M221.6 334.5h0M237.7 334.5h0M245.2 334.5h0M245.7 334.5h0M283.3 334.5h0M289.8 334.5h0M291.3 334.5h0M291.8 334.5h0M293.9 334.5h0M297.9 334.5h0M298.4 334.5h0M302.9 334.5h0M303.4 334.5h0M303.9 334.5h0M303.9 334.5h0M307.4 334.5h0M307.9 334.5h0M308.9 334.5h0M310.4 334.5h0M310.4 334.5h0M310.9 334.5h0M313.9 334.5h0M314.9 334.5h0M317.4 334.5h0M317.4 334.5h0M318.4 334.5h0M318.4 334.5h0M318.4 334.5h0M320.9 334.5h0M321.4 334.5h0M322.4 334.5h0M322.4 334.5h0M323.9 334.5h0M323.9 334.5h0M324.9 334.5h0M327.5 334.5h0M329 334.5h0M329.5 334.5h0M332.5 334.5h0M335.5 334.5h0M336.5 334.5h0M339.5 334.5h0M342 334.5h0M345.5 334.5h0M348.5 334.5h0M349 334.5h0M353 334.5h0M357 334.5h0M358 334.5h0M361.1 334.5h0M364.1 334.5h0M443.8 334.5h0M446.8 334.5h0M450.3 334.5h0M508.5 334.5h0M99.8 336h0M133.9 336h0M150.4 336h0M155.9 336h0M172 336h0M173 336h0M237.2 336h0M290.8 336h0M291.3 336h0M295.4 336h0M298.9 336h0M300.9 336h0M308.4 336h0M308.9 336h0M311.4 336h0M311.4 336h0M312.9 336h0M314.4 336h0M314.9 336h0M314.9 336h0M315.9 336h0M318.4 336h0M320.4 336h0M325.4 336h0M326.5 336h0M328 336h0M331 336h0M331 336h0M332.5 336h0M334 336h0M334.5 336h0M340.5 336h0M342.5 336h0M343.5 336h0M345.5 336h0M348.5 336h0M350.5 336h0M352 336h0M352 336h0M355.5 336h0M358.5 336h0M359.1 336h0M368.6 336h0M406.7 336h0M415.2 336h0M433.3 336h0M437.3 336h0M470.9 336h0M471.9 336h0M491.9 336h0M531.1 336h0M565.7 336h0M90.2 337.4h0M111.3 337.4h0M116.8 337.4h0M125.4 337.4h0M127.4 337.4h0M157.9 337.4h0M182.5 337.4h0M186 337.4h0M186 337.4h0M208.6 337.4h0M213.6 337.4h0M283.8 337.4h0M286.8 337.4h0M291.8 337.4h0M294.9 337.4h0M296.9 337.4h0M296.9 337.4h0M296.9 337.4h0M303.9 337.4h0M308.4 337.4h0M308.9 337.4h0M309.4 337.4h0M309.4 337.4h0M311.9 337.4h0M313.9 337.4h0M313.9 337.4h0M315.9 337.4h0M315.9 337.4h0M317.4 337.4h0M318.4 337.4h0M319.4 337.4h0M319.4 337.4h0M322.4 337.4h0M322.9 337.4h0M322.9 337.4h0M323.4 337.4h0M323.9 337.4h0M326.5 337.4h0M326.5 337.4h0M329 337.4h0M330 337.4h0M333.5 337.4h0M335 337.4h0M335 337.4h0M335.5 337.4h0M335.5 337.4h0M336 337.4h0M336 337.4h0M336.5 337.4h0M337 337.4h0M338 337.4h0M338.5 337.4h0M338.5 337.4h0M338.5 337.4h0M339 337.4h0M339.5 337.4h0M339.5 337.4h0M342 337.4h0M342 337.4h0M342.5 337.4h0M343.5 337.4h0M345.5 337.4h0M357 337.4h0M364.6 337.4h0M390.6 337.4h0M395.2 337.4h0M423.7 337.4h0M449.3 337.4h0M450.3 337.4h0M451.3 337.4h0M477.4 337.4h0M538.1 337.4h0M565.2 337.4h0M101.3 338.8h0M116.3 338.8h0M117.8 338.8h0M193.1 338.8h0M197.6 338.8h0M232.2 338.8h0M255.2 338.8h0M278.8 338.8h0M281.3 338.8h0M282.8 338.8h0M292.9 338.8h0M294.4 338.8h0M295.4 338.8h0M300.9 338.8h0M301.4 338.8h0M301.9 338.8h0M303.9 338.8h0M304.9 338.8h0M306.4 338.8h0M306.9 338.8h0M309.4 338.8h0M311.4 338.8h0M312.4 338.8h0M312.4 338.8h0M312.9 338.8h0M316.9 338.8h0M318.4 338.8h0M319.4 338.8h0M320.4 338.8h0M321.4 338.8h0M322.9 338.8h0M322.9 338.8h0M323.9 338.8h0M324.9 338.8h0M325.4 338.8h0M326 338.8h0M327.5 338.8h0M329 338.8h0M329 338.8h0M329.5 338.8h0M330.5 338.8h0M331 338.8h0M331.5 338.8h0M334.5 338.8h0M336.5 338.8h0M339.5 338.8h0M339.5 338.8h0M339.5 338.8h0M340 338.8h0M340.5 338.8h0M341 338.8h0M341 338.8h0M341 338.8h0M342.5 338.8h0M343 338.8h0M343 338.8h0M343 338.8h0M343.5 338.8h0M344 338.8h0M345 338.8h0M351 338.8h0M363.6 338.8h0M365.1 338.8h0M367.6 338.8h0M370.1 338.8h0M386.6 338.8h0M459.4 338.8h0M461.4 338.8h0M475.4 338.8h0M484.9 338.8h0M485.9 338.8h0M547.1 338.8h0M566.7 338.8h0M568.7 338.8h0M108.3 340.3h0M108.3 340.3h0M181.5 340.3h0M189 340.3h0M193.1 340.3h0M200.1 340.3h0M212.1 340.3h0M229.7 340.3h0M262.8 340.3h0M287.3 340.3h0M288.8 340.3h0M291.3 340.3h0M293.9 340.3h0M296.4 340.3h0M298.9 340.3h0M302.9 340.3h0M303.4 340.3h0M306.9 340.3h0M309.9 340.3h0M311.4 340.3h0M313.4 340.3h0M314.4 340.3h0M314.9 340.3h0M314.9 340.3h0M315.4 340.3h0M319.4 340.3h0M320.4 340.3h0M322.4 340.3h0M322.4 340.3h0M328.5 340.3h0M329.5 340.3h0M329.5 340.3h0M334 340.3h0M336 340.3h0M337.5 340.3h0M338.5 340.3h0M340.5 340.3h0M340.5 340.3h0M342.5 340.3h0M342.5 340.3h0M346.5 340.3h0M346.5 340.3h0M347.5 340.3h0M348.5 340.3h0M351 340.3h0M352 340.3h0M353.5 340.3h0M359.1 340.3h0M359.1 340.3h0M361.6 340.3h0M365.6 340.3h0M366.1 340.3h0M369.1 340.3h0M384.1 340.3h0M401.2 340.3h0M407.2 340.3h0M407.2 340.3h0M435.3 340.3h0M450.8 340.3h0M468.4 340.3h0M490.4 340.3h0M494 340.3h0M522 340.3h0M523 340.3h0M544.1 340.3h0M559.7 340.3h0M568.7 340.3h0M162 341.7h0M171 341.7h0M196.6 341.7h0M199.1 341.7h0M249.7 341.7h0M267.3 341.7h0M287.8 341.7h0M301.4 341.7h0M302.9 341.7h0M304.4 341.7h0M304.9 341.7h0M304.9 341.7h0M307.4 341.7h0M309.4 341.7h0M310.4 341.7h0M311.4 341.7h0M311.9 341.7h0M315.9 341.7h0M316.4 341.7h0M317.4 341.7h0M318.4 341.7h0M320.4 341.7h0M320.4 341.7h0M321.4 341.7h0M321.4 341.7h0M322.4 341.7h0M322.4 341.7h0M322.9 341.7h0M322.9 341.7h0M323.9 341.7h0M324.4 341.7h0M328.5 341.7h0M328.5 341.7h0M330 341.7h0M331 341.7h0M332 341.7h0M332.5 341.7h0M335.5 341.7h0M336.5 341.7h0M343 341.7h0M343.5 341.7h0M347 341.7h0M347 341.7h0M348 341.7h0M349 341.7h0M352.5 341.7h0M354.5 341.7h0M355 341.7h0M355 341.7h0M358.5 341.7h0M360.6 341.7h0M364.1 341.7h0M368.1 341.7h0M374.1 341.7h0M413.2 341.7h0M424.2 341.7h0M429.3 341.7h0M437.3 341.7h0M454.8 341.7h0M492.4 341.7h0M499 341.7h0M514 341.7h0M515.5 341.7h0M542.6 341.7h0M554.1 341.7h0M560.2 341.7h0M564.7 341.7h0M565.7 341.7h0M112.3 343.2h0M114.8 343.2h0M129.4 343.2h0M135.4 343.2h0M137.4 343.2h0M160.5 343.2h0M227.2 343.2h0M232.2 343.2h0M247.7 343.2h0M255.7 343.2h0M272.3 343.2h0M287.3 343.2h0M290.3 343.2h0M294.9 343.2h0M296.9 343.2h0M297.4 343.2h0M298.4 343.2h0M298.4 343.2h0M304.4 343.2h0M310.4 343.2h0M312.4 343.2h0M312.4 343.2h0M312.4 343.2h0M313.4 343.2h0M314.4 343.2h0M314.9 343.2h0M316.4 343.2h0M316.9 343.2h0M318.4 343.2h0M318.9 343.2h0M319.9 343.2h0M321.9 343.2h0M324.9 343.2h0M326 343.2h0M328 343.2h0M329.5 343.2h0M330 343.2h0M330.5 343.2h0M331 343.2h0M332.5 343.2h0M332.5 343.2h0M334 343.2h0M336.5 343.2h0M336.5 343.2h0M337 343.2h0M338.5 343.2h0M339 343.2h0M345.5 343.2h0M350.5 343.2h0M352 343.2h0M352.5 343.2h0M353 343.2h0M353.5 343.2h0M360.1 343.2h0M374.6 343.2h0M387.1 343.2h0M401.7 343.2h0M403.2 343.2h0M434.8 343.2h0M437.8 343.2h0M516 343.2h0M532.1 343.2h0M541.1 343.2h0M116.8 344.6h0M156.4 344.6h0M156.9 344.6h0M168 344.6h0M185.5 344.6h0M189.5 344.6h0M221.6 344.6h0M230.2 344.6h0M233.2 344.6h0M269.8 344.6h0M288.3 344.6h0M291.8 344.6h0M294.4 344.6h0M298.9 344.6h0M299.9 344.6h0M300.9 344.6h0M301.4 344.6h0M302.9 344.6h0M308.9 344.6h0M308.9 344.6h0M313.9 344.6h0M317.4 344.6h0M318.4 344.6h0M319.9 344.6h0M319.9 344.6h0M320.4 344.6h0M321.4 344.6h0M322.9 344.6h0M322.9 344.6h0M323.9 344.6h0M324.9 344.6h0M327 344.6h0M327.5 344.6h0M327.5 344.6h0M327.5 344.6h0M330.5 344.6h0M332 344.6h0M332 344.6h0M332 344.6h0M332.5 344.6h0M333.5 344.6h0M333.5 344.6h0M334.5 344.6h0M340.5 344.6h0M340.5 344.6h0M341 344.6h0M344 344.6h0M344 344.6h0M345 344.6h0M345 344.6h0M345.5 344.6h0M347 344.6h0M353 344.6h0M357.5 344.6h0M364.6 344.6h0M366.1 344.6h0M387.1 344.6h0M402.2 344.6h0M431.3 344.6h0M442.8 344.6h0M453.8 344.6h0M485.9 344.6h0M503.5 344.6h0M571.2 344.6h0M98.8 346.1h0M133.4 346.1h0M134.9 346.1h0M145.9 346.1h0M154.9 346.1h0M176 346.1h0M182 346.1h0M184 346.1h0M192.1 346.1h0M256.7 346.1h0M281.3 346.1h0M284.8 346.1h0M291.8 346.1h0M296.4 346.1h0M298.4 346.1h0M301.9 346.1h0M304.4 346.1h0M304.9 346.1h0M307.9 346.1h0M308.9 346.1h0M310.4 346.1h0M310.4 346.1h0M310.9 346.1h0M311.9 346.1h0M311.9 346.1h0M312.4 346.1h0M312.4 346.1h0M312.4 346.1h0M313.9 346.1h0M315.4 346.1h0M317.9 346.1h0M318.9 346.1h0M322.4 346.1h0M325.4 346.1h0M328.5 346.1h0M329 346.1h0M329.5 346.1h0M330.5 346.1h0M334.5 346.1h0M335 346.1h0M335.5 346.1h0M336 346.1h0M337 346.1h0M337 346.1h0M340 346.1h0M340 346.1h0M340.5 346.1h0M342 346.1h0M343.5 346.1h0M343.5 346.1h0M344 346.1h0M350.5 346.1h0M355 346.1h0M359.1 346.1h0M365.1 346.1h0M365.1 346.1h0M366.6 346.1h0M366.6 346.1h0M370.1 346.1h0M373.1 346.1h0M393.7 346.1h0M470.4 346.1h0M512.5 346.1h0M517.5 346.1h0M531.1 346.1h0M553.1 346.1h0M85.2 347.5h0M100.8 347.5h0M101.8 347.5h0M117.3 347.5h0M133.4 347.5h0M137.9 347.5h0M150.4 347.5h0M183.5 347.5h0M203.6 347.5h0M220.6 347.5h0M242.2 347.5h0M289.3 347.5h0M296.4 347.5h0M299.9 347.5h0M307.9 347.5h0M309.4 347.5h0M309.4 347.5h0M309.4 347.5h0M310.9 347.5h0M311.4 347.5h0M312.4 347.5h0M312.4 347.5h0M313.9 347.5h0M314.4 347.5h0M315.4 347.5h0M316.4 347.5h0M317.9 347.5h0M318.4 347.5h0M319.4 347.5h0M320.4 347.5h0M321.4 347.5h0M321.4 347.5h0M322.9 347.5h0M323.9 347.5h0M324.4 347.5h0M326 347.5h0M327.5 347.5h0M328 347.5h0M330 347.5h0M334.5 347.5h0M336.5 347.5h0M338 347.5h0M340.5 347.5h0M342 347.5h0M344 347.5h0M346 347.5h0M347 347.5h0M349.5 347.5h0M355.5 347.5h0M370.6 347.5h0M398.7 347.5h0M421.2 347.5h0M480.4 347.5h0M488.9 347.5h0M488.9 347.5h0M496.5 347.5h0M497 347.5h0M512.5 347.5h0M514.5 347.5h0M523 347.5h0M529.1 347.5h0M531.1 347.5h0M539.6 347.5h0M554.6 347.5h0M90.2 349h0M97.3 349h0M101.8 349h0M105.8 349h0M133.4 349h0M135.4 349h0M187 349h0M200.6 349h0M272.8 349h0M279.8 349h0M289.3 349h0M293.9 349h0M297.4 349h0M303.9 349h0M303.9 349h0M305.9 349h0M308.4 349h0M309.9 349h0M315.4 349h0M315.4 349h0M317.4 349h0M319.9 349h0M319.9 349h0M320.9 349h0M321.9 349h0M323.4 349h0M323.4 349h0M325.4 349h0M326 349h0M327.5 349h0M328 349h0M330.5 349h0M330.5 349h0M338.5 349h0M339.5 349h0M340 349h0M341.5 349h0M341.5 349h0M347 349h0M347 349h0M347 349h0M349 349h0M357.5 349h0M376.6 349h0M381.1 349h0M387.1 349h0M394.2 349h0M402.7 349h0M413.2 349h0M422.2 349h0M468.9 349h0M492.4 349h0M501.5 349h0M514.5 349h0M550.6 349h0M568.7 349h0M143.9 350.4h0M144.4 350.4h0M145.4 350.4h0M172.5 350.4h0M173 350.4h0M175 350.4h0M181.5 350.4h0M230.7 350.4h0M237.2 350.4h0M269.8 350.4h0M280.3 350.4h0M287.3 350.4h0M292.4 350.4h0M296.9 350.4h0M305.4 350.4h0M307.4 350.4h0M308.9 350.4h0M309.4 350.4h0M311.4 350.4h0M311.9 350.4h0M312.9 350.4h0M315.4 350.4h0M315.4 350.4h0M315.9 350.4h0M316.4 350.4h0M317.4 350.4h0M318.9 350.4h0M319.4 350.4h0M323.9 350.4h0M323.9 350.4h0M324.4 350.4h0M326 350.4h0M327 350.4h0M327 350.4h0M329 350.4h0M331 350.4h0M331 350.4h0M332 350.4h0M333 350.4h0M334 350.4h0M334.5 350.4h0M336.5 350.4h0M338 350.4h0M338 350.4h0M339 350.4h0M339 350.4h0M339.5 350.4h0M341.5 350.4h0M341.5 350.4h0M343.5 350.4h0M344.5 350.4h0M345 350.4h0M348.5 350.4h0M354.5 350.4h0M357.5 350.4h0M358 350.4h0M358.5 350.4h0M364.6 350.4h0M366.6 350.4h0M374.1 350.4h0M390.1 350.4h0M405.2 350.4h0M417.2 350.4h0M423.7 350.4h0M424.2 350.4h0M431.8 350.4h0M443.8 350.4h0M450.8 350.4h0M451.8 350.4h0M458.8 350.4h0M487.9 350.4h0M498 350.4h0M565.7 350.4h0M89.7 351.8h0M100.8 351.8h0M101.8 351.8h0M114.8 351.8h0M118.3 351.8h0M143.4 351.8h0M160 351.8h0M177.5 351.8h0M182 351.8h0M222.1 351.8h0M231.7 351.8h0M247.7 351.8h0M270.3 351.8h0M272.8 351.8h0M279.8 351.8h0M295.4 351.8h0M299.9 351.8h0M302.4 351.8h0M309.4 351.8h0M312.9 351.8h0M313.9 351.8h0M315.4 351.8h0M315.4 351.8h0M318.9 351.8h0M318.9 351.8h0M320.9 351.8h0M321.9 351.8h0M322.4 351.8h0M323.9 351.8h0M324.4 351.8h0M324.4 351.8h0M329.5 351.8h0M330 351.8h0M330.5 351.8h0M330.5 351.8h0M331 351.8h0M335.5 351.8h0M336.5 351.8h0M338 351.8h0M345.5 351.8h0M349 351.8h0M351 351.8h0M353 351.8h0M357 351.8h0M365.6 351.8h0M373.1 351.8h0M401.7 351.8h0M410.2 351.8h0M433.8 351.8h0M454.3 351.8h0M464.4 351.8h0M505 351.8h0M529.1 351.8h0M87.7 353.3h0M94.3 353.3h0M122.8 353.3h0M136.4 353.3h0M150.9 353.3h0M177.5 353.3h0M207.6 353.3h0M243.2 353.3h0M271.8 353.3h0M296.9 353.3h0M300.9 353.3h0M302.9 353.3h0M303.4 353.3h0M303.9 353.3h0M304.4 353.3h0M305.9 353.3h0M306.9 353.3h0M308.4 353.3h0M309.4 353.3h0M309.9 353.3h0M310.9 353.3h0M311.9 353.3h0M312.9 353.3h0M313.4 353.3h0M314.4 353.3h0M314.9 353.3h0M316.4 353.3h0M316.4 353.3h0M317.9 353.3h0M318.9 353.3h0M319.9 353.3h0M322.9 353.3h0M323.9 353.3h0M323.9 353.3h0M324.9 353.3h0M324.9 353.3h0M325.4 353.3h0M325.4 353.3h0M328.5 353.3h0M329 353.3h0M329.5 353.3h0M330 353.3h0M330.5 353.3h0M331.5 353.3h0M331.5 353.3h0M332 353.3h0M335 353.3h0M336 353.3h0M336.5 353.3h0M337 353.3h0M337.5 353.3h0M338.5 353.3h0M339.5 353.3h0M340.5 353.3h0M342 353.3h0M345 353.3h0M349.5 353.3h0M363.6 353.3h0M368.6 353.3h0M410.7 353.3h0M478.9 353.3h0M487.4 353.3h0M488.4 353.3h0M513 353.3h0M516 353.3h0M537.1 353.3h0M541.1 353.3h0M542.6 353.3h0M563.2 353.3h0M569.2 353.3h0M91.2 354.7h0M104.3 354.7h0M109.8 354.7h0M136.9 354.7h0M141.4 354.7h0M146.4 354.7h0M146.9 354.7h0M177 354.7h0M217.6 354.7h0M220.6 354.7h0M241.2 354.7h0M247.2 354.7h0M292.4 354.7h0M296.9 354.7h0M297.9 354.7h0M301.4 354.7h0M302.4 354.7h0M302.9 354.7h0M305.4 354.7h0M305.4 354.7h0M306.4 354.7h0M306.4 354.7h0M317.4 354.7h0M317.4 354.7h0M317.4 354.7h0M318.4 354.7h0M319.4 354.7h0M319.9 354.7h0M321.4 354.7h0M322.4 354.7h0M322.4 354.7h0M327 354.7h0M327.5 354.7h0M328.5 354.7h0M331.5 354.7h0M331.5 354.7h0M336 354.7h0M338.5 354.7h0M340.5 354.7h0M342 354.7h0M343 354.7h0M343 354.7h0M343.5 354.7h0M349 354.7h0M349 354.7h0M369.1 354.7h0M377.1 354.7h0M403.2 354.7h0M460.4 354.7h0M462.4 354.7h0M492.4 354.7h0M501 354.7h0M503 354.7h0M524 354.7h0M533.6 354.7h0M536.6 354.7h0M542.6 354.7h0M557.1 354.7h0M100.8 356.2h0M112.8 356.2h0M177 356.2h0M186 356.2h0M187.5 356.2h0M199.6 356.2h0M203.6 356.2h0M229.2 356.2h0M235.7 356.2h0M246.7 356.2h0M250.2 356.2h0M251.7 356.2h0M273.3 356.2h0M277.8 356.2h0M284.8 356.2h0M298.4 356.2h0M298.9 356.2h0M300.4 356.2h0M300.9 356.2h0M302.4 356.2h0M307.9 356.2h0M308.9 356.2h0M308.9 356.2h0M308.9 356.2h0M309.9 356.2h0M310.9 356.2h0M317.4 356.2h0M317.4 356.2h0M318.9 356.2h0M321.9 356.2h0M322.4 356.2h0M323.4 356.2h0M324.9 356.2h0M325.4 356.2h0M327 356.2h0M327 356.2h0M328 356.2h0M328 356.2h0M328 356.2h0M329 356.2h0M329 356.2h0M330 356.2h0M331.5 356.2h0M332.5 356.2h0M334.5 356.2h0M335 356.2h0M337 356.2h0M338.5 356.2h0M338.5 356.2h0M339 356.2h0M339 356.2h0M340.5 356.2h0M341 356.2h0M342.5 356.2h0M344.5 356.2h0M345 356.2h0M351.5 356.2h0M352 356.2h0M365.1 356.2h0M404.2 356.2h0M442.8 356.2h0M465.4 356.2h0M472.4 356.2h0M480.4 356.2h0M529.6 356.2h0M534.1 356.2h0M561.7 356.2h0M564.7 356.2h0M88.2 357.6h0M126.4 357.6h0M127.4 357.6h0M130.9 357.6h0M131.4 357.6h0M132.9 357.6h0M154.4 357.6h0M156.4 357.6h0M201.6 357.6h0M261.8 357.6h0M276.3 357.6h0M284.3 357.6h0M288.8 357.6h0M300.9 357.6h0M304.9 357.6h0M304.9 357.6h0M306.9 357.6h0M311.9 357.6h0M312.4 357.6h0M312.9 357.6h0M312.9 357.6h0M315.9 357.6h0M317.4 357.6h0M318.4 357.6h0M319.4 357.6h0M321.9 357.6h0M322.4 357.6h0M328.5 357.6h0M328.5 357.6h0M333 357.6h0M333 357.6h0M333 357.6h0M334.5 357.6h0M337 357.6h0M340 357.6h0M341 357.6h0M345 357.6h0M345 357.6h0M345.5 357.6h0M346.5 357.6h0M346.5 357.6h0M346.5 357.6h0M348 357.6h0M348.5 357.6h0M350 357.6h0M356 357.6h0M362.1 357.6h0M363.1 357.6h0M364.1 357.6h0M366.6 357.6h0M409.2 357.6h0M418.2 357.6h0M447.3 357.6h0M451.8 357.6h0M451.8 357.6h0M460.9 357.6h0M465.4 357.6h0M481.9 357.6h0M482.9 357.6h0M495 357.6h0M496 357.6h0M539.6 357.6h0M549.1 357.6h0M565.2 357.6h0M569.7 357.6h0M80.7 359.1h0M99.8 359.1h0M124.3 359.1h0M144.4 359.1h0M148.9 359.1h0M150.9 359.1h0M151.9 359.1h0M192.1 359.1h0M223.1 359.1h0M224.1 359.1h0M226.7 359.1h0M253.7 359.1h0M259.8 359.1h0M276.3 359.1h0M288.8 359.1h0M294.9 359.1h0M296.4 359.1h0M305.9 359.1h0M306.9 359.1h0M308.4 359.1h0M309.4 359.1h0M310.4 359.1h0M313.9 359.1h0M314.4 359.1h0M315.4 359.1h0M316.9 359.1h0M316.9 359.1h0M316.9 359.1h0M319.9 359.1h0M322.4 359.1h0M322.4 359.1h0M322.4 359.1h0M322.4 359.1h0M322.9 359.1h0M324.4 359.1h0M324.4 359.1h0M324.9 359.1h0M326 359.1h0M327.5 359.1h0M328.5 359.1h0M331.5 359.1h0M338 359.1h0M340.5 359.1h0M342 359.1h0M347.5 359.1h0M349.5 359.1h0M374.6 359.1h0M379.6 359.1h0M403.2 359.1h0M425.2 359.1h0M440.8 359.1h0M460.9 359.1h0M480.9 359.1h0M491.9 359.1h0M503 359.1h0M506.5 359.1h0M510 359.1h0M530.1 359.1h0M540.1 359.1h0M546.1 359.1h0M554.1 359.1h0M98.8 360.5h0M121.3 360.5h0M151.9 360.5h0M200.6 360.5h0M204.1 360.5h0M225.7 360.5h0M277.8 360.5h0M279.8 360.5h0M296.4 360.5h0M302.9 360.5h0M304.4 360.5h0M307.9 360.5h0M311.9 360.5h0M312.4 360.5h0M313.4 360.5h0M314.9 360.5h0M316.9 360.5h0M317.9 360.5h0M318.4 360.5h0M318.4 360.5h0M319.4 360.5h0M320.4 360.5h0M322.9 360.5h0M322.9 360.5h0M328.5 360.5h0M329 360.5h0M330.5 360.5h0M334.5 360.5h0M335.5 360.5h0M336 360.5h0M337.5 360.5h0M342 360.5h0M344 360.5h0M345 360.5h0M345.5 360.5h0M347 360.5h0M350 360.5h0M365.1 360.5h0M365.6 360.5h0M377.1 360.5h0M389.1 360.5h0M453.8 360.5h0M474.4 360.5h0M478.9 360.5h0M92.3 362h0M95.8 362h0M118.3 362h0M197.6 362h0M223.6 362h0M227.2 362h0M231.7 362h0M254.2 362h0M270.3 362h0M276.3 362h0M283.3 362h0M284.3 362h0M295.4 362h0M299.4 362h0M299.9 362h0M301.4 362h0M301.9 362h0M304.4 362h0M306.9 362h0M306.9 362h0M306.9 362h0M314.9 362h0M315.9 362h0M315.9 362h0M320.4 362h0M328.5 362h0M330.5 362h0M333 362h0M334.5 362h0M334.5 362h0M336.5 362h0M343.5 362h0M345.5 362h0M345.5 362h0M347.5 362h0M347.5 362h0M348 362h0M349.5 362h0M352.5 362h0M361.1 362h0M364.1 362h0M372.6 362h0M382.6 362h0M396.7 362h0M420.7 362h0M428.3 362h0M451.3 362h0M483.4 362h0M527.6 362h0M545.6 362h0M569.7 362h0M83.7 363.4h0M103.8 363.4h0M113.3 363.4h0M134.9 363.4h0M140.9 363.4h0M154.4 363.4h0M176.5 363.4h0M196.6 363.4h0M227.2 363.4h0M227.2 363.4h0M252.7 363.4h0M253.2 363.4h0M258.8 363.4h0M285.3 363.4h0M296.4 363.4h0M297.4 363.4h0M299.4 363.4h0M300.9 363.4h0M302.4 363.4h0M304.9 363.4h0M306.9 363.4h0M307.9 363.4h0M310.9 363.4h0M313.9 363.4h0M315.4 363.4h0M317.4 363.4h0M317.9 363.4h0M318.4 363.4h0M318.9 363.4h0M322.4 363.4h0M322.4 363.4h0M323.9 363.4h0M324.4 363.4h0M324.9 363.4h0M328.5 363.4h0M330.5 363.4h0M331 363.4h0M336.5 363.4h0M337 363.4h0M338.5 363.4h0M339 363.4h0M340.5 363.4h0M349 363.4h0M349.5 363.4h0M350 363.4h0M354 363.4h0M355 363.4h0M359.6 363.4h0M376.1 363.4h0M390.1 363.4h0M390.6 363.4h0M400.2 363.4h0M422.2 363.4h0M446.3 363.4h0M454.8 363.4h0M513.5 363.4h0M539.6 363.4h0M541.6 363.4h0M564.7 363.4h0M148.4 364.8h0M173 364.8h0M225.2 364.8h0M244.2 364.8h0M245.7 364.8h0M246.7 364.8h0M248.2 364.8h0M253.2 364.8h0M282.3 364.8h0M294.9 364.8h0M300.9 364.8h0M301.9 364.8h0M309.4 364.8h0M309.4 364.8h0M309.9 364.8h0M310.9 364.8h0M311.4 364.8h0M312.9 364.8h0M314.4 364.8h0M314.4 364.8h0M315.9 364.8h0M317.4 364.8h0M317.9 364.8h0M318.4 364.8h0M319.4 364.8h0M319.9 364.8h0M320.4 364.8h0M320.4 364.8h0M320.9 364.8h0M325.4 364.8h0M327.5 364.8h0M328 364.8h0M328 364.8h0M329 364.8h0M330 364.8h0M330 364.8h0M330.5 364.8h0M332 364.8h0M332 364.8h0M332 364.8h0M332 364.8h0M333 364.8h0M335 364.8h0M335.5 364.8h0M339.5 364.8h0M344.5 364.8h0M347 364.8h0M350.5 364.8h0M355.5 364.8h0M365.1 364.8h0M374.6 364.8h0M387.1 364.8h0M401.7 364.8h0M425.8 364.8h0M437.3 364.8h0M444.8 364.8h0M458.8 364.8h0M488.9 364.8h0M492.4 364.8h0M518 364.8h0M540.1 364.8h0M543.1 364.8h0M79.2 366.3h0M113.8 366.3h0M115.8 366.3h0M122.8 366.3h0M141.9 366.3h0M157.4 366.3h0M168.5 366.3h0M171.5 366.3h0M194.6 366.3h0M228.2 366.3h0M259.3 366.3h0M271.8 366.3h0M279.3 366.3h0M298.4 366.3h0M312.4 366.3h0M313.9 366.3h0M315.4 366.3h0M316.4 366.3h0M316.9 366.3h0M318.4 366.3h0M318.9 366.3h0M318.9 366.3h0M319.4 366.3h0M320.4 366.3h0M320.9 366.3h0M320.9 366.3h0M322.9 366.3h0M324.9 366.3h0M327 366.3h0M328.5 366.3h0M329.5 366.3h0M335 366.3h0M336 366.3h0M339.5 366.3h0M340.5 366.3h0M341.5 366.3h0M342 366.3h0M342.5 366.3h0M344 366.3h0M344.5 366.3h0M344.5 366.3h0M347 366.3h0M347 366.3h0M349 366.3h0M360.6 366.3h0M378.1 366.3h0M398.2 366.3h0M409.2 366.3h0M415.2 366.3h0M437.3 366.3h0M468.4 366.3h0M471.4 366.3h0M498.5 366.3h0M515.5 366.3h0M516 366.3h0M518 366.3h0M523 366.3h0M549.6 366.3h0M560.7 366.3h0M562.2 366.3h0M86.7 367.7h0M138.4 367.7h0M139.9 367.7h0M190.5 367.7h0M199.1 367.7h0M209.6 367.7h0M222.1 367.7h0M228.2 367.7h0M243.7 367.7h0M284.3 367.7h0M285.8 367.7h0M295.9 367.7h0M297.4 367.7h0M298.4 367.7h0M300.4 367.7h0M303.9 367.7h0M306.4 367.7h0M316.4 367.7h0M316.4 367.7h0M316.4 367.7h0M319.4 367.7h0M319.9 367.7h0M320.4 367.7h0M324.4 367.7h0M327 367.7h0M327.5 367.7h0M329.5 367.7h0M330 367.7h0M336.5 367.7h0M339 367.7h0M339 367.7h0M341.5 367.7h0M341.5 367.7h0M342 367.7h0M345.5 367.7h0M359.6 367.7h0M360.1 367.7h0M370.1 367.7h0M390.6 367.7h0M396.2 367.7h0M440.8 367.7h0M443.3 367.7h0M452.3 367.7h0M518.5 367.7h0M549.1 367.7h0M109.3 369.2h0M135.4 369.2h0M154.9 369.2h0M188 369.2h0M203.6 369.2h0M206.6 369.2h0M254.7 369.2h0M272.8 369.2h0M290.3 369.2h0M295.4 369.2h0M304.9 369.2h0M305.4 369.2h0M306.4 369.2h0M306.4 369.2h0M307.9 369.2h0M308.9 369.2h0M309.4 369.2h0M311.4 369.2h0M314.9 369.2h0M314.9 369.2h0M317.9 369.2h0M318.4 369.2h0M321.9 369.2h0M322.9 369.2h0M323.9 369.2h0M332.5 369.2h0M335 369.2h0M336.5 369.2h0M337.5 369.2h0M338 369.2h0M338 369.2h0M341.5 369.2h0M345.5 369.2h0M346.5 369.2h0M349 369.2h0M350 369.2h0M350.5 369.2h0M351 369.2h0M371.6 369.2h0M378.1 369.2h0M392.1 369.2h0M396.2 369.2h0M400.7 369.2h0M460.9 369.2h0M480.4 369.2h0M496 369.2h0M507 369.2h0M516.5 369.2h0M520.5 369.2h0M88.7 370.6h0M121.8 370.6h0M133.4 370.6h0M160 370.6h0M182 370.6h0M195.6 370.6h0M201.1 370.6h0M235.2 370.6h0M238.7 370.6h0M263.8 370.6h0M287.8 370.6h0M296.9 370.6h0M302.4 370.6h0M312.4 370.6h0M313.9 370.6h0M313.9 370.6h0M316.4 370.6h0M319.9 370.6h0M327.5 370.6h0M328 370.6h0M332 370.6h0M332.5 370.6h0M335 370.6h0M335 370.6h0M337 370.6h0M338.5 370.6h0M344.5 370.6h0M345 370.6h0M353 370.6h0M356 370.6h0M356 370.6h0M363.1 370.6h0M391.1 370.6h0M401.2 370.6h0M432.3 370.6h0M440.3 370.6h0M488.4 370.6h0M516.5 370.6h0M535.1 370.6h0M549.6 370.6h0M554.6 370.6h0M97.8 372.1h0M116.3 372.1h0M123.3 372.1h0M123.8 372.1h0M124.3 372.1h0M164.5 372.1h0M167 372.1h0M178 372.1h0M189 372.1h0M197.1 372.1h0M211.6 372.1h0M219.6 372.1h0M224.1 372.1h0M229.7 372.1h0M233.2 372.1h0M247.7 372.1h0M273.3 372.1h0M286.8 372.1h0M292.4 372.1h0M298.4 372.1h0M302.4 372.1h0M306.4 372.1h0M307.4 372.1h0M311.4 372.1h0M311.9 372.1h0M311.9 372.1h0M313.9 372.1h0M316.4 372.1h0M316.4 372.1h0M316.9 372.1h0M317.4 372.1h0M318.4 372.1h0M321.4 372.1h0M321.9 372.1h0M322.4 372.1h0M328 372.1h0M329 372.1h0M329.5 372.1h0M331 372.1h0M332 372.1h0M332 372.1h0M334.5 372.1h0M336.5 372.1h0M340 372.1h0M347.5 372.1h0M366.1 372.1h0M378.6 372.1h0M425.8 372.1h0M434.8 372.1h0M470.9 372.1h0M479.9 372.1h0M480.4 372.1h0M485.4 372.1h0M488.4 372.1h0M489.9 372.1h0M491.4 372.1h0M499 372.1h0M508.5 372.1h0M516 372.1h0M523 372.1h0M526.6 372.1h0M526.6 372.1h0M556.6 372.1h0M557.6 372.1h0M88.2 373.5h0M90.7 373.5h0M94.3 373.5h0M118.3 373.5h0M119.3 373.5h0M119.8 373.5h0M156.9 373.5h0M182 373.5h0M187.5 373.5h0M195.6 373.5h0M198.6 373.5h0M208.1 373.5h0M250.7 373.5h0M263.8 373.5h0M265.3 373.5h0M284.8 373.5h0M287.3 373.5h0M287.8 373.5h0M295.4 373.5h0M297.9 373.5h0M299.9 373.5h0M306.9 373.5h0M307.9 373.5h0M310.4 373.5h0M310.4 373.5h0M311.9 373.5h0M314.4 373.5h0M314.9 373.5h0M318.9 373.5h0M319.4 373.5h0M319.4 373.5h0M320.4 373.5h0M320.4 373.5h0M320.9 373.5h0M321.4 373.5h0M323.4 373.5h0M325.4 373.5h0M330 373.5h0M330.5 373.5h0M333.5 373.5h0M337 373.5h0M337.5 373.5h0M339 373.5h0M340 373.5h0M343 373.5h0M345 373.5h0M345.5 373.5h0M347 373.5h0M373.1 373.5h0M396.2 373.5h0M398.2 373.5h0M421.2 373.5h0M444.8 373.5h0M453.8 373.5h0M476.4 373.5h0M494 373.5h0M528.6 373.5h0M543.1 373.5h0M544.1 373.5h0M551.1 373.5h0M80.7 375h0M92.8 375h0M94.8 375h0M119.8 375h0M122.8 375h0M139.4 375h0M163.5 375h0M167.5 375h0M225.7 375h0M231.2 375h0M264.3 375h0M268.3 375h0M285.3 375h0M296.9 375h0M297.4 375h0M301.9 375h0M307.9 375h0M308.4 375h0M310.4 375h0M311.4 375h0M311.9 375h0M313.4 375h0M315.9 375h0M322.4 375h0M324.9 375h0M324.9 375h0M326.5 375h0M328 375h0M329 375h0M340.5 375h0M341.5 375h0M343.5 375h0M346.5 375h0M347.5 375h0M349 375h0M368.1 375h0M375.6 375h0M396.7 375h0M409.7 375h0M425.2 375h0M426.3 375h0M440.3 375h0M476.4 375h0M488.4 375h0M85.7 376.4h0M93.8 376.4h0M128.9 376.4h0M129.9 376.4h0M130.4 376.4h0M131.9 376.4h0M145.9 376.4h0M192.6 376.4h0M247.7 376.4h0M251.2 376.4h0M257.7 376.4h0M279.3 376.4h0M292.9 376.4h0M296.4 376.4h0M297.4 376.4h0M306.9 376.4h0M307.4 376.4h0M307.4 376.4h0M309.4 376.4h0M314.9 376.4h0M316.4 376.4h0M324.4 376.4h0M329 376.4h0M329 376.4h0M331 376.4h0M333 376.4h0M335 376.4h0M338.5 376.4h0M339.5 376.4h0M343.5 376.4h0M354 376.4h0M354.5 376.4h0M362.1 376.4h0M375.6 376.4h0M386.1 376.4h0M391.6 376.4h0M394.2 376.4h0M406.7 376.4h0M440.3 376.4h0M442.8 376.4h0M457.3 376.4h0M479.9 376.4h0M511.5 376.4h0M515.5 376.4h0M525.5 376.4h0M527.1 376.4h0M567.2 376.4h0M88.7 377.8h0M149.9 377.8h0M192.1 377.8h0M200.6 377.8h0M207.1 377.8h0M231.7 377.8h0M253.2 377.8h0M292.4 377.8h0M293.4 377.8h0M296.4 377.8h0M302.4 377.8h0M303.4 377.8h0M306.9 377.8h0M308.9 377.8h0M311.4 377.8h0M311.9 377.8h0M313.4 377.8h0M313.4 377.8h0M313.9 377.8h0M314.4 377.8h0M316.9 377.8h0M318.4 377.8h0M319.9 377.8h0M320.4 377.8h0M321.4 377.8h0M321.9 377.8h0M322.9 377.8h0M322.9 377.8h0M324.4 377.8h0M324.9 377.8h0M324.9 377.8h0M325.4 377.8h0M330 377.8h0M333 377.8h0M333 377.8h0M336 377.8h0M336.5 377.8h0M336.5 377.8h0M338.5 377.8h0M339.5 377.8h0M364.6 377.8h0M368.6 377.8h0M370.6 377.8h0M395.7 377.8h0M413.7 377.8h0M414.2 377.8h0M415.7 377.8h0M447.8 377.8h0M451.3 377.8h0M458.3 377.8h0M469.4 377.8h0M485.4 377.8h0M485.9 377.8h0M491.9 377.8h0M541.6 377.8h0M556.6 377.8h0M561.7 377.8h0M117.8 379.3h0M146.9 379.3h0M255.2 379.3h0M258.2 379.3h0M272.8 379.3h0M276.3 379.3h0M288.3 379.3h0M296.4 379.3h0M302.4 379.3h0M303.9 379.3h0M304.9 379.3h0M305.9 379.3h0M305.9 379.3h0M308.9 379.3h0M313.4 379.3h0M313.9 379.3h0M321.4 379.3h0M323.4 379.3h0M326.5 379.3h0M328.5 379.3h0M329 379.3h0M332 379.3h0M334 379.3h0M334.5 379.3h0M335.5 379.3h0M338 379.3h0M339 379.3h0M340 379.3h0M343.5 379.3h0M347.5 379.3h0M359.6 379.3h0M362.1 379.3h0M365.6 379.3h0M368.1 379.3h0M380.1 379.3h0M422.7 379.3h0M425.8 379.3h0M456.8 379.3h0M465.9 379.3h0M478.9 379.3h0M483.9 379.3h0M505.5 379.3h0M522.5 379.3h0M529.6 379.3h0M542.1 379.3h0M556.1 379.3h0M564.7 379.3h0M99.8 380.7h0M106.8 380.7h0M121.8 380.7h0M144.4 380.7h0M154.4 380.7h0M183.5 380.7h0M195.1 380.7h0M227.2 380.7h0M310.9 380.7h0M311.9 380.7h0M313.4 380.7h0M316.4 380.7h0M317.9 380.7h0M320.4 380.7h0M328 380.7h0M332 380.7h0M332.5 380.7h0M334.5 380.7h0M337 380.7h0M339 380.7h0M340 380.7h0M341 380.7h0M345 380.7h0M346.5 380.7h0M366.6 380.7h0M429.3 380.7h0M447.8 380.7h0M473.9 380.7h0M518 380.7h0M550.1 380.7h0M551.1 380.7h0M79.7 382.2h0M82.2 382.2h0M110.3 382.2h0M152.9 382.2h0M160 382.2h0M169.5 382.2h0M182 382.2h0M211.6 382.2h0M234.2 382.2h0M244.7 382.2h0M280.8 382.2h0M302.4 382.2h0M302.4 382.2h0M306.9 382.2h0M308.9 382.2h0M311.9 382.2h0M312.4 382.2h0M312.4 382.2h0M313.4 382.2h0M314.4 382.2h0M314.4 382.2h0M315.4 382.2h0M315.9 382.2h0M322.9 382.2h0M322.9 382.2h0M325.4 382.2h0M330 382.2h0M332 382.2h0M334.5 382.2h0M342 382.2h0M342.5 382.2h0M346 382.2h0M346 382.2h0M347.5 382.2h0M365.6 382.2h0M369.6 382.2h0M418.7 382.2h0M426.3 382.2h0M432.8 382.2h0M434.3 382.2h0M456.3 382.2h0M480.9 382.2h0M482.4 382.2h0M488.4 382.2h0M490.4 382.2h0M506 382.2h0M526 382.2h0M531.1 382.2h0M544.6 382.2h0M80.7 383.6h0M94.3 383.6h0M108.3 383.6h0M173 383.6h0M208.6 383.6h0M217.6 383.6h0M224.1 383.6h0M260.8 383.6h0M273.8 383.6h0M277.3 383.6h0M279.3 383.6h0M279.3 383.6h0M289.3 383.6h0M302.4 383.6h0M307.9 383.6h0M308.9 383.6h0M309.4 383.6h0M309.9 383.6h0M310.9 383.6h0M310.9 383.6h0M311.4 383.6h0M316.4 383.6h0M318.9 383.6h0M323.9 383.6h0M324.9 383.6h0M327.5 383.6h0M330 383.6h0M332.5 383.6h0M336 383.6h0M336.5 383.6h0M344.5 383.6h0M347 383.6h0M352 383.6h0M357 383.6h0M359.6 383.6h0M361.6 383.6h0M368.1 383.6h0M378.1 383.6h0M385.1 383.6h0M388.6 383.6h0M395.2 383.6h0M456.8 383.6h0M467.4 383.6h0M533.6 383.6h0M540.1 383.6h0M555.6 383.6h0M86.7 385.1h0M87.2 385.1h0M117.8 385.1h0M142.9 385.1h0M148.4 385.1h0M149.9 385.1h0M150.9 385.1h0M191 385.1h0M207.1 385.1h0M211.1 385.1h0M215.1 385.1h0M220.1 385.1h0M225.7 385.1h0M252.2 385.1h0M267.8 385.1h0M288.3 385.1h0M294.9 385.1h0M298.9 385.1h0M299.4 385.1h0M311.4 385.1h0M313.4 385.1h0M315.4 385.1h0M316.9 385.1h0M316.9 385.1h0M318.4 385.1h0M318.9 385.1h0M321.4 385.1h0M323.9 385.1h0M328.5 385.1h0M332.5 385.1h0M342 385.1h0M344.5 385.1h0M361.1 385.1h0M363.1 385.1h0M364.6 385.1h0M391.1 385.1h0M398.2 385.1h0M399.2 385.1h0M415.2 385.1h0M428.3 385.1h0M437.8 385.1h0M467.9 385.1h0M489.9 385.1h0M498.5 385.1h0M528.6 385.1h0M529.6 385.1h0M138.9 386.5h0M179 386.5h0M179.5 386.5h0M183.5 386.5h0M198.1 386.5h0M207.1 386.5h0M248.2 386.5h0M266.8 386.5h0M284.8 386.5h0M284.8 386.5h0M293.9 386.5h0M305.9 386.5h0M314.9 386.5h0M316.4 386.5h0M316.4 386.5h0M320.4 386.5h0M321.9 386.5h0M322.4 386.5h0M323.9 386.5h0M324.9 386.5h0M326 386.5h0M327 386.5h0M337.5 386.5h0M343.5 386.5h0M344.5 386.5h0M347.5 386.5h0M347.5 386.5h0M360.6 386.5h0M387.1 386.5h0M405.7 386.5h0M411.2 386.5h0M416.7 386.5h0M421.2 386.5h0M434.8 386.5h0M451.3 386.5h0M488.4 386.5h0M520.5 386.5h0M80.7 388h0M82.7 388h0M104.3 388h0M113.3 388h0M157.9 388h0M165 388h0M179 388h0M215.1 388h0M254.2 388h0M254.2 388h0M270.3 388h0M276.3 388h0M287.3 388h0M304.4 388h0M307.4 388h0M307.4 388h0M308.4 388h0M314.4 388h0M314.9 388h0M316.9 388h0M319.9 388h0M319.9 388h0M320.9 388h0M326.5 388h0M328.5 388h0M331 388h0M345.5 388h0M346 388h0M358 388h0M358.5 388h0M360.6 388h0M362.6 388h0M370.6 388h0M403.2 388h0M406.2 388h0M414.7 388h0M424.2 388h0M437.8 388h0M446.3 388h0M455.8 388h0M526 388h0M531.6 388h0M547.1 388h0M557.6 388h0M558.1 388h0M119.8 389.4h0M145.9 389.4h0M159 389.4h0M179 389.4h0M193.1 389.4h0M230.2 389.4h0M244.2 389.4h0M280.8 389.4h0M292.9 389.4h0M304.9 389.4h0M308.4 389.4h0M314.4 389.4h0M315.4 389.4h0M316.4 389.4h0M317.4 389.4h0M320.4 389.4h0M322.4 389.4h0M322.9 389.4h0M323.4 389.4h0M323.9 389.4h0M328 389.4h0M330 389.4h0M333.5 389.4h0M339.5 389.4h0M349 389.4h0M354 389.4h0M359.1 389.4h0M362.6 389.4h0M366.1 389.4h0M368.6 389.4h0M370.1 389.4h0M370.6 389.4h0M385.1 389.4h0M393.2 389.4h0M429.3 389.4h0M449.3 389.4h0M464.4 389.4h0M498.5 389.4h0M506 389.4h0M536.6 389.4h0M547.6 389.4h0M565.7 389.4h0M83.7 390.8h0M87.7 390.8h0M98.8 390.8h0M99.3 390.8h0M119.8 390.8h0M123.3 390.8h0M146.4 390.8h0M222.6 390.8h0M232.7 390.8h0M244.2 390.8h0M278.3 390.8h0M301.9 390.8h0M309.4 390.8h0M321.4 390.8h0M326.5 390.8h0M335.5 390.8h0M337 390.8h0M337.5 390.8h0M338 390.8h0M341 390.8h0M342 390.8h0M344.5 390.8h0M346.5 390.8h0M364.6 390.8h0M394.2 390.8h0M398.7 390.8h0M418.7 390.8h0M425.8 390.8h0M453.3 390.8h0M467.9 390.8h0M479.9 390.8h0M482.9 390.8h0M488.4 390.8h0M498 390.8h0M511.5 390.8h0M514 390.8h0M108.3 392.3h0M121.3 392.3h0M132.9 392.3h0M150.9 392.3h0M152.9 392.3h0M175 392.3h0M180 392.3h0M196.6 392.3h0M197.1 392.3h0M230.7 392.3h0M262.8 392.3h0M264.8 392.3h0M270.3 392.3h0M291.3 392.3h0M306.9 392.3h0M309.9 392.3h0M310.9 392.3h0M315.9 392.3h0M318.9 392.3h0M321.4 392.3h0M333 392.3h0M338.5 392.3h0M338.5 392.3h0M339 392.3h0M343.5 392.3h0M346 392.3h0M358 392.3h0M364.6 392.3h0M381.6 392.3h0M406.7 392.3h0M442.3 392.3h0M484.9 392.3h0M487.9 392.3h0M502.5 392.3h0M523 392.3h0M558.6 392.3h0M118.8 393.7h0M142.4 393.7h0M144.9 393.7h0M154.4 393.7h0M158.5 393.7h0M159 393.7h0M177 393.7h0M200.1 393.7h0M228.2 393.7h0M250.2 393.7h0M284.8 393.7h0M286.3 393.7h0M299.9 393.7h0M302.9 393.7h0M310.9 393.7h0M314.9 393.7h0M315.4 393.7h0M315.4 393.7h0M320.9 393.7h0M321.9 393.7h0M326 393.7h0M334 393.7h0M334.5 393.7h0M340.5 393.7h0M341 393.7h0M344 393.7h0M353 393.7h0M353 393.7h0M355 393.7h0M361.6 393.7h0M361.6 393.7h0M368.6 393.7h0M382.6 393.7h0M401.7 393.7h0M414.7 393.7h0M452.3 393.7h0M452.3 393.7h0M456.3 393.7h0M480.4 393.7h0M485.4 393.7h0M490.4 393.7h0M523.5 393.7h0M84.2 395.2h0M88.2 395.2h0M93.8 395.2h0M94.3 395.2h0M98.8 395.2h0M119.3 395.2h0M122.3 395.2h0M128.9 395.2h0M133.9 395.2h0M155.4 395.2h0M159.5 395.2h0M189.5 395.2h0M190 395.2h0M211.1 395.2h0M229.2 395.2h0M232.2 395.2h0M246.2 395.2h0M248.7 395.2h0M257.7 395.2h0M261.8 395.2h0M262.8 395.2h0M263.8 395.2h0M287.3 395.2h0M297.9 395.2h0M298.4 395.2h0M299.4 395.2h0M303.4 395.2h0M305.9 395.2h0M307.4 395.2h0M313.9 395.2h0M325.4 395.2h0M330.5 395.2h0M335 395.2h0M344.5 395.2h0M345.5 395.2h0M350.5 395.2h0M380.6 395.2h0M383.6 395.2h0M400.7 395.2h0M416.2 395.2h0M443.8 395.2h0M453.3 395.2h0M473.4 395.2h0M497 395.2h0M539.6 395.2h0M545.6 395.2h0M556.1 395.2h0M569.2 395.2h0M109.8 396.6h0M172 396.6h0M211.1 396.6h0M222.6 396.6h0M233.7 396.6h0M242.7 396.6h0M245.7 396.6h0M255.7 396.6h0M302.4 396.6h0M303.9 396.6h0M305.4 396.6h0M309.9 396.6h0M312.4 396.6h0M317.9 396.6h0M318.4 396.6h0M319.9 396.6h0M322.9 396.6h0M323.4 396.6h0M327 396.6h0M330 396.6h0M333 396.6h0M337 396.6h0M338 396.6h0M340 396.6h0M343 396.6h0M344 396.6h0M359.6 396.6h0M390.1 396.6h0M398.2 396.6h0M399.2 396.6h0M425.8 396.6h0M428.8 396.6h0M435.3 396.6h0M439.8 396.6h0M446.8 396.6h0M448.3 396.6h0M504 396.6h0M505.5 396.6h0M512.5 396.6h0M514 396.6h0M519.5 396.6h0M549.1 396.6h0M109.8 398.1h0M131.9 398.1h0M155.4 398.1h0M174.5 398.1h0M186 398.1h0M207.1 398.1h0M213.6 398.1h0M252.7 398.1h0M262.3 398.1h0M263.3 398.1h0M265.3 398.1h0M279.8 398.1h0M281.3 398.1h0M288.8 398.1h0M299.9 398.1h0M300.9 398.1h0M302.9 398.1h0M302.9 398.1h0M304.4 398.1h0M309.4 398.1h0M311.9 398.1h0M312.9 398.1h0M316.4 398.1h0M321.9 398.1h0M328.5 398.1h0M330 398.1h0M330 398.1h0M335.5 398.1h0M335.5 398.1h0M336.5 398.1h0M348 398.1h0M393.2 398.1h0M399.2 398.1h0M434.8 398.1h0M484.9 398.1h0M539.1 398.1h0M547.6 398.1h0M567.7 398.1h0M568.7 398.1h0M94.3 399.5h0M100.8 399.5h0M106.8 399.5h0M120.3 399.5h0M142.9 399.5h0M171.5 399.5h0M195.1 399.5h0M196.1 399.5h0M223.6 399.5h0M245.7 399.5h0M246.7 399.5h0M248.2 399.5h0M250.7 399.5h0M264.3 399.5h0M283.8 399.5h0M288.8 399.5h0M290.3 399.5h0M313.9 399.5h0M314.4 399.5h0M319.9 399.5h0M322.9 399.5h0M336.5 399.5h0M341.5 399.5h0M386.1 399.5h0M403.2 399.5h0M478.9 399.5h0M513.5 399.5h0M528.6 399.5h0M532.6 399.5h0M556.1 399.5h0M93.8 401h0M114.8 401h0M129.4 401h0M137.4 401h0M137.9 401h0M161.5 401h0M171.5 401h0M174.5 401h0M187.5 401h0M213.1 401h0M224.1 401h0M236.7 401h0M240.2 401h0M290.8 401h0M291.8 401h0M293.9 401h0M299.4 401h0M300.4 401h0M304.9 401h0M310.4 401h0M311.4 401h0M311.9 401h0M311.9 401h0M313.4 401h0M316.9 401h0M319.9 401h0M333 401h0M333 401h0M335.5 401h0M335.5 401h0M342.5 401h0M356.5 401h0M374.6 401h0M382.1 401h0M472.4 401h0M528.1 401h0M535.1 401h0M540.1 401h0M542.6 401h0M547.1 401h0M550.6 401h0M554.6 401h0M565.2 401h0M567.2 401h0M571.7 401h0M80.2 402.4h0M93.8 402.4h0M113.8 402.4h0M133.9 402.4h0M173.5 402.4h0M183 402.4h0M185.5 402.4h0M194.1 402.4h0M201.1 402.4h0M218.6 402.4h0M265.8 402.4h0M271.3 402.4h0M272.3 402.4h0M283.8 402.4h0M294.4 402.4h0M296.4 402.4h0M297.4 402.4h0M303.4 402.4h0M308.9 402.4h0M309.4 402.4h0M313.4 402.4h0M314.9 402.4h0M320.4 402.4h0M324.9 402.4h0M327.5 402.4h0M332.5 402.4h0M341.5 402.4h0M345 402.4h0M350.5 402.4h0M356 402.4h0M361.6 402.4h0M385.6 402.4h0M414.7 402.4h0M448.8 402.4h0M455.3 402.4h0M463.4 402.4h0M515 402.4h0M519.5 402.4h0M532.1 402.4h0M561.2 402.4h0M132.9 403.8h0M197.6 403.8h0M267.3 403.8h0M269.8 403.8h0M270.3 403.8h0M279.3 403.8h0M291.8 403.8h0M294.9 403.8h0M302.4 403.8h0M302.9 403.8h0M308.9 403.8h0M323.4 403.8h0M329.5 403.8h0M331.5 403.8h0M334.5 403.8h0M336 403.8h0M339.5 403.8h0M340.5 403.8h0M346 403.8h0M370.1 403.8h0M406.2 403.8h0M416.2 403.8h0M419.7 403.8h0M423.7 403.8h0M443.8 403.8h0M452.3 403.8h0M468.9 403.8h0M505.5 403.8h0M519 403.8h0M529.6 403.8h0M537.6 403.8h0M549.6 403.8h0M563.2 403.8h0M564.7 403.8h0M129.4 405.3h0M137.4 405.3h0M139.4 405.3h0M181.5 405.3h0M224.6 405.3h0M228.2 405.3h0M244.2 405.3h0M246.7 405.3h0M272.8 405.3h0M276.3 405.3h0M293.4 405.3h0M300.9 405.3h0M301.4 405.3h0M303.4 405.3h0M304.4 405.3h0M305.9 405.3h0M317.4 405.3h0M317.9 405.3h0M320.4 405.3h0M321.9 405.3h0M321.9 405.3h0M323.4 405.3h0M325.4 405.3h0M331 405.3h0M331 405.3h0M333 405.3h0M341 405.3h0M353.5 405.3h0M368.1 405.3h0M391.6 405.3h0M397.7 405.3h0M425.8 405.3h0M434.3 405.3h0M442.8 405.3h0M455.3 405.3h0M494 405.3h0M524 405.3h0M547.1 405.3h0M558.1 405.3h0M159.5 406.7h0M172.5 406.7h0M191 406.7h0M207.6 406.7h0M213.6 406.7h0M292.9 406.7h0M293.9 406.7h0M303.9 406.7h0M306.4 406.7h0M316.4 406.7h0M320.4 406.7h0M321.9 406.7h0M322.9 406.7h0M335.5 406.7h0M342 406.7h0M342.5 406.7h0M344.5 406.7h0M348.5 406.7h0M349.5 406.7h0M376.1 406.7h0M377.1 406.7h0M382.1 406.7h0M389.6 406.7h0M420.2 406.7h0M457.8 406.7h0M475.9 406.7h0M495.5 406.7h0M507 406.7h0M512 406.7h0M516 406.7h0M522 406.7h0M522.5 406.7h0M90.2 408.2h0M100.3 408.2h0M121.3 408.2h0M155.9 408.2h0M196.6 408.2h0M218.1 408.2h0M228.2 408.2h0M237.2 408.2h0M264.3 408.2h0M278.8 408.2h0M286.8 408.2h0M293.4 408.2h0M304.4 408.2h0M309.9 408.2h0M312.9 408.2h0M314.4 408.2h0M317.9 408.2h0M319.4 408.2h0M320.9 408.2h0M324.4 408.2h0M324.9 408.2h0M326.5 408.2h0M327.5 408.2h0M332 408.2h0M339 408.2h0M343 408.2h0M344.5 408.2h0M347 408.2h0M350 408.2h0M355 408.2h0M356 408.2h0M375.6 408.2h0M442.8 408.2h0M454.8 408.2h0M462.9 408.2h0M468.9 408.2h0M491.9 408.2h0M508 408.2h0M514.5 408.2h0M519.5 408.2h0M540.6 408.2h0M558.1 408.2h0M560.7 408.2h0M563.7 408.2h0M142.4 409.6h0M165.5 409.6h0M173.5 409.6h0M186.5 409.6h0M201.6 409.6h0M217.6 409.6h0M218.1 409.6h0M255.7 409.6h0M282.8 409.6h0M305.4 409.6h0M312.9 409.6h0M317.4 409.6h0M323.4 409.6h0M327.5 409.6h0M337 409.6h0M342 409.6h0M343.5 409.6h0M346 409.6h0M360.6 409.6h0M364.1 409.6h0M367.1 409.6h0M386.6 409.6h0M388.6 409.6h0M389.6 409.6h0M401.7 409.6h0M425.8 409.6h0M474.9 409.6h0M512.5 409.6h0M523.5 409.6h0M528.1 409.6h0M81.2 411.1h0M120.3 411.1h0M185 411.1h0M212.1 411.1h0M262.3 411.1h0M268.8 411.1h0M290.8 411.1h0M302.9 411.1h0M313.9 411.1h0M314.4 411.1h0M324.4 411.1h0M324.9 411.1h0M324.9 411.1h0M337 411.1h0M347 411.1h0M374.1 411.1h0M390.1 411.1h0M406.2 411.1h0M437.3 411.1h0M455.8 411.1h0M464.4 411.1h0M499 411.1h0M510 411.1h0M550.1 411.1h0M553.6 411.1h0M556.1 411.1h0M560.2 411.1h0M117.8 412.5h0M142.9 412.5h0M148.9 412.5h0M175.5 412.5h0M179 412.5h0M181 412.5h0M241.2 412.5h0M246.7 412.5h0M263.3 412.5h0M299.9 412.5h0M299.9 412.5h0M303.9 412.5h0M306.4 412.5h0M307.4 412.5h0M310.9 412.5h0M318.9 412.5h0M319.9 412.5h0M325.4 412.5h0M326 412.5h0M335.5 412.5h0M336.5 412.5h0M343.5 412.5h0M346 412.5h0M360.6 412.5h0M361.1 412.5h0M363.1 412.5h0M365.6 412.5h0M369.1 412.5h0M381.1 412.5h0M398.2 412.5h0M501.5 412.5h0M87.2 414h0M117.3 414h0M148.9 414h0M203.6 414h0M215.1 414h0M217.6 414h0M243.2 414h0M259.8 414h0M274.3 414h0M275.3 414h0M298.9 414h0M300.9 414h0M310.4 414h0M314.4 414h0M334.5 414h0M335.5 414h0M353.5 414h0M364.1 414h0M391.6 414h0M393.2 414h0M394.7 414h0M397.2 414h0M466.9 414h0M469.4 414h0M482.4 414h0M488.9 414h0M512 414h0M513 414h0M519 414h0M524 414h0M531.1 414h0M532.6 414h0M541.1 414h0M566.2 414h0M80.2 415.4h0M86.2 415.4h0M102.3 415.4h0M104.8 415.4h0M128.4 415.4h0M152.4 415.4h0M168 415.4h0M174.5 415.4h0M175 415.4h0M187.5 415.4h0M204.1 415.4h0M211.6 415.4h0M227.7 415.4h0M275.3 415.4h0M300.9 415.4h0M308.9 415.4h0M310.4 415.4h0M311.9 415.4h0M312.9 415.4h0M328.5 415.4h0M332 415.4h0M342.5 415.4h0M408.7 415.4h0M433.8 415.4h0M436.3 415.4h0M442.8 415.4h0M484.4 415.4h0M544.6 415.4h0M554.1 415.4h0M117.3 416.8h0M118.8 416.8h0M157.9 416.8h0M190.5 416.8h0M193.1 416.8h0M202.6 416.8h0M230.7 416.8h0M282.3 416.8h0M307.4 416.8h0M321.9 416.8h0M329.5 416.8h0M336.5 416.8h0M340.5 416.8h0M350 416.8h0M359.1 416.8h0M360.1 416.8h0M365.6 416.8h0M414.7 416.8h0M424.7 416.8h0M425.2 416.8h0M447.3 416.8h0M469.4 416.8h0M472.9 416.8h0M535.1 416.8h0M535.6 416.8h0M570.2 416.8h0M114.3 418.3h0M124.9 418.3h0M160.5 418.3h0M191 418.3h0M192.6 418.3h0M235.2 418.3h0M254.7 418.3h0M286.3 418.3h0M302.9 418.3h0M315.4 418.3h0M320.9 418.3h0M333 418.3h0M337.5 418.3h0M348.5 418.3h0M348.5 418.3h0M364.6 418.3h0M397.7 418.3h0M411.7 418.3h0M425.2 418.3h0M500 418.3h0M504 418.3h0M507 418.3h0M551.6 418.3h0M555.6 418.3h0M113.8 419.7h0M125.4 419.7h0M201.1 419.7h0M259.8 419.7h0M268.3 419.7h0M277.8 419.7h0M289.3 419.7h0M300.4 419.7h0M313.4 419.7h0M327.5 419.7h0M328.5 419.7h0M339.5 419.7h0M339.5 419.7h0M340.5 419.7h0M360.6 419.7h0M364.1 419.7h0M398.7 419.7h0M406.7 419.7h0M419.2 419.7h0M442.3 419.7h0M464.4 419.7h0M524 419.7h0M540.1 419.7h0M543.1 419.7h0M555.1 419.7h0M107.8 421.2h0M118.8 421.2h0M185.5 421.2h0M188.5 421.2h0M217.1 421.2h0M220.1 421.2h0M284.3 421.2h0M286.8 421.2h0M292.9 421.2h0M303.4 421.2h0M312.9 421.2h0M313.4 421.2h0M320.9 421.2h0M326.5 421.2h0M330 421.2h0M331 421.2h0M339.5 421.2h0M340.5 421.2h0M401.2 421.2h0M423.2 421.2h0M427.3 421.2h0M433.3 421.2h0M434.8 421.2h0M474.4 421.2h0M480.4 421.2h0M521 421.2h0M539.6 421.2h0M554.6 421.2h0M84.2 422.6h0M85.2 422.6h0M89.7 422.6h0M120.8 422.6h0M130.9 422.6h0M132.9 422.6h0M144.4 422.6h0M184 422.6h0M200.6 422.6h0M201.1 422.6h0M203.1 422.6h0M209.6 422.6h0M212.6 422.6h0M217.1 422.6h0M258.8 422.6h0M262.3 422.6h0M294.9 422.6h0M299.9 422.6h0M306.9 422.6h0M314.9 422.6h0M320.4 422.6h0M324.4 422.6h0M347 422.6h0M385.1 422.6h0M399.7 422.6h0M418.2 422.6h0M460.4 422.6h0M474.9 422.6h0M562.2 422.6h0M563.2 422.6h0M151.9 424.1h0M189.5 424.1h0M213.6 424.1h0M221.1 424.1h0M250.7 424.1h0M259.8 424.1h0M280.3 424.1h0M314.4 424.1h0M318.4 424.1h0M321.4 424.1h0M325.4 424.1h0M325.4 424.1h0M329.5 424.1h0M343.5 424.1h0M346.5 424.1h0M347 424.1h0M348 424.1h0M358.5 424.1h0M364.1 424.1h0M399.7 424.1h0M431.3 424.1h0M463.9 424.1h0M481.9 424.1h0M554.1 424.1h0M95.3 425.5h0M184 425.5h0M200.6 425.5h0M214.1 425.5h0M230.7 425.5h0M247.7 425.5h0M287.8 425.5h0M293.4 425.5h0M293.4 425.5h0M293.9 425.5h0M302.4 425.5h0M304.9 425.5h0M309.4 425.5h0M311.4 425.5h0M316.9 425.5h0M324.4 425.5h0M326 425.5h0M327 425.5h0M335 425.5h0M339.5 425.5h0M347 425.5h0M354.5 425.5h0M356 425.5h0M367.1 425.5h0M407.7 425.5h0M451.8 425.5h0M465.9 425.5h0M496 425.5h0M564.7 425.5h0M571.2 425.5h0M99.8 427h0M156.9 427h0M246.7 427h0M264.3 427h0M276.3 427h0M281.8 427h0M286.8 427h0M310.9 427h0M314.9 427h0M315.4 427h0M315.9 427h0M326 427h0M333 427h0M334 427h0M347.5 427h0M364.1 427h0M375.6 427h0M405.2 427h0M435.8 427h0M456.8 427h0M475.9 427h0M477.9 427h0M489.4 427h0M496.5 427h0M498.5 427h0M507 427h0M519.5 427h0M525.5 427h0M548.1 427h0M90.2 428.4h0M95.3 428.4h0M150.4 428.4h0M159 428.4h0M173.5 428.4h0M177.5 428.4h0M180.5 428.4h0M216.1 428.4h0M220.6 428.4h0M238.7 428.4h0M283.3 428.4h0M291.3 428.4h0M315.4 428.4h0M316.4 428.4h0M317.9 428.4h0M323.4 428.4h0M323.9 428.4h0M324.4 428.4h0M326 428.4h0M327.5 428.4h0M328 428.4h0M336.5 428.4h0M348 428.4h0M348.5 428.4h0M351 428.4h0M357 428.4h0M359.1 428.4h0M377.6 428.4h0M416.2 428.4h0M476.9 428.4h0M483.9 428.4h0M491.9 428.4h0M557.1 428.4h0M560.2 428.4h0M103.8 429.8h0M128.4 429.8h0M147.9 429.8h0M168.5 429.8h0M183 429.8h0M190 429.8h0M255.2 429.8h0M284.8 429.8h0M287.8 429.8h0M296.4 429.8h0M306.9 429.8h0M307.4 429.8h0M318.4 429.8h0M319.4 429.8h0M332.5 429.8h0M340 429.8h0M347.5 429.8h0M353.5 429.8h0M369.1 429.8h0M371.1 429.8h0M384.1 429.8h0M395.2 429.8h0M399.7 429.8h0M409.2 429.8h0M415.7 429.8h0M430.3 429.8h0M517.5 429.8h0M566.7 429.8h0M87.2 431.3h0M111.3 431.3h0M121.3 431.3h0M147.4 431.3h0M160 431.3h0M183.5 431.3h0M216.6 431.3h0M220.6 431.3h0M242.2 431.3h0M249.7 431.3h0M295.9 431.3h0M310.9 431.3h0M333 431.3h0M337.5 431.3h0M338 431.3h0M474.9 431.3h0M507 431.3h0M525 431.3h0M527.1 431.3h0M547.1 431.3h0M564.7 431.3h0M566.7 431.3h0M83.7 432.7h0M92.3 432.7h0M100.8 432.7h0M101.8 432.7h0M101.8 432.7h0M137.9 432.7h0M174 432.7h0M180.5 432.7h0M193.6 432.7h0M204.6 432.7h0M279.8 432.7h0M291.3 432.7h0M310.9 432.7h0M311.9 432.7h0M313.9 432.7h0M321.9 432.7h0M329 432.7h0M330 432.7h0M332.5 432.7h0M338.5 432.7h0M343 432.7h0M358 432.7h0M404.7 432.7h0M450.3 432.7h0M474.4 432.7h0M496.5 432.7h0M501.5 432.7h0M554.6 432.7h0M124.3 434.2h0M136.9 434.2h0M150.4 434.2h0M176 434.2h0M278.8 434.2h0M287.3 434.2h0M289.8 434.2h0M300.4 434.2h0M305.9 434.2h0M311.9 434.2h0M320.4 434.2h0M321.4 434.2h0M327.5 434.2h0M330 434.2h0M335 434.2h0M339 434.2h0M341.5 434.2h0M341.5 434.2h0M344 434.2h0M355.5 434.2h0M363.1 434.2h0M392.7 434.2h0M468.9 434.2h0M526 434.2h0M529.1 434.2h0M536.1 434.2h0M551.1 434.2h0M551.6 434.2h0M569.7 434.2h0M86.7 435.6h0M94.3 435.6h0M99.3 435.6h0M101.3 435.6h0M171.5 435.6h0M199.1 435.6h0M236.7 435.6h0M267.3 435.6h0M299.4 435.6h0M306.4 435.6h0M318.9 435.6h0M321.9 435.6h0M324.9 435.6h0M327 435.6h0M331.5 435.6h0M334 435.6h0M335.5 435.6h0M349 435.6h0M363.6 435.6h0M374.1 435.6h0M381.1 435.6h0M404.7 435.6h0M424.7 435.6h0M489.9 435.6h0M501.5 435.6h0M507.5 435.6h0M520 435.6h0M520.5 435.6h0M551.1 435.6h0M570.7 435.6h0M84.7 437.1h0M113.8 437.1h0M154.4 437.1h0M181 437.1h0M260.3 437.1h0M262.3 437.1h0M276.3 437.1h0M287.3 437.1h0M294.9 437.1h0M318.4 437.1h0M323.4 437.1h0M326.5 437.1h0M327 437.1h0M333 437.1h0M339.5 437.1h0M340.5 437.1h0M343.5 437.1h0M352 437.1h0M395.7 437.1h0M403.7 437.1h0M442.3 437.1h0M459.9 437.1h0M514 437.1h0M541.6 437.1h0M135.9 438.5h0M156.9 438.5h0M172 438.5h0M180 438.5h0M186.5 438.5h0M313.4 438.5h0M322.9 438.5h0M324.4 438.5h0M331.5 438.5h0M337 438.5h0M399.2 438.5h0M458.3 438.5h0M492.4 438.5h0M521 438.5h0M551.6 438.5h0M571.7 438.5h0M84.2 440h0M112.3 440h0M123.3 440h0M126.4 440h0M139.9 440h0M179.5 440h0M204.1 440h0M230.2 440h0M308.4 440h0M308.9 440h0M322.4 440h0M339 440h0M353 440h0M359.1 440h0M368.1 440h0M405.2 440h0M405.7 440h0M406.2 440h0M406.7 440h0M432.3 440h0M442.8 440h0M509 440h0M511 440h0M521.5 440h0M537.6 440h0M99.8 441.4h0M166 441.4h0M170 441.4h0M200.6 441.4h0M221.6 441.4h0M233.2 441.4h0M305.4 441.4h0M327 441.4h0M369.1 441.4h0M455.8 441.4h0M495 441.4h0M548.6 441.4h0M88.2 442.8h0M129.4 442.8h0M177.5 442.8h0M189.5 442.8h0M205.6 442.8h0M220.1 442.8h0M273.8 442.8h0M277.3 442.8h0M323.9 442.8h0M332.5 442.8h0M346.5 442.8h0M367.1 442.8h0M496.5 442.8h0M507 442.8h0M515 442.8h0M516 442.8h0M523 442.8h0M137.4 444.3h0M187 444.3h0M190.5 444.3h0M237.7 444.3h0M287.8 444.3h0M287.8 444.3h0M298.9 444.3h0M337 444.3h0M342 444.3h0M352.5 444.3h0M392.1 444.3h0M437.3 444.3h0M455.8 444.3h0M466.4 444.3h0M512.5 444.3h0M537.1 444.3h0M538.1 444.3h0M563.2 444.3h0M94.3 445.7h0M104.8 445.7h0M162 445.7h0M215.1 445.7h0M244.7 445.7h0M286.3 445.7h0M292.4 445.7h0M336.5 445.7h0M390.1 445.7h0M441.3 445.7h0M447.3 445.7h0M549.6 445.7h0M87.7 447.2h0M156.9 447.2h0M173 447.2h0M178 447.2h0M195.6 447.2h0M226.7 447.2h0M315.9 447.2h0M318.9 447.2h0M348 447.2h0M367.1 447.2h0M414.7 447.2h0M441.8 447.2h0M454.8 447.2h0M458.3 447.2h0M172 448.6h0M264.3 448.6h0M277.3 448.6h0M282.8 448.6h0M318.4 448.6h0M335.5 448.6h0M374.1 448.6h0M404.2 448.6h0M440.3 448.6h0M497 448.6h0M499 448.6h0M504 448.6h0M504.5 448.6h0M512.5 448.6h0M520 448.6h0M521.5 448.6h0M83.2 450.1h0M112.8 450.1h0M147.9 450.1h0M176 450.1h0M239.2 450.1h0M285.8 450.1h0M285.8 450.1h0M310.9 450.1h0M321.4 450.1h0M322.9 450.1h0M346 450.1h0M379.1 450.1h0M406.2 450.1h0M409.2 450.1h0M499 450.1h0M538.6 450.1h0M563.2 450.1h0M160.5 451.5h0M167.5 451.5h0M178.5 451.5h0M253.2 451.5h0M276.8 451.5h0M288.8 451.5h0M291.8 451.5h0M294.4 451.5h0M319.9 451.5h0M348 451.5h0M386.6 451.5h0M409.7 451.5h0M430.8 451.5h0M432.3 451.5h0M482.9 451.5h0M191 452.9h0M205.6 452.9h0M211.1 452.9h0M279.8 452.9h0M289.8 452.9h0M310.9 452.9h0M332 452.9h0M342 452.9h0M389.1 452.9h0M389.6 452.9h0M430.8 452.9h0M108.8 454.4h0M253.2 454.4h0M286.3 454.4h0M334.5 454.4h0M341.5 454.4h0M351.5 454.4h0M368.6 454.4h0M371.1 454.4h0M407.2 454.4h0M423.7 454.4h0M428.3 454.4h0M476.4 454.4h0M521 454.4h0M129.4 455.8h0M153.9 455.8h0M171 455.8h0M224.6 455.8h0M244.2 455.8h0M286.3 455.8h0M286.3 455.8h0M325.4 455.8h0M422.7 455.8h0M499 455.8h0M166 457.3h0M313.9 457.3h0M316.4 457.3h0M317.9 457.3h0M364.1 457.3h0M386.6 457.3h0M443.8 457.3h0M550.1 457.3h0M94.8 458.7h0M188 458.7h0M376.6 458.7h0M122.8 460.2h0M138.4 460.2h0M170.5 460.2h0M404.7 460.2h0M453.8 460.2h0M458.8 460.2h0M129.4 461.6h0M180 461.6h0M190 461.6h0M333.5 461.6h0M488.4 461.6h0M502.5 461.6h0M544.1 461.6h0M90.2 463.1h0M113.8 463.1h0M248.7 463.1h0M417.2 463.1h0M121.3 464.5h0M140.9 464.5h0M167 464.5h0M440.3 464.5h0M561.2 464.5h0M166.5 465.9h0M218.6 465.9h0M130.4 467.4h0M165.5 467.4h0M188.5 467.4h0M196.6 467.4h0M206.1 467.4h0M208.1 467.4h0M215.6 467.4h0M227.2 467.4h0M452.8 467.4h0M138.9 468.8h0M142.9 468.8h0M178.5 468.8h0M247.7 468.8h0M302.4 468.8h0M311.4 468.8h0M324.4 468.8h0M338.5 468.8h0M356 468.8h0M454.3 468.8h0M541.1 468.8h0M121.3 470.3h0M254.7 470.3h0M345 470.3h0M356 470.3h0M358.5 470.3h0M374.6 470.3h0M442.3 470.3h0M83.2 471.7h0M97.8 471.7h0M272.8 471.7h0M468.9 471.7h0M163 473.2h0M180 473.2h0M412.2 473.2h0M496.5 473.2h0M86.7 474.6h0M103.3 474.6h0M111.8 474.6h0M260.8 474.6h0M324.9 474.6h0M423.7 474.6h0M162 476.1h0M291.8 477.5h0M93.3 478.9h0M262.8 478.9h0M325.4 478.9h0M521 478.9h0M533.6 478.9h0M314.4 480.4h0M319.4 480.4h0M344 480.4h0M517 480.4h0M399.2 481.8h0M405.2 481.8h0M79.2 483.3h0M85.2 483.3h0M294.4 483.3h0M332.5 483.3h0M334 483.3h0M337.5 483.3h0M403.2 483.3h0M543.1 483.3h0M297.9 484.7h0M345.5 484.7h0M350 484.7h0M131.9 486.2h0M355.5 486.2h0M206.1 487.6h0M315.4 487.6h0M331.5 487.6h0M97.3 489.3h0M140.9 489.1h0M335.5 489.1h0M374.1 489.1h0M105.3 490.5h0M317.9 490.5h0M383.1 491.9h0M400.2 491.9h0M113.8 493.4h0M120.8 493.4h0M328 493.4h0M443.8 494.8h0M289.3 496.3h0M453.3 496.3h0M488.4 496.3h0M547.1 496.3h0M557.1 496.3h0M541.1 498h0M137.4 499.5h0M222.6 499.5h0M299.4 499.2h0M314.9 499.2h0M569.2 499.2h0M558.6 500.9h0M568.7 502.3h0M219.1 503.8h0M299.9 506.4h0M310.4 506.4h0M439.8 508.1h0M322.9 509.3h0M503.5 509.6h0M130.9 511h0M363.6 513.6h0M430.3 513.6h0M461.9 513.6h0M535.1 528.1h0M123.8 529.8h0M328 532.4h0M528.6 535.3h0M306.4 536.7h0M383.1 536.7h0M405.7 537h0M214.1 538.5h0M215.1 541.1h0M371.6 545.4h0M241.2 548.6h0M295.4 560.1h0" stroke="#000" stroke-width="1.7" stroke-linecap="round" fill="none"/></g>
<path clip-path="url(#c00)" d="M280.3 580.4V47.5" stroke="#006400" stroke-width="2.25" stroke-dasharray="9 9" stroke-linecap="round" fill="none"/>
<path clip-path="url(#c00)" d="M370.6 580.4V47.5" stroke="#006400" stroke-width="2.25" stroke-dasharray="9 9" stroke-linecap="round" fill="none"/>
<path clip-path="url(#c00)" d="M59.4 311.7H592.3" stroke="#cd1414" stroke-width="2.25" stroke-dasharray="9 9" stroke-linecap="round" fill="none"/>
<rect x="59.4" y="47.5" width="532.9" height="532.9" fill="none" stroke="#000" stroke-opacity=".8" stroke-width=".75"/>
<path d="M124.9 580.4H526M124.9 580.4v6.4M225.2 580.4v6.4M325.4 580.4v6.4M425.8 580.4v6.4M526 580.4v6.4M59.4 57.5V563M59.4 563h-6.4M59.4 490.8h-6.4M59.4 418.6h-6.4M59.4 346.4h-6.4M59.4 274.1h-6.4M59.4 201.9h-6.4M59.4 129.7h-6.4M59.4 57.5h-6.4" fill="none" stroke="#000" stroke-opacity=".8" stroke-width=".75"/>
<g font-family="Liberation Sans, Arial, Helvetica, sans-serif" font-size="10.4" text-anchor="middle" fill="#000">
<text x="124.9" y="602">-400</text>
<text x="225.2" y="602">-200</text>
<text x="325.4" y="602">0</text>
<text x="425.8" y="602">200</text>
<text x="526" y="602">400</text>
<text transform="translate(44.9 563) rotate(-90)">65</text>
<text transform="translate(44.9 490.8) rotate(-90)">70</text>
<text transform="translate(44.9 418.6) rotate(-90)">75</text>
<text transform="translate(44.9 346.4) rotate(-90)">80</text>
<text transform="translate(44.9 274.1) rotate(-90)">85</text>
<text transform="translate(44.9 201.9) rotate(-90)">90</text>
<text transform="translate(44.9 129.7) rotate(-90)">95</text>
<text transform="translate(44.9 57.5) rotate(-90)">100</text>
</g>
<g font-family="Liberation Sans, Arial, Helvetica, sans-serif" font-size="15.9" text-anchor="middle" fill="#000">
<text x="326.3" y="625.7">Distance to peak summit</text>
<text transform="translate(22.2 314.2) rotate(-90)">Motif score</text>
</g>
<text font-family="Liberation Sans, Arial, Helvetica, sans-serif" font-size="21.5" font-weight="bold" text-anchor="middle" x="323.1" y="31.8">Top hit for each peak</text>
<g filter="url(#ramp)"><rect x="699.4" y="47.5" width="532.9" height="532.9" fill="#000"/><rect x="699.4" y="47.5" width="532.9" height="532.9" fill="url(#gx)"/><rect x="699.4" y="47.5" width="532.9" height="532.9" fill="url(#gy)"/></g>
<path clip-path="url(#c10)" d="M916.6 580.4V47.5" stroke="#006400" stroke-width="1.5" stroke-opacity=".88" stroke-dasharray="6 6" stroke-linecap="round" fill="none"/>
<path clip-path="url(#c10)" d="M1014.3 580.4V47.5" stroke="#006400" stroke-width="1.5" stroke-opacity=".88" stroke-dasharray="6 6" stroke-linecap="round" fill="none"/>
<path clip-path="url(#c10)" d="M699.4 311.6H1232.3" stroke="#cd1414" stroke-width="1.5" stroke-opacity=".88" stroke-dasharray="6 6" stroke-linecap="round" fill="none"/>
<rect x="699.4" y="47.5" width="532.9" height="532.9" fill="none" stroke="#000" stroke-opacity=".8" stroke-width=".75"/>
<path d="M748.5 580.4H1182.5M748.5 580.4v6.4M857 580.4v6.4M965.5 580.4v6.4M1074 580.4v6.4M1182.5 580.4v6.4M699.4 115.3V504.8M699.4 504.8h-6.4M699.4 426.9h-6.4M699.4 349h-6.4M699.4 271.1h-6.4M699.4 193.2h-6.4M699.4 115.3h-6.4" fill="none" stroke="#000" stroke-opacity=".8" stroke-width=".75"/>
<g font-family="Liberation Sans, Arial, Helvetica, sans-serif" font-size="10.4" text-anchor="middle" fill="#000">
<text x="748.5" y="602">-400</text>
<text x="857" y="602">-200</text>
<text x="965.5" y="602">0</text>
<text x="1074" y="602">200</text>
<text x="1182.5" y="602">400</text>
<text transform="translate(684.9 504.8) rotate(-90)">70</text>
<text transform="translate(684.9 426.9) rotate(-90)">75</text>
<text transform="translate(684.9 349) rotate(-90)">80</text>
<text transform="translate(684.9 271.1) rotate(-90)">85</text>
<text transform="translate(684.9 193.2) rotate(-90)">90</text>
<text transform="translate(684.9 115.3) rotate(-90)">95</text>
</g>
<g font-family="Liberation Sans, Arial, Helvetica, sans-serif" font-size="15.9" text-anchor="middle" fill="#000">
<text x="966.3" y="625.7">Distance to peak summit</text>
<text transform="translate(662.2 314.2) rotate(-90)">Motif score</text>
</g>
<text font-family="Liberation Sans, Arial, Helvetica, sans-serif" font-size="21.5" font-weight="bold" text-anchor="middle" x="966.5" y="31.8">Density heat map for the top hits</text>
<path d="M79.2 1200.3L80.7 1200.3L82.2 1200.3L83.7 1200.3L85.2 1200.3L86.7 1200.3L88.2 1200.3L89.7 1200.3L91.2 1200.3L92.7 1200.2L94.2 1200.2L95.7 1200.2L97.2 1200.2L98.7 1200.2L100.2 1200.2L101.7 1200.2L103.2 1200.2L104.7 1200.2L106.2 1200.2L107.7 1200.1L109.2 1200.1L110.7 1200.1L112.2 1200.1L113.7 1200.1L115.2 1200.1L116.7 1200L118.2 1200L119.7 1200L121.2 1200L122.7 1200L124.2 1199.9L125.7 1199.9L127.2 1199.9L128.7 1199.8L130.2 1199.8L131.7 1199.8L133.2 1199.7L134.7 1199.7L136.2 1199.6L137.7 1199.6L139.2 1199.5L140.7 1199.5L142.2 1199.4L143.7 1199.3L145.2 1199.1L146.7 1199L148.2 1198.8L149.7 1198.6L151.1 1198.5L152.6 1198.3L154.1 1198L155.6 1197.8L157.1 1197.5L158.6 1197.3L160 1197L161.5 1196.7L163 1196.4L164.4 1196.1L165.9 1195.7L167.4 1195.3L168.8 1194.9L170.2 1194.4L171.6 1193.9L172.9 1193.3L174.3 1192.6L175.6 1191.9L177 1191.2L178.3 1190.4L179.6 1189.7L180.9 1189L182.2 1188.3L183.5 1187.6L184.9 1186.8L186.2 1186.1L187.4 1185.3L188.7 1184.5L190 1183.7L191.3 1183L192.6 1182.2L193.8 1181.3L195.1 1180.5L196.2 1179.5L197.3 1178.5L198.4 1177.5L199.4 1176.4L200.3 1175.2L201.3 1174L202.2 1172.8L203.1 1171.7L204 1170.4L204.9 1169.2L205.7 1168L206.5 1166.7L207.3 1165.4L208.1 1164.2L208.9 1162.9L209.7 1161.6L210.6 1160.4L211.4 1159.1L212.2 1157.9L213.1 1156.6L213.9 1155.4L214.8 1154.1L215.6 1152.9L216.5 1151.7L217.5 1150.6L218.4 1149.4L219.4 1148.3L220.4 1147.2L221.4 1146.1L222.5 1145L223.6 1143.9L224.6 1142.9L225.8 1141.9L226.9 1141L228.1 1140L229.2 1139.1L230.4 1138.1L231.5 1137.1L232.7 1136.1L233.7 1135.1L234.8 1134L235.9 1133L237 1131.9L238 1130.8L239 1129.7L240 1128.6L240.9 1127.4L241.8 1126.3L242.7 1125.1L243.6 1123.9L244.5 1122.6L245.4 1121.4L246.2 1120.2L247.1 1118.9L247.9 1117.7L248.8 1116.5L249.6 1115.2L250.5 1114L251.4 1112.8L252.3 1111.6L253.2 1110.4L254.1 1109.1L255 1107.9L255.9 1106.7L256.8 1105.5L257.7 1104.3L258.6 1103.1L259.5 1101.9L260.4 1100.7L261.3 1099.5L262.2 1098.3L263.1 1097.2L264 1096L264.9 1094.8L265.8 1093.6L266.7 1092.4L267.6 1091.2L268.5 1090L269.4 1088.8L270.3 1087.6L271.2 1086.4L272.1 1085.2L273 1084L273.9 1082.8L274.8 1081.6L275.7 1080.4L276.6 1079.2L277.5 1078L278.4 1076.8L279.3 1075.6L280.2 1074.4L281.1 1073.2L282 1072L282.9 1070.7L283.7 1069.5L284.6 1068.3L285.4 1067L286.3 1065.8L287.1 1064.5L287.9 1063.3L288.7 1062L289.6 1060.8L290.4 1059.5L291.2 1058.3L292.1 1057L292.9 1055.8L293.8 1054.6L294.7 1053.4L295.6 1052.2L296.5 1051L297.4 1049.8L298.3 1048.6L299.3 1047.5L300.3 1046.4L301.3 1045.2L302.3 1044.1L303.3 1043L304.3 1041.9L305.3 1040.7L306.3 1039.6L307.2 1038.5L308.2 1037.3L309.1 1036.1L310 1035L310.9 1033.7L311.8 1032.5L312.7 1031.3L313.5 1030.1L314.3 1028.8L315.2 1027.6L316 1026.3L316.8 1025.1L317.6 1023.8L318.4 1022.5L319.2 1021.2L320 1020L320.8 1018.7L321.6 1017.4L322.4 1016.1L323.2 1014.9L323.9 1013.6L324.7 1012.3L325.4 1011L326.2 1009.7L326.9 1008.3L327.6 1007L328.3 1005.7L329 1004.4L329.6 1003L330.3 1001.7L330.9 1000.3L331.5 998.9L332.2 997.6L332.8 996.2L333.4 994.8L334 993.5L334.6 992.1L335.2 990.7L335.7 989.3L336.3 987.9L336.9 986.5L337.4 985.1L338 983.7L338.5 982.4L339.1 981L339.6 979.5L340.1 978.1L340.6 976.7L341.1 975.3L341.6 973.9L342.1 972.5L342.6 971.1L343.1 969.6L343.6 968.2L344.1 966.8L344.5 965.4L345 964L345.5 962.5L345.9 961.1L346.4 959.7L346.8 958.2L347.3 956.8L347.7 955.4L348.2 953.9L348.6 952.5L349.1 951.1L349.5 949.6L349.9 948.2L350.4 946.8L350.8 945.3L351.2 943.9L351.7 942.5L352.1 941L352.5 939.6L353 938.2L353.4 936.7L353.8 935.3L354.2 933.8L354.6 932.4L355.1 931L355.5 929.5L355.9 928.1L356.3 926.6L356.7 925.2L357.1 923.7L357.6 922.3L358 920.9L358.4 919.4L358.8 918L359.2 916.5L359.6 915.1L360 913.6L360.3 912.2L360.7 910.7L361.1 909.3L361.5 907.8L361.9 906.4L362.3 904.9L362.7 903.5L363.1 902.1L363.6 900.6L364 899.2L364.5 897.8L364.9 896.3L365.4 894.9L365.9 893.5L366.4 892.1L367 890.7L367.5 889.3L368 887.9L368.5 886.5L369.1 885.1L369.6 883.7L370.2 882.3L370.7 880.9L371.3 879.5L371.9 878.1L372.5 876.7L373 875.3L373.6 874L374.2 872.6L374.7 871.2L375.3 869.8L375.8 868.4L376.3 866.9L376.7 865.5L377.2 864.1L377.7 862.7L378.1 861.2L378.6 859.8L379 858.4L379.4 856.9L379.8 855.5L380.2 854L380.6 852.6L381 851.1L381.4 849.7L381.7 848.2L382.1 846.8L382.4 845.3L382.8 843.9L383.1 842.4L383.5 840.9L383.8 839.5L384.2 838L384.5 836.6L384.8 835.1L385.2 833.6L385.5 832.2L385.8 830.7L386.2 829.2L386.5 827.8L386.8 826.3L387.1 824.8L387.4 823.4L387.8 821.9L388.1 820.4L388.4 819L388.8 817.5L389.1 816.1L389.4 814.6L389.8 813.1L390.1 811.7L390.5 810.2L390.9 808.8L391.2 807.3L391.6 805.9L392 804.4L392.3 803L392.7 801.5L393.1 800.1L393.5 798.6L393.9 797.2L394.3 795.7L394.8 794.3L395.2 792.9L395.6 791.4L396.1 790L396.5 788.6L397 787.1L397.5 785.7L397.9 784.3L398.4 782.9L398.9 781.4L399.4 780L399.9 778.6L400.4 777.2L401 775.8L401.5 774.4L402 773L402.6 771.6L403.2 770.2L403.7 768.8L404.3 767.4L404.9 766.1L405.5 764.7L406.1 763.3L406.7 762L407.4 760.6L408 759.2L408.6 757.9L409.3 756.5L409.9 755.2L410.5 753.8L411.2 752.4L411.8 751.1L412.5 749.7L413.1 748.4L413.8 747L414.4 745.7L415 744.3L415.6 742.9L416.2 741.5L416.7 740.2L417.3 738.8L417.8 737.3L418.3 735.9L418.8 734.5L419.3 733.1L419.8 731.7L420.2 730.3L420.7 728.8L421.2 727.4L421.7 726L422.2 724.6L422.7 723.2L423.2 721.7L423.7 720.3L424.2 718.9L424.7 717.5L425.2 716.1L425.8 714.7L426.5 713.3L427.1 711.9L427.9 710.6L428.7 709.3L429.7 708.3L431 707.4L432.4 707.1L433.8 707.8L435 708.7L436 709.7L436.8 710.9L437.6 712.3L438.3 713.7L439.1 715L439.9 716.3L440.7 717.6L441.4 718.8L442.2 720.1L443 721.4L443.8 722.7L444.7 723.9L445.6 725.1L446.6 726.2L447.6 727.3L448.6 728.4L449.5 729.6L450.4 730.8L451.2 732.1L452 733.3L452.8 734.7L453.5 736L454.2 737.3L454.8 738.7L455.3 740.1L455.8 741.5L456.3 742.9L456.8 744.3L457.3 745.8L457.7 747.2L458.1 748.6L458.6 750.1L459 751.5L459.4 753L459.8 754.4L460.2 755.9L460.6 757.3L460.9 758.8L461.3 760.2L461.7 761.7L462.1 763.1L462.4 764.6L462.8 766L463.2 767.5L463.6 768.9L464.1 770.4L464.5 771.8L464.9 773.2L465.3 774.7L465.8 776.1L466.2 777.6L466.7 779L467.2 780.4L467.7 781.8L468.2 783.2L468.8 784.6L469.4 785.9L470.1 787.3L470.8 788.6L471.4 790L472 791.3L472.6 792.7L473.2 794.1L473.7 795.5L474.2 796.9L474.7 798.4L475.1 799.8L475.6 801.2L476 802.7L476.5 804.1L476.9 805.6L477.2 807L477.6 808.5L477.9 809.9L478.2 811.4L478.5 812.8L478.8 814.3L479.1 815.8L479.4 817.3L479.7 818.7L479.9 820.2L480.2 821.7L480.4 823.2L480.7 824.7L480.9 826.1L481.1 827.6L481.3 829.1L481.6 830.6L481.8 832.1L482 833.6L482.2 835L482.4 836.5L482.6 838L482.8 839.5L483 841L483.2 842.5L483.4 844L483.6 845.5L483.8 847L483.9 848.4L484.1 849.9L484.3 851.4L484.5 852.9L484.7 854.4L484.9 855.9L485 857.4L485.2 858.9L485.4 860.4L485.6 861.8L485.7 863.3L485.9 864.8L486.1 866.3L486.3 867.8L486.4 869.3L486.6 870.8L486.8 872.3L486.9 873.8L487.1 875.3L487.3 876.7L487.4 878.2L487.6 879.7L487.7 881.2L487.9 882.7L488.1 884.2L488.2 885.7L488.4 887.2L488.6 888.7L488.7 890.2L488.9 891.7L489 893.2L489.2 894.6L489.4 896.1L489.5 897.6L489.7 899.1L489.8 900.6L490 902.1L490.1 903.6L490.3 905.1L490.4 906.6L490.5 908.1L490.7 909.6L490.8 911.1L490.9 912.6L491.1 914.1L491.2 915.5L491.3 917L491.4 918.5L491.6 920L491.7 921.5L491.8 923L491.9 924.5L492 926L492.1 927.5L492.3 929L492.4 930.5L492.5 932L492.6 933.5L492.7 935L492.8 936.5L493 938L493.1 939.5L493.2 941L493.3 942.5L493.4 944L493.6 945.5L493.7 946.9L493.9 948.4L494 949.9L494.1 951.4L494.3 952.9L494.4 954.4L494.6 955.9L494.8 957.4L494.9 958.9L495.1 960.4L495.2 961.9L495.4 963.4L495.6 964.8L495.8 966.3L495.9 967.8L496.1 969.3L496.3 970.8L496.5 972.3L496.7 973.8L496.8 975.3L497 976.8L497.2 978.3L497.4 979.7L497.6 981.2L497.8 982.7L497.9 984.2L498.1 985.7L498.3 987.2L498.5 988.7L498.7 990.2L498.8 991.7L499 993.1L499.2 994.6L499.4 996.1L499.6 997.6L499.7 999.1L499.9 1000.6L500.1 1002.1L500.3 1003.6L500.5 1005.1L500.7 1006.5L500.8 1008L501 1009.5L501.2 1011L501.4 1012.5L501.6 1014L501.8 1015.5L501.9 1017L502.1 1018.5L502.3 1019.9L502.5 1021.4L502.7 1022.9L502.9 1024.4L503.1 1025.9L503.2 1027.4L503.4 1028.9L503.6 1030.4L503.8 1031.8L504 1033.3L504.2 1034.8L504.4 1036.3L504.5 1037.8L504.7 1039.3L504.9 1040.8L505.1 1042.3L505.3 1043.8L505.5 1045.2L505.6 1046.7L505.8 1048.2L506 1049.7L506.2 1051.2L506.4 1052.7L506.6 1054.2L506.7 1055.7L506.9 1057.2L507.1 1058.6L507.3 1060.1L507.5 1061.6L507.7 1063.1L507.8 1064.6L508 1066.1L508.2 1067.6L508.4 1069.1L508.6 1070.6L508.8 1072L509 1073.5L509.2 1075L509.4 1076.5L509.6 1078L509.8 1079.5L510 1081L510.2 1082.4L510.4 1083.9L510.6 1085.4L510.8 1086.9L511 1088.4L511.2 1089.9L511.4 1091.4L511.6 1092.9L511.8 1094.3L512 1095.8L512.2 1097.3L512.4 1098.8L512.7 1100.3L512.9 1101.8L513.1 1103.2L513.3 1104.7L513.5 1106.2L513.8 1107.7L514 1109.2L514.2 1110.7L514.4 1112.1L514.7 1113.6L514.9 1115.1L515.1 1116.6L515.4 1118.1L515.6 1119.6L515.8 1121L516.1 1122.5L516.3 1124L516.5 1125.5L516.8 1127L517 1128.4L517.3 1129.9L517.5 1131.4L517.8 1132.9L518.1 1134.4L518.3 1135.8L518.6 1137.3L518.9 1138.8L519.2 1140.2L519.5 1141.7L519.8 1143.2L520.1 1144.7L520.4 1146.1L520.7 1147.6L521 1149.1L521.4 1150.5L521.7 1152L522 1153.4L522.4 1154.9L522.7 1156.4L523.1 1157.8L523.5 1159.3L523.8 1160.7L524.2 1162.2L524.6 1163.6L525 1165.1L525.4 1166.5L525.9 1168L526.3 1169.4L526.7 1170.8L527.2 1172.2L527.7 1173.7L528.2 1175.1L528.7 1176.5L529.2 1177.9L529.8 1179.3L530.4 1180.7L531 1182.1L531.6 1183.5L532.2 1184.8L532.9 1186.1L533.6 1187.4L534.4 1188.7L535.3 1190L536.1 1191.3L537.1 1192.5L538 1193.5L539.1 1194.5L540.3 1195.5L541.5 1196.5L542.8 1197.3L544.1 1198L545.5 1198.4L546.9 1198.8L548.4 1199.1L549.9 1199.4L551.4 1199.6L552.9 1199.7L554.4 1199.8L555.9 1199.9L557.4 1200L558.9 1200.1L560.4 1200.1L561.9 1200.2L563.4 1200.2L564.9 1200.2L566.4 1200.3L567.9 1200.3L569.4 1200.3L570.9 1200.3L572.4 1200.3L572.8 1200.3Z" fill="#f5deb3" stroke="#000" stroke-width="1.3" stroke-linejoin="round"/>
<path clip-path="url(#c01)" d="M327.8 1220.4V687.5" stroke="#cd1414" stroke-width="1.5" stroke-opacity=".88" stroke-dasharray="6 6" stroke-linecap="round" fill="none"/>
<rect x="59.4" y="687.5" width="532.9" height="532.9" fill="none" stroke="#000" stroke-opacity=".8" stroke-width=".75"/>
<path d="M166 1220.4H557.5M166 1220.4v6.4M296.5 1220.4v6.4M427 1220.4v6.4M557.5 1220.4v6.4M59.4 707.3V1200.3M59.4 1200.3h-6.4M59.4 1077h-6.4M59.4 953.8h-6.4M59.4 830.5h-6.4M59.4 707.3h-6.4" fill="none" stroke="#000" stroke-opacity=".8" stroke-width=".75"/>
<g font-family="Liberation Sans, Arial, Helvetica, sans-serif" font-size="10.4" text-anchor="middle" fill="#000">
<text x="166" y="1242">70</text>
<text x="296.5" y="1242">80</text>
<text x="427" y="1242">90</text>
<text x="557.5" y="1242">100</text>
<text transform="translate(44.9 1200.3) rotate(-90)">0.00</text>
<text transform="translate(44.9 1077) rotate(-90)">0.02</text>
<text transform="translate(44.9 953.8) rotate(-90)">0.04</text>
<text transform="translate(44.9 830.5) rotate(-90)">0.06</text>
<text transform="translate(44.9 707.3) rotate(-90)">0.08</text>
</g>
<g font-family="Liberation Sans, Arial, Helvetica, sans-serif" font-size="15.9" text-anchor="middle" fill="#000">
<text x="326.3" y="1265.7">Motif score</text>
<text transform="translate(22.2 954.2) rotate(-90)">Density</text>
</g>
<text font-family="Liberation Sans, Arial, Helvetica, sans-serif" font-size="21.5" font-weight="bold" text-anchor="middle" x="326.3" y="671.8">Motif score threshold: 82.400</text>
<path d="M719.2 1200.3L722 1198.5L724.5 1196.2L727 1195.7L729.5 1196L732 1195.3L734.5 1194.8L737 1195.5L739.5 1195.6L742 1195.2L744.5 1195.5L747 1195.7L749.5 1195.5L752 1195.5L754.5 1195.3L757 1194.8L759.5 1194.7L762 1195L764.5 1195.4L767 1195.3L769.5 1194.8L772 1194.5L774.5 1194.8L777 1195L779.5 1195.4L782 1196.3L784.5 1195.4L787 1193.2L789.5 1193L792 1194.3L794.5 1194.9L797 1195.3L799.5 1196.1L802 1196.3L804.5 1195L807 1195.3L809.5 1196.6L812 1196.5L814.5 1195.7L817 1194.5L819.5 1194L822 1194.8L824.5 1194.9L827 1194.2L829.5 1194.3L832 1194.6L834.5 1194.5L837 1194.9L839.5 1195.2L842 1195.1L844.5 1195.1L847 1195.7L849.5 1196.1L852 1195.4L854.5 1195L857 1195.2L859.5 1195.4L862 1195.3L864.5 1195.1L867 1195.4L869.5 1195.1L872 1194.3L874.5 1194.6L880 1195.5L881.2 1195.5L882.4 1195.5L883.6 1195.4L884.8 1195.4L886 1195.3L887.2 1195.3L888.4 1195.2L889.6 1195.2L890.8 1195.1L892 1195L893.2 1194.9L894.4 1194.8L895.6 1194.7L896.8 1194.6L898 1194.5L899.2 1194.4L900.4 1194.3L901.6 1194.2L902.8 1194.1L904 1194L905.2 1193.9L906.4 1193.8L907.6 1193.6L908.8 1193.4L910 1193.2L911.1 1193L912.2 1192.7L913.4 1192.3L914.4 1191.8L915.5 1191.2L916.5 1190.6L917.6 1189.9L918.5 1189.2L919.5 1188.5L920.5 1187.8L921.5 1187.2L922.6 1186.6L923.7 1185.9L924.6 1185.2L925.3 1184.4L926 1183.5L926.6 1182.5L927.1 1181.4L927.6 1180.2L928.1 1179.1L928.6 1177.9L929 1176.8L929.4 1175.7L929.8 1174.5L930.2 1173.4L930.6 1172.3L931 1171.1L931.3 1170L931.7 1168.8L932 1167.7L932.3 1166.5L932.6 1165.3L932.9 1164.1L933.2 1163L933.4 1161.8L933.7 1160.6L933.9 1159.5L934.2 1158.3L934.4 1157.1L934.6 1155.9L934.8 1154.8L935 1153.6L935.2 1152.4L935.4 1151.2L935.6 1150L935.8 1148.8L936 1147.6L936.2 1146.5L936.4 1145.3L936.5 1144.1L936.7 1142.9L936.8 1141.7L937 1140.5L937.2 1139.3L937.3 1138.1L937.5 1136.9L937.6 1135.8L937.7 1134.6L937.9 1133.4L938 1132.2L938.2 1131L938.3 1129.8L938.4 1128.6L938.5 1127.4L938.7 1126.2L938.8 1125L938.9 1123.8L939 1122.6L939.2 1121.4L939.3 1120.2L939.4 1119L939.5 1117.8L939.6 1116.7L939.7 1115.5L939.9 1114.3L940 1113.1L940.1 1111.9L940.2 1110.7L940.3 1109.5L940.4 1108.3L940.5 1107.1L940.6 1105.9L940.7 1104.7L940.8 1103.5L940.9 1102.3L941 1101.1L941.1 1099.9L941.2 1098.7L941.3 1097.5L941.4 1096.3L941.5 1095.1L941.6 1093.9L941.7 1092.7L941.8 1091.5L941.9 1090.4L942 1089.2L942.1 1088L942.2 1086.8L942.3 1085.6L942.4 1084.4L942.5 1083.2L942.6 1082L942.7 1080.8L942.8 1079.6L942.8 1078.4L942.9 1077.2L943 1076L943.1 1074.8L943.2 1073.6L943.3 1072.4L943.4 1071.2L943.5 1070L943.6 1068.8L943.7 1067.6L943.8 1066.4L943.9 1065.2L944 1064L944.1 1062.8L944.2 1061.6L944.3 1060.4L944.4 1059.2L944.5 1058L944.6 1056.9L944.6 1055.7L944.7 1054.5L944.8 1053.3L944.9 1052.1L945 1050.9L945.1 1049.7L945.2 1048.5L945.3 1047.3L945.4 1046.1L945.5 1044.9L945.6 1043.7L945.7 1042.5L945.8 1041.3L945.9 1040.1L945.9 1038.9L946 1037.7L946.1 1036.5L946.2 1035.3L946.3 1034.1L946.4 1032.9L946.4 1031.7L946.5 1030.5L946.6 1029.3L946.7 1028.1L946.7 1026.9L946.8 1025.7L946.9 1024.5L946.9 1023.3L947 1022.1L947.1 1020.9L947.2 1019.7L947.2 1018.5L947.3 1017.4L947.4 1016.2L947.4 1015L947.5 1013.8L947.5 1012.6L947.6 1011.4L947.7 1010.2L947.7 1009L947.8 1007.8L947.9 1006.6L947.9 1005.4L948 1004.2L948 1003L948.1 1001.8L948.2 1000.6L948.2 999.4L948.3 998.2L948.3 997L948.4 995.8L948.4 994.6L948.5 993.4L948.5 992.2L948.6 991L948.6 989.8L948.7 988.6L948.7 987.4L948.8 986.2L948.8 985L948.9 983.8L948.9 982.6L949 981.4L949 980.2L949.1 979L949.1 977.8L949.2 976.6L949.2 975.4L949.3 974.2L949.3 973L949.4 971.8L949.4 970.6L949.5 969.4L949.5 968.2L949.5 967L949.6 965.8L949.6 964.6L949.7 963.4L949.7 962.2L949.7 961L949.8 959.8L949.8 958.6L949.9 957.4L949.9 956.2L949.9 955L950 953.8L950 952.6L950.1 951.4L950.1 950.2L950.1 949L950.2 947.8L950.2 946.6L950.2 945.4L950.3 944.2L950.3 943L950.3 941.8L950.4 940.6L950.4 939.4L950.5 938.2L950.5 937L950.5 935.8L950.5 934.6L950.6 933.4L950.6 932.2L950.6 931L950.7 929.8L950.7 928.6L950.7 927.4L950.8 926.2L950.8 925L950.8 923.8L950.8 922.6L950.9 921.4L950.9 920.2L950.9 919L951 917.8L951 916.6L951 915.4L951 914.2L951.1 913L951.1 911.8L951.1 910.6L951.2 909.4L951.2 908.2L951.2 907L951.2 905.8L951.3 904.6L951.3 903.4L951.3 902.2L951.3 901L951.4 899.8L951.4 898.6L951.4 897.4L951.5 896.2L951.5 895L951.5 893.8L951.5 892.6L951.6 891.4L951.6 890.2L951.6 889L951.7 887.8L951.7 886.6L951.7 885.4L951.8 884.2L951.8 883L951.8 881.8L951.9 880.6L951.9 879.4L951.9 878.2L952 877L952 875.8L952 874.6L952.1 873.4L952.1 872.2L952.2 871L952.2 869.8L952.2 868.6L952.3 867.4L952.3 866.2L952.3 865L952.4 863.8L952.4 862.6L952.5 861.4L952.5 860.2L952.5 859L952.6 857.8L952.6 856.6L952.7 855.4L952.7 854.2L952.7 853L952.8 851.8L952.8 850.6L952.9 849.4L952.9 848.2L953 847L953 845.9L953 844.7L953.1 843.5L953.1 842.3L953.2 841.1L953.2 839.9L953.3 838.7L953.3 837.5L953.4 836.3L953.4 835.1L953.4 833.9L953.5 832.7L953.5 831.5L953.6 830.3L953.6 829.1L953.7 827.9L953.7 826.7L953.8 825.5L953.8 824.3L953.9 823.1L953.9 821.9L954 820.7L954 819.5L954.1 818.3L954.2 817.1L954.2 815.9L954.3 814.7L954.3 813.5L954.4 812.3L954.4 811.1L954.5 809.9L954.5 808.7L954.6 807.5L954.7 806.3L954.7 805.1L954.8 803.9L954.9 802.7L954.9 801.5L955 800.3L955.1 799.1L955.1 797.9L955.2 796.7L955.3 795.5L955.3 794.3L955.4 793.1L955.5 791.9L955.6 790.7L955.6 789.5L955.7 788.3L955.8 787.1L955.9 785.9L955.9 784.7L956 783.5L956.1 782.3L956.2 781.1L956.3 779.9L956.4 778.7L956.4 777.5L956.5 776.3L956.6 775.1L956.7 773.9L956.8 772.8L956.9 771.6L957 770.4L957.1 769.2L957.1 768L957.2 766.8L957.3 765.6L957.4 764.4L957.5 763.2L957.6 762L957.7 760.8L957.8 759.6L957.9 758.4L958 757.2L958.1 756L958.2 754.8L958.3 753.6L958.4 752.4L958.5 751.2L958.6 750L958.7 748.8L958.8 747.6L958.9 746.4L959 745.2L959.1 744L959.2 742.8L959.4 741.7L959.5 740.5L959.6 739.3L959.7 738.1L959.9 736.9L960 735.7L960.2 734.5L960.3 733.3L960.5 732.1L960.6 730.9L960.8 729.7L960.9 728.5L961.1 727.4L961.3 726.2L961.5 725L961.7 723.8L961.9 722.6L962.1 721.4L962.3 720.2L962.5 719.1L962.7 717.9L962.9 716.7L963.2 715.5L963.4 714.4L963.7 713.2L964 712L964.3 710.9L964.7 709.7L965.2 708.5L965.8 707.4L966.5 707.7L967.1 709L967.5 710.1L967.9 711.3L968.2 712.4L968.5 713.6L968.8 714.8L969 716L969.2 717.1L969.4 718.3L969.6 719.5L969.8 720.7L969.9 721.9L970.1 723.1L970.2 724.3L970.4 725.4L970.5 726.6L970.6 727.8L970.8 729L970.9 730.2L971 731.4L971.1 732.6L971.2 733.8L971.3 735L971.5 736.2L971.6 737.4L971.7 738.6L971.8 739.8L971.9 741L972 742.2L972.1 743.4L972.2 744.6L972.3 745.8L972.4 747L972.5 748.2L972.6 749.4L972.7 750.6L972.7 751.8L972.8 753L972.9 754.2L973 755.3L973.1 756.5L973.2 757.7L973.3 758.9L973.3 760.1L973.4 761.3L973.5 762.5L973.6 763.7L973.7 764.9L973.7 766.1L973.8 767.3L973.9 768.5L974 769.7L974.1 770.9L974.2 772.1L974.2 773.3L974.3 774.5L974.4 775.7L974.5 776.9L974.6 778.1L974.6 779.3L974.7 780.5L974.8 781.7L974.9 782.9L975 784.1L975 785.3L975.1 786.5L975.2 787.7L975.3 788.9L975.4 790.1L975.4 791.3L975.5 792.5L975.6 793.7L975.7 794.9L975.7 796.1L975.8 797.3L975.9 798.5L976 799.7L976 800.9L976.1 802.1L976.2 803.2L976.2 804.4L976.3 805.6L976.4 806.8L976.5 808L976.5 809.2L976.6 810.4L976.7 811.6L976.7 812.8L976.8 814L976.9 815.2L976.9 816.4L977 817.6L977.1 818.8L977.2 820L977.2 821.2L977.3 822.4L977.4 823.6L977.4 824.8L977.5 826L977.6 827.2L977.6 828.4L977.7 829.6L977.7 830.8L977.8 832L977.9 833.2L977.9 834.4L978 835.6L978 836.8L978.1 838L978.2 839.2L978.2 840.4L978.3 841.6L978.3 842.8L978.4 844L978.4 845.2L978.5 846.4L978.5 847.6L978.6 848.8L978.6 850L978.7 851.2L978.7 852.4L978.8 853.6L978.8 854.8L978.9 856L978.9 857.2L979 858.4L979 859.6L979.1 860.8L979.1 862L979.2 863.2L979.2 864.4L979.3 865.6L979.3 866.8L979.4 868L979.4 869.2L979.4 870.4L979.5 871.6L979.5 872.8L979.6 874L979.6 875.2L979.6 876.4L979.7 877.6L979.7 878.8L979.7 880L979.8 881.2L979.8 882.4L979.8 883.6L979.8 884.8L979.9 886L979.9 887.2L979.9 888.4L979.9 889.6L979.9 890.8L980 892L980 893.2L980 894.4L980 895.6L980 896.8L980 898L980.1 899.2L980.1 900.4L980.1 901.6L980.1 902.8L980.1 904L980.1 905.2L980.1 906.4L980.2 907.6L980.2 908.8L980.2 910L980.2 911.2L980.2 912.4L980.2 913.6L980.2 914.8L980.2 916L980.3 917.2L980.3 918.4L980.3 919.6L980.3 920.8L980.3 922L980.3 923.2L980.3 924.4L980.4 925.6L980.4 926.8L980.4 928L980.4 929.2L980.4 930.4L980.4 931.6L980.5 932.8L980.5 934L980.5 935.2L980.5 936.4L980.6 937.6L980.6 938.8L980.6 940L980.6 941.2L980.7 942.4L980.7 943.6L980.7 944.8L980.7 946L980.8 947.2L980.8 948.4L980.8 949.6L980.9 950.8L980.9 952L981 953.2L981 954.4L981 955.5L981.1 956.7L981.1 957.9L981.2 959.1L981.2 960.3L981.3 961.5L981.3 962.7L981.4 963.9L981.4 965.1L981.5 966.3L981.5 967.5L981.6 968.7L981.6 969.9L981.7 971.1L981.7 972.3L981.8 973.5L981.8 974.7L981.9 975.9L981.9 977.1L982 978.3L982 979.5L982.1 980.7L982.1 981.9L982.2 983.1L982.2 984.3L982.3 985.5L982.3 986.7L982.4 987.9L982.4 989.1L982.5 990.3L982.5 991.5L982.6 992.7L982.7 993.9L982.7 995.1L982.8 996.3L982.8 997.5L982.9 998.7L982.9 999.9L983 1001.1L983.1 1002.3L983.1 1003.5L983.2 1004.7L983.2 1005.9L983.3 1007.1L983.4 1008.3L983.4 1009.5L983.5 1010.7L983.5 1011.9L983.6 1013.1L983.7 1014.3L983.7 1015.5L983.8 1016.7L983.9 1017.9L983.9 1019.1L984 1020.3L984.1 1021.5L984.1 1022.7L984.2 1023.9L984.3 1025.1L984.3 1026.3L984.4 1027.5L984.5 1028.7L984.5 1029.9L984.6 1031.1L984.7 1032.3L984.7 1033.5L984.8 1034.7L984.9 1035.9L985 1037.1L985 1038.3L985.1 1039.5L985.2 1040.7L985.2 1041.8L985.3 1043L985.4 1044.2L985.5 1045.4L985.5 1046.6L985.6 1047.8L985.7 1049L985.8 1050.2L985.8 1051.4L985.9 1052.6L986 1053.8L986.1 1055L986.2 1056.2L986.2 1057.4L986.3 1058.6L986.4 1059.8L986.5 1061L986.6 1062.2L986.6 1063.4L986.7 1064.6L986.8 1065.8L986.9 1067L987 1068.2L987.1 1069.4L987.2 1070.6L987.2 1071.8L987.3 1073L987.4 1074.2L987.5 1075.4L987.6 1076.6L987.7 1077.8L987.8 1079L987.9 1080.2L988 1081.4L988 1082.6L988.1 1083.7L988.2 1084.9L988.3 1086.1L988.4 1087.3L988.5 1088.5L988.6 1089.7L988.7 1090.9L988.8 1092.1L988.9 1093.3L989 1094.5L989.1 1095.7L989.2 1096.9L989.3 1098.1L989.4 1099.3L989.5 1100.5L989.6 1101.7L989.7 1102.9L989.9 1104.1L990 1105.3L990.1 1106.5L990.2 1107.7L990.3 1108.9L990.4 1110L990.6 1111.2L990.7 1112.4L990.8 1113.6L990.9 1114.8L991.1 1116L991.2 1117.2L991.4 1118.4L991.5 1119.6L991.6 1120.8L991.8 1122L991.9 1123.2L992.1 1124.4L992.2 1125.5L992.4 1126.7L992.5 1127.9L992.7 1129.1L992.9 1130.3L993 1131.5L993.2 1132.7L993.4 1133.9L993.5 1135.1L993.7 1136.2L993.9 1137.4L994.1 1138.6L994.2 1139.8L994.4 1141L994.6 1142.2L994.8 1143.4L995 1144.6L995.2 1145.7L995.4 1146.9L995.6 1148.1L995.8 1149.3L996 1150.5L996.2 1151.7L996.4 1152.9L996.6 1154L996.9 1155.2L997.1 1156.4L997.3 1157.6L997.6 1158.7L997.8 1159.9L998.1 1161.1L998.4 1162.2L998.7 1163.4L999 1164.5L999.3 1165.7L999.6 1166.9L1000 1168L1000.4 1169.2L1000.7 1170.3L1001.1 1171.5L1001.5 1172.6L1001.9 1173.7L1002.4 1174.8L1002.8 1175.9L1003.3 1177L1003.8 1178.1L1004.3 1179.2L1004.8 1180.3L1005.4 1181.4L1006 1182.4L1006.6 1183.4L1007.2 1184.4L1007.9 1185.5L1008.6 1186.5L1009.4 1187.5L1010.2 1188.4L1011 1189.2L1011.9 1189.8L1012.9 1190.5L1013.9 1191.1L1015 1191.7L1016.2 1192.2L1017.4 1192.6L1018.5 1193L1019.7 1193.2L1020.8 1193.4L1022 1193.6L1023.2 1193.7L1024.3 1193.9L1025.5 1194L1026.7 1194.1L1028 1194.2L1029.2 1194.2L1030.4 1194.3L1031.6 1194.4L1032.8 1194.5L1034 1194.5L1035.2 1194.6L1036.4 1194.7L1037.6 1194.8L1038.8 1194.8L1040 1194.9L1041.2 1194.9L1042.4 1195L1043.6 1195.1L1044.8 1195.1L1046 1195.2L1047.2 1195.2L1048.4 1195.3L1049.6 1195.3L1050 1195.3L1054 1195.2L1056.5 1194.8L1059 1194L1061.5 1194.1L1064 1195.9L1066.5 1196.4L1069 1195.6L1071.5 1195.7L1074 1195.5L1076.5 1195.2L1079 1195.6L1081.5 1195.2L1084 1194.6L1086.5 1194.7L1089 1195.2L1091.5 1195.5L1094 1195.3L1096.5 1195L1099 1194.8L1101.5 1194.9L1104 1195.5L1106.5 1195.7L1109 1195.6L1111.5 1195.2L1114 1194.9L1116.5 1196L1119 1196.3L1121.5 1194.2L1124 1193.1L1126.5 1193.9L1129 1195.3L1131.5 1195.9L1134 1196.2L1136.5 1196.1L1139 1195.7L1141.5 1195.4L1144 1195.5L1146.5 1195.3L1149 1194.6L1151.5 1194.6L1154 1195.8L1156.5 1196.2L1159 1194.9L1161.5 1194.1L1164 1194.8L1166.5 1195.6L1169 1195.8L1171.5 1195.4L1174 1194.8L1176.5 1195.7L1179 1195.8L1181.5 1194.7L1184 1195.2L1186.5 1196.1L1189 1196L1191.5 1196.7L1194 1197.2L1196.5 1196.1L1199 1194.9L1201.5 1194.8L1204 1195.4L1207.5 1196.2L1210 1198.5L1212.8 1200.3Z" fill="#f5deb3" stroke="#000" stroke-width="1.3" stroke-linejoin="round"/>
<path clip-path="url(#c11)" d="M921.2 1220.4V687.5" stroke="#006400" stroke-width="1.5" stroke-opacity=".88" stroke-dasharray="6 6" stroke-linecap="round" fill="none"/>
<path clip-path="url(#c11)" d="M1009.8 1220.4V687.5" stroke="#006400" stroke-width="1.5" stroke-opacity=".88" stroke-dasharray="6 6" stroke-linecap="round" fill="none"/>
<rect x="699.4" y="687.5" width="532.9" height="532.9" fill="none" stroke="#000" stroke-opacity=".8" stroke-width=".75"/>
<path d="M768.7 1220.4H1162.3M768.7 1220.4v6.4M867.1 1220.4v6.4M965.5 1220.4v6.4M1063.9 1220.4v6.4M1162.3 1220.4v6.4M699.4 726.3V1200.3M699.4 1200.3h-6.4M699.4 1121.3h-6.4M699.4 1042.3h-6.4M699.4 963.3h-6.4M699.4 884.3h-6.4M699.4 805.3h-6.4M699.4 726.3h-6.4" fill="none" stroke="#000" stroke-opacity=".8" stroke-width=".75"/>
<g font-family="Liberation Sans, Arial, Helvetica, sans-serif" font-size="10.4" text-anchor="middle" fill="#000">
<text x="768.7" y="1242">-400</text>
<text x="867.1" y="1242">-200</text>
<text x="965.5" y="1242">0</text>
<text x="1063.9" y="1242">200</text>
<text x="1162.3" y="1242">400</text>
<text transform="translate(684.9 1200.3) rotate(-90)">0.000</text>
<text transform="translate(684.9 1121.3) rotate(-90)">0.002</text>
<text transform="translate(684.9 1042.3) rotate(-90)">0.004</text>
<text transform="translate(684.9 963.3) rotate(-90)">0.006</text>
<text transform="translate(684.9 884.3) rotate(-90)">0.008</text>
<text transform="translate(684.9 805.3) rotate(-90)">0.010</text>
<text transform="translate(684.9 726.3) rotate(-90)">0.012</text>
</g>
<g font-family="Liberation Sans, Arial, Helvetica, sans-serif" font-size="15.9" text-anchor="middle" fill="#000">
<text x="966.3" y="1265.7">Distance to peak summit</text>
<text transform="translate(662.2 954.2) rotate(-90)">Density</text>
</g>
<text font-family="Liberation Sans, Arial, Helvetica, sans-serif" font-size="21.5" font-weight="bold" text-anchor="middle" x="966" y="671.8">Enrichment zone: 90.00</text>
<path d="M1016.9 703.5H1041" stroke="#006400" stroke-width="1" stroke-dasharray="1 2" fill="none"/>
<path d="M1016.9 719.1H1041" stroke="#ff0000" stroke-width="1" stroke-dasharray="1 2" fill="none"/>
<circle cx="1028.8" cy="734.6" r="3" fill="#0000ff"/>
<g font-family="Liberation Sans, Arial, Helvetica, sans-serif" font-size="12.9" fill="#000">
<text x="1052.1" y="707.8">enrichment zone = 90</text>
<text x="1052.1" y="723.7">motif score threshold = 82.400</text>
<text x="1052.1" y="739.1">centrality p-val = -79.5703</text>
</g>
</svg></body></html>
